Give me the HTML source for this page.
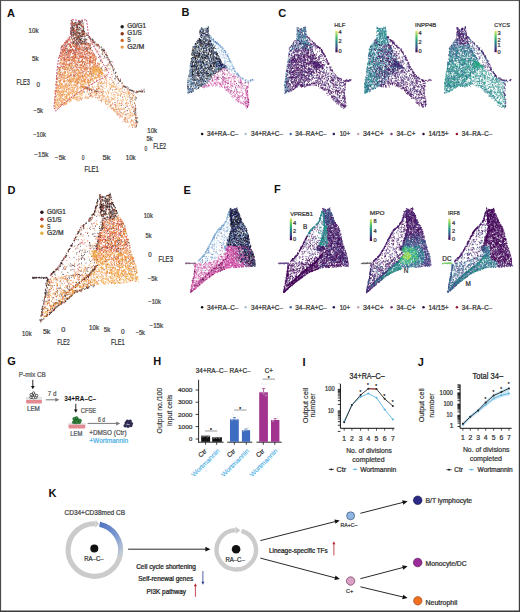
<!DOCTYPE html>
<html><head><meta charset="utf-8"><style>
html,body{margin:0;padding:0;background:#fff;width:520px;height:612px;overflow:hidden}
svg{display:block;font-family:"Liberation Sans", sans-serif}
</style></head><body>
<svg width="520" height="612" viewBox="0 0 520 612">
<rect x="0" y="0" width="520" height="612" fill="#fff"/>
<g fill="none" stroke-width="8" transform="scale(.1)"><path stroke="#3a2626" d="M708 204h8m-7 3h8m102 1h8m-107 4h8m-7 7h8m56-5h8m-6 1h8m-5 4h8m0-8h8m-1 4h8m-7-1h8m5-3h8m-5-1h8m-112 13h8m-4 3h8m15 2h8m-1-5h8m-6 0h8m4 1h8m6-4h8m0 6h8m-7 0h8m5-1h8m-3 0h8m-110 13h8m-5-2h8m10 0h8m-7-2h8m0 5h8m-5-5h8m-3-1h8m-2 0h8m23 3h8m4 0h8m3 2h8m-8 0h8m15-6h8m-114 11h8m0 6h8m6 0h8m0-1h8m0-6h8m-5 7h8m-8-9h8m1 6h8m-6-3h8m2 3h8m-6 1h8m-5-7h8m-5 6h8m-7 1h8m9-6h8m10 0h8m-120 18h8m3-6h8m-1 3h8m3-1h8m0-4h8m2 5h8m-2-2h8m-7 3h8m23 0h8m0-6h8m-4 5h8m-104 11h8m-2-3h8m-3-2h8m7-1h8m13 1h8m0 7h8m-4-6h8m32 2h8m-7 3h8m-3 0h8m1 0h8m-6-6h8m-135 14h8m2 0h8m-4 0h8m-8-4h8m-1 7h8m-5-3h8m21-5h8m-2 7h8m-7-6h8m-6-1h8m-1 3h8m-7 0h8m8 3h8m-6-1h8m-7-1h8m31-1h8m-138 9h8m16 4h8m-8-6h8m-5 4h8m5-2h8m20-3h8m-8 6h8m7 0h8m9-3h8m24 2h8m-7 3h8m-133 4h8m-4-2h8m-6 7h8m-6-7h8m-1 1h8m-6 6h8m-3 1h8m-5 0h8m18-2h8m-5 1h8m-4-4h8m-1 5h8m-5-6h8m-7 3h8m2 0h8m16-5h8m11 6h8m-138 4h8m2 8h8m-3-1h8m-4-5h8m-4 6h8m-5-7h8m11 1h8m4 4h8m10 0h8m0 1h8m4-7h8m2 4h8m-3 4h8m4-4h8m-6-1h8m-7 2h8m-8-1h8m1 4h8m-140 7h8m21 3h8m-7 1h8m2-8h8m-6 0h8m2 6h8m7 1h8m39-3h8m-2-1h8m-8-3h8m-6 5h8m-3-3h8m-4 4h8m-5-2h8m-7 3h8m-146 10h8m-4-7h8m-3 2h8m-6-3h8m3 3h8m-1 4h8m-6-6h8m-5 5h8m3 1h8m5-6h8m-8 3h8m-6 2h8m1-4h8m-2 0h8m-1 5h8m-6 2h8m2 0h8m9-8h8m-4 7h8m1-8h8m6 6h8m-146 7h8m1 1h8m-6 3h8m5-7h8m3 7h8m1-2h8m-7 2h8m0 2h8m-4-8h8m-7 8h8m6-6h8m2 0h8m-8-3h8m-7 6h8m-4-1h8m-8 2h8m-5-6h8m2 1h8m-5 2h8m9-4h8m-3 3h8m-4-3h8m-3 5h8m0 4h8m5-8h8m-3 8h8m-159 2h8m-3 3h8m4 4h8m-6 0h8m-2-8h8m2 7h8m-8-3h8m-2-4h8m5 6h8m15-6h8m1 3h8m9 5h8m-5-4h8m-4-2h8m-6 1h8m0 2h8m-7-4h8m-5 3h8m-4 5h8m-6-7h8m30-2h8m-176 12h8m-7-1h8m-5 7h8m-2-7h8m3 0h8m-5 1h8m9 3h8m5-3h8m3 7h8m-6-1h8m2-3h8m-5-5h8m2 5h8m11-2h8m22 6h8m6-6h8m-4-3h8m-6 4h8m-150 12h8m26-6h8m0 8h8m-1-6h8m-4 0h8m-4 6h8m4-6h8m-6-1h8m-7 4h8m-3-1h8m-2 1h8m-7-2h8m-4-3h8m-2 7h8m-4-3h8m6-3h8m-3 4h8m36 0h8m-3-1h8m-213 12h8m16-6h8m-7 8h8m25 1h8m-7-3h8m1-2h8m-6 1h8m-7 2h8m-2-3h8m0 2h8m-2-1h8m0-2h8m-7-1h8m-3 5h8m-1-5h8m71 3h8m3-4h8m-184 15h8m7 0h8m-4-5h8m1 7h8m-8-2h8m14 1h8m-5 2h8m-5-7h8m1-1h8m-2 0h8m-7 5h8m-1 3h8m4 0h8m-1-6h8m-1-2h8m16 0h8m-2 8h8m37-9h8m0 3h8m8 4h8m-205 7h8m31 1h8m-4 1h8m-7-4h8m-3 7h8m6-8h8m-4 8h8m-7 0h8m-4-4h8m0 1h8m-8-2h8m-5 5h8m-8-7h8m19 0h8m-1 6h8m-4 0h8m5 0h8m-8-8h8m-5 5h8m-1-1h8m28-3h8m-5 1h8m-5 1h8m4 3h8m-269 11h8m75 1h8m1-4h8m24 4h8m5-1h8m-7-3h8m-5-4h8m-3 4h8m-6 0h8m-7-3h8m38 4h8m43-4h8m10 4h8m-6-4h8m-7 3h8m-3-4h8m-215 10h8m3 6h8m15 0h8m-2-2h8m7 0h8m1 2h8m21 2h8m-3-4h8m-7-1h8m-2 1h8m4 1h8m-6-3h8m-4-1h8m72 3h8m12 4h8m-300 6h8m9 2h8m29-1h8m10-5h8m-8 6h8m-3-5h8m-7 8h8m-2-2h8m-1-5h8m6 5h8m-2-1h8m-4-4h8m0 6h8m7-5h8m-7 6h8m-5-7h8m1-2h8m-8 3h8m-6 3h8m6 3h8m8-8h8m13 7h8m-4-7h8m56-1h8m-6 4h8m-4 1h8m0-3h8m-5 0h8m-295 17h8m61-3h8m-4 0h8m-2 1h8m7-2h8m11-1h8m5 2h8m11 2h8m0-5h8m-5 4h8m-8-3h8m-1-3h8m4 8h8m-7-9h8m0 1h8m-3 0h8m-6 6h8m-5 1h8m-5-8h8m19 5h8m11 3h8m38-5h8m-277 10h8m12 1h8m-5 0h8m47 4h8m-2-8h8m-5 1h8m-7-1h8m-3 7h8m2-4h8m10 3h8m40-5h8m4 5h8m16-5h8m6 6h8m54-1h8m-2-4h8m-7 2h8m8 1h8m-366 12h8m9-1h8m56 1h8m66 1h8m7 0h8m96-2h8m60-5h8m-1 0h8m-8 2h8m-7-2h8m-4 7h8m-330 5h8m-4-2h8m-3-1h8m30 0h8m21 6h8m6-2h8m8-4h8m-5 6h8m20 3h8m56-3h8m75-6h8m21 1h8m15 3h8m11 5h8m-404 7h8m89-3h8m76 6h8m37-8h8m14 5h8m17-5h8m13 3h8m79 3h8m6-1h8m-365 11h8m9-4h8m80 3h8m65-4h8m14 3h8m0-2h8m5 6h8m-5-3h8m16 1h8m-7-5h8m-6 1h8m-266 9h8m16 7h8m45-6h8m18-1h8m-2-2h8m5 0h8m22 6h8m35-2h8m3 2h8m9 1h8m2-3h8m131-2h8m-7 0h8m-2 4h8m-7 2h8m2-8h8m-5 6h8m-424 7h8m28 4h8m12-2h8m-6 4h8m13-4h8m-2 2h8m50-2h8m9-5h8m25 2h8m10-1h8m28 3h8m43 5h8m84-8h8m1 1h8m4 4h8m-3-1h8m-6 0h8m-7 3h8m-374 7h8m50-3h8m287 2h8m0-4h8m-386 19h8m-3-5h8m67 4h8m140-3h8m-1-2h8m121 6h8m13-1h8m8 1h8m-390 8h8m43-2h8m14-3h8m20 7h8m13-3h8m85 2h8m3-4h8m106 4h8m-378 2h8m12 3h8m73 0h8m-4 4h8m264-2h8m19-1h8m-2 5h8m-3-2h8m-375 11h8m96-6h8m189 0h8m60 7h8m-5-6h8m-6 6h8m-330 8h8m-4-6h8m247 4h8m26 4h8m-4-7h8m-424 15h8m35-3h8m86 5h8m39-3h8m33-4h8m7 4h8m108-2h8m68 2h8m5-1h8m-5-3h8m-355 10h8m310-1h8m-333 17h8m55-7h8m284 8h8m-5-9h8m4 9h8m-461 3h8m90 3h8m41 0h8m209 3h8m-176 8h8m50-5h8m103 0h8m81 8h8m-7-8h8m-5 3h8m3 0h8m-322 8h8m23 7h8m82-9h8m173 4h8m-262 14h8m103-4h8m134-2h8m2 0h8m-420 8h8m139 6h8m143 3h8m78-6h8m21 4h8m-4-3h8m-426 13h8m368 0h8m32-2h8m-483 8h8m188 0h8m115 1h8m159-3h8m-5 0h8m-422 12h8m14-2h8m277 8h8m104-5h8m-545 12h8m24-5h8m70 5h8m142 0h8m48-1h8m85-1h8m6 0h8m42-1h8m51-2h8m-538 14h8m389 1h8m53-3h8m71 4h8m-2 1h8m-1-8h8m-453 12h8m36 2h8m273-3h8m99 4h8m-256 12h8m13 1h8m221-8h8m-535 18h8m407 1h8m124-6h8m-1 1h8m-592 14h8m348-8h8m210 8h8m-6-7h8m-570 10h8m136 7h8m169-8h8m-3 8h8m61-7h8m-372 9h8m79 2h8m23 6h8m78-4h8m96 4h8m217 0h8m-409 5h8m285-3h8m102 8h8m8-4h8m-7 2h8m-15 10h8m-26 8h8m17-2h8m-605 12h8m566-3h8m24 8h8m-7-2h8m12 2h8m-396 1h8m79 2h8m278 1h8m1 4h8m-1-5h8m-522 10h8m498 5h8m-3-2h8m-2-3h8m-648 12h8m201 2h8m101-2h8m236-2h8m84 7h8m-47 2h8m-595 18h8m90 4h8m108 8h8m14 4h8m3-1h8m129-4h8m22 0h8m219 2h8m-7 6h8m-8-8h8m0 2h8m-7 6h8m3 0h8m7 1h8m-451 6h8m-7-1h8m-7 1h8m10-4h8m4 7h8m-6-7h8m8 4h8m4 3h8m324 1h8m19-7h8m-5 2h8m4-2h8m-417 9h8m-4 0h8m-4 1h8m0 1h8m-8-3h8m-8 4h8m-5 1h8m15 2h8m78-5h8m112 7h8m50 0h8m115-9h8m-420 18h8m13-1h8m-1-2h8m2-2h8m44 5h8m305-8h8m8 9h8m140-7h8m-553 16h8m10 0h8m-4-6h8m29 4h8m161-6h8m166 0h8m-6 1h8m-5 0h8m-3 0h8m-1 6h8m-7 0h8m-7-6h8m1 4h8m81-5h8m7 8h8m-493 5h8m-2 2h8m-5 3h8m-1-5h8m-1-1h8m-5 3h8m1-1h8m336-3h8m4 3h8m-3-3h8m21 6h8m2 2h8m-7-3h8m2-5h8m-8 0h8m0 3h8m-4 1h8m-5-3h8m-3 5h8m-4 2h8m0-2h8m-6-2h8m12-2h8m-610 8h8m92-1h8m17 0h8m39 3h8m312 6h8m9-3h8m5-5h8m-3 1h8m0-2h8m35 0h8m13 0h8m-546 15h8m53-2h8m51-3h8m-145 11h8m311 18h8m81 0h8m32-1h8m-41 20h8m11-2h8m28-5h8m-3 6h8m-52 12h8m26 0h8m3-7h8m-62 13h8m41 6h8m-276 11h8m211 5h8m-167 8h8m188 6h8m-6 6h8m-246 22h8m98-7h8m130 6h8m-94 2h8m57 7h8m-88 8h8m91 11h8m-6 2h8m-197 9h8m175-3h8m4-4h8m-96 16h8m-8 1h8m69 1h8m-4-6h8m-8 3h8m-26 11h8m15 2h8m-156 6h8m138 4h8m-17 4h8m-7 0h8m-105 12h8m89 3h8m1-2h8m-6 8h8m-8 20h8m-8 0h8m-110 13h8m93-6h8m-5 8h8m2-7h8m-22 25h8m1-2h8m-12 15h8m-6-4h8m0-1h8m-10 13h8m1-5h8m-21 8h8m-9 24h8m-12 15h8m-6-6h8m-21 9h8"/><path stroke="#cc4a36" d="M712 207h8m-13 21h8m5 1h8m-7-1h8m76-6h8m-7 4h8m11 1h8m-116 9h8m10-3h8m-2-3h8m-6 8h8m15-1h8m5-6h8m-6 0h8m4 8h8m-92 10h8m28-4h8m10 4h8m-4-6h8m-4 0h8m-5-3h8m23 6h8m-89 12h8m3-2h8m20-4h8m37 0h8m-30 16h8m26-1h8m-7-3h8m-89 7h8m7 1h8m-3 5h8m64-6h8m-78 18h8m31-2h8m12-6h8m-54 15h8m-68 5h8m3 8h8m-4-2h8m-1-1h8m-5-5h8m-7 1h8m2 5h8m73 1h8m-114 4h8m11 7h8m-5-9h8m-3 9h8m61-9h8m-67 10h8m18 2h8m17 3h8m-7 0h8m-120 11h8m-4 0h8m-8-4h8m39 1h8m75-2h8m0 2h8m-148 13h8m11-4h8m0 4h8m30-6h8m-6 1h8m28 7h8m19-1h8m30-1h8m-150 12h8m8-8h8m-4 1h8m61 5h8m-124 12h8m7-8h8m36 1h8m12 6h8m-1-2h8m17-4h8m7 0h8m6 4h8m-124 6h8m6 7h8m12-3h8m-80 14h8m-6-1h8m72-2h8m2-6h8m107 3h8m-6-2h8m-229 10h8m8 7h8m-4-5h8m29 2h8m1 1h8m-4 2h8m108 1h8m-206 1h8m-4 5h8m5 3h8m-4-1h8m25-7h8m10 2h8m-2 2h8m11 1h8m11-1h8m0 0h8m15-3h8m5 8h8m85-3h8m0 0h8m-278 7h8m7 1h8m-8 3h8m-4-5h8m19 0h8m23 2h8m1 1h8m51-2h8m5-3h8m30 0h8m-221 17h8m-1-3h8m-6-4h8m3 2h8m31 4h8m9-3h8m36 0h8m-3 5h8m7-8h8m137 4h8m3 0h8m-299 12h8m-6-4h8m24 6h8m-2 0h8m0-3h8m14-4h8m-7 5h8m-3 2h8m27 1h8m15-7h8m18 4h8m14-4h8m-7 5h8m34-7h8m-7 6h8m-1-3h8m3 1h8m22-3h8m-298 11h8m29-2h8m10 4h8m0 3h8m3-2h8m32-1h8m-2-2h8m16-1h8m2 4h8m18 1h8m-6-1h8m-3 0h8m1-2h8m10-1h8m-3 4h8m-6 1h8m2-6h8m-3-1h8m-5 8h8m-6 1h8m5 0h8m48-9h8m16 3h8m-7 6h8m-7-6h8m-346 14h8m0-6h8m-2 2h8m10 3h8m4-4h8m17 7h8m-7-1h8m-8-4h8m24 0h8m13 5h8m-6-3h8m5-2h8m-7 2h8m-7-2h8m110 0h8m4-2h8m-5 7h8m-8 0h8m41-8h8m15 5h8m-4-5h8m-2 7h8m-4-4h8m-382 13h8m-6-5h8m-7 1h8m-7 1h8m-6 5h8m-6-3h8m36-3h8m18-1h8m6 6h8m-6 0h8m-7-2h8m9-6h8m12 9h8m6-2h8m-8-1h8m-5-4h8m-5-2h8m7 2h8m17 0h8m1 7h8m2-1h8m12-6h8m39 1h8m90 4h8m-391 11h8m31-4h8m3 5h8m-7-8h8m35 2h8m-7-1h8m-2 2h8m-6 0h8m-5 2h8m23-5h8m3 4h8m-3 0h8m-6 4h8m-3-4h8m-2-5h8m36 7h8m13-2h8m-6 2h8m22-6h8m-7 4h8m2 0h8m-1 0h8m-287 13h8m15 1h8m6-9h8m-4 0h8m4 9h8m-7-4h8m19 4h8m72 0h8m-6-6h8m5 4h8m-7-1h8m-3-2h8m-6-4h8m-2 1h8m-7-1h8m-4 9h8m38-9h8m-2 4h8m-3 4h8m24-3h8m89-1h8m-388 9h8m-1 4h8m2-6h8m0 2h8m-5-2h8m10 3h8m8-3h8m2 8h8m6-2h8m4-2h8m-5 1h8m5-5h8m-7 4h8m-7 0h8m-2 0h8m25-5h8m5 1h8m1 4h8m-2-5h8m14 6h8m5-2h8m62-3h8m-3 6h8m-303 4h8m8 6h8m-2 2h8m1-7h8m-6 2h8m-5-4h8m-7 2h8m-5 1h8m37 0h8m-4 4h8m5-4h8m2-3h8m-1 1h8m-6 7h8m-6-3h8m8-3h8m-8 7h8m-7 0h8m-4-1h8m-3-6h8m-6 0h8m19-1h8m-3 0h8m23 1h8m-4 4h8m-5-1h8m2 0h8m16-2h8m-4 5h8m-7-7h8m-8 7h8m16-7h8m19 4h8m-300 9h8m-1-1h8m-6 4h8m-8-1h8m8-5h8m-6 8h8m13-6h8m3 4h8m-5-4h8m-6 1h8m-6-3h8m0 3h8m5-2h8m-7-1h8m-7 2h8m15 6h8m-7-3h8m2 2h8m3-1h8m10-4h8m-6 6h8m2-4h8m41-4h8m6 2h8m-4 6h8m0-4h8m0-4h8m141-1h8m16 9h8m-448 3h8m7 0h8m2-2h8m-3 0h8m7 9h8m16-6h8m-5 6h8m-5-5h8m-4-2h8m5 4h8m-5-3h8m-1 0h8m-2-3h8m14 9h8m-3-2h8m6-1h8m1 1h8m-6-7h8m17 3h8m-1-1h8m-4 0h8m0 1h8m-2 3h8m-5-4h8m9 7h8m-4-7h8m27-1h8m-4 1h8m26 5h8m5 2h8m106-4h8m-449 5h8m-6 1h8m-6 1h8m6 4h8m-5-5h8m15 2h8m-7 1h8m6 5h8m22-4h8m8-4h8m12 4h8m-5-3h8m17 0h8m23 2h8m2-3h8m-3 7h8m16 1h8m12-7h8m9 2h8m-2 1h8m-2-3h8m14-2h8m-7 0h8m5 3h8m-4-1h8m13-1h8m-4 7h8m-331 10h8m5-3h8m-3 2h8m8 0h8m6-4h8m11-3h8m0 2h8m7 6h8m16-8h8m5 2h8m-6 5h8m-5-4h8m-5 1h8m19 3h8m33 1h8m-2-7h8m7 8h8m-2-4h8m-1-4h8m-3 4h8m5-2h8m-7-2h8m45 8h8m-5-9h8m-6 9h8m5-4h8m111-4h8m-468 16h8m15 1h8m4-3h8m0 3h8m15-2h8m-6 1h8m10-5h8m-6-2h8m41 5h8m9-1h8m-7 4h8m18-6h8m5 1h8m13 6h8m5-7h8m14-2h8m13 9h8m5-5h8m-3 3h8m25-4h8m1-1h8m3-2h8m-6 1h8m110 0h8m3 5h8m-482 10h8m-4-4h8m-3-1h8m3 1h8m15 7h8m1-9h8m17 9h8m1-2h8m-4-5h8m28 2h8m-4 3h8m-6-6h8m16 0h8m-2 2h8m6 4h8m7-3h8m-4 1h8m-5 4h8m0-1h8m-5 1h8m-5-1h8m-3-1h8m-2-4h8m-5-3h8m-2 5h8m-8 2h8m-6-6h8m-6 4h8m-1 4h8m1-3h8m1 2h8m34-1h8m-5-3h8m2 5h8m27-7h8m-365 13h8m-5-5h8m26 6h8m-5 3h8m2 0h8m-6-1h8m14-3h8m-6-3h8m-2-2h8m-1 5h8m3-5h8m-2 4h8m-7 5h8m10-4h8m-3-2h8m2 6h8m-8-7h8m5 7h8m1-4h8m-7 2h8m15 2h8m12-6h8m-6 4h8m3-5h8m5 4h8m3 3h8m-6-1h8m8-4h8m31-4h8m-3 6h8m-3-2h8m-7-1h8m-8 4h8m-7-7h8m3 2h8m6 5h8m1-7h8m-6 2h8m13-2h8m-364 15h8m0 4h8m1-1h8m5-4h8m0 0h8m9 4h8m-7 1h8m18-2h8m24-5h8m9 4h8m-2-6h8m-3 0h8m4 2h8m14 6h8m-6-2h8m1-3h8m28 1h8m7-1h8m-3 4h8m3-3h8m-4-3h8m2 2h8m3-1h8m-6 3h8m-5-2h8m2 4h8m-6 0h8m8 2h8m-4-8h8m22 2h8m0 4h8m62-3h8m41 2h8m-453 12h8m0-3h8m-5 1h8m-6-5h8m-5 4h8m-3-2h8m11-1h8m-6 3h8m5 4h8m-7-8h8m-5 2h8m24-1h8m5 5h8m-4-5h8m72 3h8m-7-2h8m41-2h8m24-1h8m-8 9h8m17-3h8m-1-5h8m10 6h8m-1-7h8m109 3h8m-475 9h8m-5 1h8m21-2h8m19 1h8m7 3h8m-4 0h8m-3 3h8m-4-7h8m39 3h8m60 4h8m-5 0h8m-3 1h8m43-4h8m-8 2h8m-4-1h8m5-5h8m-7 1h8m5 2h8m15 2h8m-2-2h8m11 4h8m-7-1h8m125-7h8m-434 12h8m41 2h8m11-3h8m-3 4h8m39-5h8m-6 1h8m19 3h8m-6 1h8m3 2h8m-1 2h8m-8-5h8m-1 2h8m26-1h8m13-1h8m-2-2h8m-7 3h8m-7-2h8m-8 3h8m-6 1h8m-4 1h8m6-1h8m-6-6h8m-8 8h8m11 0h8m-319 8h8m26-5h8m20 6h8m23-3h8m18-3h8m10-2h8m-1 2h8m13-2h8m-7 4h8m-3 1h8m-7-5h8m18 9h8m11-8h8m-4 8h8m-3-8h8m26 8h8m-6-7h8m-2-1h8m-1 3h8m5 5h8m2-6h8m-6 2h8m18-1h8m15 4h8m119-2h8m10-6h8m-527 11h8m8 8h8m-2-4h8m-7 3h8m3-3h8m-6 3h8m53-7h8m-2 3h8m-5-3h8m-5 5h8m-6-2h8m15 2h8m5 3h8m-4-8h8m14 1h8m36 5h8m34 0h8m-3 2h8m-4-7h8m9 6h8m-2 0h8m-7 0h8m22-5h8m-6-3h8m42 8h8m-6-1h8m101-6h8m-504 9h8m7 9h8m5-9h8m9 2h8m-8-2h8m-7 1h8m1 5h8m3 0h8m-6-3h8m6 0h8m-4 6h8m-6-2h8m-3-5h8m69-2h8m-3 6h8m-8-2h8m-3 5h8m17 0h8m4-6h8m0 3h8m21-6h8m0 9h8m43-2h8m18-2h8m1-3h8m0 6h8m1-8h8m-357 17h8m37-1h8m30-3h8m-4-3h8m12 1h8m1 0h8m22 6h8m-7 2h8m6-6h8m-3 0h8m19-1h8m0 3h8m-4 1h8m28-4h8m42 1h8m31 6h8m3 0h8m12-5h8m-1 2h8m73 0h8m46 2h8m-508 7h8m0-1h8m6 3h8m-5-7h8m1 6h8m46-2h8m37 5h8m8-2h8m27 2h8m3-9h8m9 3h8m0 0h8m-5 1h8m31-4h8m13 0h8m20 9h8m-7-3h8m-1 3h8m24-6h8m4 0h8m4 5h8m27-3h8m94-1h8m-548 10h8m-3-1h8m-1 3h8m1 1h8m10-7h8m10 2h8m13 4h8m31-5h8m4 7h8m9-1h8m27 1h8m-7-5h8m10 0h8m3 6h8m17-2h8m9-7h8m0 9h8m1-9h8m-6 3h8m1 2h8m-3 4h8m33-8h8m14 6h8m13-2h8m16 2h8m-1 2h8m-412 9h8m10-7h8m16 3h8m7 5h8m32-7h8m-5 0h8m36 3h8m44-4h8m46 7h8m-3-5h8m28 3h8m-6 1h8m9 0h8m1-5h8m-4 5h8m19-2h8m0-5h8m0 2h8m-8 7h8m17-5h8m101 5h8m-509 2h8m10 8h8m40-3h8m1-4h8m-6-1h8m-6 4h8m74-4h8m26 2h8m31 4h8m20 2h8m5-1h8m7-7h8m44 2h8m11 0h8m-3-3h8m-4 7h8m3 0h8m-7 1h8m9-2h8m22-4h8m80-2h8m-510 17h8m2-5h8m56-2h8m20 7h8m17-7h8m-3 5h8m27 0h8m13-1h8m21 3h8m7 0h8m24-6h8m-1-1h8m28 4h8m36 3h8m54-4h8m50 5h8m-489 6h8m1-1h8m39 5h8m-1-5h8m-6 3h8m20 1h8m52-6h8m-1 7h8m6-8h8m52 9h8m6-7h8m6 3h8m18 1h8m34 3h8m7-7h8m25-2h8m6 2h8m64-2h8m-402 16h8m63-5h8m2 8h8m3-5h8m1-1h8m28-3h8m-8 8h8m9-1h8m0 2h8m-1-8h8m2-1h8m23 1h8m137 6h8m-6-1h8m-3 2h8m-423 2h8m16 2h8m126-1h8m-6 5h8m13-2h8m15-4h8m16 4h8m56-1h8m-4 3h8m-5-5h8m0 1h8m22 5h8m53-3h8m5-4h8m10 4h8m97-4h8m-553 13h8m5 0h8m-8 3h8m3 1h8m-2 1h8m78 1h8m-7-7h8m27 7h8m3-5h8m12-2h8m83-2h8m36 5h8m97 1h8m93-2h8m-530 11h8m78 2h8m3-1h8m-1 3h8m-2-3h8m7 2h8m13-1h8m-3 0h8m-6-2h8m119-5h8m0 8h8m85-2h8m16 0h8m-406 10h8m11 2h8m46-5h8m107 0h8m10 0h8m2-1h8m3 2h8m-8 3h8m8-5h8m66 2h8m54-1h8m183-2h8m-611 11h8m-4 3h8m10-5h8m18 1h8m-5 2h8m-4 6h8m51-7h8m1-2h8m-1 9h8m95-5h8m148 1h8m94 3h8m32-3h8m-4 2h8m57-6h8m-606 11h8m58-2h8m4 3h8m130 2h8m236-1h8m146 0h8m11 5h8m-603 2h8m3 1h8m50 3h8m7 3h8m30-3h8m29-4h8m13 7h8m2-5h8m29-1h8m10 1h8m16 3h8m296-4h8m-591 13h8m-1-1h8m28-1h8m-1 5h8m22-1h8m16 2h8m61-9h8m53 6h8m2-4h8m38 0h8m68 7h8m-2-5h8m143-1h8m-493 13h8m75-2h8m-5 2h8m4-6h8m42 5h8m20-4h8m3 5h8m15 0h8m189 2h8m-458 10h8m191-5h8m77 4h8m6-2h8m-236 14h8m356-2h8m135 2h8m37-1h8m0-7h8m-617 11h8m-4 5h8m144 2h8m-1-8h8m202-1h8m-428 19h8m237-9h8m411 5h8m-423 11h8m195 0h8m132 3h8m85-6h8m-484 10h8m43-1h8m-5 5h8m-5-7h8m-7 9h8m10-5h8m-6 3h8m-5 1h8m13 2h8m3 7h8m-7-1h8m98 1h8m264 2h8m-607 7h8m205-1h8m3 3h8m-6-2h8m20-3h8m5-2h8m300 7h8m-359 5h8m27 6h8m10-7h8m475 2h8m-845 12h8m236 2h8m32-7h8m91 2h8m13 5h8m1 0h8m214-4h8m93 0h8m-6-3h8m27 0h8m50 2h8m-448 13h8m258-2h8m101 0h8m11-4h8m-93 13h8m16 2h8m42-5h8m-347 18h8m-133 11h8m-6-4h8m2 4h8m-319 2h8m284 3h8m142-3h8m-337 10h8m232 2h8m8 2h8m245 2h8m-7-7h8m-108 18h8m-4-3h8m-499 11h8m1-1h8m25 1h8m72-2h8m41-1h8m237-2h8m5 10h8m-60 16h8m32 1h8m113-8h8m36 8h8m-638 10h8m497-7h8m-47 16h8m63-1h8m170-5h8m-705 14h8m-1 2h8m454-3h8m59 4h8m2-4h8m60-3h8m92 5h8m24 5h8m-90 15h8m46 10h8m15-3h8m-1 4h8m-249 10h8m-1-3h8m157 4h8m58-3h8m-227 5h8m38 8h8m26-6h8m-53 24h8m168 1h8m-202 3h8m21 14h8m173-2h8m-106 14h8m-92 8h8m13 0h8m113-1h8m0 5h8m20-1h8m-164 12h8m10-3h8m71 7h8m68 2h8m-16 10h8m-114 7h8m89-2h8m-91 19h8m35-5h8m-79 9h8m3 6h8m85 5h8m0 7h8m4 10h8m-18 11h8m-44 23h8"/><path stroke="#e8783a" d="M718 233h8m12-1h8m-12 13h8m85 4h8m-17 5h8m2-2h8m-120 36h8m44-1h8m-33 4h8m-4 1h8m28 2h8m-45 7h8m-33 11h8m79 3h8m11 9h8m5 4h8m-84 4h8m8-1h8m14 7h8m-96 4h8m51 3h8m58-1h8m-3 5h8m-100 15h8m5 5h8m24-6h8m-114 8h8m-6 4h8m89-5h8m-123 13h8m-2 12h8m19 2h8m74 7h8m-139 13h8m31-7h8m-59 16h8m-3-4h8m5 1h8m182 2h8m-191 11h8m57 3h8m74-8h8m-180 12h8m41 2h8m-8-4h8m17 2h8m-6 4h8m6-6h8m-7 4h8m71-3h8m18 5h8m25-4h8m-1 5h8m-268 11h8m0-3h8m102-3h8m63 4h8m4-7h8m27 6h8m14-5h8m-7 8h8m-190 5h8m2 2h8m-3-4h8m53 3h8m39-3h8m-207 17h8m47-8h8m65 4h8m24 2h8m29-1h8m52 3h8m15-1h8m-259 4h8m62 4h8m27-6h8m13 8h8m-2-7h8m3 8h8m3-7h8m7 1h8m9 0h8m-199 14h8m38-4h8m-3-3h8m28 9h8m29-1h8m-8-6h8m13 1h8m4-1h8m48 7h8m2-8h8m-260 13h8m4-2h8m50-2h8m17 6h8m86-5h8m94-1h8m39 2h8m7 6h8m-375 9h8m24-2h8m5 2h8m-7-7h8m-6 0h8m135 0h8m30 7h8m1 2h8m15-4h8m11 0h8m7-4h8m78 8h8m-370 9h8m-5-4h8m-5 0h8m51-1h8m-5 4h8m37 1h8m25-2h8m47-4h8m8 7h8m1-9h8m14 8h8m40-7h8m35 0h8m-358 15h8m-5 3h8m13-3h8m28 0h8m19-2h8m16 4h8m36-7h8m20 8h8m8-5h8m-6 1h8m-7-2h8m62 4h8m-5-7h8m-5 2h8m-289 8h8m53 8h8m7-2h8m5-5h8m39 7h8m2-4h8m2 1h8m-4-2h8m-1 2h8m20-1h8m83 3h8m-2-6h8m-3 0h8m17 1h8m-319 10h8m9 4h8m1-5h8m10 4h8m5 4h8m54-5h8m1 1h8m2-3h8m34 3h8m45 3h8m46-1h8m9-7h8m-4 5h8m3-1h8m-352 12h8m7-2h8m-7 3h8m-6-7h8m-8 6h8m35 3h8m69-3h8m61-3h8m4 0h8m3 0h8m24-3h8m22 7h8m10-1h8m7-3h8m6 1h8m-8-4h8m6 9h8m-364 2h8m17 2h8m4 0h8m13 5h8m43 1h8m1-9h8m-8 0h8m-7 0h8m16 7h8m-3-4h8m5 5h8m106-3h8m33-2h8m13 3h8m8-4h8m-346 14h8m71-2h8m36 1h8m4 3h8m20 0h8m-7-8h8m14 5h8m19-3h8m32 7h8m10-3h8m16 2h8m18-8h8m-5 5h8m-334 12h8m-5 1h8m44-2h8m1-1h8m9 2h8m-8-6h8m9 2h8m-2 5h8m-7-3h8m-6-2h8m6 5h8m3-6h8m40 5h8m21-1h8m2 3h8m15-7h8m3 2h8m-4 1h8m31-5h8m32 3h8m-6 4h8m0-1h8m-7-2h8m-364 9h8m-1-1h8m-4-2h8m-1 4h8m4 4h8m15-2h8m16 3h8m-7-5h8m-4 2h8m25-1h8m-6-1h8m-8 1h8m-5 2h8m-6-4h8m-5 5h8m-5-6h8m11 6h8m2 0h8m0-1h8m87-3h8m26-3h8m2 0h8m-4 8h8m1-3h8m11-2h8m-1-2h8m0 4h8m-323 4h8m2 4h8m0 2h8m3 3h8m-7-8h8m4 1h8m54 4h8m-4-4h8m3-2h8m17 3h8m15 1h8m5-4h8m-7 7h8m-5-4h8m21-1h8m73 6h8m19-4h8m52 4h8m-422 7h8m-3-3h8m21 0h8m-4 1h8m-6-2h8m14 8h8m72-4h8m3 3h8m12-6h8m1 5h8m-8 0h8m34-1h8m18-4h8m12 6h8m20 1h8m33-3h8m-356 7h8m12-2h8m5 6h8m16-7h8m4 6h8m38 0h8m5-2h8m93-2h8m41 6h8m1-8h8m3 9h8m7-8h8m37 3h8m23 5h8m0 0h8m-1-6h8m-380 12h8m16-2h8m9 1h8m2 3h8m10-3h8m-8 1h8m2 4h8m39-2h8m-1-3h8m33 3h8m2-1h8m26-3h8m95 6h8m-6-6h8m24 1h8m91-1h8m-432 12h8m27-3h8m19-2h8m-3 7h8m9 0h8m67-2h8m-5-4h8m10 7h8m-5-4h8m19 0h8m54 5h8m6 0h8m18-3h8m114-4h8m-465 12h8m4 5h8m-7-1h8m14-6h8m7 7h8m24-6h8m35 6h8m167-7h8m10 2h8m113 0h8m-471 7h8m36 3h8m5-3h8m-8 8h8m-2-7h8m35 4h8m49-3h8m18 6h8m-2-4h8m-5 1h8m-5-1h8m-7 3h8m46-7h8m-5 8h8m14-3h8m-8-6h8m30 1h8m6 6h8m-2-6h8m7 1h8m10 4h8m-342 7h8m-6-1h8m15 7h8m10 0h8m12-6h8m-4 6h8m38-8h8m40 8h8m23-4h8m13-2h8m3 2h8m-6 1h8m1-6h8m27 1h8m8 8h8m29-9h8m2 8h8m-358 2h8m2 9h8m1-5h8m-4 0h8m11 1h8m8 4h8m17-3h8m7-3h8m35 1h8m3 1h8m15-3h8m-6 0h8m28 7h8m-5-4h8m-6 2h8m4 1h8m39-7h8m-6 5h8m-5-5h8m14 1h8m18 3h8m1 4h8m14-4h8m0 4h8m-6 0h8m-267 10h8m9-6h8m0 3h8m6 0h8m-6-3h8m9 1h8m92 5h8m-1-9h8m11 4h8m-5-1h8m-5-1h8m5 1h8m-5 4h8m4-3h8m21 5h8m-4-4h8m0 1h8m-2-4h8m26-2h8m-449 18h8m109-6h8m1-2h8m53 2h8m110 0h8m9 3h8m8 3h8m-7-6h8m21-1h8m8 8h8m4-2h8m2-4h8m-8 6h8m7-1h8m-447 5h8m28 2h8m14 3h8m-2-1h8m59 0h8m63-6h8m0 3h8m2 4h8m11-4h8m90-4h8m19 1h8m-3 1h8m21 4h8m4-1h8m-6-4h8m3 3h8m-1-2h8m-442 9h8m4 2h8m28 5h8m4-5h8m-5-2h8m-2 8h8m-2-8h8m25 3h8m8-3h8m67 7h8m10-6h8m9-2h8m30 3h8m-8 5h8m-6-4h8m6-3h8m18 4h8m-6 1h8m0-4h8m16-1h8m-5 3h8m-3-3h8m50 0h8m-7 6h8m0-2h8m19 4h8m-464 4h8m107-2h8m15-1h8m-1 7h8m33-4h8m38 4h8m16-3h8m57 2h8m18-6h8m4 3h8m27 5h8m-5-6h8m12 4h8m-388 12h8m12-5h8m-6 4h8m1-7h8m-8 1h8m90 5h8m-8 3h8m19-1h8m-1-2h8m-7-2h8m-4-3h8m-1 6h8m-2-6h8m17 5h8m22-5h8m-7 7h8m-7-8h8m-3 5h8m17-5h8m44 6h8m-7-6h8m50 5h8m-1-2h8m40 1h8m-409 6h8m31 5h8m3 2h8m18 0h8m7 0h8m1-6h8m-7 1h8m40 2h8m-5 2h8m0 3h8m2 0h8m3-3h8m1 3h8m-3-6h8m-1-2h8m-2 8h8m32-6h8m10 0h8m17 4h8m43-7h8m13 6h8m3-4h8m48-1h8m42 7h8m-516 2h8m11 1h8m6 5h8m7 1h8m-4 0h8m-2 0h8m-7-2h8m-6 1h8m63-1h8m14 4h8m4-7h8m-1 4h8m-4 1h8m27-4h8m-6 2h8m20-1h8m1 1h8m73-1h8m0-4h8m5 9h8m-4-7h8m10 2h8m-4-2h8m-430 10h8m5 1h8m5 1h8m-6 1h8m-7-4h8m46 3h8m49 5h8m7-5h8m2-3h8m21 8h8m-2-6h8m21-3h8m2 8h8m5-4h8m21 0h8m7-3h8m-7 8h8m14-8h8m13 7h8m-5-8h8m3 5h8m11-2h8m15-3h8m24 3h8m21 6h8m79 0h8m-558 7h8m3-5h8m58 1h8m42 7h8m1 0h8m8-9h8m12 2h8m-7-2h8m11 9h8m1 0h8m0-3h8m1-2h8m2-1h8m45-1h8m-4 5h8m21-4h8m15 3h8m-5 0h8m-1-1h8m2 0h8m126-2h8m32 4h8m-510 12h8m87-8h8m-1-1h8m3 9h8m4-4h8m10-2h8m11 1h8m2 0h8m51 5h8m9-5h8m-8 3h8m1-6h8m15 8h8m0 0h8m-7-7h8m-7-1h8m-4 7h8m7-8h8m13 0h8m-3 9h8m66-8h8m54 3h8m123 4h8m-610 10h8m3-4h8m19-3h8m2 7h8m-5-2h8m-6-3h8m1 4h8m17-5h8m11 1h8m-4-3h8m-7 4h8m5 1h8m26 0h8m-8-2h8m3 0h8m-8 0h8m40-1h8m10 3h8m1 0h8m-2-4h8m-7 4h8m23 0h8m66 3h8m58-3h8m114 0h8m-550 6h8m88 3h8m12-2h8m20 1h8m-3 5h8m1-6h8m4 4h8m9 0h8m20-6h8m37 9h8m-7-6h8m40 1h8m68 1h8m24-1h8m44 4h8m57-4h8m-536 12h8m-1-3h8m43 4h8m29-7h8m62 1h8m-4 2h8m-6 2h8m22-1h8m69 4h8m38-2h8m71-4h8m-6-2h8m47 7h8m18-6h8m42 2h8m-591 9h8m-3 0h8m1 0h8m-2 7h8m29-6h8m22-1h8m6 1h8m-1-3h8m31 3h8m33 0h8m7 1h8m39-3h8m8 5h8m-3-2h8m3 4h8m15-1h8m17-4h8m32 0h8m39 5h8m114-4h8m-528 14h8m-2-3h8m-5 2h8m27-6h8m28 5h8m-6 0h8m4 2h8m-6-6h8m6 7h8m0-2h8m14-6h8m9 0h8m-1 7h8m10-1h8m118-1h8m0-5h8m110 7h8m120 0h8m-567 9h8m45-6h8m2 0h8m4 5h8m10 2h8m91-5h8m24 6h8m-4-8h8m6-1h8m13 1h8m8 4h8m62 2h8m54-2h8m139 4h8m76-3h8m-651 11h8m-2-5h8m-4-1h8m10-1h8m28 9h8m1-8h8m9 2h8m44 5h8m-5 1h8m-4-6h8m13 3h8m-2-5h8m58-1h8m98 4h8m57 5h8m34-3h8m187-6h8m-667 19h8m20-4h8m-7 3h8m2-6h8m-8-2h8m21 8h8m2 1h8m34-2h8m-5-6h8m39 0h8m25 3h8m29 3h8m24-5h8m-6 0h8m-7 0h8m58 4h8m51-1h8m8-3h8m-6-1h8m28-1h8m72 2h8m101 4h8m-574 6h8m12 4h8m10-6h8m-5 0h8m-3 2h8m7-1h8m29 8h8m18-7h8m158 2h8m31 0h8m-1 1h8m37 3h8m114-2h8m-3-2h8m-3-3h8m4 0h8m103 3h8m-738 14h8m14-2h8m1-3h8m-4 4h8m-6-4h8m71 0h8m43 4h8m5-1h8m-2-2h8m24 1h8m28 2h8m199-6h8m260 2h8m-743 16h8m4-8h8m-5 8h8m-4-8h8m-6 1h8m4 0h8m14-2h8m2 4h8m4-3h8m-1 8h8m-5-2h8m-5 0h8m7-6h8m42 6h8m19 0h8m-2 0h8m27-1h8m49-4h8m125 1h8m10-2h8m37 2h8m0 6h8m-3-3h8m-7-5h8m35-1h8m-8 4h8m199 3h8m-719 3h8m-4 5h8m-4 2h8m7-3h8m-1 5h8m17-9h8m28 1h8m28 8h8m8-9h8m13 1h8m-5-1h8m25 1h8m12 0h8m2 7h8m52-8h8m43 9h8m-5-9h8m-6 5h8m13 4h8m110-1h8m19 1h8m35-3h8m15-4h8m73 5h8m-2-3h8m37-1h8m4 1h8m-4 5h8m-753 1h8m40 4h8m23 5h8m34-9h8m18 2h8m13 5h8m-4 0h8m22 1h8m0-7h8m48 0h8m134 0h8m26 1h8m159-2h8m150 9h8m-756 5h8m-2-1h8m10 6h8m3-3h8m1-1h8m0-2h8m-1-2h8m3 2h8m-5 6h8m33-2h8m-8-6h8m-8 4h8m49-3h8m-5 3h8m20 1h8m120-4h8m6 7h8m29-8h8m6 2h8m87-2h8m67 5h8m39 3h8m14-5h8m2-4h8m16 6h8m75 1h8m-773 8h8m26-3h8m14 2h8m-4-4h8m-2 8h8m-8-8h8m34 2h8m-5 2h8m46-1h8m-2-1h8m10-1h8m155 3h8m20-2h8m10 4h8m-2-6h8m14 8h8m13-6h8m4 2h8m147-3h8m150 3h8m-3 5h8m-786 9h8m-2-6h8m33 6h8m9-3h8m32 2h8m-5-3h8m67 3h8m28 2h8m5-3h8m55 2h8m37-5h8m20 4h8m64-3h8m31 0h8m-495 6h8m45 6h8m-4 3h8m-3-5h8m33-1h8m4 3h8m23 0h8m41-1h8m7 1h8m2 2h8m31-2h8m36 2h8m21 0h8m102 1h8m-3-3h8m16 0h8m51-4h8m62 3h8m134 2h8m10-3h8m-722 15h8m22-3h8m2 2h8m50 1h8m79 0h8m5-9h8m6 8h8m0 0h8m1-8h8m16 3h8m24-1h8m92-2h8m185 6h8m146-3h8m-783 14h8m10 1h8m-4-4h8m18 1h8m13 3h8m48-7h8m23 1h8m98 6h8m198-5h8m2-1h8m46 6h8m-2-3h8m244-2h8m-796 7h8m18 7h8m5-7h8m-5 0h8m15 4h8m10 4h8m-5-6h8m62 5h8m50-4h8m16 5h8m200-4h8m2-3h8m-8 6h8m-4-6h8m45 2h8m34 0h8m55 5h8m85 0h8m28-8h8m21 5h8m-789 13h8m-3-7h8m11 0h8m34 4h8m-6-4h8m77 0h8m592 6h8m-738 11h8m38-2h8m3-1h8m-6 3h8m2-1h8m11 2h8m21-9h8m-87 17h8m3-4h8m29 0h8m-8 5h8m510-7h8m11 4h8m-2 0h8m5-1h8m33-2h8m1 1h8m13 2h8m52-3h8m-770 9h8m8 4h8m26-3h8m7-1h8m3 1h8m451 5h8m3-4h8m116-3h8m-690 11h8m-7 2h8m-2 4h8m11 0h8m6-5h8m16 0h8m464-2h8m-8 1h8m36 7h8m-1-5h8m-8 2h8m132-2h8m-761 12h8m32 1h8m-7 2h8m12-5h8m488-1h8m50 4h8m147 2h8m-767 5h8m-4 6h8m9-1h8m549 1h8m11-5h8m-8 4h8m161-4h8m-4 0h8m-212 8h8m56 0h8m96 2h8m40 0h8m-211 13h8m2 0h8m22-4h8m38 0h8m0 1h8m-104 13h8m5-6h8m144 0h8m28 1h8m-145 14h8m-8 3h8m44-8h8m-6 7h8m40 0h8m-128 2h8m115 7h8m-3-3h8m-126 12h8m30 3h8m-8-1h8m37-2h8m2-2h8m36 1h8m-165 6h8m-5 0h8m-1 3h8m10 0h8m-4 13h8m7 2h8m35-7h8m22 3h8m-102 23h8m43-7h8m-4 0h8m1 3h8m-29 24h8m-1-3h8m23-5h8m-43 10h8m6 2h8m49 3h8m-93 10h8m64 2h8m9 0h8m-6 1h8m-60 5h8m5 1h8m48-3h8m7 12h8m-42 13h8m6 2h8m-7-8h8m1 6h8m-53 13h8m15-5h8m-6 5h8m16-1h8m-64 11h8"/><path stroke="#f4ab58" d="M853 346h8m17 53h8m19 19h8m-1 11h8m-6 17h8m36-2h8m13 36h8m31 27h8m-241 16h8m91 15h8m133-5h8m-7 18h8m-291 10h8m9 17h8m49-4h8m119 0h8m-187 12h8m3-1h8m112 3h8m86-6h8m-326 12h8m26 4h8m30-3h8m92-4h8m42 6h8m-291 6h8m2 3h8m92 1h8m24-7h8m94 8h8m39-4h8m-307 12h8m220 1h8m87 1h8m-348 10h8m190-1h8m13-1h8m27-4h8m10 6h8m25-5h8m23 4h8m21 0h8m-347 3h8m-1 6h8m-6-6h8m-3 2h8m34 6h8m185-3h8m66 0h8m42 4h8m17-8h8m-415 10h8m41 0h8m53 8h8m24-8h8m69 8h8m151-4h8m-3 0h8m-333 10h8m9-4h8m-6 3h8m13-2h8m10 5h8m-3 0h8m53-4h8m63 5h8m81-4h8m23 0h8m-382 9h8m75 5h8m6-4h8m5 5h8m13-5h8m4 0h8m-6-3h8m20 6h8m12 1h8m13-7h8m20 1h8m40 1h8m24 6h8m-4 0h8m1-3h8m5-3h8m-5-2h8m32 8h8m-373 8h8m13 2h8m0-9h8m11 6h8m139 0h8m-1-3h8m52 0h8m6-3h8m2 8h8m-4-6h8m11-2h8m-7 6h8m-4 2h8m-1-5h8m-1 1h8m0 1h8m-3-3h8m7 4h8m-6 0h8m6 3h8m-422 6h8m2 2h8m5-3h8m11-2h8m45 0h8m-6-2h8m11 4h8m91 2h8m4-3h8m7 2h8m-8-2h8m17 3h8m76 1h8m-7 1h8m-7-8h8m-7 7h8m-8-2h8m-5-1h8m-5 4h8m-2-5h8m-1 3h8m7-1h8m-8 1h8m-1 2h8m-1 0h8m5-7h8m-7 7h8m62-2h8m19-6h8m19 7h8m-548 3h8m1 7h8m-4 0h8m29-4h8m-5-3h8m17 7h8m-6-5h8m5 1h8m-1 5h8m-8 0h8m40-6h8m7 5h8m-4-3h8m0 2h8m-4 0h8m42-6h8m68 9h8m-3 0h8m19-3h8m-5-3h8m-8 2h8m-7-3h8m0-1h8m0 4h8m4-1h8m2-4h8m-2 9h8m6-5h8m48-2h8m11 4h8m-394 11h8m76-3h8m1-1h8m14 6h8m16-4h8m28 4h8m0-6h8m-1-3h8m-7 1h8m45 2h8m-1 6h8m12-6h8m-7 1h8m-5 1h8m-6 3h8m0-8h8m-3 6h8m-7-1h8m-7 0h8m-6-4h8m-5 1h8m-7 7h8m-1-8h8m6 5h8m-3-5h8m1 3h8m-8 5h8m32-1h8m-476 6h8m1 0h8m17-2h8m-3 6h8m17-3h8m2 2h8m24 1h8m40 1h8m-4-5h8m8 1h8m16-2h8m11 2h8m90-1h8m16 4h8m1 1h8m11 0h8m-5-6h8m20 3h8m-6-2h8m-4 1h8m-6-2h8m-7 4h8m16-3h8m93 1h8m-534 9h8m3 4h8m32-3h8m26-1h8m-6-1h8m-7-1h8m4 3h8m2-4h8m-1 7h8m-2-4h8m5 3h8m40-2h8m6-2h8m-6 6h8m-4 0h8m12-1h8m38 0h8m29-6h8m-6 4h8m-7-3h8m27 1h8m2-4h8m10 2h8m-1-1h8m16 2h8m-5-3h8m-1 5h8m14 1h8m-454 5h8m-2 3h8m0 1h8m50 1h8m11-3h8m5 3h8m12-1h8m22-2h8m4 5h8m44 0h8m64-1h8m17 1h8m8-1h8m12-6h8m5 2h8m-5-2h8m-2 4h8m4 1h8m-5 1h8m14 0h8m-1-6h8m14 8h8m-8-1h8m-8-4h8m-5 0h8m-453 13h8m13 2h8m-7-4h8m24 4h8m32-2h8m-6 1h8m6-6h8m50 2h8m9-2h8m9 4h8m-3 0h8m16-1h8m37 0h8m-1-1h8m0 3h8m5-2h8m-6 3h8m10-6h8m13-2h8m20 6h8m11-6h8m48 3h8m21 2h8m-3 4h8m55-3h8m-550 12h8m17-3h8m-1 0h8m8-4h8m11 0h8m2 5h8m2-2h8m3-4h8m12 3h8m66 5h8m5-6h8m0 4h8m3-6h8m2 2h8m-4 3h8m2-3h8m3 0h8m0 0h8m-2 0h8m22-2h8m-3 0h8m-7 7h8m1-5h8m9 5h8m4-2h8m23 0h8m19-4h8m5 6h8m17-3h8m4-2h8m1 4h8m-461 6h8m-7 6h8m47 0h8m-8-6h8m-2 0h8m-7-2h8m18 2h8m-1 6h8m9-5h8m41 0h8m32-1h8m43 0h8m-8 5h8m8-6h8m2 3h8m1-1h8m3-1h8m7 6h8m7-7h8m-8 3h8m5 0h8m39 1h8m1-2h8m-7 0h8m33 0h8m20 0h8m-495 15h8m38-2h8m-1 1h8m7-5h8m17 6h8m39-1h8m-1-1h8m11-4h8m22-1h8m7 7h8m-1-8h8m32 7h8m-3 1h8m31-7h8m30 5h8m29 0h8m-4-4h8m-3 0h8m1 3h8m2-3h8m3 1h8m1-3h8m161 3h8m-608 15h8m31 1h8m-7-5h8m25-2h8m18 4h8m23-5h8m12 5h8m3 2h8m-4-1h8m3 2h8m-3-3h8m7 3h8m-7-7h8m-4 2h8m-4 4h8m-4-2h8m-4-5h8m15 3h8m-7-3h8m-6 1h8m12-1h8m0 8h8m61-7h8m-2-1h8m12 0h8m-2 7h8m5-1h8m-6-4h8m0 3h8m-5 1h8m35 0h8m-1-6h8m40 5h8m-5-6h8m-5 2h8m-498 8h8m34 9h8m0-2h8m3-1h8m59-6h8m-8 3h8m2-1h8m3 7h8m1-4h8m-4 1h8m-1-5h8m6-1h8m-4 9h8m13-5h8m8-3h8m-6 6h8m27-5h8m1 2h8m0 0h8m-2 3h8m75-5h8m15-2h8m19 7h8m56-7h8m-481 13h8m-4 6h8m24-2h8m11-2h8m-5-5h8m-5 8h8m15 0h8m-7 0h8m-2-8h8m-8 6h8m-3-2h8m-5-3h8m19-1h8m-5 5h8m0-5h8m7 1h8m-6 3h8m26 5h8m-1-6h8m-7 6h8m5-3h8m-3-5h8m6-1h8m-2 8h8m3 1h8m-7-5h8m-7-1h8m18 4h8m12 2h8m-3 0h8m25-6h8m12-1h8m27-2h8m74 0h8m102 3h8m-586 10h8m-7 0h8m94 0h8m-6-3h8m11 6h8m-5 2h8m-6-2h8m-1 3h8m-5-2h8m19-1h8m-2-2h8m1 1h8m-6 1h8m5-5h8m-7 7h8m23-1h8m-7-6h8m-4 5h8m-7-3h8m5 4h8m-4 2h8m-7-5h8m0-4h8m9 2h8m-6 7h8m12-9h8m-4 9h8m-1-2h8m-5-5h8m-1-1h8m1 6h8m11-6h8m-3 4h8m52 4h8m73-7h8m-518 14h8m-5 2h8m1-8h8m12 4h8m0-2h8m-1 7h8m19-6h8m-7-1h8m29 7h8m-6-1h8m20-4h8m-6 1h8m-6 3h8m-4-1h8m31-6h8m-4 3h8m-6-3h8m12 2h8m7 0h8m9 6h8m26-1h8m-5-1h8m-4-1h8m-4 3h8m4-4h8m9 3h8m7-1h8m-8-6h8m-3 2h8m63 6h8m12-7h8m-4 4h8m1 1h8m3-3h8m26 1h8m28-5h8m-527 10h8m19 3h8m2 5h8m6-3h8m53 4h8m13-2h8m50-3h8m-4 4h8m8-5h8m7-3h8m-7 1h8m-1 4h8m11-5h8m2 5h8m8 0h8m14-5h8m11 8h8m90-1h8m6-1h8m-4 0h8m-7 0h8m16-2h8m-2 1h8m-6-3h8m1 0h8m57 6h8m13-1h8m-1-1h8m73 3h8m-675 5h8m-3 5h8m12 0h8m21 0h8m1-7h8m-3 6h8m53-5h8m3-2h8m-7 7h8m10-1h8m7-1h8m3 2h8m4-2h8m-2 1h8m39-7h8m-1 1h8m12 6h8m-5 0h8m-6-6h8m5 5h8m24-4h8m-3 0h8m6 0h8m68-2h8m34 0h8m39 1h8m30 0h8m32 4h8m-584 9h8m3 4h8m16-3h8m13 1h8m-5 2h8m-4-2h8m5 2h8m-4-3h8m9 0h8m-1-1h8m-5-3h8m-1 2h8m24 4h8m-4 0h8m18-5h8m0 2h8m3-2h8m8-1h8m30 4h8m-5 3h8m-8-5h8m88 6h8m58 0h8m49-5h8m15-3h8m30 0h8m0-1h8m-3 5h8m7-2h8m23 0h8m21 3h8m-606 4h8m-4 7h8m-6-5h8m-6-2h8m-5 5h8m-7 1h8m4 3h8m-5-9h8m-7 6h8m12 3h8m30 0h8m23-1h8m-4 1h8m35-9h8m-2 6h8m-2-3h8m-7-2h8m29 7h8m-5 0h8m18-1h8m-6-4h8m-6 5h8m-3-5h8m18 1h8m64-1h8m21 3h8m-1-1h8m35 1h8m33-3h8m-6 6h8m-3-2h8m17 1h8m11 0h8m2-2h8m-6-6h8m-5 1h8m7 5h8m17 0h8m-609 13h8m8-2h8m26-3h8m-8-1h8m-4 1h8m1 2h8m-7-3h8m-2 6h8m6 0h8m0-9h8m-2 7h8m1-6h8m-8-1h8m11 2h8m10 3h8m8-3h8m-5 0h8m7 1h8m33-3h8m1 5h8m0 2h8m-3-3h8m4 0h8m-2-3h8m0 6h8m0-7h8m11 7h8m-5-5h8m23-2h8m34 5h8m13-5h8m25 4h8m109-2h8m0-1h8m6-1h8m8 0h8m2 4h8m17 1h8m-623 8h8m1 0h8m0 3h8m28-3h8m-6 0h8m25-2h8m5 2h8m1 5h8m10-4h8m-4 3h8m25 1h8m2-2h8m-6-2h8m16 0h8m10 3h8m1-7h8m5 0h8m-3 5h8m28 2h8m-8-4h8m3-3h8m5 7h8m24-2h8m2 2h8m44 0h8m3 2h8m45 0h8m10-5h8m53-4h8m68 8h8m9-5h8m-3 4h8m-651 11h8m7 0h8m0-5h8m27 5h8m-6 1h8m60 0h8m20-6h8m-7 5h8m1-4h8m-8 5h8m35-8h8m4 6h8m22 2h8m26-7h8m3 2h8m3 5h8m26-6h8m91 0h8m-3 1h8m73 2h8m23 1h8m30 0h8m16-3h8m3 4h8m17-2h8m-676 6h8m4 7h8m7 0h8m-5-9h8m28 0h8m7 6h8m-6 2h8m7-5h8m29 3h8m14-5h8m-7 2h8m1 3h8m6-1h8m34-1h8m20 1h8m2-1h8m12 5h8m62-2h8m45 0h8m19-5h8m106 6h8m82 1h8m24-6h8m-671 7h8m-7 7h8m7-3h8m-7-3h8m28 2h8m-2 4h8m-5 0h8m5-2h8m10-2h8m-6 3h8m-5-3h8m-3 0h8m-5 5h8m-4-4h8m-8 4h8m16-4h8m32 4h8m-5-4h8m-5 4h8m9-5h8m-3 1h8m1-4h8m-1 8h8m11 1h8m6-4h8m19-1h8m-5 0h8m-6-3h8m105 7h8m24-4h8m23 4h8m20 1h8m92-4h8m45-5h8m-5 4h8m-2-2h8m54 2h8m1 4h8m-696 5h8m-7-1h8m-4 4h8m3-4h8m-4 4h8m-5 3h8m0-4h8m2-2h8m-3 6h8m8-1h8m21 0h8m-1 1h8m-7-9h8m-4 6h8m5 1h8m-2-4h8m-6 5h8m-3 0h8m17 0h8m-3-2h8m6-6h8m-4 9h8m-6-3h8m-1-1h8m-5-4h8m7 4h8m22-1h8m5-1h8m93 3h8m1-6h8m-5 7h8m-5-3h8m57 0h8m31-4h8m26 3h8m12 6h8m43-5h8m41 2h8m63 2h8m7-4h8m97-4h8m-863 13h8m1-2h8m2 2h8m15 4h8m0 0h8m26-1h8m38 3h8m1-5h8m-3-2h8m3 4h8m20-5h8m26 3h8m-7 3h8m9-7h8m7 7h8m7-1h8m-7-3h8m-1 1h8m-3-3h8m48 0h8m6 7h8m-5-6h8m5-2h8m81 6h8m19-6h8m2 6h8m44 2h8m-6-8h8m20 5h8m53-5h8m32 5h8m28-4h8m3 4h8m11 0h8m-5 4h8m-716 3h8m17 3h8m-7-3h8m14 5h8m11 2h8m6-4h8m0 4h8m-3-6h8m9 0h8m-2 4h8m-6-6h8m12 4h8m20 1h8m-6 2h8m-1-2h8m-7-1h8m8-5h8m10 7h8m7-2h8m1-3h8m42 2h8m55-4h8m16 3h8m12-1h8m-1 0h8m37 2h8m113 5h8m0-4h8m20-5h8m21 0h8m52 2h8m5 2h8m-6 1h8m-5-5h8m6 5h8m-7 2h8m36 2h8m-791 10h8m-7 0h8m0-9h8m4 8h8m-4-8h8m0 0h8m-5 7h8m-2 1h8m11-5h8m6 0h8m23-2h8m-6-1h8m12 7h8m2 1h8m39-1h8m1 0h8m30-6h8m5 7h8m1 1h8m-2-9h8m-3 0h8m114 2h8m38 2h8m19-3h8m0 7h8m-5-3h8m32 4h8m32-9h8m8 1h8m15 7h8m18-6h8m-5 5h8m8-5h8m1 6h8m52 1h8m-715 10h8m-5 0h8m13-5h8m-1 4h8m50-1h8m-4-3h8m-7 1h8m-2-3h8m-6 0h8m0 5h8m0-5h8m10-1h8m8 7h8m28 0h8m12 0h8m7-1h8m59-7h8m10 8h8m43 1h8m10-1h8m48-6h8m20 5h8m7-1h8m9 3h8m13-7h8m2 3h8m45-2h8m6 6h8m81-8h8m-3 3h8m-8-2h8m25-1h8m-1 3h8m31-4h8m23 5h8m-771 8h8m7-1h8m0-1h8m41 7h8m0-4h8m16 2h8m-4 0h8m-5-1h8m14 4h8m0 0h8m-8-8h8m16 4h8m-3 3h8m10-8h8m17 3h8m12 2h8m42-4h8m7 7h8m27-6h8m28 4h8m66 1h8m19 2h8m-3-3h8m5-5h8m12 8h8m4-1h8m-6-4h8m52 1h8m76 3h8m7-6h8m37 5h8m3-4h8m12 5h8m-811 2h8m-7 2h8m20 6h8m-7-8h8m4 2h8m9 5h8m-2-2h8m2 3h8m19-8h8m-7 0h8m1 7h8m-4-7h8m-1 7h8m-5 0h8m-5-6h8m2 5h8m9 2h8m-2 0h8m16-6h8m-8 2h8m-6 2h8m-1 0h8m-5 0h8m15 0h8m-7 2h8m31 1h8m50-9h8m-2 1h8m-3 5h8m97 1h8m25 0h8m25 2h8m27-4h8m28 4h8m1-3h8m12 1h8m101 0h8m65-5h8m-791 13h8m-6 1h8m9-6h8m1 8h8m-6-7h8m-2 4h8m2-4h8m25 1h8m31 0h8m22 3h8m0-3h8m-5-1h8m38 4h8m8 0h8m0-3h8m14 0h8m226 6h8m76 1h8m1-5h8m5 1h8m4 4h8m28 0h8m17-2h8m12 2h8m-5-6h8m17-2h8m6 7h8m-5-3h8m-726 6h8m-2 4h8m2-1h8m-7 0h8m2-4h8m10 0h8m0 3h8m-6 0h8m29 0h8m-5-3h8m-4 5h8m8 1h8m-3 0h8m3-3h8m6 2h8m1-1h8m68-4h8m187 2h8m71 4h8m81-6h8m43 8h8m4-1h8m12-5h8m81-2h8m-6 2h8m-774 16h8m-4-7h8m36 4h8m-8 1h8m9-3h8m24 6h8m8-8h8m-4 6h8m-6-1h8m11-2h8m-4 0h8m65 3h8m259-7h8m3 0h8m4 5h8m-3 1h8m0 2h8m6-5h8m9 6h8m115-8h8m57 1h8m-755 12h8m-8 5h8m2-2h8m-5-1h8m-8-1h8m-7-5h8m13 7h8m-6-4h8m23-2h8m-4 0h8m-7 0h8m0 0h8m14 5h8m0 1h8m-5-2h8m385-4h8m-8 2h8m25 0h8m8 6h8m-4-8h8m8 6h8m61-3h8m16 1h8m47 1h8m-6 2h8m44-3h8m12 1h8m-804 5h8m-6 2h8m4 5h8m-2-7h8m6 4h8m8 4h8m11-9h8m-6 6h8m18 2h8m-6 0h8m10 0h8m-3-3h8m400-3h8m2 1h8m69-3h8m89 1h8m-3-1h8m70 1h8m-803 15h8m4-6h8m-8 5h8m-8-5h8m3 4h8m-2-1h8m17 4h8m12-5h8m18 1h8m-5 3h8m402 3h8m-6-6h8m33 5h8m64 1h8m1-8h8m76 7h8m29 1h8m7-6h8m-777 16h8m-7-4h8m23-4h8m11 7h8m27-6h8m462 6h8m59 1h8m10-2h8m-5 2h8m-3-3h8m24-1h8m29-5h8m32 7h8m-770 7h8m-6-2h8m4-1h8m12 0h8m-1 2h8m488 3h8m-2-5h8m69 5h8m79-4h8m-706 12h8m1 4h8m7-7h8m0 1h8m-6-1h8m474 6h8m18-5h8m-1 5h8m96 1h8m-671 7h8m1 0h8m561-5h8m-6 4h8m27-2h8m13-2h8m3 4h8m0 3h8m19-7h8m-4 3h8m-7 5h8m0 0h8m-6 1h8m70-3h8m-185 11h8m-7-5h8m-7 5h8m5-6h8m21 5h8m-4 1h8m-4 1h8m108-3h8m-190 9h8m-4-2h8m10 6h8m29-1h8m2-7h8m66 1h8m14 3h8m43-4h8m-211 14h8m91 3h8m-84 10h8m36 2h8m14-6h8m5 6h8m48-7h8m-147 8h8m-4 8h8m37-1h8m16-1h8m26 2h8m11 1h8m12-7h8m6 0h8m-127 8h8m92 6h8m-7 2h8m20 0h8m-2-2h8m-120 5h8m61 5h8m-3-3h8m8-3h8m21 0h8m2 6h8m-93 12h8m21-4h8m8 2h8m25-5h8m-138 14h8m53 3h8m6 1h8m-61 7h8m-1-3h8m25 1h8m-49 7h8m-4 8h8m60-6h8m23 1h8m8-2h8m-97 17h8m41-9h8m-2 5h8m-2 4h8m-71 9h8m1 1h8m24-6h8m-17 16h8m-3 7h8m52-1h8m-54 13h8m30-4h8m-17 12h8m-33 10h8m23 7h8"/><path stroke="#f0c040" d="M935 689h8m-6-6h8m-5 4h8m6-7h8m5 9h8m-4-2h8m-2-5h8m20 6h8m-18 2h8m-72 11h8m-3 1h8m27 6h8m21-8h8m-7 1h8m5 3h8m-94 13h8m19-4h8m23 0h8m-8-3h8m-66 19h8m38-8h8m35 6h8m-73 3h8m39 9h8m5-7h8m-4 3h8m-3-1h8m-80 8h8m-7 1h8m-4 3h8m31 3h8"/></g>
<g fill="none" stroke-width="8" transform="scale(.1)"><path stroke="#111111" d="M2011 277h8m63-3h8m-78 15h8m1-6h8m15 4h8m-1 2h8m-1-6h8m0 1h8m-7 0h8m-3 2h8m-5 2h8m-8-6h8m-7 6h8m-3 1h8m-81 2h8m-3 1h8m-6 4h8m0 0h8m-1 0h8m17-4h8m1 5h8m5-4h8m-1 0h8m-97 13h8m19 3h8m-7-6h8m-6 4h8m0-3h8m4 1h8m16-3h8m0 2h8m-5 0h8m-92 7h8m-6 8h8m-5 0h8m-6-4h8m7 4h8m5-2h8m22-5h8m-1 5h8m-1 2h8m-1-2h8m-97 11h8m13-8h8m-5 7h8m1-6h8m12 7h8m1-5h8m2 3h8m-1 0h8m-6-4h8m-80 15h8m12-5h8m-7 1h8m-4-2h8m-5 5h8m0-3h8m-1 2h8m24 3h8m-4-1h8m-94 3h8m10 8h8m14-4h8m6 0h8m-8-3h8m-6 4h8m4 0h8m-6-2h8m-8 6h8m-1-6h8m-71 7h8m-6 5h8m-6-4h8m-7 1h8m-7 6h8m-8-3h8m0 3h8m5 0h8m8-1h8m15-2h8m7-2h8m-99 10h8m-4-3h8m28 9h8m2-4h8m10-1h8m-8 1h8m7-5h8m-2 6h8m-93 5h8m-1 4h8m-7 1h8m-6 1h8m22 1h8m-8-6h8m-2 3h8m10-3h8m7-2h8m-3 0h8m-3 5h8m-111 12h8m-7 1h8m-8-1h8m29-3h8m-4-2h8m7 5h8m-1-4h8m-2-3h8m22 4h8m2 3h8m-123 3h8m-2 7h8m-4 1h8m-6 1h8m-8 0h8m-7-4h8m-4 2h8m-7 2h8m7-5h8m8 2h8m-4-5h8m0 2h8m-3 2h8m-3 3h8m5-1h8m-4 2h8m-108 9h8m-1-2h8m0 1h8m-7-2h8m1-2h8m-4 6h8m-3-6h8m0 1h8m0 5h8m-5-5h8m19 1h8m-7 3h8m-6-7h8m-5 6h8m-7-5h8m-8 6h8m4-8h8m-1 4h8m0-4h8m-1 2h8m-5 7h8m0-4h8m-143 12h8m6 2h8m-5-3h8m-5 0h8m-5 3h8m-3-2h8m-2-4h8m-2 2h8m5-5h8m-8 2h8m-1-1h8m-4 6h8m-5 1h8m1-4h8m-8 2h8m15-3h8m8 6h8m-8-8h8m-4 0h8m3-1h8m-7 5h8m-6 2h8m-4-1h8m-149 5h8m-2 8h8m-1-3h8m-1 0h8m-6-5h8m0 2h8m-3 0h8m-5 2h8m0-3h8m-4-2h8m-3 0h8m-6 6h8m-7 3h8m-5-5h8m-1-2h8m-2 2h8m0 4h8m16-1h8m3-6h8m-6 8h8m-6-9h8m2 7h8m-155 9h8m-7 0h8m-6 1h8m-4 0h8m5-7h8m-4 3h8m4-2h8m2 7h8m-8-6h8m2 7h8m-4 0h8m-4-6h8m-7 6h8m-5-1h8m19-3h8m-4-4h8m-4 6h8m0-1h8m-6 3h8m1 0h8m4-7h8m-8 3h8m1 2h8m3 2h8m0-5h8m-7 4h8m-174 6h8m-3 0h8m-3-4h8m-8 7h8m23 0h8m8-3h8m6-1h8m3-2h8m-8 7h8m-6-6h8m5-1h8m4 8h8m-6-7h8m0 5h8m-3-6h8m-4 3h8m-3 0h8m-6-2h8m0 6h8m-2-3h8m-7-3h8m1 1h8m-3 4h8m8 0h8m-6-4h8m-180 10h8m-4 6h8m6-6h8m13 6h8m-1 0h8m7-6h8m4 1h8m7-4h8m-2 3h8m-5 5h8m2-2h8m-4 0h8m10-2h8m-7 1h8m5 2h8m-3-7h8m-8 6h8m-5 1h8m5-3h8m-8 5h8m-3-8h8m-200 18h8m-5-1h8m0-1h8m-5-7h8m-2 7h8m-7-4h8m-1-3h8m-8 8h8m-8-1h8m7 0h8m-3-1h8m-5 0h8m-6 0h8m9-4h8m-2 0h8m-8-2h8m-3 0h8m0 5h8m-2 1h8m9-3h8m-4 4h8m4-7h8m15 6h8m-7-1h8m-4-5h8m-7 4h8m-8 5h8m-5-6h8m20 4h8m11 0h8m-221 3h8m10 8h8m2-1h8m-7 2h8m2-3h8m-7-5h8m3 6h8m-8 2h8m-2-3h8m19-3h8m5 1h8m6 3h8m-7 1h8m10-1h8m-6 0h8m-1-5h8m-7 3h8m1-4h8m13 5h8m2-3h8m-8 2h8m-4 2h8m-5-6h8m7 4h8m-6 1h8m2-3h8m-6 6h8m-229 9h8m8-1h8m3-1h8m22 3h8m-1-6h8m6 6h8m1-7h8m-3 4h8m3-6h8m-2 8h8m-6-1h8m-8 0h8m-4-4h8m-7 3h8m4 1h8m-1-4h8m-4-3h8m-5 2h8m15 5h8m-4 2h8m-7-2h8m9 2h8m-4-9h8m2 3h8m-6 2h8m-2-2h8m-3 3h8m6-1h8m-228 7h8m7 7h8m-7-9h8m3 1h8m2 3h8m8-2h8m-6-1h8m-4 8h8m9-5h8m-3 5h8m-6-6h8m11 4h8m21 0h8m-5-1h8m7-3h8m0 2h8m-6-3h8m5-2h8m10 8h8m-211 11h8m-4-8h8m-5 1h8m-3 5h8m-6-6h8m-4 8h8m1-2h8m-2-6h8m-8 4h8m1-3h8m10 6h8m5 1h8m-5-4h8m33 3h8m-3 0h8m5-2h8m3-2h8m-5 3h8m14-2h8m-4-3h8m-6 2h8m11-1h8m-8 4h8m-5-1h8m-7-2h8m-4-2h8m-7 2h8m-3 3h8m-6 1h8m-7 1h8m-6-8h8m-216 9h8m1 8h8m15 0h8m-4-8h8m-1 6h8m-5 0h8m19-2h8m-4-2h8m15-1h8m-7 5h8m3-5h8m10 8h8m0-9h8m18 0h8m-5 1h8m-6 4h8m-5 4h8m-7-7h8m0 1h8m-1-1h8m-8 1h8m-8 0h8m3 1h8m10 5h8m10-1h8m-250 7h8m-1-3h8m4 4h8m-2 0h8m-1-5h8m-3 0h8m6-1h8m1 2h8m-7 7h8m8-2h8m9-5h8m8 6h8m-6-6h8m-6 4h8m-7 3h8m1-2h8m-5-5h8m2-1h8m-2 4h8m9 3h8m25-2h8m0-5h8m-2 6h8m-4-6h8m0 5h8m-5-4h8m-8 1h8m-7 2h8m4-5h8m-5 9h8m0-4h8m-259 13h8m0-7h8m-6 3h8m1-1h8m-2 0h8m-8-1h8m-7 5h8m-8-4h8m1 2h8m-5-4h8m-1-1h8m2 5h8m-5-5h8m8 0h8m-5 6h8m-4-2h8m-8-1h8m5 5h8m-2-1h8m6-6h8m11-1h8m10 2h8m8 4h8m-6 3h8m-3-8h8m17 0h8m-6 3h8m3 2h8m0-1h8m-2-2h8m11 5h8m-6-4h8m1 5h8m-5-5h8m-263 10h8m-6-3h8m1 5h8m-3-3h8m-1 2h8m-7-1h8m9 5h8m0-5h8m5-2h8m-5 0h8m-1 5h8m-5-5h8m-8 0h8m-6-2h8m-4 8h8m0-8h8m8 8h8m5-4h8m-4 2h8m-8-3h8m-6 6h8m14-9h8m1 3h8m-2 2h8m-8-5h8m-3 0h8m-6 8h8m5-1h8m6 1h8m-5-3h8m-8 1h8m5-4h8m-5 3h8m-2-5h8m11 6h8m-2-6h8m-8 3h8m0-3h8m-6 1h8m-266 9h8m-1 5h8m-1 2h8m7 2h8m-5-8h8m-7 8h8m3-4h8m-2 0h8m-6 2h8m2-2h8m-4 0h8m-1 2h8m-8 1h8m-6-2h8m11-2h8m4-4h8m-7 1h8m-6 3h8m-7 1h8m-5-2h8m0-3h8m3 1h8m-7 5h8m-5 2h8m-7-7h8m-3-1h8m-4 8h8m-3-3h8m-6-1h8m-2 4h8m-6 1h8m17-8h8m-5-1h8m-8 2h8m13 5h8m-4-3h8m-6 3h8m-4 2h8m21-1h8m-4-8h8m1 5h8m-252 6h8m7 6h8m-4-7h8m-4 0h8m2 5h8m-4-4h8m1 5h8m-7-6h8m-4 7h8m3 0h8m7-4h8m-6 4h8m-7-1h8m3 0h8m-4-4h8m-1 0h8m-3 7h8m14-6h8m-6-3h8m-7 6h8m-5 0h8m-8-1h8m1-2h8m13-1h8m-1 3h8m7-2h8m5 3h8m1 1h8m-8 1h8m10 0h8m-1-7h8m0-1h8m-3 5h8m2 2h8m-276 8h8m-2 2h8m-2-3h8m3 3h8m-8-6h8m-7 5h8m-1 0h8m-5-5h8m2 1h8m6-1h8m-3 3h8m-5 3h8m-5-3h8m-1 3h8m-1 0h8m-3 1h8m-8-8h8m5 4h8m-2 5h8m-1-3h8m1-1h8m-8-2h8m-4 5h8m-7 0h8m-8 0h8m-6 1h8m-8-2h8m13-5h8m-1 6h8m-5-6h8m16 2h8m-7 3h8m15-2h8m-4-2h8m0-2h8m-6-1h8m-3 4h8m-4 4h8m1-2h8m8 1h8m-277 6h8m-6 6h8m-7-4h8m7 2h8m-7-7h8m-6 2h8m8 7h8m-4-6h8m-6-2h8m-6 6h8m-3-1h8m3-6h8m-4 2h8m22 4h8m-4-3h8m7 3h8m-8-4h8m-6-1h8m-2-1h8m-3 6h8m4-1h8m9 4h8m-7-7h8m-4 0h8m1 3h8m-8 1h8m0 1h8m-7-5h8m-7 7h8m6-9h8m0 7h8m-5-2h8m0-3h8m-4 1h8m-1 2h8m-1-3h8m-2 4h8m4-2h8m-6 2h8m-4-3h8m-8 1h8m-8-2h8m4 0h8m-2 5h8m-8 0h8m-279 12h8m2-3h8m-1-6h8m13 8h8m-8-6h8m-6-2h8m11 7h8m-6 0h8m10-1h8m2 1h8m-6 2h8m-5-5h8m-6-1h8m7-1h8m2 1h8m-3 6h8m-7-9h8m-2 1h8m7 0h8m23 6h8m-7-1h8m11 3h8m-6 0h8m6-9h8m-1 5h8m-3 4h8m-1-5h8m-3-3h8m5 3h8m-3 0h8m-3-3h8m-1 7h8m0 1h8m-1-9h8m-5 4h8m-293 11h8m4 2h8m12-7h8m1 2h8m-1 5h8m16-3h8m2 4h8m1-4h8m-7 0h8m4 0h8m6 3h8m-1-6h8m27 0h8m8 4h8m-7 1h8m12-6h8m12 3h8m-3-1h8m-7-2h8m40 3h8m-5-1h8m1-1h8m-3-1h8m-7 7h8m-4 2h8m-311 10h8m1-3h8m11-3h8m-5 2h8m14-3h8m1 6h8m-4-1h8m4-3h8m8 4h8m-8 0h8m-4-2h8m1-2h8m2 2h8m-2 3h8m2-6h8m8-1h8m4 5h8m1-1h8m10 2h8m3-4h8m-5 2h8m-6 2h8m-1-5h8m-4 5h8m15-4h8m-3 4h8m-2-8h8m-2 9h8m-1-5h8m-5 4h8m-3-6h8m-6 0h8m-6 4h8m-3-1h8m0 1h8m-3 2h8m-7-4h8m3 0h8m-295 15h8m-5-3h8m-4-2h8m-7 3h8m3 2h8m-2-8h8m-7 8h8m-7-8h8m-7 3h8m-2 2h8m-4-3h8m-7 3h8m8-6h8m-6 4h8m-7-2h8m-3 5h8m4-6h8m-4 4h8m-5-3h8m-6 7h8m-6-3h8m-6 3h8m-1-8h8m-1 7h8m-7-6h8m-5-2h8m-5 3h8m-7 3h8m-8 2h8m-6 0h8m8-3h8m13-2h8m9 4h8m0-1h8m25-3h8m-8 1h8m-6 1h8m-3 3h8m2-3h8m-5 2h8m-5-1h8m6-1h8m14-2h8m-6 0h8m-8-1h8m-6-2h8m-3 6h8m-4 2h8m7 0h8m-320 8h8m-5 3h8m-1-7h8m2-1h8m14 0h8m-8 1h8m10 0h8m-6 0h8m-6 4h8m3-1h8m14-1h8m-8 4h8m-1-2h8m-5 3h8m4-6h8m2 5h8m-4-3h8m-8 3h8m-1-3h8m8-4h8m4 6h8m10 0h8m-8-7h8m3 9h8m7-7h8m-6 4h8m-2-2h8m3 2h8m-2 2h8m-4-2h8m-5-6h8m-4 0h8m-1 0h8m0 3h8m-8 0h8m-3 0h8m-7 4h8m-3-1h8m1 0h8m-7-3h8m-4-2h8m-5 0h8m-4 2h8m-4 0h8m-6 6h8m-5-4h8m-5 3h8m-4-8h8m-6 9h8m-7 0h8m-307 4h8m-8 5h8m-3 1h8m15-3h8m-7-5h8m-6 7h8m-5 1h8m0-1h8m-4 1h8m-3-6h8m3-2h8m0 2h8m5 0h8m-4 6h8m-4-4h8m-7 1h8m-7 3h8m14-3h8m4-1h8m-3 0h8m4-3h8m-6 6h8m-8-3h8m-3-3h8m2 2h8m17-4h8m-6 5h8m12 4h8m-3-1h8m1-5h8m-5 6h8m7-2h8m0-4h8m4 0h8m-8-2h8m11 4h8m6 2h8m-7-2h8m-8-5h8m-5 5h8m-6 2h8m-3-1h8m-2 2h8m-5-6h8m3 0h8m-348 15h8m0-1h8m6-2h8m0 0h8m0 2h8m-6 1h8m-6 1h8m-6-4h8m2 1h8m-4 1h8m6-2h8m-6 4h8m-5-2h8m3-3h8m1 1h8m-3 2h8m-1-6h8m-3 1h8m7-1h8m-4 7h8m-7 0h8m-1-1h8m0-2h8m-7 5h8m12-8h8m6 6h8m4 2h8m-2-1h8m-4 1h8m-8-4h8m-6-3h8m-8-2h8m-7 3h8m-5 0h8m12-3h8m-8 7h8m13-2h8m-3-5h8m-8 0h8m-5 3h8m-7-1h8m-6-1h8m-4 6h8m-6 1h8m-2-5h8m-3 2h8m-7-5h8m4 6h8m2-2h8m-4 3h8m-7-6h8m-4 5h8m-6 2h8m-6-7h8m-6 5h8m-7-2h8m-330 13h8m1-6h8m-3 4h8m-6 2h8m-4-1h8m-7-1h8m-2 3h8m-7-8h8m-2 2h8m-5-2h8m-7 8h8m-8-5h8m1 3h8m-6-2h8m4 2h8m-3-1h8m-4 2h8m-2-3h8m15-4h8m2 8h8m4 0h8m-7-7h8m14 8h8m27-1h8m10 1h8m-3-9h8m-4 1h8m-7 6h8m-8 0h8m-5-3h8m-7 4h8m-1-1h8m8-7h8m-6 8h8m-6-4h8m-6 1h8m-3-2h8m10-3h8m-3 5h8m-5-4h8m-7 1h8m-6 2h8m5-3h8m-4 2h8m-1-1h8m-4 3h8m-7 0h8m-8 3h8m0 1h8m-4-3h8m-5-5h8m-7 0h8m-5 2h8m-5 2h8m-5-3h8m11-2h8m1 3h8m-353 8h8m-4 5h8m23 0h8m2-5h8m-4 4h8m-6 1h8m13 0h8m1-6h8m8 0h8m-3 4h8m-7-4h8m-8 8h8m-6-7h8m19 0h8m4 2h8m-6-1h8m-8 6h8m4-7h8m-1 3h8m-7 2h8m-8 2h8m-5-1h8m8-5h8m-7 4h8m-6 1h8m17-3h8m18 4h8m-7 0h8m-4-8h8m16 3h8m-4-1h8m-7 7h8m0-9h8m-4 0h8m-7 6h8m-5 3h8m-6-7h8m-3 5h8m-3 0h8m0-1h8m-7 1h8m-2-3h8m-4 3h8m-6-1h8m2-6h8m-6 0h8m16 7h8m-351 7h8m16 1h8m-2-2h8m-6 4h8m-4-6h8m-6 4h8m5-5h8m0 8h8m11-4h8m5-2h8m7 3h8m2 1h8m-7 0h8m0 2h8m-3-6h8m-2-2h8m-6 5h8m9 1h8m-4-3h8m-5 3h8m0 3h8m5-9h8m-7 8h8m5 0h8m-6-1h8m4-5h8m24 2h8m2 4h8m-4-5h8m-1-3h8m-2 9h8m-2-5h8m-8 0h8m-6 2h8m-4-6h8m2 4h8m-320 8h8m-5-2h8m-5 3h8m4-2h8m2 2h8m-3-2h8m-1 4h8m-5-4h8m-6 3h8m5 1h8m-7-4h8m-3-1h8m-6 1h8m3 0h8m-3 4h8m-1 3h8m-7-2h8m-7-2h8m-8-4h8m14 1h8m2 6h8m-4-2h8m0-3h8m-2 5h8m3-6h8m11 2h8m2 5h8m1-4h8m-4-1h8m-1-3h8m-5 1h8m-5-1h8m22 9h8m-5-3h8m1-6h8m0 3h8m5 2h8m-5 4h8m-1-3h8m-4-5h8m-4 8h8m-4-2h8m-5-3h8m-6 4h8m1-8h8m-8 7h8m-4-4h8m-331 16h8m8-7h8m7 4h8m-7-3h8m2 5h8m-6 1h8m-2-5h8m-5-3h8m-5 8h8m2-7h8m18 1h8m-7 4h8m-5-2h8m-6-1h8m12 4h8m4-2h8m1 2h8m0-3h8m-4 0h8m19 2h8m-8 0h8m14-5h8m5 1h8m2 5h8m39 1h8m13-7h8m5 0h8m-308 8h8m6 5h8m5 0h8m-5 3h8m-7-3h8m-8 4h8m-4-2h8m-7-3h8m7 4h8m-5 1h8m14-3h8m-5-3h8m-8 6h8m-1-5h8m-5-1h8m0 0h8m0 1h8m5-3h8m6 8h8m-6-1h8m-4-4h8m7-4h8m0 0h8m-5 9h8m-4-3h8m-7-1h8m9 4h8m1 0h8m1-8h8m11 4h8m-8 3h8m5-8h8m-7 8h8m-2-5h8m0 1h8m-5-2h8m6-1h8m11 3h8m-1-4h8m-303 18h8m-1 1h8m-8-6h8m2 1h8m-2 2h8m-4 0h8m11 1h8m0 1h8m-8-7h8m-7 6h8m-7-5h8m-3 4h8m9-2h8m-1-1h8m7 6h8m-5-3h8m-4-4h8m-5 1h8m-4 6h8m-4-3h8m4-1h8m-5 3h8m-1-8h8m-5 7h8m9-3h8m0-3h8m-1 7h8m21 0h8m-4-2h8m16-1h8m-5-1h8m11 0h8m7 1h8m-2-4h8m-287 17h8m6-7h8m8 3h8m-4 4h8m-7-8h8m7 2h8m-1 5h8m5 0h8m-1-2h8m-6 1h8m-1-2h8m-8-1h8m-7-2h8m-4 7h8m-4-7h8m-2 6h8m7-5h8m-4 0h8m-5 2h8m10 3h8m2-7h8m7 5h8m-7-1h8m-8-2h8m4 6h8m-4-8h8m-5 6h8m-3-1h8m-7 2h8m-7-1h8m7-2h8m-4 4h8m-7 0h8m5-8h8m0 2h8m-2 2h8m-7-4h8m0 9h8m-4-3h8m-6-1h8m-2-2h8m-271 16h8m10-8h8m-5 1h8m2-1h8m-4 8h8m-8-7h8m-7 2h8m-6 3h8m-4-1h8m-4 0h8m26 3h8m-2-8h8m-2 8h8m-2 0h8m10-6h8m6 0h8m-5-1h8m1 3h8m-2-2h8m14 4h8m-3-2h8m2-5h8m9 9h8m2-8h8m-6 0h8m2-1h8m-7 9h8m-7-1h8m2-4h8m-251 15h8m7-8h8m3 7h8m-7-7h8m0 4h8m-3 3h8m-2 0h8m2-8h8m11 2h8m0 4h8m0-6h8m5 5h8m-2 3h8m-4-4h8m-7 2h8m14-1h8m-3-3h8m5 4h8m9-5h8m-2 6h8m5-5h8m-8 7h8m-3-3h8m-8-6h8m2 2h8m-7 5h8m-8 2h8m-6-9h8m-7 9h8m0-1h8m-7 0h8m-5-8h8m13 0h8m-2 2h8m-247 12h8m-2-4h8m-2 6h8m1-2h8m-2 0h8m-6-2h8m-2 2h8m-7 0h8m7-4h8m2 8h8m15-8h8m0 5h8m29-5h8m5 5h8m-7 0h8m-2-4h8m9-1h8m-2 2h8m1 0h8m-4 4h8m-4 0h8m3 3h8m-4-6h8m7 0h8m-233 9h8m25 3h8m-6 3h8m-3 1h8m5-7h8m-7-1h8m0 8h8m5 0h8m18-8h8m3 3h8m-6 0h8m0-4h8m-8 6h8m-6-2h8m14 1h8m17 4h8m14 0h8m23-1h8m-221 10h8m29-7h8m12 7h8m31-7h8m-1 3h8m0 0h8m2 4h8m2-3h8m8-4h8m-3 1h8m3 1h8m-2 2h8m-1-5h8m-8 9h8m7-6h8m-218 7h8m16 8h8m0-8h8m1 7h8m3-6h8m-6 6h8m-4-5h8m-2 6h8m-4-5h8m3 2h8m-2-3h8m0-2h8m-6 2h8m-7 2h8m4-1h8m7 5h8m-3 1h8m-7-3h8m-8-3h8m-5-1h8m-3 7h8m-4-2h8m-6-4h8m-7-1h8m-8 3h8m13 1h8m13-1h8m25-1h8m-6-4h8m-232 13h8m0 3h8m1 3h8m25-9h8m3 7h8m-7-3h8m0-2h8m-1 3h8m-5-4h8m2 7h8m6-6h8m-2 3h8m-7 4h8m1-3h8m6-6h8m4 7h8m-5-7h8m1 8h8m-8 1h8m2-1h8m20 1h8m-1-8h8m-184 11h8m-2 3h8m-3-3h8m41 1h8m1 0h8m2 2h8m15 2h8m-4 1h8m-4 0h8m7-5h8m-5 6h8m-5-4h8m12 1h8m-7-5h8m-7 4h8m-7 0h8m14 0h8m-211 9h8m-6-2h8m-1 4h8m15-2h8m-8-4h8m-7 8h8m-6-6h8m-2 0h8m9 4h8m-2 0h8m-8-4h8m17 7h8m-8-2h8m-6-1h8m16-5h8m-6 7h8m33-7h8m19 8h8m0-7h8m-176 10h8m8 4h8m-5-4h8m-7 1h8m0-2h8m-7 6h8m-1 1h8m-6 0h8m1 1h8m0-1h8m-2-2h8m-3 3h8m-4-1h8m-2-4h8m-4-1h8m-6-2h8m-6 4h8m9-2h8m4 0h8m-3 6h8m-2-2h8m8 1h8m-5-4h8m-6 3h8m-179 10h8m14-3h8m6-3h8m-7 0h8m-8 5h8m-5-1h8m34 1h8m-8-4h8m22-2h8m0 5h8m-3 2h8m-7 2h8m-2-2h8m2 2h8m-6-6h8m-3 5h8m-3-1h8m-4-7h8m-163 11h8m12 6h8m-1-7h8m5 0h8m9 0h8m4 9h8m-1-7h8m-6 3h8m3-2h8m-1 3h8m-4-6h8m-6 4h8m-7 0h8m7 2h8m-7-2h8m-6 0h8m3-1h8m-3 4h8m13-7h8m-169 13h8m-8 1h8m-1 4h8m13-6h8m0 4h8m-7 0h8m11 0h8m29 2h8m23-4h8m3-2h8m-2 0h8m-146 10h8m-7 0h8m17-2h8m44 8h8m21-3h8m-8-3h8m-5 0h8m-121 13h8m11-1h8m3 0h8m11-1h8m7-3h8m1 6h8m-8 0h8m19 0h8m0-2h8m-107 8h8m-6-2h8m14 7h8m4-6h8m0 0h8m-7 0h8m24 4h8m-88 8h8m-1-3h8m-7 5h8m-7-2h8m10 5h8m7-5h8m-6 2h8m-4-1h8m-5 2h8m-8-3h8m-35 12h8m2 4h8m-4-3h8m8-3h8m-67 15h8m-7-4h8m3-3h8m-3 1h8m-7 0h8m9-1h8m-4-1h8m-37 11h8"/><path stroke="#1e1e60" d="M2079 266h8m-78 19h8m3 4h8m44-5h8m-12 14h8m-75 3h8m-6-1h8m45 5h8m2 3h8m-78 8h8m9-3h8m7-3h8m31 4h8m6 5h8m-94 5h8m8 3h8m30-7h8m12 0h8m-68 12h8m17 1h8m-5 4h8m2-1h8m-50 9h8m2-3h8m37 3h8m-62 14h8m15 0h8m21-4h8m1 3h8m0-3h8m-7-4h8m-5 0h8m5 0h8m-6 3h8m-101 6h8m15 2h8m9 7h8m-2-4h8m-41 12h8m7-3h8m-1 0h8m-2 3h8m29 1h8m-83 21h8m20-5h8m18-1h8m-6 6h8m-1-2h8m-4 1h8m0 0h8m4-8h8m-124 11h8m-1 5h8m7-5h8m-2-1h8m54 9h8m31-2h8m-149 10h8m10 1h8m24 1h8m34-8h8m26 4h8m-119 6h8m53 4h8m-95 9h8m44 1h8m10 3h8m8-3h8m-7-4h8m-6 4h8m43 4h8m0-4h8m-153 5h8m27 8h8m51-1h8m14-2h8m-5 0h8m-5-3h8m31 2h8m-137 11h8m3-4h8m51 7h8m-1-1h8m-4-6h8m18-1h8m3 0h8m-64 12h8m-7 6h8m39 0h8m-181 2h8m13 5h8m36 4h8m30 0h8m78 0h8m-112 6h8m86-5h8m11 7h8m-145 6h8m72-1h8m-105 10h8m55 5h8m6 0h8m6-5h8m24 5h8m7-7h8m-153 16h8m107-4h8m-55 14h8m41-1h8m17-2h8m9-2h8m23 4h8m-196 10h8m-1 0h8m-5 4h8m0-5h8m15-1h8m24-3h8m72 1h8m6 0h8m5-1h8m-4 4h8m-159 14h8m-6 1h8m96 0h8m40-7h8m10 1h8m-234 9h8m42-1h8m61 5h8m110-2h8m-136 10h8m0 5h8m12-8h8m-163 13h8m61-3h8m16 8h8m30-7h8m1 6h8m49-6h8m22 5h8m-6 9h8m1 1h8m-1-4h8m16 3h8m-251 6h8m10 7h8m108-2h8m27 2h8m44-8h8m13 7h8m-5-7h8m-285 17h8m177-1h8m40 1h8m19-1h8m-270 10h8m1-7h8m22 6h8m-4 2h8m14-4h8m1 0h8m22-1h8m34 5h8m19-6h8m21 0h8m1 0h8m9-2h8m16 6h8m-3-4h8m17-1h8m-5 8h8m0-2h8m-304 7h8m63 1h8m8-3h8m-8 3h8m57-4h8m51 5h8m-6-1h8m29 4h8m12-2h8m-7-6h8m-5 0h8m-274 10h8m78-1h8m-7 1h8m23 7h8m107-5h8m14 1h8m13-3h8m-7 1h8m0 0h8m-8 6h8m-7 0h8m-5-2h8m-2 0h8m-303 13h8m11-2h8m81-5h8m11-2h8m75 1h8m34 7h8m-8 1h8m-4-6h8m-6 6h8m-8-9h8m-7 8h8m10 1h8m-7-7h8m-8-1h8m2 4h8m-8-5h8m-2 2h8m-7 0h8m-8 3h8m-7-1h8m-6 1h8m-7 0h8m6 0h8m-330 7h8m131 6h8m8-6h8m31 7h8m34-5h8m16-3h8m-2 2h8m-8-2h8m3 6h8m-2-4h8m3 1h8m-7-3h8m-5 0h8m1-1h8m-7 6h8m-3-4h8m-8 5h8m-8-6h8m1 4h8m-8 4h8m3-3h8m-7 0h8m-3 0h8m-6 2h8m-7 1h8m-311 2h8m-1 0h8m35 7h8m1-4h8m6 3h8m53-7h8m-7 5h8m9-5h8m52 7h8m-8-3h8m0 1h8m-3 2h8m5-4h8m2 4h8m-8 1h8m-4-1h8m-3 1h8m-8-6h8m-7 4h8m-7 3h8m-8-8h8m-1 3h8m-2-1h8m-3-1h8m3 5h8m-7 1h8m-2-2h8m-3 2h8m-5-1h8m1-4h8m-350 14h8m7 0h8m9-3h8m-1 0h8m35 3h8m4 0h8m134-5h8m18 0h8m-6 0h8m-6 4h8m-7-5h8m-2 0h8m-2 4h8m-3-5h8m8 0h8m-5 3h8m-3 1h8m3-3h8m9 4h8m-7-3h8m-6 1h8m-284 10h8m-1 5h8m-2-5h8m-7 4h8m51 2h8m21-5h8m72 1h8m34-1h8m20-4h8m5 3h8m-2 0h8m-179 12h8m10 1h8m-189 6h8m-5 0h8m29 4h8m-6-3h8m-4-1h8m17 0h8m14 6h8m6-7h8m0 8h8m54-4h8m9 4h8m-4-4h8m10 3h8m2-4h8m-120 12h8m111-6h8m22 2h8m-235 13h8m9 3h8m38-2h8m-18 6h8m21-1h8m-4 0h8m2 0h8m-4-1h8m1 0h8m1 6h8m61-4h8m-206 17h8m29-7h8m-6-2h8m32 1h8m-5 1h8m-120 12h8m26 2h8m15 1h8m2 1h8m23-1h8m5-3h8m45 1h8m-71 10h8m82 1h8m-71 4h8m53 0h8m-170 13h8m101-2h8m47-1h8m-198 12h8m-3 2h8m64 4h8m17-7h8m-2-1h8m-4 7h8m54 1h8m-176 2h8"/><path stroke="#9cc4e4" d="M2072 270h8m-76 19h8m-7-9h8m13 4h8m0 1h8m5-1h8m5 0h8m13 4h8m-93 9h8m13-7h8m21 1h8m-7 7h8m27-1h8m-79 6h8m1 2h8m-18 6h8m-5 1h8m24 2h8m23-4h8m-17 20h8m2 0h8m-88 15h8m-1-4h8m9 7h8m12 0h8m2-8h8m30 1h8m-69 16h8m4-5h8m42-2h8m-4 7h8m-1-1h8m-112 11h8m47 2h8m13-5h8m19-1h8m-4-1h8m-81 14h8m2-6h8m-1 8h8m46-4h8m-6-2h8m0 6h8m-51 11h8m10-8h8m17 4h8m-7 3h8m9-1h8m-123 3h8m-3 1h8m-3 6h8m21 1h8m20-7h8m22 2h8m5 4h8m-8 0h8m-8-1h8m-6 1h8m-5-7h8m-103 15h8m21-5h8m2 0h8m-5 2h8m49-1h8m-7 5h8m-166 11h8m1 1h8m26-5h8m-7 4h8m38 0h8m-4-4h8m31 6h8m-6-8h8m-6 5h8m4-4h8m-7-2h8m3 1h8m-5 1h8m6 6h8m-180 10h8m28-1h8m74-1h8m-8 1h8m29-2h8m13 0h8m-4 4h8m-134 3h8m60-2h8m6 2h8m-4 5h8m1-5h8m23-1h8m9 6h8m-243 7h8m95-1h8m8 5h8m26 1h8m18-6h8m25 1h8m-1-4h8m1 4h8m3 3h8m-7 1h8m1 1h8m-260 1h8m6 7h8m-7-3h8m21 2h8m150-2h8m37-4h8m-3 3h8m-5 3h8m-5-4h8m-219 11h8m-5 1h8m90-2h8m32 0h8m-1 5h8m33-7h8m6 0h8m-3 6h8m-7-4h8m-7 7h8m-5 0h8m-246 10h8m23-3h8m9-5h8m10 5h8m24 2h8m30-5h8m96-2h8m-1 1h8m-6 5h8m-5-4h8m-244 15h8m15-3h8m4-5h8m65 0h8m42 0h8m13 8h8m3-3h8m38 2h8m-3-2h8m-7 0h8m-6-5h8m-6 4h8m-8 4h8m-7-1h8m-4 0h8m-4 1h8m-285 6h8m3 0h8m-3 4h8m-4-7h8m-1 3h8m61 1h8m98-2h8m57-1h8m-285 17h8m-7-4h8m70-3h8m10 7h8m18-3h8m25-1h8m10-5h8m-3 4h8m33-3h8m14 6h8m0-6h8m35 4h8m-7 3h8m-290 2h8m-6 2h8m41 0h8m135-2h8m17 7h8m29 0h8m14 1h8m-2 0h8m1-5h8m-4 6h8m-332 9h8m25 0h8m44-1h8m92-5h8m11 0h8m46 4h8m-7-3h8m10-1h8m35-1h8m-6 3h8m-7 1h8m-345 10h8m14-1h8m87 4h8m21-5h8m103 0h8m66-2h8m-8 2h8m13 6h8m-277 1h8m-5 0h8m134 0h8m43 0h8m-5 9h8m4-9h8m59 0h8m-370 10h8m93 5h8m83-3h8m10 7h8m6-9h8m82 4h8m0 5h8m14-8h8m-3 7h8m-7-3h8m-8 4h8m-5 0h8m-348 4h8m114-3h8m81 0h8m15 2h8m0 5h8m48-5h8m23 7h8m3-8h8m-290 12h8m3-3h8m54 8h8m38 0h8m29-2h8m55-6h8m3 9h8m7-4h8m35 2h8m-3 0h8m-369 12h8m10-3h8m61 2h8m15-7h8m103 0h8m89 0h8m12 4h8m14-2h8m-2 0h8m1 4h8m-398 12h8m64-7h8m10 0h8m27 6h8m16-4h8m22-3h8m-2-1h8m4 0h8m28 1h8m120 2h8m7-3h8m0 7h8m-8-5h8m-6-1h8m-386 11h8m52 1h8m-1-2h8m6 8h8m2-6h8m71 0h8m8 5h8m55-1h8m9 1h8m56-3h8m-7-2h8m44 4h8m-182 6h8m3 2h8m98-1h8m17-2h8m-5 4h8m20-2h8m0 5h8m-7-6h8m-371 14h8m47 0h8m60 2h8m16-6h8m20-3h8m44 4h8m3 1h8m70-3h8m30 3h8m-1 0h8m-8-5h8m-7 8h8m3-5h8m-414 16h8m28-4h8m47 4h8m-3-1h8m3-5h8m17-3h8m-5 1h8m34 0h8m73 8h8m1-2h8m27-4h8m28-1h8m3 6h8m44-8h8m-4 0h8m-414 19h8m57-9h8m19 0h8m22 6h8m72 0h8m65 0h8m1-6h8m69 9h8m12-9h8m21 8h8m-7-5h8m-430 11h8m43-3h8m7 3h8m15 4h8m34-5h8m4 6h8m5 0h8m-3-7h8m-1 3h8m82-1h8m8-3h8m-6 8h8m52-8h8m-7 7h8m2-8h8m29 3h8m16-1h8m0 7h8m-5-5h8m-423 12h8m143-6h8m16 6h8m93 3h8m18-5h8m9-3h8m-5 4h8m21 1h8m3 0h8m-6-1h8m12 4h8m28-9h8m-7 9h8m-6-9h8m-8 0h8m-4 5h8m-5 3h8m-438 4h8m-5 3h8m-8 2h8m42-2h8m37-4h8m53 3h8m-5-1h8m59 2h8m17-1h8m19-4h8m0 6h8m-6-5h8m3 6h8m4-1h8m35 0h8m-372 8h8m46 0h8m118 2h8m49-3h8m14 4h8m7-5h8m-7 7h8m27-7h8m82 3h8m-5-3h8m14 2h8m3-4h8m-445 16h8m90-2h8m-6-4h8m41 1h8m3 5h8m40-6h8m46 2h8m95-1h8m0 2h8m7-3h8m-6 1h8m9 1h8m3 6h8m-2-2h8m4-5h8m-1 7h8m-435 2h8m15 9h8m6-8h8m11 3h8m7 4h8m3 1h8m98-2h8m49-5h8m7-1h8m13 0h8m94 8h8m38-8h8m-457 9h8m92 7h8m12 1h8m3-5h8m-4 4h8m5-6h8m49 1h8m41 7h8m194-5h8m-3 2h8m-464 9h8m-7 4h8m-5-1h8m2-4h8m16 3h8m0 1h8m1-3h8m-5-4h8m124 7h8m10-2h8m12-1h8m225-2h8m6 2h8m-484 11h8m41-5h8m50 5h8m20-3h8m65-2h8m213 0h8m4 5h8m1 1h8m-4-6h8m2 2h8m6 4h8m-6 0h8m-7-2h8m-477 12h8m92-1h8m109-1h8m-1 3h8m227-8h8m-5 9h8m-7-1h8m-8-1h8m-5-7h8m-7 2h8m-492 9h8m2 8h8m3-2h8m110-3h8m20-3h8m5 5h8m16 3h8m270-2h8m1 2h8m-4-5h8m-8 5h8m-485 9h8m-7-1h8m2-2h8m-1-4h8m94 0h8m57 6h8m287-7h8m-2 7h8m-8-6h8m6 6h8m-509 3h8m46 7h8m34-6h8m15 7h8m14-5h8m-8 5h8m-5-4h8m4-1h8m10-3h8m0 7h8m291-4h8m4 0h8m-527 8h8m7 7h8m4-8h8m35 7h8m80-1h8m366 1h8m-3-3h8m-3-2h8m-4-2h8m-503 10h8m28 1h8m14 1h8m14 1h8m62 5h8m319-6h8m13 0h8m19 4h8m46 3h8m9 0h8m2-1h8m-666 3h8m-7 2h8m12 4h8m-8 1h8m5-7h8m2-1h8m41 3h8m46-3h8m12 4h8m25-2h8m352-1h8m2 2h8m28 6h8m11-5h8m-7-4h8m16 6h8m-651 9h8m-4 2h8m3-4h8m-2-2h8m-4 7h8m-6-7h8m-8 4h8m44 1h8m16 2h8m67-5h8m2 0h8m373 3h8m35-6h8m-619 16h8m5 2h8m-3 0h8m-7-4h8m-1-4h8m32 9h8m28-5h8m43 0h8m418-2h8m-3-2h8m1 3h8m-3-3h8m5 0h8m-632 16h8m15 0h8m12-4h8m8-2h8m9 6h8m7-2h8m8-1h8m10 1h8m20 2h8m-2-3h8m0-2h8m-155 12h8m6 2h8m4 1h8m33 2h8m17-8h8m6 8h8m34 0h8m-6-2h8m-151 10h8m-4-2h8m23-3h8m16 4h8m-2 3h8m23-2h8m23-3h8m3-3h8m-137 17h8m10-3h8m15 5h8m17-4h8m-8-2h8m-50 15h8m9 1h8m1-2h8m-36 4h8m14 0h8m0 5h8m-81 8h8m13 5h8m-8-7h8m1 5h8m34-5h8m-88 15h8m-2 1h8m-1-1h8m13 2h8m1-1h8m-3-2h8m-6 1h8m-52 6h8m-22 12h8m-3 1h8m-12 6h8"/><path stroke="#3d6cb0" d="M2108 372h8m-4 19h8m4 2h8m1 1h8m-9 6h8m-10 11h8m7 8h8m-4-2h8m-5 0h8m-7 4h8m-5 6h8m4-5h8m-18 10h8m-2 2h8m-1-2h8m-2 3h8m-6 12h8m-79 9h8m5 3h8m24-1h8m33-3h8m-265 14h8m101-9h8m-98 11h8m24 3h8m45-4h8m157 1h8m4 0h8m-181 11h8m29 6h8m94-7h8m-64 13h8m81-2h8m-166 9h8m144 7h8m20-3h8m3 3h8m-317 7h8m211 2h8m59-6h8m-303 14h8m36 4h8m156-5h8m82 2h8m11-2h8m-231 21h8m1-5h8m88 1h8m87 4h8m19 1h8m-307 8h8m110 0h8m190-4h8m-7 7h8m-258 10h8m25-4h8m47 6h8m157-5h8m-1 5h8m-208 3h8m5 2h8m3-1h8m77 1h8m-70 14h8m110-8h8m-336 15h8m-1-4h8m146 7h8m198-7h8m-354 11h8m33 3h8m30 2h8m18-3h8m102 2h8m133 3h8m-5 0h8m-29 6h8m7-4h8m-319 10h8m24 5h8m80-3h8m54-3h8m76 2h8m-338 16h8m136-1h8m37-4h8m52-1h8m-274 16h8m-2-2h8m48-5h8m124-1h8m52 4h8m-4-4h8m-267 19h8m82-6h8m52 2h8m239 12h8m-398 9h8m28-2h8m72 3h8m-22 10h8m7-2h8m131-3h8m155 7h8m-2-8h8m2 2h8m-445 16h8m165-7h8m70 5h8m41-2h8m62-4h8m11 1h8m-395 11h8m38 1h8m137 4h8m208 1h8m-423 2h8m2 8h8m-3-2h8m146-2h8m92-2h8m169-3h8m-6 1h8m-356 17h8m57-2h8m38 2h8m15-2h8m0 10h8m219-1h8m-467 9h8m153 3h8m287-3h8m7 3h8m-458 9h8m7-4h8m427-2h8m-1 9h8m-514 2h8m11 3h8m2-1h8m-3 0h8m40 6h8m42-6h8m-14 16h8m5-8h8m376 5h8m-508 13h8m24-1h8m122-2h8m350-4h8m-521 8h8m9 3h8m148-1h8m334-1h8m24 8h8m53-4h8m-6 2h8m-574 8h8m14 0h8m-5 3h8m22 0h8m25 1h8m-8 0h8m9-6h8m382 2h8m40-5h8m12 6h8m-648 8h8m8-3h8m9 6h8m11 0h8m56-2h8m29-1h8m-2-1h8m432-2h8m16-1h8m-634 15h8m39 0h8m12-2h8m31-2h8m30 6h8m-91 3h8m24 5h8m3 2h8m31-6h8m23 3h8m-176 7h8m11 1h8m13 1h8m-1-3h8m110 6h8m-5-3h8m-122 15h8m54 1h8m6-7h8m-143 10h8m-1 4h8m20 3h8m-4-9h8m32 6h8m-4-5h8m-93 15h8m67 1h8m0-5h8m-1-2h8m-81 18h8m-1-1h8m1-4h8m66 0h8m-114 15h8m4-7h8m7 6h8m3-2h8m-5 1h8m-5 7h8m-8-3h8m-45 17h8m15-5h8m4 5h8m-49 5h8m13 2h8m3-4h8"/><path stroke="#c83c9c" d="M2235 689h8m-29 8h8m1 2h8m6-8h8m-1-1h8m-47 13h8m46-3h8m-5 6h8m-7-4h8m-69 16h8m6-8h8m-44 12h8m40 0h8m-2 6h8m-17 6h8m3 1h8m43-2h8m-126 8h8m-6 7h8m63-4h8m-3-2h8m51-1h8m21 0h8m-203 12h8m-2 3h8m61-6h8m20 0h8m44 5h8m10-5h8m9 9h8m-194 6h8m69 3h8m90-2h8m13-6h8m-1 6h8m-2-2h8m-244 11h8m12 0h8m0-4h8m6 2h8m10 2h8m14-1h8m23-4h8m47 3h8m-5 4h8m-7-2h8m6 3h8m25-1h8m5 1h8m12-3h8m1-5h8m-220 17h8m0-3h8m48 3h8m7-7h8m5 1h8m0 5h8m11 3h8m-8-8h8m22 1h8m6 7h8m4-1h8m-228 6h8m14-3h8m-4 7h8m1-3h8m-6-5h8m-1 9h8m48-8h8m-5 4h8m-5 2h8m1-6h8m-6 0h8m155 4h8m-7-4h8m-323 16h8m26-4h8m-8 1h8m37 4h8m43-7h8m21-1h8m4 3h8m5 1h8m1-3h8m22-1h8m59 2h8m13-1h8m-2 4h8m-325 13h8m-1 1h8m20-7h8m4-2h8m16 7h8m52 0h8m-8-1h8m8 1h8m-1 0h8m0-2h8m47 0h8m-7-1h8m24-2h8m-2 0h8m-7 6h8m-7 1h8m-3-4h8m39 4h8m-2-1h8m0-7h8m-319 17h8m37-2h8m19 1h8m2-4h8m26 5h8m34-3h8m-1 3h8m4-3h8m16 4h8m-4-8h8m80 0h8m-1 1h8m-2 5h8m-4-4h8m28 1h8m-342 15h8m18-4h8m-7-4h8m2 7h8m-5-4h8m14 5h8m8-4h8m-1-5h8m-7 8h8m-5 1h8m14 0h8m-5-9h8m14 4h8m18 1h8m-6-5h8m36 8h8m67-6h8m10-1h8m-4 6h8m-6 0h8m19-6h8m29 2h8m-442 16h8m-2 0h8m19-3h8m26-5h8m9 5h8m14 0h8m1-3h8m23 0h8m-4 6h8m-8-7h8m-7-2h8m1 8h8m34-3h8m10-5h8m26 6h8m28-6h8m-4 4h8m63 0h8m-370 15h8m-4-3h8m-4 3h8m-7-1h8m9 0h8m-7-1h8m-3-6h8m-2 5h8m21 2h8m-1 0h8m31-3h8m39-4h8m-6 5h8m16-4h8m64 2h8m6 5h8m27-3h8m15-2h8m-5 5h8m30 0h8m18-3h8m26-4h8m-465 15h8m2-5h8m0 6h8m30-7h8m64 0h8m35 8h8m5-4h8m22 2h8m-3-2h8m14 0h8m5 1h8m16-6h8m-6 0h8m107 6h8m31-2h8m-2 5h8m-5-4h8m-4 2h8m-6-6h8m-459 13h8m3 0h8m-3-2h8m18-1h8m148 1h8m11 0h8m-7 4h8m-1-2h8m5 2h8m24 0h8m51 0h8m7-6h8m9 8h8m1-8h8m-6 0h8m4 9h8m52-4h8m2 0h8m-239 8h8m18 1h8m-2 5h8m23-8h8m31 0h8m58 1h8m36 2h8m1-1h8m-2-3h8m-230 18h8m2 0h8m4-2h8m-6 2h8m-5 0h8m-5-2h8m1 0h8m43 3h8m111-9h8m-209 14h8m10 1h8m19 3h8m-3-4h8m-7 2h8m93-4h8m28 4h8m7-3h8m2 3h8m-206 4h8m1 0h8m25 0h8m14 1h8m-8 6h8m-3-5h8m19 4h8m72-3h8m8 1h8m-189 7h8m36 4h8m-6-3h8m23 7h8m17-8h8m-7 8h8m9-5h8m9-1h8m25 5h8m0-6h8m-7 6h8m-5-8h8m-2 3h8m-187 9h8m0 6h8m13-5h8m6 6h8m14-7h8m54 7h8m0-1h8m24-3h8m-161 9h8m35 1h8m13-2h8m67-1h8m2 6h8m4-2h8m-6-5h8m-5 6h8m-156 8h8m9-4h8m26 6h8m1 2h8m15-1h8m0-1h8m-6-5h8m-6-2h8m33 2h8m-5 0h8m-8 0h8m1 6h8m-168 7h8m1-2h8m8 2h8m-7-5h8m3 4h8m16-3h8m2 6h8m-1-5h8m-1-1h8m-1 7h8m17-1h8m30-5h8m-151 14h8m27 2h8m8-4h8m-4 3h8m-7-3h8m0 3h8m20-3h8m17 3h8m-5-2h8m-5 4h8m-5-2h8m-7-3h8m5 2h8m-6-4h8m-3 0h8m-8 4h8m-63 12h8m26-5h8m13 0h8m-4-3h8m-132 19h8m-4-1h8m-3-1h8m11-2h8m0-5h8m46 9h8m-8-8h8m4 8h8m6-9h8m1 8h8m-7-4h8m-5 5h8m-119 1h8m0 1h8m93-1h8m-119 10h8m3 5h8m-2 3h8m11 1h8m17-3h8m0 3h8m5-8h8m-5 5h8m-2 1h8m1 0h8m-3-4h8m-8 0h8m-5 4h8m-7 0h8m-1-5h8m-112 10h8m14 0h8m33 3h8m-5 2h8m-2-2h8m7 2h8m2-4h8m-7-1h8m-2 6h8m-94 2h8m0 6h8m4-3h8m-4-2h8m0 8h8m7-4h8m1 2h8m10-4h8m-52 10h8m-5-2h8m4 7h8m21 0h8m-2-1h8m-6-3h8m-39 7h8m1 3h8m-4 2h8m-6-3h8m0 3h8m-8 1h8m3-5h8m-41 11h8m5 4h8m-3 1h8m-7-2h8m-7-2h8m-7 5h8m-21 13h8"/><path stroke="#e8a6c8" d="M2266 696h8m-5 12h8m-101 20h8m52-6h8m-3 5h8m39-3h8m-45 13h8m15-4h8m-80 13h8m55-3h8m22 2h8m-168 7h8m40 4h8m2 2h8m138 0h8m-189 10h8m11-3h8m45 3h8m-8 1h8m90 0h8m0-8h8m21 5h8m-208 13h8m23-5h8m48-3h8m7-1h8m68 4h8m15 14h8m16-1h8m8 2h8m-238 6h8m-1-1h8m31 2h8m169 0h8m-315 12h8m144-2h8m84-2h8m-7 0h8m65 5h8m-262 7h8m73 1h8m19-6h8m5 2h8m1 6h8m-166 5h8m19-1h8m-1 4h8m20-4h8m33 3h8m8 1h8m80-2h8m56 1h8m46-6h8m-7 5h8m-362 8h8m-7 5h8m-6-3h8m61-2h8m24 5h8m100-2h8m9 2h8m21-2h8m-4-3h8m52 5h8m7-4h8m-401 14h8m31-8h8m3 8h8m29-3h8m74 2h8m67-4h8m17-2h8m-7 1h8m-294 17h8m75-5h8m36 2h8m148 0h8m34-5h8m5-1h8m-351 16h8m35 2h8m0-3h8m-7 2h8m5-5h8m28-1h8m58 5h8m-7-4h8m40 2h8m22-4h8m56 3h8m71-2h8m25 2h8m-232 10h8m22 4h8m8-3h8m27 1h8m19 3h8m97-2h8m-167 6h8m118 7h8m15-9h8m39 5h8m-445 7h8m238-2h8m78 6h8m-91 7h8m114 5h8m-107 11h8m16 0h8m20-8h8m3 4h8m-7-1h8m4 5h8m63-1h8m-184 2h8m13 1h8m6 1h8m43-1h8m0 7h8m4-6h8m11 0h8m-53 12h8m26-2h8m-88 15h8m33 2h8m-13 10h8m106-2h8m-123 4h8m-8 6h8m0-7h8m11 2h8m2 2h8m-50 7h8m27 7h8m11-7h8m58 2h8m-1 0h8m-109 10h8m-4 1h8m1 15h8m3 3h8m-4 2h8m-33 9h8m21 0h8m-4 9h8m-3 4h8m47 2h8m7-5h8m-52 12h8m12 0h8m2 1h8m-38 11h8m25-7h8m-6 4h8m-25 9h8m-7 25h8"/><path stroke="#5a1050" d="M2240 703h8m22 4h8m-58 10h8m56 4h8m-145 15h8m69 5h8m37 8h8m50 17h8m-167 6h8m-5 6h8m1-6h8m34-2h8m1 1h8m1 6h8m-126 12h8m44 0h8m30-5h8m35 3h8m-78 5h8m-78 17h8m106-5h8m15 16h8m123 0h8m9 9h8m42-2h8m-387 6h8m199 1h8m75 2h8m108-6h8m-258 11h8m144 18h8m19-8h8m21 2h8m-405 9h8m273-1h8m-58 10h8m73 0h8m77 17h8m14-8h8m-102 11h8m81 7h8m-102 2h8m104 8h8m-179 2h8m60 8h8m-71 2h8m155 1h8m-104 58h8m98 13h8m-7 3h8m-21 14h8m6 14h8m-5 6h8m-33 7h8m8 30h8m-8 9h8"/></g>
<g fill="none" stroke-width="8" transform="scale(.1)"><path stroke="#3b528b" d="M2966 278h8m58 1h8m-63 9h8m67-7h8m-63 15h8m-1 1h8m26-6h8m6 5h8m-89 8h8m28-4h8m-1 4h8m-2-4h8m0 1h8m4-1h8m5 0h8m-79 12h8m33-1h8m-6 0h8m3 5h8m0-6h8m-3 7h8m0-1h8m-78 5h8m-2-1h8m5 2h8m27 2h8m-5-4h8m-58 14h8m41 3h8m-8-6h8m2 6h8m-98 6h8m-4 4h8m11 2h8m-8-7h8m-8 1h8m-4 5h8m-1-1h8m14-5h8m18 0h8m7 2h8m-85 9h8m48-3h8m-77 17h8m3-7h8m-5 8h8m41-5h8m9-2h8m-1 3h8m-94 7h8m7 8h8m-4-6h8m-1 4h8m11-1h8m2-2h8m11 5h8m-93 7h8m14-3h8m59 0h8m-86 14h8m-3-5h8m-5-1h8m-2-1h8m-22 15h8m-8-4h8m1 7h8m-1-2h8m13-2h8m18-1h8m16 3h8m9 2h8m-8 0h8m-151 10h8m72-8h8m-1 7h8m7-6h8m-8 5h8m11-5h8m-111 10h8m27 8h8m-1-3h8m41 3h8m-4-8h8m11 8h8m-1-9h8m3 5h8m2 2h8m-135 12h8m14-3h8m33 3h8m-3-8h8m1 5h8m5-2h8m13 1h8m-4 4h8m12-6h8m30 4h8m-134 8h8m7 2h8m18-7h8m-7 2h8m4 1h8m-6 0h8m-2 3h8m16-5h8m13 3h8m-177 15h8m-7 0h8m100-6h8m17-2h8m4 2h8m-159 13h8m76 1h8m-6-5h8m-6 4h8m-61 10h8m51 0h8m25 1h8m76-6h8m-238 14h8m37 3h8m32 0h8m47 1h8m-154 6h8m5-3h8m18-2h8m59 4h8m-136 11h8m-6 4h8m49-9h8m-65 16h8m46 3h8m-76 4h8m144-1h8m-162 12h8m110 4h8m5 1h8m43-8h8m-1 1h8m-189 10h8m84-1h8m-22 17h8m122-7h8m117 0h8m-301 15h8m7 3h8m134-6h8m29 3h8m-22 11h8m-2-5h8m-8 10h8m80 3h8m-336 14h8m30-5h8m31 4h8m147-5h8m-241 10h8m6-2h8m13 5h8m27-3h8m84 4h8m74-5h8m106 4h8m-283 7h8m282 3h8m-387 11h8m-3-5h8m10 5h8m-8-6h8m8 17h8m31 6h8m-87 9h8m135 0h8m4 3h8m9-1h8m13 3h8m79-3h8m48 1h8m29 2h8m-387 11h8m-3-7h8m30 3h8m320-4h8m-283 10h8m32 1h8m142-2h8m24 5h8m76-2h8m-371 10h8m-26 7h8m81 0h8m34 5h8m66 2h8m145 1h8m23-6h8m-371 9h8m54 3h8m251 5h8m-339 10h8m16-3h8m279-1h8m8 4h8m-326 9h8m125-7h8m-110 17h8m315-6h8m45-1h8m-404 17h8m176-6h8m-5-2h8m149 1h8m-277 11h8m15 5h8m19 1h8m20-6h8m39 4h8m176 3h8m-455 7h8m-8 0h8m23 2h8m216-5h8m12 4h8m86-3h8m43-3h8m-421 14h8m91 3h8m7-4h8m143 0h8m-281 13h8m69-5h8m139 4h8m81-5h8m3 4h8m159 1h8m-417 12h8m137-1h8m10-2h8m-226 11h8m214-5h8m88 6h8m63-4h8m17 0h8m74 1h8m16-2h8m-565 8h8m-7 4h8m-6 2h8m-4 2h8m-5 0h8m74-7h8m60 7h8m25-4h8m29-2h8m211 3h8m51 2h8m117-6h8m-642 16h8m1-7h8m57 8h8m19 1h8m29-4h8m-2 0h8m168 0h8m65 2h8m58-4h8m-446 13h8m106 0h8m179-4h8m24 0h8m50 1h8m11 3h8m109-1h8m-508 10h8m73-5h8m38 7h8m2-5h8m-3 3h8m182 3h8m120-7h8m-6 3h8m74-2h8m-602 14h8m1-6h8m0 7h8m-5 2h8m3-2h8m-3-4h8m174-1h8m216 6h8m11-5h8m53 4h8m18 1h8m0-8h8m-525 14h8m30 5h8m118-4h8m208-4h8m27 5h8m105-4h8m-572 13h8m1-4h8m481 4h8m25 2h8m-103 15h8m48 3h8m-483 14h8m407 0h8m-424 10h8m10-4h8m-3-1h8m3-1h8m382-2h8m19 18h8m-13 1h8m36 9h8m73-9h8m-65 20h8m10 6h8m-5 1h8m-64 25h8m-7 2h8m-1-4h8m6 0h8m0 6h8m59-4h8m-74 18h8m54 8h8m-9 27h8m-24 16h8"/><path stroke="#2c728e" d="M3046 267h8m-85 12h8m-2-2h8m48 2h8m1-3h8m1 1h8m-62 10h8m10-3h8m-7 3h8m-8 1h8m5 1h8m2-8h8m-3 6h8m-6 1h8m-7 0h8m-81 5h8m14 6h8m-5-4h8m4-2h8m16 4h8m-2 2h8m-1-4h8m-7 2h8m-76 8h8m0 4h8m-6 0h8m12-5h8m-7 5h8m-6-1h8m2 0h8m0 0h8m-4-2h8m3-4h8m3 1h8m-98 7h8m-7 2h8m0 5h8m-6-7h8m1 9h8m-1-9h8m27 3h8m-5-3h8m-70 15h8m-2 0h8m10 4h8m-4-3h8m3-5h8m-7 3h8m3-3h8m28-1h8m-97 15h8m3-2h8m14 0h8m-5 4h8m0-7h8m24 4h8m-4 5h8m-2-4h8m-93 8h8m-3-3h8m-3 8h8m-1-5h8m-2 5h8m5-2h8m4 1h8m-6-7h8m-5 1h8m-5 8h8m-7-6h8m4 5h8m17-3h8m-94 13h8m1-1h8m4-7h8m4 5h8m-7 2h8m3-3h8m-1 0h8m1 3h8m-6 1h8m-84 4h8m3 0h8m-3 6h8m-2-3h8m-6 0h8m4-2h8m-5 5h8m-7-8h8m14 6h8m-7-3h8m-4 0h8m-3 1h8m-2 5h8m-5-7h8m-8 2h8m-4-1h8m2 2h8m-83 6h8m-2 1h8m-7 1h8m-5-3h8m2 6h8m-6-6h8m7 4h8m-8 3h8m-3-3h8m-5 4h8m-7-8h8m0 0h8m-1 5h8m-4-4h8m-1 5h8m3 3h8m-113 7h8m-1-4h8m7 2h8m-3-2h8m-1 2h8m11 4h8m11-2h8m-4 2h8m3-8h8m-5 1h8m-95 11h8m5 6h8m7 1h8m-7-7h8m0-2h8m-3 9h8m-6-2h8m11-6h8m-5 5h8m9-3h8m3 6h8m4-5h8m-6 0h8m-106 14h8m6-4h8m0 2h8m8-5h8m-6 1h8m-4 7h8m18-3h8m4 3h8m0-3h8m-3-1h8m-6 1h8m-116 5h8m15 0h8m2 5h8m-7-2h8m5 5h8m2-9h8m-6 9h8m-8-8h8m6 4h8m-5 0h8m12 1h8m-138 11h8m20 1h8m6-7h8m19 5h8m-6 0h8m1 2h8m5 0h8m3-1h8m1 2h8m-7-1h8m1 0h8m-7-3h8m5-5h8m-4 7h8m-144 8h8m34 2h8m6-1h8m1 3h8m-4-1h8m-5-7h8m-5 3h8m-6-3h8m-4 8h8m-1-4h8m0-3h8m-8 2h8m-4 0h8m1 1h8m-1 2h8m-6-7h8m0 1h8m-143 9h8m57 9h8m-6-6h8m1 1h8m-7-3h8m17 2h8m-5-1h8m-6-1h8m0 5h8m-5-1h8m-1-4h8m-6 4h8m-2 2h8m-6-2h8m-2-1h8m-4-4h8m-7 6h8m-8-2h8m-3-4h8m-4 1h8m0 0h8m4 6h8m-180 10h8m-7 1h8m8-8h8m-8 8h8m-6-5h8m-3 4h8m-8 2h8m-8-5h8m-2-2h8m15-1h8m-6 5h8m-1 3h8m11-3h8m18 1h8m-5-3h8m-4 2h8m2-2h8m-3-4h8m1 8h8m11-3h8m-5-4h8m-5-1h8m-6 5h8m5 3h8m-206 7h8m4 2h8m-4 1h8m-3-8h8m-7 4h8m22-3h8m3 8h8m43 0h8m-3-6h8m4 5h8m-5-6h8m7 0h8m2 5h8m-4 2h8m31-1h8m-223 6h8m-6-1h8m31 1h8m14-3h8m7 1h8m4 0h8m17 3h8m1 3h8m1-6h8m-6 6h8m-4 1h8m-5-9h8m-2 5h8m20 4h8m15-1h8m4-8h8m-1 1h8m-205 13h8m-4 2h8m0-3h8m23-2h8m-6 5h8m49-3h8m-3 3h8m17-5h8m-6 2h8m-8 0h8m-1-3h8m-6 1h8m-7 6h8m9 0h8m1-1h8m-1-2h8m-211 9h8m9 4h8m-5 1h8m-3-2h8m-3-5h8m10 0h8m11 3h8m-8 0h8m4 5h8m10-6h8m-4 0h8m-6 5h8m44-4h8m10 4h8m-7-2h8m-5-4h8m9 3h8m6-4h8m11 3h8m-223 13h8m22 0h8m93-7h8m73 20h8m-6 3h8m3 6h8m-226 6h8m112 0h8m-153 12h8m18 3h8m74 9h8m9-2h8m-10 11h8m-114 9h8m-4 0h8m60 1h8m145-8h8m-255 12h8m43 3h8m-41 11h8m45-3h8m-76 11h8m15-4h8m162 1h8m-209 15h8m-1-4h8m-8 5h8m1-1h8m-1 2h8m11-1h8m85 0h8m115 0h8m-228 10h8m49-4h8m15-2h8m-87 17h8m139-7h8m-168 17h8m1-1h8m121-3h8m-156 6h8m-7 2h8m-3 7h8m-4-7h8m-30 8h8m-19 28h8m15-7h8m-27 9h8m0 15h8m102 3h8m-140 9h8m4-7h8m-7 6h8m15 0h8m7-5h8m117 8h8m89-6h8m-262 8h8m7 8h8m57-4h8m75-2h8m21 0h8m26 6h8m-254 8h8m-7-5h8m-5 7h8m3-9h8m14 8h8m-6-4h8m131-4h8m-188 18h8m5 0h8m123-4h8m-148 8h8m-15 17h8m-3-3h8m-3-2h8m1 15h8m0-4h8m1 4h8m7-9h8m-56 15h8m27 0h8m80-1h8m-134 7h8m-5 3h8m-5-1h8m-3 5h8m5-7h8m2 8h8m-43 3h8m11 0h8m30 4h8m-4-3h8m100 0h8m-179 12h8m7 0h8m-8-1h8m-2-2h8m1 3h8m-40 10h8m2 3h8m5-4h8m0 0h8m66-1h8m81 3h8m-192 4h8m-7 3h8m0 6h8m11-3h8m-7-6h8m2 8h8m116-6h8m-184 13h8m5 0h8m-7 0h8m26 4h8m116-5h8m-181 10h8m-7-4h8m-2 6h8m-14 6h8m25 7h8m82-8h8m-125 14h8m-6 1h8m-1-3h8m-8 5h8m1-8h8m-2 1h8m13 8h8m-57 2h8m-6 2h8m18 1h8m-34 15h8m1-4h8m2 2h8m-5-7h8m6 5h8m2 1h8m-57 8h8m-6-3h8m9 4h8m0-2h8m-7 2h8m5 1h8m17-2h8m-63 7h8m0 5h8m-1-5h8m-2 7h8m-3-2h8m-43 10h8m5 2h8m-23 9h8m-7-6h8m1-1h8"/><path stroke="#440154" d="M2981 279h8m47-3h8m9-2h8m-95 17h8m27-1h8m-3 9h8m-37 4h8m-7 5h8m-6-1h8m14 11h8m38-4h8m-49 9h8m5 7h8m-30 16h8m17 3h8m17-1h8m-5 1h8m-49 14h8m53 3h8m-7-4h8m-74 12h8m50-4h8m5 5h8m-8 4h8m3-1h8m-81 3h8m62 2h8m-7 2h8m0 8h8m-160 15h8m3-3h8m3-1h8m9 1h8m24-5h8m42 7h8m23-7h8m-6 0h8m-114 15h8m14 0h8m77-4h8m11 2h8m-5-1h8m-6 4h8m-196 13h8m20-2h8m33-3h8m70-2h8m39 7h8m-1-4h8m-210 6h8m22 6h8m5-7h8m8 5h8m4 0h8m14-1h8m-2 5h8m65 0h8m18-3h8m8-2h8m-7 4h8m-231 4h8m-1 2h8m65-4h8m38 0h8m5 9h8m35-6h8m-5-2h8m-8 8h8m-2-3h8m-8-3h8m22 1h8m-7 5h8m-4-2h8m-247 8h8m-8-1h8m24 5h8m-1-8h8m14-1h8m-6 8h8m57 0h8m3 0h8m14-8h8m52 6h8m16-1h8m-4 1h8m-2 0h8m-266 6h8m82-1h8m14 8h8m33-1h8m-1-5h8m-7 2h8m-5-5h8m47 2h8m13 6h8m8 0h8m-4-6h8m-4 6h8m-278 5h8m8 2h8m22-4h8m26-1h8m63 3h8m33-3h8m-3 6h8m-7-1h8m-4-3h8m59-2h8m-5 1h8m-6 0h8m-7 7h8m-8-8h8m-8 2h8m-3 0h8m-8 1h8m0 2h8m-8 3h8m4 1h8m-321 1h8m48 9h8m6-2h8m-5-2h8m-3-3h8m9 2h8m6-2h8m-2 1h8m14 4h8m10-4h8m-4 3h8m-4-2h8m-2-1h8m33-1h8m49-2h8m2 7h8m17-5h8m-7 2h8m-7 4h8m0-5h8m-321 7h8m49 7h8m29-4h8m-7 4h8m52-4h8m-3 2h8m-6 3h8m24-1h8m14-7h8m2 6h8m-3-6h8m25 9h8m46-8h8m-5 5h8m-7-1h8m-6 4h8m-320 6h8m41-4h8m-3 7h8m-8-4h8m-1 5h8m6 0h8m-1-4h8m4 4h8m2-8h8m-3 6h8m8-5h8m-6 5h8m10-1h8m-1-2h8m-7 5h8m2 0h8m1-8h8m0 3h8m-8 1h8m-5 3h8m-3-7h8m5 1h8m-5-1h8m2 1h8m0 6h8m66-6h8m11 5h8m-8-3h8m-8-4h8m-332 13h8m30 6h8m13-2h8m6-4h8m-2 2h8m-7 2h8m24-7h8m3 7h8m-8-4h8m17-2h8m-3 4h8m30-5h8m14 9h8m1-4h8m5-2h8m37 6h8m10-3h8m16-2h8m-5-3h8m-6 1h8m-6-1h8m-301 13h8m-3-1h8m2 1h8m10-2h8m2-2h8m-2 7h8m24 2h8m1-5h8m2-2h8m20-1h8m-5 2h8m8-2h8m-3 8h8m-6-9h8m-6 5h8m-7-2h8m13 3h8m17 3h8m80-4h8m-5-1h8m-8 0h8m-7-2h8m-7-1h8m-7 6h8m-5 1h8m-320 11h8m5-5h8m62 2h8m5-5h8m1-1h8m12 9h8m9-8h8m-2 1h8m-7 4h8m0 0h8m-5 2h8m-1-4h8m7 0h8m25 2h8m88-6h8m-6 6h8m-7-1h8m-8 2h8m1 1h8m-356 4h8m-7-2h8m-6 0h8m39 7h8m-2-3h8m-4 5h8m1-1h8m-2-7h8m0 7h8m-7-5h8m-7-1h8m23 5h8m3-7h8m-1 6h8m-6 2h8m-7-3h8m4 3h8m4-4h8m14-4h8m-5 9h8m20-5h8m-3 0h8m2-2h8m8 6h8m-8 0h8m0-3h8m-7 2h8m6-5h8m34 4h8m4-1h8m13 0h8m-4 3h8m-7-1h8m-360 4h8m15 6h8m-3-4h8m-8 4h8m16-6h8m-7 7h8m-6-1h8m13-3h8m6 5h8m-5-1h8m-7-5h8m-6 3h8m-7-4h8m-8 3h8m-4-2h8m-7 4h8m7 0h8m-1-2h8m21-2h8m-4-1h8m0-1h8m1 0h8m-7-1h8m-4 2h8m-4 3h8m1 3h8m-7-8h8m19 6h8m-7-5h8m3 3h8m-8 2h8m-6 1h8m-4-3h8m-2-2h8m-3 4h8m-2-5h8m8 4h8m74-4h8m-360 16h8m42-5h8m-7 3h8m-8 1h8m15-6h8m11 4h8m17 0h8m-1 3h8m3 1h8m-1-8h8m-8 3h8m-1-2h8m-6 2h8m-3 1h8m5 4h8m2-4h8m-3-2h8m-3 2h8m-3 2h8m-1-6h8m0 6h8m-5-2h8m-8-3h8m-7 7h8m7-1h8m-6-4h8m8 0h8m3-3h8m29 6h8m3-5h8m1 4h8m4-3h8m1-1h8m12 1h8m-7-1h8m-6 2h8m-7 0h8m-6-2h8m-7-1h8m-351 19h8m5-5h8m-7 2h8m2-4h8m3 0h8m-7 3h8m24 3h8m-6-7h8m-7 8h8m-6-2h8m-2-1h8m-6-6h8m-3 9h8m-5-9h8m22 1h8m-4-1h8m-5 1h8m-6 4h8m-7 1h8m-6 2h8m-8 1h8m-3-8h8m11 2h8m-2 5h8m-5 1h8m4-8h8m-7 0h8m-6 8h8m-1-9h8m-3 0h8m15 7h8m1-7h8m9 9h8m6-2h8m-6 2h8m7-5h8m-1 0h8m-3 0h8m-302 15h8m2-3h8m14-2h8m-8 2h8m2 1h8m-6-5h8m-5 0h8m-5 0h8m10 7h8m-3-5h8m8-4h8m-6 3h8m0 2h8m-2-4h8m-5 1h8m-6 5h8m23-6h8m-4 0h8m38 4h8m1-3h8m-4-2h8m-6 6h8m2-3h8m6 5h8m-8-2h8m-7-5h8m-3-1h8m-4 4h8m-6 2h8m4 2h8m-6 1h8m-8-9h8m-4 5h8m-6-2h8m17 5h8m2-4h8m31 5h8m19-1h8m-7 0h8m-374 5h8m15 2h8m-7-4h8m-6-1h8m-8 8h8m0-2h8m-5 3h8m-7-4h8m10-1h8m8 5h8m4-8h8m0 7h8m-4-2h8m-1-6h8m-6 7h8m-7-5h8m11 1h8m13-2h8m-4 2h8m-8 5h8m0-2h8m-6-5h8m-4 7h8m5-2h8m-7-5h8m-6 1h8m15-1h8m-3 1h8m-2 6h8m-3-5h8m1 2h8m-7-4h8m12 2h8m30-1h8m67 0h8m-3 6h8m-368 8h8m4-1h8m-6 4h8m-7-8h8m-8 5h8m0-6h8m-6 3h8m-5 1h8m-4-1h8m-3-3h8m-6 5h8m-2 0h8m0-4h8m-5-1h8m-7 6h8m-7 1h8m8 1h8m-5 0h8m-8 1h8m15-5h8m-1-3h8m4 8h8m-4-3h8m-6-4h8m1 1h8m4 6h8m-7-6h8m-2 1h8m7-4h8m-4 5h8m1-2h8m11 0h8m8-1h8m3-2h8m-1 7h8m12-1h8m18-3h8m52 1h8m11-1h8m-1-1h8m-4 5h8m-388 11h8m-5-8h8m-5 9h8m8-2h8m8 1h8m3-6h8m-7 1h8m-5 2h8m-3 4h8m4-5h8m-8 0h8m11 3h8m-6-3h8m-7 5h8m0-1h8m5-6h8m-1-2h8m-2 1h8m6-1h8m-7 9h8m11-3h8m29 0h8m-8 0h8m2-6h8m-5 8h8m-5 1h8m-6-9h8m-7 3h8m-7-1h8m-5 4h8m-6 3h8m-7-9h8m3 3h8m6 2h8m8 1h8m-8 0h8m2-5h8m-2 3h8m-6-3h8m22 5h8m55 0h8m-3-5h8m-395 13h8m-2 0h8m11 3h8m-2-1h8m-4-1h8m-4 4h8m-1-1h8m-7 0h8m3-8h8m-2 5h8m-5-1h8m2-4h8m-2 0h8m-5 7h8m18-4h8m-7 4h8m-7-2h8m9-4h8m12 6h8m-7-5h8m-5-1h8m-5 4h8m-8 4h8m3-6h8m-8 3h8m6 3h8m-7-1h8m8 1h8m-3-6h8m-2 2h8m-5 2h8m-6 0h8m6-7h8m-6 9h8m-5-9h8m-2 1h8m2 1h8m-4 1h8m-8-3h8m-7 3h8m-4 5h8m-8 1h8m-6 0h8m-6 0h8m-5-7h8m1 6h8m-6-2h8m-5-2h8m-2 2h8m-2-6h8m-6 6h8m-6 1h8m-7 0h8m1-7h8m-6 8h8m-6-2h8m1-6h8m-5 1h8m-7-1h8m14 6h8m19 3h8m0-6h8m5 2h8m-403 13h8m22-1h8m29-5h8m5 0h8m-7 1h8m6 2h8m24 3h8m-4-5h8m-5-2h8m4 1h8m12 7h8m4-6h8m-5 3h8m-3-5h8m-1 0h8m-7 1h8m-4 4h8m-3 1h8m-4-4h8m0 2h8m-7 3h8m5-3h8m4-3h8m-5-1h8m-5 3h8m-6-3h8m-8 6h8m-7-7h8m-6 6h8m-2-6h8m-7 6h8m-8-2h8m-2 0h8m-4-1h8m-8 6h8m-4-8h8m-1 1h8m-2 5h8m-1 2h8m-3-1h8m-7-4h8m-7-4h8m12 1h8m-2 3h8m56-3h8m-7 1h8m-2 7h8m-6-6h8m-5 4h8m-5 2h8m-414 5h8m-3 3h8m3-5h8m-1-2h8m4 8h8m-6-8h8m-6 6h8m15 1h8m12-1h8m-5-3h8m-6 5h8m-7-4h8m-7 3h8m-1-6h8m-8 5h8m0-2h8m4-1h8m22 6h8m-6-6h8m-2 3h8m13 2h8m-6 0h8m-8-6h8m-7 0h8m2 1h8m1 1h8m-3 5h8m-2-1h8m-3-2h8m4 2h8m-4-6h8m5-1h8m-6 2h8m-2-2h8m-5 8h8m-4-9h8m-3 4h8m0 5h8m0-5h8m-8-4h8m-1 4h8m-7-2h8m-5 3h8m-7 4h8m1-1h8m-4 0h8m-7-3h8m-7 2h8m-8-4h8m-6 5h8m-6-2h8m-3 3h8m11 0h8m-6-2h8m-6-1h8m-5 0h8m1-1h8m-3 4h8m33-5h8m-4-2h8m-408 15h8m0-5h8m-2 2h8m16 4h8m5-6h8m-4 0h8m5-2h8m-8 4h8m35 0h8m-5 5h8m3-9h8m-5 3h8m-5 3h8m-2-1h8m7 4h8m5-6h8m24 5h8m22-3h8m12-4h8m5 4h8m0-5h8m-4 5h8m-5 3h8m-7-6h8m-8 6h8m-5 0h8m3-4h8m-6-1h8m-5 1h8m-1 5h8m-7-5h8m-5 1h8m-5-3h8m-1 0h8m8 7h8m-7 0h8m-2 0h8m0-8h8m0 7h8m-375 8h8m7-3h8m14 0h8m15 3h8m-1-1h8m5-4h8m2 8h8m-6-9h8m16 4h8m17 4h8m0-5h8m-7 2h8m5-5h8m-2 9h8m-4-5h8m-7-1h8m-2 5h8m-1 1h8m-1-3h8m-6 0h8m33 1h8m-6-7h8m-6 1h8m14 4h8m-8-3h8m-7-1h8m9 6h8m-6-5h8m-3 4h8m-5-6h8m-6 4h8m-2 4h8m-2-7h8m5 3h8m0 2h8m-5 2h8m-6 1h8m-7-3h8m-8 1h8m-7-7h8m-3 9h8m0-9h8m0 3h8m64 4h8m-425 9h8m-4-1h8m13-3h8m-7 2h8m-5 5h8m6-8h8m-5 6h8m14-2h8m1-2h8m3 2h8m-2 0h8m-1-2h8m-7 3h8m13-4h8m2 3h8m2 1h8m11-5h8m-5 6h8m-8 1h8m-1-1h8m24-5h8m-4 6h8m22-5h8m3 0h8m-1-1h8m-2 6h8m-5-6h8m-5 7h8m-4-6h8m0 4h8m-7 1h8m-7 0h8m-3-8h8m-5 9h8m3-4h8m-8 4h8m1-2h8m-8-6h8m-5 1h8m-5-2h8m-7 9h8m4-8h8m8 4h8m-7 2h8m-8-5h8m28 7h8m6-2h8m14-3h8m-7 2h8m0-6h8m-436 13h8m18-2h8m2 4h8m-3 0h8m-6-5h8m-7 5h8m4 1h8m14 2h8m-7-5h8m-4 1h8m-2 5h8m-3-1h8m-6-8h8m-5 7h8m-6-7h8m1 4h8m-2 4h8m-5-5h8m-5 6h8m16-2h8m-7-5h8m1 7h8m11-3h8m-6 1h8m-2 0h8m7-1h8m0 2h8m-5-3h8m-5 1h8m1 2h8m37-5h8m11-3h8m-6 4h8m-6-3h8m17-1h8m18 4h8m-7-1h8m-8 1h8m5-3h8m56 7h8m-408 11h8m4-7h8m-2-1h8m18 3h8m1 5h8m3-3h8m18-4h8m1 5h8m4-6h8m-3 7h8m5-7h8m9 5h8m17-1h8m3 3h8m-2-2h8m-2-5h8m9 3h8m-7-4h8m-3 4h8m0 4h8m7-7h8m1 5h8m5 1h8m1-2h8m-1-3h8m-8 2h8m-2 3h8m3 1h8m9 1h8m3-8h8m75 0h8m-4 6h8m8 2h8m-464 7h8m-7 3h8m-7 0h8m-4-3h8m24 2h8m19-2h8m0 0h8m-3-1h8m3 4h8m-6-3h8m-6-4h8m0 1h8m-4-1h8m-1 2h8m-5-1h8m-5-3h8m-6 4h8m5-3h8m0 2h8m-6 3h8m-4 0h8m0 0h8m-8-1h8m15 1h8m2-2h8m9 3h8m11-7h8m2 3h8m20 4h8m24-5h8m-5 0h8m18 4h8m-6 3h8m-4-2h8m95-2h8m-4-5h8m4 7h8m-8-6h8m-5 1h8m-8 6h8m-7-4h8m-462 10h8m-2 5h8m11-4h8m-2-1h8m-8-4h8m3 1h8m9 2h8m-4 2h8m-5 2h8m5-4h8m-5 3h8m1-5h8m30 8h8m5-8h8m-1 7h8m4-1h8m-2-5h8m-2-1h8m-1 5h8m0-3h8m4 5h8m11-4h8m-5-3h8m-8 3h8m-3 2h8m-2-5h8m-2 4h8m-6-5h8m-2 9h8m-4-6h8m0 2h8m0-4h8m16 1h8m-2-2h8m-5 1h8m33 4h8m25-4h8m76 6h8m-452 10h8m3-1h8m-2-1h8m-3 4h8m-2-4h8m-1 0h8m-1-5h8m-5 6h8m-8-1h8m-3 2h8m-4 0h8m7-6h8m-2 2h8m-1 4h8m-4 0h8m1-6h8m-1-1h8m-3 6h8m10 2h8m-8-6h8m-5 7h8m-6-8h8m-8 2h8m5-3h8m-4 8h8m17-3h8m-3-4h8m-6 8h8m-2-8h8m-8 6h8m-7-5h8m-1 7h8m-7-5h8m2-1h8m-5-1h8m17 5h8m-7 0h8m-5-2h8m-4-3h8m3-1h8m-5 6h8m-5-5h8m-6 5h8m-5-2h8m13-2h8m-1-3h8m6 4h8m-1 2h8m-7 1h8m2-5h8m-7-2h8m13 3h8m5 5h8m-6-7h8m17-1h8m-5 0h8m24 1h8m-417 17h8m25 1h8m6-9h8m-6 3h8m-6-1h8m-2 6h8m-7-2h8m29 3h8m-4-7h8m-3 2h8m6-2h8m8-1h8m10 7h8m24-6h8m-2 1h8m-5 6h8m1-9h8m10 5h8m23-1h8m11 0h8m28-2h8m31-2h8m-3 2h8m-2-2h8m0 1h8m19 1h8m-2 1h8m18 2h8m19 0h8m-478 9h8m-2 5h8m25-9h8m-8 5h8m7-4h8m2 5h8m-7 2h8m9-5h8m0 1h8m-6-3h8m7 8h8m9-4h8m8 4h8m-8-7h8m-4 4h8m2-3h8m2 2h8m-6 1h8m-4-1h8m29 4h8m-7-1h8m14-2h8m3-6h8m1 4h8m3-4h8m36 6h8m-4-4h8m12-1h8m-4-1h8m16 5h8m43-2h8m23-1h8m-5 0h8m31 2h8m-495 13h8m43 2h8m11-7h8m-4 7h8m-5-3h8m-5-3h8m18 6h8m8-6h8m-7 6h8m2-4h8m10-1h8m1 4h8m-3-1h8m-2 2h8m-4-5h8m-5 0h8m-7 1h8m-6 4h8m10-6h8m-6 2h8m6 2h8m8-6h8m10-1h8m20 6h8m12-2h8m7-1h8m-5 4h8m30-5h8m25 3h8m-5-3h8m-1 1h8m59-2h8m17-1h8m-440 19h8m-3 0h8m-2-6h8m15 4h8m6-5h8m-3-2h8m-3 9h8m2 0h8m3-8h8m4 8h8m-5-2h8m25 2h8m-5-7h8m-4 4h8m-7-4h8m2 6h8m26-3h8m61-4h8m20 8h8m-8-5h8m13 0h8m2-3h8m-5 6h8m-1-7h8m7 8h8m16 0h8m-6 0h8m-2-2h8m4-5h8m0 4h8m30 2h8m6 0h8m-481 5h8m-1 7h8m-5-4h8m3-3h8m-7-1h8m-4 8h8m-6-4h8m-5-3h8m-8-1h8m-2 5h8m-5-4h8m-7 1h8m-5 3h8m-5 2h8m-7-2h8m-7-6h8m0 4h8m-8 2h8m-1-3h8m3 3h8m-7 3h8m-6-8h8m-8 0h8m-6 7h8m-7 1h8m14-2h8m13-3h8m-2 1h8m21 3h8m2-7h8m7 6h8m8-7h8m-4 0h8m30 1h8m-4 6h8m-3-4h8m26 0h8m11-2h8m-5 7h8m-7-5h8m18 2h8m-4 2h8m31-3h8m45 2h8m-3 2h8m5-8h8m8 7h8m13 2h8m-4-4h8m-8 4h8m-7-6h8m-4 6h8m-516 5h8m2-2h8m20 1h8m0-3h8m-8 8h8m-6 0h8m-4-5h8m19-3h8m-1 2h8m30 1h8m8 1h8m-3 4h8m-5-4h8m26 4h8m-7 0h8m5-7h8m7-1h8m-3 8h8m2 0h8m12-6h8m3 7h8m8-4h8m14-3h8m-4-1h8m8-1h8m4 5h8m4 1h8m12 1h8m9-5h8m-7 5h8m30 0h8m10-6h8m1 8h8m10-9h8m44 3h8m-8-1h8m-1 1h8m-7-2h8m-1 8h8m-4-4h8m1-2h8m-8 4h8m-501 5h8m2 3h8m13 4h8m-7-5h8m7 2h8m1-6h8m4 8h8m4-7h8m-2 5h8m-3-6h8m0 2h8m3 1h8m5-1h8m-1 0h8m5-2h8m-1 6h8m-7-6h8m18 6h8m8 1h8m7-5h8m49 3h8m8-2h8m0 4h8m26-6h8m34 4h8m-6-5h8m22 9h8m3-4h8m-2-3h8m2-1h8m9 0h8m8 8h8m-1-9h8m4 6h8m11 1h8m-4 1h8m39 1h8m24-2h8m1 0h8m1 2h8m-647 1h8m2 4h8m11-1h8m37-1h8m-5 1h8m0 3h8m-4-1h8m-6 3h8m16-1h8m3-6h8m-6 7h8m-1-4h8m16-4h8m-7 2h8m9 3h8m-2 2h8m1-2h8m5-4h8m-7 0h8m5-1h8m0 1h8m46 6h8m12-7h8m-4 6h8m32-2h8m36 4h8m7-3h8m30-1h8m2 0h8m-7 1h8m-7 3h8m-5-2h8m-5-5h8m-1 3h8m30 0h8m-3 0h8m8 4h8m30 0h8m10-2h8m-3-2h8m1-3h8m-7 1h8m4 2h8m-6 2h8m8-4h8m-642 16h8m-4 1h8m2-1h8m-6-3h8m17-3h8m2 1h8m-5 3h8m-7 0h8m4 2h8m-4-3h8m0 3h8m-1 0h8m7 1h8m6-4h8m-1 4h8m6-5h8m23-4h8m6 8h8m-2-6h8m14 4h8m3 2h8m0-4h8m68 2h8m10-3h8m0 1h8m17-4h8m-5 6h8m-5 1h8m16-2h8m14-3h8m20 0h8m-7 5h8m25-4h8m15 5h8m21-4h8m46-2h8m-4 1h8m-2 0h8m-5 1h8m-3-2h8m2 2h8m3-2h8m-4 1h8m0-3h8m-632 16h8m2-5h8m29 4h8m-8 2h8m-3-2h8m-1-2h8m-4 6h8m10-4h8m-5-1h8m15 0h8m9-2h8m-5 6h8m2-6h8m-3 0h8m-5 0h8m6 2h8m-7-4h8m7 1h8m33 4h8m35 2h8m6 1h8m6-8h8m3 5h8m8 0h8m11 3h8m15-2h8m25 0h8m54 2h8m22 1h8m34-9h8m4 5h8m9-1h8m5 0h8m-8-1h8m-577 13h8m-3 2h8m-6 1h8m3-1h8m4-2h8m18 0h8m0-1h8m16 2h8m-3-5h8m-1 6h8m6 0h8m-6-8h8m-7 4h8m-3-2h8m3 2h8m17-1h8m11 0h8m26 1h8m29 0h8m-4 2h8m-8-4h8m4 7h8m-6-4h8m0-4h8m-8 2h8m-1 3h8m-7 0h8m-2-6h8m21 3h8m7 0h8m-6 2h8m10 1h8m17-5h8m26-1h8m-2 6h8m29 2h8m-2-6h8m-3 1h8m-4 4h8m7 2h8m4-9h8m46 2h8m27 4h8m-7-3h8m-4-2h8m-583 13h8m12 4h8m-2-8h8m-8 9h8m25-2h8m11 2h8m9-7h8m-7-2h8m-3 1h8m6 4h8m3 2h8m-4 1h8m-4-2h8m-5 1h8m21 2h8m-7-3h8m7-6h8m-2 4h8m-5 3h8m-7-1h8m-6-2h8m-2 5h8m3-9h8m-6 6h8m-7-5h8m0 7h8m-3-4h8m16-4h8m3 0h8m14 0h8m14 5h8m-5-2h8m30 6h8m6-8h8m1 8h8m1-5h8m15 2h8m-6-2h8m44 1h8m46-1h8m46 1h8m-6 2h8m0-1h8m-570 11h8m4-6h8m21 8h8m-7 0h8m-4-9h8m5 4h8m-3 0h8m-5 2h8m-5-4h8m-6 2h8m5-1h8m0-3h8m12 7h8m-4-7h8m-4 1h8m-7 0h8m3 5h8m-7-2h8m-6 0h8m6 0h8m14 3h8m5 0h8m-2-6h8m-2 5h8m3-2h8m11-3h8m13 4h8m7-5h8m-2 4h8m-7 0h8m15-1h8m22 3h8m18-6h8m4 5h8m-6-1h8m26-2h8m34-2h8m-6 8h8m4-3h8m3-4h8m-4 1h8m1 1h8m-6 0h8m-4 0h8m19 5h8m-8-4h8m11 2h8m6-4h8m12-1h8m-581 17h8m-4-3h8m9 2h8m21 0h8m8 2h8m-8-9h8m-1 4h8m5 0h8m-8 2h8m0-5h8m16 1h8m-2-1h8m2-1h8m-5 2h8m-7 0h8m-7-2h8m-4 6h8m-8-5h8m-4 4h8m-8-4h8m-7 0h8m12 6h8m-7-7h8m125 6h8m11-4h8m77 0h8m2 7h8m24-2h8m13-1h8m67-2h8m-578 13h8m19 1h8m18-5h8m9 5h8m-7-8h8m16 5h8m-6-5h8m-4 7h8m-5-6h8m2 1h8m36 1h8m25 0h8m161 0h8m-6 5h8m-3-4h8m-8 5h8m-1-7h8m14-1h8m15 1h8m9 6h8m-5 0h8m32-5h8m-5-1h8m10 5h8m-3 2h8m-5-4h8m78 1h8m-5-6h8m-594 19h8m45-1h8m-8-8h8m25 0h8m254 4h8m0 3h8m-6-6h8m3 0h8m7 5h8m-2 3h8m53-4h8m56-2h8m42 2h8m-534 14h8m-7-7h8m12 1h8m-4 3h8m-6-1h8m-5-5h8m-1 1h8m276-1h8m3 8h8m1-3h8m9 2h8m-1-7h8m-5 4h8m-4-3h8m4 8h8m-6 0h8m27-6h8m27 0h8m22-3h8m9 0h8m26 8h8m0-3h8m-579 9h8m8 3h8m2-7h8m4 8h8m318-7h8m3-1h8m0 1h8m14 2h8m0-2h8m4 4h8m41-1h8m2 5h8m-7-3h8m-8-4h8m6 2h8m-7 4h8m-5-2h8m7-1h8m19-3h8m0 1h8m-584 7h8m-6 5h8m14-5h8m392 6h8m-3 1h8m-5-6h8m-8-1h8m9 3h8m-3 0h8m1 5h8m-7-2h8m2-6h8m-6 9h8m14-9h8m-7 9h8m-6-3h8m3-6h8m0 5h8m-4-3h8m-3 2h8m-5-2h8m18 4h8m-5-6h8m2 8h8m-7 0h8m-547 2h8m387 3h8m10 3h8m2 3h8m-6-2h8m11-1h8m11-2h8m12-1h8m-7-3h8m12 7h8m-3 2h8m-6-4h8m6-1h8m14 2h8m-6-1h8m-5 2h8m-184 6h8m4 3h8m8-2h8m20 4h8m29-2h8m9-2h8m13 1h8m6-3h8m23 0h8m-6 1h8m-151 8h8m-7-1h8m62 5h8m-3 1h8m29-5h8m-142 14h8m28 4h8m8 0h8m40-9h8m5 8h8m28 0h8m3 0h8m-5-8h8m-135 18h8m-4-5h8m-6-2h8m-5 8h8m-2 0h8m6-4h8m-7-2h8m-4 3h8m-6 3h8m35-7h8m-8 5h8m0-7h8m30 1h8m-7 2h8m-5-2h8m-135 13h8m0 2h8m-3-6h8m-8 1h8m20 4h8m22-1h8m0-3h8m20 7h8m-4 0h8m-7-7h8m-5 7h8m5-3h8m0-4h8m-142 9h8m13 2h8m43-1h8m49 1h8m-128 12h8m8-4h8m10 3h8m1 3h8m42-6h8m15 8h8m-4-3h8m-7-3h8m-118 17h8m25-4h8m-6-4h8m-6 7h8m-5-7h8m-3 8h8m2 0h8m10-3h8m30-4h8m-96 16h8m-1-8h8m3 8h8m-7-5h8m2 0h8m-7 4h8m32-5h8m9 6h8m-5-1h8m-104 4h8m11 0h8m4 6h8m-6 1h8m-6-2h8m5-4h8m10 7h8m14-9h8m3 4h8m-98 14h8m3-6h8m17-1h8m6 5h8m-4-1h8m32-5h8m-86 11h8m-3-1h8m12 4h8m1 3h8m-2 2h8m-3-2h8m17 0h8m-43 10h8m-5-7h8m1 5h8m-6 4h8m-7-8h8m-4 5h8m-1-6h8m-5 2h8m-7 7h8m-2 0h8m-49 9h8m18-2h8m-4 2h8m-8-3h8m-5 0h8m-2 4h8m-1-9h8m-36 11h8m3 7h8m-4-8h8m1 0h8m-25 17h8"/><path stroke="#472d7b" d="M3062 360h8m4 13h8m4 12h8m-4 6h8m11 11h8m-153 15h8m-26 3h8m172 7h8m4 0h8m-190 15h8m12 4h8m3-2h8m58 4h8m73-4h8m-220 15h8m149-6h8m2 4h8m3 1h8m33-4h8m7 0h8m-121 6h8m4 6h8m57-1h8m20-4h8m20 7h8m-261 5h8m12 0h8m57-3h8m1 9h8m11-4h8m21-1h8m22-4h8m19 6h8m55-6h8m-254 13h8m82-3h8m-6 7h8m75-5h8m24-2h8m-129 16h8m-7-6h8m-8 1h8m41 5h8m31-5h8m-219 15h8m2-4h8m22 0h8m19 4h8m0-3h8m0 4h8m-1-2h8m12 4h8m10-3h8m27-1h8m-7 3h8m23 0h8m17-6h8m-221 9h8m-7 0h8m25-1h8m22 1h8m-7 4h8m1-3h8m39 0h8m1 3h8m26 0h8m38 0h8m89 3h8m-6-7h8m-8 2h8m-299 7h8m-5 4h8m2 5h8m27-7h8m38 6h8m10-6h8m24 4h8m-4-1h8m126 0h8m3 1h8m-303 4h8m67 8h8m100-6h8m11-1h8m91 4h8m-346 10h8m-3 1h8m4 3h8m41-7h8m4 6h8m30 1h8m31-6h8m3-3h8m10 1h8m82-1h8m-287 16h8m20-3h8m28 5h8m26 0h8m1-6h8m12-2h8m10 5h8m-3 0h8m4 4h8m88-3h8m43 3h8m-6-3h8m14-3h8m-340 15h8m20-8h8m0 3h8m48 3h8m-7 1h8m15 2h8m40-1h8m38 0h8m47-3h8m94 4h8m-350 10h8m163-5h8m5 0h8m-7-1h8m7 5h8m10-5h8m0 1h8m92 3h8m-302 12h8m1-4h8m48-2h8m-2-1h8m-5 1h8m-1 6h8m6-1h8m4 0h8m76-1h8m1-3h8m66-2h8m-331 16h8m30-8h8m14 5h8m5-3h8m-7 6h8m-3-4h8m-7 1h8m30 4h8m-8-9h8m13 4h8m129 1h8m13-4h8m-7 8h8m56-5h8m-315 7h8m38 7h8m66-7h8m85 5h8m53-1h8m1 1h8m-335 10h8m0 0h8m-2 3h8m-4 0h8m1-1h8m5 1h8m-3-7h8m45 0h8m25 0h8m31 3h8m23-4h8m-7 6h8m2-3h8m-1 2h8m12-1h8m-1 2h8m114-1h8m-374 11h8m16 1h8m6-2h8m27-2h8m12-4h8m4 2h8m14 1h8m-2-2h8m67-1h8m16 4h8m-6-1h8m3-3h8m2 6h8m4-1h8m-283 14h8m104-6h8m11 2h8m44 2h8m1 0h8m3-2h8m-7 0h8m-8-2h8m11 0h8m4 2h8m4-5h8m-7 4h8m-6-4h8m20 2h8m-5-2h8m-4 1h8m-7 4h8m10-4h8m65 8h8m-414 7h8m61 3h8m5-9h8m86 0h8m27 4h8m58 4h8m11 1h8m-2-9h8m-6 0h8m-1 1h8m-8 3h8m-4-2h8m-2 7h8m47-4h8m23 0h8m-8 1h8m-374 10h8m21 2h8m-7 1h8m13-7h8m-4 4h8m7 0h8m11-2h8m11-3h8m6 8h8m5-7h8m30 2h8m33 0h8m7 2h8m2 0h8m-7-5h8m-7 1h8m-6-2h8m4 2h8m12 1h8m-3 1h8m-5 1h8m0 0h8m-7 2h8m-6 1h8m-5-2h8m-327 13h8m-8-3h8m14-1h8m21-4h8m28 6h8m23-7h8m3 9h8m10-4h8m77-5h8m12 6h8m-6-6h8m-4 6h8m0 3h8m8-2h8m-1-2h8m3 3h8m5-1h8m6-7h8m-323 13h8m21 6h8m7 0h8m59-6h8m35 6h8m26-2h8m32-1h8m12 3h8m-8-6h8m2 3h8m24-6h8m8 6h8m2-5h8m37 1h8m37 2h8m-425 12h8m28 0h8m9-3h8m22 5h8m3-6h8m49 3h8m35 2h8m-3 0h8m-4-1h8m5 2h8m3 0h8m15-7h8m20 0h8m5 3h8m37-4h8m-7 4h8m-374 12h8m38-4h8m123 5h8m35 1h8m16-7h8m-5 1h8m22-2h8m6 9h8m-6-9h8m63 2h8m7 4h8m53-3h8m-6-1h8m-417 8h8m8 0h8m50 5h8m97-4h8m8 1h8m32-2h8m28 9h8m89-4h8m-363 6h8m12 1h8m-5 5h8m-4 0h8m23 1h8m28-6h8m12-2h8m-1 2h8m17 4h8m-6-1h8m20 1h8m-4 3h8m-2 0h8m15-1h8m10-7h8m20 8h8m151-6h8m-439 7h8m82 3h8m-6 5h8m3-5h8m40-1h8m7-2h8m0 9h8m37-9h8m4 4h8m6-4h8m36 5h8m35-3h8m105 0h8m-445 15h8m-5 2h8m55-8h8m2 7h8m-5-7h8m29 1h8m-3 2h8m63-1h8m-7 6h8m2-5h8m1 5h8m-243 9h8m25-2h8m2 0h8m6 2h8m12-1h8m1-1h8m3 1h8m5-2h8m11-1h8m1 4h8m-5-2h8m-5 1h8m80-2h8m-6-3h8m134 4h8m18 0h8m-409 11h8m18-3h8m70 4h8m-7-7h8m53 1h8m32 7h8m-2-6h8m-7 3h8m-6 2h8m14-5h8m4 1h8m27-3h8m24 3h8m127 2h8m-4-4h8m8 3h8m3 2h8m-503 7h8m30 1h8m-1 3h8m33-8h8m7 3h8m-6 3h8m-4-5h8m18 3h8m-4-3h8m48 6h8m14 2h8m2-3h8m128-4h8m84 5h8m41 0h8m-458 11h8m-5 0h8m43-4h8m36 5h8m-4-1h8m-4-8h8m-6 4h8m-7-4h8m-7 6h8m-4-3h8m7 5h8m-1-8h8m60 9h8m22-5h8m105 5h8m40-4h8m19 3h8m-4-5h8m-8-1h8m-2 7h8m-491 5h8m30-3h8m2 6h8m25-7h8m-3 6h8m41 1h8m61 0h8m-3-1h8m4-1h8m54-1h8m33 1h8m8-3h8m1 7h8m47-9h8m3 9h8m36-6h8m50-1h8m8 7h8m-520 6h8m2-3h8m82 7h8m33-9h8m37 4h8m-3 5h8m118-6h8m48 3h8m50 2h8m7-4h8m33 5h8m29 0h8m-553 4h8m62-1h8m54 4h8m22-6h8m10 8h8m61 1h8m43-4h8m95 1h8m30-1h8m97-1h8m19 0h8m14-2h8m5 3h8m11-5h8m-5 1h8m-6 8h8m-2-2h8m-649 7h8m46-2h8m3 7h8m33-1h8m10 1h8m142-3h8m20-5h8m3 2h8m23 1h8m106-3h8m137 7h8m-1-7h8m-505 15h8m12-6h8m35 0h8m256 6h8m4-1h8m52-5h8m-8 8h8m21-6h8m3 0h8m-2 1h8m0 6h8m-497 10h8m77-2h8m-4-3h8m79 2h8m28-1h8m67-3h8m29-1h8m53 6h8m63-7h8m32 2h8m-517 13h8m13 1h8m7-6h8m-7 8h8m24 0h8m7-3h8m80 1h8m-8-3h8m79-3h8m20 5h8m16-1h8m3 5h8m92-4h8m10-3h8m19-2h8m-534 17h8m61 2h8m39-8h8m41 7h8m34-7h8m15 3h8m59 3h8m32-1h8m24 1h8m1-4h8m182 1h8m-2-3h8m-598 14h8m-1 1h8m29 3h8m7-5h8m35 2h8m7-1h8m45-2h8m34-3h8m374 3h8m-580 13h8m86-5h8m230 4h8m40 4h8m36-8h8m55 0h8m20 3h8m-1-4h8m1 9h8m-523 6h8m0 4h8m5-1h8m22-1h8m-3-2h8m245-3h8m38 5h8m123-2h8m22 2h8m23 0h8m-567 12h8m14-7h8m11 0h8m1 7h8m298 0h8m87-8h8m67-1h8m16 7h8m13-7h8m-8 7h8m-548 11h8m-7 1h8m326-7h8m39 0h8m97 2h8m39 3h8m-6 2h8m-595 7h8m-2-6h8m477 4h8m72 3h8m-582 7h8m418-3h8m96 3h8m-20 15h8m-7-7h8m-88 10h8m0 5h8m136-3h8m-116 7h8m87 2h8m6 5h8m-126 5h8m34-2h8m-8 16h8m52 1h8m-101 7h8m16-2h8m30 3h8m12-5h8m9 5h8m-8-2h8m0 2h8m0 3h8m-126 2h8m14 7h8m14 0h8m-50 3h8m6 6h8m11-2h8m29 0h8m1 4h8m18-7h8m-97 13h8m-1-2h8m-4-2h8m-6 6h8m60-3h8m7 3h8m-69 10h8m51 5h8m-26 14h8m-35 6h8m-8-1h8m22 0h8m11 4h8m8 1h8m-68 5h8m18 1h8m5 4h8m-7-6h8m-37 16h8"/></g>
<g fill="none" stroke-width="8" transform="scale(.1)"><path stroke="#21918c" d="M3765 270h8m-2 7h8m48 2h8m-2-6h8m-2 1h8m3 0h8m-6 3h8m-95 9h8m-4-2h8m7-2h8m-6 4h8m-7 3h8m-5-2h8m7-3h8m1-1h8m-1 6h8m5-5h8m10-2h8m-72 11h8m-6-3h8m-7 9h8m-8-9h8m0 2h8m-6 5h8m-8-6h8m12 1h8m-6 7h8m-7-3h8m-5 3h8m-67 9h8m-8-7h8m1 7h8m-7-8h8m-7 2h8m-5 5h8m7-3h8m-3 4h8m5-8h8m-5 4h8m-3 0h8m16 1h8m-2 1h8m-7-6h8m-90 11h8m-7 1h8m-4 2h8m-5 0h8m-6-3h8m-6 5h8m1 2h8m3-2h8m2 0h8m-3 2h8m-1-8h8m-7 0h8m-5 4h8m0 0h8m-5-4h8m3 6h8m-7 3h8m-4-2h8m-6-1h8m-76 11h8m10-7h8m4 7h8m-1-6h8m-3 6h8m-1 1h8m-6-3h8m-5 2h8m5 2h8m-83 5h8m5-3h8m-6 8h8m-3-5h8m-4 4h8m-7-6h8m-7 0h8m-5 1h8m-1 0h8m-7 5h8m-3-3h8m2 3h8m-2-4h8m-6 3h8m-6-5h8m-1 6h8m-5-4h8m-68 12h8m-4 2h8m1-3h8m-7 4h8m2-6h8m-5 3h8m-7-3h8m-5-2h8m13 7h8m-8-5h8m-3 5h8m-6 1h8m-97 5h8m-5 3h8m-3-3h8m-1 4h8m4 1h8m-4-6h8m-3 5h8m-5-1h8m-6-7h8m3 5h8m-1 3h8m-3 0h8m1-2h8m-2-1h8m0 3h8m-5-6h8m-72 11h8m3 5h8m7-6h8m6 7h8m-1-5h8m-7 3h8m2 1h8m2-4h8m-7-2h8m-5 5h8m-108 4h8m14 3h8m-5-4h8m-3 7h8m23-6h8m-1 8h8m0-3h8m0-3h8m0 4h8m-5 2h8m-6-6h8m-6 4h8m-5-3h8m-113 14h8m-2-4h8m15 5h8m-8-4h8m4-3h8m-3 6h8m-7-1h8m8-3h8m-8-2h8m2 4h8m3-4h8m-4 1h8m-5 4h8m-5-1h8m1 3h8m-111 3h8m-6-1h8m18 0h8m10 4h8m-2-4h8m-3 7h8m7-1h8m16-2h8m-5-4h8m1 7h8m-7-4h8m-133 9h8m11 2h8m-4 3h8m-1-6h8m-1-2h8m6 3h8m-6 0h8m31 1h8m-5 3h8m-8 0h8m-7-4h8m0 3h8m-1-1h8m1-4h8m4 6h8m-148 6h8m3 4h8m3-4h8m-1 4h8m-4-2h8m1 0h8m-5 1h8m-3-1h8m-6-4h8m-6 2h8m-7-3h8m15 3h8m-7 6h8m-3-5h8m-5-3h8m-7 3h8m2-3h8m-8 6h8m-5-3h8m11 3h8m-127 8h8m-1 1h8m36-6h8m-4 6h8m9-3h8m-7-1h8m4-1h8m-2 2h8m-8-2h8m11 1h8m-7 3h8m-5-1h8m4 3h8m5-1h8m-8-6h8m-150 13h8m-6 6h8m-6-6h8m-6 2h8m9 2h8m11-6h8m15-1h8m5 8h8m0-6h8m-3 0h8m-8 6h8m20-5h8m15-2h8m-5 7h8m-5 1h8m-173 6h8m25-4h8m-2 5h8m-3-1h8m3 3h8m-7-5h8m-6-3h8m-1 2h8m-7 4h8m-5 3h8m-5-2h8m-7-6h8m2 0h8m12 2h8m-3 1h8m21 0h8m17-4h8m-183 18h8m-2 1h8m1-7h8m21-1h8m-4 4h8m0 0h8m-4 0h8m-2-3h8m-5 1h8m26-3h8m-5 1h8m6 8h8m-131 9h8m-5 0h8m-3-5h8m10-3h8m11 8h8m-4-6h8m-4 4h8m115-1h8m-179 11h8m-7-2h8m12 4h8m6-4h8m3-4h8m1 9h8m-4-4h8m1-1h8m0 5h8m10-4h8m25-5h8m24 6h8m-184 13h8m-3-6h8m9 4h8m11-7h8m-2 6h8m2 3h8m7-6h8m19-1h8m86 5h8m12-1h8m-222 11h8m1-4h8m-3 1h8m21 4h8m3-8h8m19 3h8m-6 0h8m5 0h8m-3 6h8m-4 0h8m16-6h8m-3 5h8m-8-2h8m10-4h8m-3 3h8m-164 5h8m17 5h8m-5-4h8m-1 0h8m-6 4h8m15 3h8m14-6h8m-1-2h8m1 5h8m-3 0h8m-1 4h8m7-6h8m6 6h8m34-8h8m-179 9h8m-4 9h8m-5-7h8m-6 1h8m-6 2h8m58-2h8m9 4h8m22-1h8m29-1h8m48-2h8m0 6h8m-241 10h8m-7-7h8m-7 5h8m-4-6h8m-8 1h8m5 5h8m5 2h8m-2-6h8m26 4h8m-6-6h8m2 4h8m33-2h8m0 4h8m29-3h8m13 0h8m-203 11h8m-6 4h8m6-8h8m-4 2h8m-1 6h8m54-1h8m21-2h8m11-6h8m9 6h8m52-2h8m-7 4h8m-2-1h8m-223 5h8m-5 3h8m-6 3h8m-4-4h8m11-1h8m-4-3h8m4 9h8m-5 0h8m-1-2h8m18-2h8m13-3h8m-117 14h8m-6-4h8m3 0h8m-1 1h8m-4 2h8m-2-2h8m5-3h8m45 5h8m45-1h8m-160 6h8m-4 6h8m16-1h8m7 1h8m25-1h8m21 3h8m26-8h8m53 3h8m0 0h8m49 4h8m-211 5h8m35 1h8m-3-2h8m9 5h8m20 3h8m112-7h8m-286 12h8m12 2h8m-8-1h8m3 4h8m-2-2h8m-2 1h8m3-1h8m16-4h8m-6 4h8m0 2h8m6-4h8m31 4h8m130-5h8m-278 6h8m-5 0h8m0 2h8m17-2h8m-3 2h8m-2 2h8m-4 4h8m-3-1h8m1-2h8m9-3h8m47 0h8m17 0h8m108-2h8m-289 12h8m16 0h8m-7 5h8m1-5h8m-3-1h8m27 3h8m-2-4h8m5 3h8m-6 0h8m11 1h8m9 3h8m-6-3h8m-7-1h8m-7-2h8m-4 3h8m19-2h8m-180 16h8m-4-3h8m0 3h8m13-6h8m-7 1h8m-2 2h8m-7-2h8m-7 2h8m23-5h8m25 0h8m10 0h8m-3 3h8m154 4h8m-298 7h8m9-2h8m10-2h8m-5 6h8m-5-1h8m19-4h8m-6 2h8m1 1h8m2-1h8m15 2h8m50-2h8m-1 4h8m-3 1h8m45-8h8m6 8h8m33-4h8m-306 14h8m-7-7h8m3 7h8m-5-2h8m-7-1h8m-7-3h8m0-2h8m0 5h8m12 3h8m-5-5h8m-1 6h8m-6-2h8m17 1h8m-2 1h8m3-6h8m4 3h8m18 2h8m65-2h8m42-1h8m22-2h8m-308 16h8m-7-8h8m-5 0h8m-8 3h8m7 2h8m-5 2h8m5-3h8m2-3h8m-4 5h8m-2-2h8m6 2h8m-7 1h8m4 1h8m6-3h8m-4-6h8m-5 3h8m3 1h8m-8 1h8m2 0h8m-6 2h8m18-7h8m2 5h8m18 4h8m-183 2h8m-2 0h8m-5 2h8m-3-2h8m44 0h8m32 5h8m16 1h8m-4-3h8m36 3h8m109-4h8m-316 15h8m-5-2h8m43-1h8m-5-4h8m-8-1h8m-7 1h8m11 5h8m-4-3h8m-7-3h8m-6 6h8m10-6h8m2 7h8m5-2h8m2-2h8m30 3h8m-6-5h8m52 3h8m16-1h8m7 3h8m4-1h8m-294 9h8m18-4h8m-1 2h8m-5 6h8m-3-6h8m-7 0h8m-7 2h8m-1 2h8m56 0h8m-7-6h8m15 3h8m24 2h8m11-2h8m44-1h8m45 3h8m5-2h8m-319 7h8m-7 4h8m-7 1h8m2 0h8m15-4h8m4 0h8m15 3h8m18 1h8m14 2h8m3-2h8m7-1h8m0 3h8m166-1h8m-298 7h8m-7-3h8m1 9h8m21-5h8m2 2h8m-3-2h8m-5 4h8m2-4h8m-4 0h8m32 2h8m-1 0h8m12 0h8m5-6h8m70 1h8m-274 16h8m-7-6h8m0 0h8m-1 4h8m-7 3h8m-5-4h8m-1 1h8m1-5h8m28 6h8m22 0h8m31-1h8m1-2h8m43-1h8m16 1h8m71-2h8m-317 14h8m-1 3h8m-5 0h8m20-7h8m18 1h8m-2 7h8m11-8h8m-4 7h8m-6 1h8m-4-4h8m23 4h8m-7-7h8m-3 2h8m22 4h8m-2-7h8m0 1h8m-162 8h8m-4 6h8m26 0h8m8-1h8m0-2h8m-1 0h8m-3 4h8m14-3h8m1-2h8m-7 0h8m15-1h8m8 5h8m35 2h8m-214 3h8m11 8h8m-6-5h8m-7 5h8m-3-1h8m-7-8h8m-5 0h8m-4 5h8m-1-5h8m6 8h8m-1-7h8m13 3h8m3 3h8m6 0h8m6-7h8m9 0h8m0 5h8m30 0h8m3 3h8m35-1h8m-251 3h8m7 9h8m-4-5h8m3-1h8m-1 2h8m6 3h8m4-7h8m1 1h8m43 0h8m2 1h8m1 1h8m36-1h8m-191 12h8m1 1h8m10-3h8m0 5h8m-1-4h8m-7-4h8m8 5h8m7 3h8m1-7h8m15 6h8m-5-3h8m-6 3h8m29-6h8m-5 5h8m1 3h8m0-9h8m19 0h8m1 5h8m-216 7h8m9 1h8m-4 0h8m-7 0h8m4 0h8m4 6h8m5-4h8m-4 4h8m5-3h8m4 1h8m-3-5h8m6 2h8m49 4h8m-153 10h8m-4-7h8m-5-1h8m1 8h8m-4-3h8m-1 2h8m-3-3h8m23 3h8m-5-5h8m-7-1h8m-3 1h8m-5 5h8m-5-5h8m8-1h8m-1 2h8m-1 4h8m-140 12h8m-7-1h8m-3-8h8m1 8h8m0-8h8m-4 1h8m15 7h8m-6-7h8m15 8h8m20-2h8m-2 0h8m2-3h8m-5-2h8m1 1h8m-3-2h8m-156 17h8m-7-1h8m-4 1h8m-5 0h8m1-6h8m-7 1h8m-7 0h8m9 6h8m-7-7h8m-7 2h8m-8 1h8m-8 0h8m-3 1h8m-6-5h8m1 3h8m-1 2h8m14 0h8m26-2h8m-6 3h8m-7-3h8m-6-2h8m-125 17h8m0-1h8m-4-4h8m-7 3h8m6-2h8m19 3h8m-4-2h8m2 1h8m1-2h8m18-3h8m-7 7h8m-4-3h8m-4 0h8m39-1h8m-162 7h8m-7 1h8m23 6h8m-3-2h8m-7 2h8m-7-8h8m-7 0h8m3 7h8m-5-5h8m-7 3h8m6 2h8m7-8h8m7 1h8m-4 2h8m0-3h8m-1 5h8m-6 2h8m-6-3h8m12 5h8m-164 8h8m32-5h8m26 1h8m-3 2h8m0 4h8m-2-7h8m12 6h8m7-8h8m-2 4h8m-5 1h8m19 4h8m-158 3h8m-6 7h8m-7-6h8m5 4h8m-1-7h8m8 3h8m0-3h8m1 0h8m28 7h8m-114 4h8m-7 3h8m-8 4h8m-4-3h8m-2 3h8m-8 0h8m-4-7h8m4 1h8m-6 3h8m15 1h8m-7-1h8m-5-1h8m11 4h8m6-2h8m-4 0h8m2-4h8m5 0h8m-7 6h8m1-1h8m-5-4h8m-8 6h8m-4-9h8m2 1h8m7 5h8m7-4h8m-175 14h8m-1-5h8m0 4h8m-6 4h8m-4-2h8m-4 0h8m-8-1h8m5 3h8m-2-5h8m-3 5h8m-8-8h8m-4 5h8m-5-5h8m31 8h8m7 0h8m0-4h8m19-4h8m-8 3h8m-160 11h8m7 2h8m-7-5h8m-3-2h8m4 0h8m-2 7h8m9-4h8m-7-2h8m1-1h8m54 1h8m6 1h8m-149 12h8m-7 1h8m-1 2h8m-8-2h8m2-5h8m-2 3h8m3 0h8m24 1h8m2 5h8m2-9h8m-95 11h8m8 0h8m-3 3h8m-1 0h8m-6-3h8m0 3h8m16-4h8m7 3h8m-1-2h8m-6 3h8m-4 0h8m7-1h8m-7 2h8m-109 8h8m-6 5h8m-7-8h8m-1 2h8m-5 5h8m2 1h8m-7 0h8m-6-6h8m-2 1h8m-6 1h8m37-2h8m-90 15h8m4-3h8m-4-4h8m-7 8h8m9-7h8m-5 2h8m5-1h8m-1 0h8m-67 15h8m5 2h8m-8-7h8m-8-2h8m-7 0h8m-4 7h8m-7-6h8m-5 0h8m-7 4h8m-3 2h8m-2-4h8m4 5h8m-2-6h8m-56 12h8m0 5h8m-8-2h8m-6-2h8m3-5h8m-6 1h8m-33 15h8"/><path stroke="#2c728e" d="M3769 278h8m-5 0h8m68-7h8m-87 14h8m-8-1h8m0 1h8m4 3h8m10-2h8m4-1h8m8-1h8m-1 3h8m1-1h8m-36 10h8m5 1h8m12 2h8m-59 7h8m2-1h8m-58 11h8m23-4h8m4 2h8m22-1h8m0 5h8m-92 10h8m22-2h8m-1-3h8m10 0h8m0 4h8m-42 9h8m0 0h8m-6-1h8m-4 3h8m-36 4h8m-4 1h8m0-2h8m-5 0h8m38 8h8m-3-2h8m-3 1h8m5-2h8m-105 6h8m19 1h8m24 1h8m-31 7h8m-8 6h8m-7 1h8m-2 0h8m1-8h8m17 8h8m12 0h8m-99 8h8m-7-2h8m17-2h8m-4-1h8m14 1h8m33 1h8m-100 15h8m14-4h8m4-3h8m-5-1h8m11 0h8m1 6h8m-1-4h8m4 5h8m-2-7h8m-1 0h8m-5 8h8m-132 11h8m-1-1h8m1 0h8m0-8h8m-1 4h8m4 0h8m35 3h8m7-1h8m-7-3h8m-86 11h8m42 5h8m43-7h8m-8 0h8m-5 0h8m-111 12h8m-2 0h8m-6 4h8m15-5h8m3 2h8m16-3h8m0 2h8m16 1h8m-85 14h8m-6 0h8m5-3h8m-2 1h8m8-6h8m1 2h8m-7 5h8m24-3h8m-7-5h8m-3 9h8m-161 4h8m8 4h8m-6-4h8m1 1h8m0-2h8m2 5h8m0-5h8m26 4h8m5 1h8m6-1h8m-5 3h8m-5-1h8m9 0h8m-138 6h8m1 0h8m-1 0h8m27 2h8m0-3h8m-2 4h8m15-2h8m7 1h8m5 0h8m-4-5h8m-1 7h8m18-1h8m-1 2h8m-187 9h8m-4 1h8m12-3h8m24-4h8m-5 7h8m13 0h8m0-2h8m-2-2h8m-1-4h8m33 1h8m37 5h8m-210 10h8m0-6h8m2 4h8m-3-4h8m-6 6h8m4-3h8m8-4h8m-2 2h8m9 2h8m-6-2h8m25 1h8m8 5h8m19-7h8m1 0h8m6 2h8m-170 7h8m-1 1h8m35-1h8m-6 2h8m17 3h8m0-4h8m88 8h8m2-7h8m-193 13h8m26 2h8m-5-3h8m20 3h8m17-2h8m2-5h8m4 1h8m9 2h8m-8-2h8m7 6h8m21 2h8m-6-5h8m-3 0h8m-2 0h8m-3-1h8m-229 11h8m-3 4h8m9-8h8m-3 0h8m-1 1h8m10-1h8m9 4h8m-4-4h8m7 8h8m14-3h8m22-1h8m-1-1h8m5 1h8m2 0h8m13-1h8m-3-3h8m18 2h8m-208 9h8m-5 2h8m64-2h8m3 5h8m-6-2h8m-1-3h8m-7 0h8m0-1h8m1 4h8m-5 1h8m34-5h8m-2 5h8m-5 3h8m3 0h8m5-8h8m-3 6h8m-222 5h8m27 3h8m27-1h8m12 0h8m15 0h8m4 0h8m12 5h8m14-8h8m6 8h8m-1 0h8m1-5h8m14 1h8m-6 0h8m-5 0h8m-7-3h8m0 0h8m-250 18h8m38-3h8m-3-4h8m-1 2h8m19 4h8m-1 0h8m15 1h8m17-9h8m9 6h8m3 1h8m1 2h8m-6-2h8m24 1h8m-6-2h8m-210 5h8m20 4h8m0 0h8m-4 0h8m-6 1h8m2-4h8m24-1h8m12 6h8m-3 1h8m-2-5h8m-7 4h8m21-7h8m48 0h8m-2 5h8m-6-4h8m-4 5h8m-3 1h8m-6 1h8m13 1h8m-255 7h8m-6-2h8m-1-4h8m34 7h8m-3 1h8m24-1h8m53-2h8m2 3h8m47-2h8m-1 2h8m-8 0h8m-4-4h8m16 5h8m-264 7h8m7 3h8m11-5h8m2-4h8m9 1h8m-4-1h8m2 0h8m-2 8h8m7-1h8m7-2h8m14-5h8m11 3h8m17-1h8m41-2h8m-7 3h8m-5 5h8m18 1h8m-252 6h8m-2-4h8m-2 4h8m16 0h8m-4 3h8m40-4h8m12-4h8m-5 4h8m4 0h8m-8 0h8m-6 5h8m-5-9h8m-2 6h8m-3-5h8m36 8h8m-5-8h8m4 2h8m-4 1h8m-2 5h8m0-2h8m16-1h8m7-1h8m-240 10h8m-7 2h8m-2-3h8m0 4h8m22-5h8m-6 6h8m0 0h8m15-4h8m1 0h8m3 1h8m11-6h8m-8 6h8m-4 3h8m-3-2h8m28-3h8m19 2h8m-223 9h8m29-4h8m16-1h8m25 7h8m-5-5h8m-1 2h8m-6 2h8m17-3h8m3 1h8m19 0h8m7 1h8m-5-3h8m4 2h8m0 0h8m4 5h8m0-2h8m12-2h8m15 4h8m-267 5h8m-6-3h8m16-1h8m13 2h8m-5 0h8m15 1h8m10 1h8m65 1h8m4-3h8m-6 6h8m-3-5h8m-7-1h8m5 2h8m-6 4h8m-225 2h8m-1 1h8m22 2h8m55 2h8m3 4h8m4-1h8m-1 0h8m0-6h8m5-1h8m18 1h8m0-2h8m-4 0h8m29 5h8m10-3h8m-7 7h8m-5-6h8m11 5h8m-3-2h8m-3 1h8m-273 4h8m5 4h8m15-2h8m-7 0h8m-5-3h8m5 3h8m71-2h8m-3 4h8m-5 1h8m3-2h8m9-2h8m-1 3h8m-3-1h8m12-1h8m31 4h8m25-7h8m-4 7h8m-292 6h8m-7 0h8m-2 6h8m-8-8h8m52 8h8m1-2h8m-7-2h8m5 2h8m-3-6h8m5 6h8m3-7h8m9 0h8m10 3h8m3 3h8m36-2h8m4 4h8m0 1h8m0-6h8m1 6h8m3 0h8m-4-3h8m4-5h8m-3-1h8m3 1h8m-307 18h8m0-1h8m18-7h8m-7 1h8m65-2h8m-8 1h8m-6 1h8m20-1h8m3 1h8m38 7h8m0 0h8m22-5h8m37-3h8m-5 3h8m-7 0h8m-263 10h8m25 2h8m-7-2h8m10 1h8m5 3h8m3-5h8m26-1h8m25 3h8m-7-1h8m-5-3h8m3-1h8m-3 8h8m10-2h8m-3-4h8m4 7h8m9-3h8m-7-1h8m-7 1h8m13 0h8m9 2h8m-3 1h8m5-4h8m-255 11h8m0-4h8m4 7h8m-5-5h8m6 3h8m-8-1h8m-5 1h8m-4 1h8m-4 0h8m13 0h8m3-5h8m-4 4h8m9-2h8m9-2h8m49 2h8m14-1h8m29 5h8m-5-4h8m9 1h8m-8 1h8m-321 8h8m51 2h8m12-1h8m152-5h8m-4 0h8m7 8h8m-2-3h8m-6-3h8m-1-1h8m-8 2h8m-3 0h8m6 1h8m22-1h8m-332 11h8m5 4h8m7-7h8m4 6h8m29-3h8m14-1h8m11-1h8m20 3h8m56-2h8m-7-1h8m13 4h8m-5-3h8m-6-3h8m-1-1h8m6 3h8m-6-2h8m-4 3h8m4-3h8m-1 1h8m40-1h8m-4-1h8m-327 13h8m-8 6h8m-7-3h8m-8 1h8m-5-1h8m5 1h8m-7-7h8m23 8h8m-4 1h8m-6-1h8m18-7h8m12 3h8m22-4h8m27 6h8m6 2h8m18-1h8m23 0h8m-1-6h8m4 6h8m2-2h8m11 4h8m-4-5h8m-6-4h8m-7 5h8m12 0h8m-342 6h8m-6 7h8m39-2h8m24 2h8m40-2h8m3 1h8m-7 0h8m1-5h8m34 6h8m-4-3h8m-5-4h8m43 3h8m30 1h8m13-1h8m-6-2h8m-313 14h8m17-4h8m19 1h8m18-2h8m4 3h8m12 4h8m-2-7h8m-8 8h8m0-1h8m25-2h8m44 0h8m-2-2h8m-6 0h8m-3-4h8m-7 7h8m20-2h8m6 0h8m7 3h8m0-2h8m-304 13h8m4-8h8m6 1h8m3 4h8m16-6h8m85 4h8m18 2h8m4-2h8m-6 1h8m-4 3h8m-2-7h8m31 5h8m-3-6h8m-7 9h8m-8-9h8m3 3h8m-5-3h8m2 5h8m-259 7h8m-4 3h8m-3 1h8m5-5h8m11 5h8m1 1h8m73-7h8m-5 9h8m-3-5h8m7-4h8m-7 6h8m7-4h8m-6-1h8m1 0h8m13 8h8m26-2h8m-5-2h8m-272 5h8m24 5h8m0 2h8m-8-5h8m3 7h8m20 0h8m-8-5h8m0-1h8m-7-3h8m11 1h8m69 5h8m4 0h8m0 2h8m-2-5h8m-201 8h8m25 0h8m26 5h8m-6-1h8m19 0h8m96 0h8m7 4h8m-223 6h8m20 0h8m-3 3h8m6-6h8m-6 1h8m-4-1h8m-2 5h8m-4-4h8m6 0h8m-4 6h8m0-8h8m46-1h8m15 3h8m11 4h8m-1 0h8m-225 11h8m20-4h8m10 0h8m-2-4h8m-7 4h8m11 2h8m11 2h8m-7-5h8m2 6h8m-1-9h8m-3 4h8m16-3h8m-3 7h8m-2-8h8m36 4h8m-7 3h8m15 0h8m-3-5h8m-6 1h8m-8 0h8m-223 10h8m-6 5h8m5 1h8m40 0h8m10-8h8m-3-1h8m15 8h8m15-1h8m8-7h8m26 8h8m-6-3h8m0-5h8m2 2h8m11 0h8m-8-2h8m-229 14h8m46 0h8m9 1h8m-6 4h8m45-3h8m20 0h8m4-5h8m-1 2h8m1 3h8m1-2h8m-177 6h8m3 5h8m11 2h8m5-2h8m-6-5h8m13 8h8m-6-2h8m58-2h8m-2-2h8m11 4h8m-4-6h8m3 8h8m-2-6h8m-173 12h8m-5 1h8m4-4h8m4 7h8m22 0h8m53 1h8m-7-5h8m29 2h8m-208 8h8m11 4h8m26-1h8m-6 0h8m3-6h8m-7-1h8m-5 9h8m24-3h8m-6-4h8m24 5h8m15-1h8m-6-4h8m-2 5h8m13 0h8m-198 10h8m-4 0h8m11-2h8m6-1h8m45-1h8m-8 1h8m34-4h8m-1 3h8m25 2h8m8-4h8m-204 15h8m-7 0h8m-1-3h8m19 1h8m35-4h8m-7 9h8m42-2h8m4-1h8m23 0h8m-172 11h8m28-5h8m-7 0h8m13 4h8m-7-2h8m28 3h8m7-5h8m11-2h8m8 5h8m-158 10h8m2-2h8m-3 3h8m12-2h8m-7 0h8m-7-2h8m12 4h8m5-6h8m14 3h8m-6 0h8m-2 1h8m5 2h8m9 2h8m-133 9h8m0-3h8m-2-1h8m-7 6h8m-2 0h8m-4-8h8m-8 0h8m1 0h8m4 7h8m40-4h8m13 1h8m-126 7h8m2 3h8m-7-1h8m4-3h8m-7 8h8m57-9h8m0 8h8m12-5h8m-93 14h8m-3-6h8m50-1h8m0 4h8m-7-3h8m-111 9h8m-2 0h8m7 2h8m10-1h8m-5 7h8m25-3h8m-89 7h8m13 2h8m-26 12h8m-6 1h8m8-7h8m-7 5h8m18 2h8m-55 7h8m12 0h8m-25 7h8"/><path stroke="#3b528b" d="M3871 368h8m-122 25h8m-5 17h8m-20 12h8m12 0h8m-7-1h8m-6 7h8m-38 7h8m-4-4h8m120 17h8m-145 4h8m43 5h8m3-3h8m1-3h8m20 5h8m-2 1h8m29 0h8m4 1h8m4 1h8m-5-3h8m-70 13h8m11 1h8m14 1h8m14 0h8m-7 2h8m51 1h8m-227 14h8m53 1h8m-2-3h8m12 0h8m17-5h8m-5 2h8m16 1h8m18 3h8m-8-6h8m18 5h8m-217 7h8m34 6h8m67-5h8m-4 0h8m33 0h8m-2 4h8m9-8h8m-3 3h8m-218 11h8m27-2h8m-2 1h8m49 1h8m19 5h8m34-4h8m1-3h8m-29 16h8m20 0h8m-1-2h8m49-2h8m-257 7h8m61 0h8m1 2h8m11-2h8m18 7h8m18-2h8m39-2h8m6-4h8m35 6h8m-228 12h8m14-8h8m1 4h8m-3-3h8m21 8h8m-3-3h8m11 2h8m15-5h8m11 2h8m-7 4h8m4-2h8m18-2h8m2-5h8m-245 16h8m88-3h8m-7-1h8m-7 4h8m85-5h8m1 3h8m-3 0h8m-214 9h8m19 4h8m107-6h8m-7 5h8m28 3h8m2-4h8m7-1h8m-8 4h8m32-2h8m3-4h8m-266 16h8m10-2h8m84 1h8m10 0h8m-5 2h8m-3-4h8m-6-1h8m11 5h8m-4-6h8m26 4h8m1-6h8m15 7h8m0-6h8m10 6h8m-225 2h8m9 7h8m-5 1h8m4-4h8m6 3h8m-6-2h8m21-2h8m7 5h8m84-3h8m-7 2h8m7-7h8m0 2h8m86-1h8m-347 12h8m3 2h8m77 0h8m36-3h8m3 6h8m35-7h8m23 1h8m4 2h8m9-2h8m7 1h8m68 0h8m-192 16h8m88-2h8m-7 0h8m97-6h8m1 2h8m-177 15h8m22-6h8m0 5h8m-164 5h8m51 6h8m35-1h8m-7-6h8m6 8h8m49-8h8m-5 4h8m0 1h8m3-1h8m62 1h8m-4-3h8m-333 8h8m2 4h8m53-4h8m5 4h8m1 3h8m47-3h8m17 0h8m3-4h8m22 3h8m23 0h8m0-3h8m-7 1h8m-2 6h8m4 1h8m15-1h8m-6-5h8m-238 13h8m19-1h8m-1 0h8m20-4h8m82 0h8m5 0h8m-3 0h8m13 3h8m-5 2h8m-8-3h8m-4 6h8m-4 0h8m-4-3h8m-8 0h8m17 3h8m-1-8h8m45 8h8m-3-8h8m-321 18h8m-3-1h8m10-7h8m103 8h8m14-8h8m1 1h8m9-1h8m7 1h8m0 7h8m-5-4h8m-2 0h8m-8 2h8m-3-2h8m-3 1h8m-7-5h8m-136 11h8m38 7h8m18-6h8m-1 4h8m-5 2h8m-6-1h8m-7-3h8m-4-5h8m-6 6h8m4-3h8m10-2h8m-8 7h8m-4-3h8m-3 0h8m8 0h8m-1 0h8m-276 8h8m78-3h8m11 5h8m-3 4h8m13-3h8m-6 3h8m12-5h8m2-1h8m11 6h8m1 0h8m-4 0h8m8-4h8m-6-4h8m-7 1h8m7-2h8m-5 1h8m-7 4h8m-6 0h8m-2 3h8m-8-7h8m3 4h8m-6-3h8m1 4h8m-7-5h8m-2 4h8m-2-2h8m-4-1h8m-326 16h8m48 0h8m13-6h8m-4 1h8m2-2h8m55 6h8m54 2h8m25-7h8m5 2h8m-1 5h8m-8-9h8m-7 7h8m18-3h8m-3-3h8m-3 7h8m-1-7h8m1 6h8m-6 0h8m26-7h8m13 4h8m-404 11h8m68-3h8m12 2h8m10 4h8m-1-2h8m24-3h8m8 0h8m3 5h8m-1-2h8m1-3h8m-1-2h8m11 0h8m9 4h8m9 3h8m80-1h8m-362 4h8m45 4h8m4-1h8m19-3h8m-7 2h8m16-3h8m3 5h8m63-2h8m1 5h8m-1-5h8m34 0h8m-5 5h8m-6-1h8m16 1h8m111-8h8m-400 15h8m21 4h8m27-2h8m25-3h8m87-2h8m39 6h8m-2-5h8m71 3h8m29-6h8m26 6h8m-376 6h8m11 6h8m53-1h8m4-4h8m-3-2h8m16 7h8m13 0h8m46-2h8m11 0h8m9 0h8m57-6h8m-346 15h8m124-4h8m25 5h8m-6 3h8m-5-9h8m8 0h8m4 2h8m-7-2h8m7 9h8m5-6h8m23 1h8m3-4h8m62 9h8m-4-4h8m-320 14h8m-6-2h8m-7-2h8m70 3h8m4-3h8m17 1h8m33-5h8m-7-1h8m1 3h8m4 4h8m3-2h8m-6 2h8m13 1h8m-5-3h8m164 1h8m-317 6h8m-7 1h8m24 3h8m-7-4h8m-4 0h8m48 0h8m4 2h8m-8 2h8m3-3h8m-5-2h8m64 7h8m-324 2h8m45 8h8m60-6h8m14 5h8m-3 1h8m1-3h8m10-2h8m41-3h8m95 3h8m46 5h8m-347 11h8m69-4h8m-5 0h8m42-1h8m19 4h8m22-5h8m8-2h8m21 1h8m105-1h8m36 7h8m45-2h8m-502 12h8m11-1h8m67-5h8m20-1h8m8 6h8m44 0h8m0 0h8m22 1h8m116-6h8m-255 14h8m28-2h8m22 2h8m-1 0h8m2-1h8m25-5h8m36 6h8m54-4h8m51-1h8m-373 14h8m106-1h8m64 4h8m30-4h8m241-3h8m53 5h8m-540 10h8m148 3h8m2-8h8m175 2h8m-383 10h8m33 5h8m83-6h8m1 3h8m-5-4h8m16 4h8m122 2h8m283-5h8m-585 13h8m12-1h8m80-2h8m49 6h8m-3 1h8m33-9h8m135 3h8m50 0h8m52-1h8m58 3h8m-450 13h8m23-4h8m20-3h8m168 6h8m12-3h8m-264 9h8m200 1h8m157 5h8m12-2h8m-483 9h8m-6 1h8m0-5h8m77 7h8m2-7h8m9-2h8m192 7h8m27-5h8m-341 12h8m36 5h8m37-7h8m8 2h8m207 4h8m3 10h8m23-6h8m-397 17h8m34-5h8m5 1h8m390-2h8m7 6h8m-473 8h8m24-1h8m13-6h8m367 8h8m12 1h8m0-6h8m-468 13h8m487-4h8m-475 10h8m436 2h8m17 4h8m24 1h8m-122 5h8m111-4h8m-57 15h8m-64 7h8m104-1h8m3 2h8m-53 9h8m13 25h8m-53 4h8m51 1h8m-68 15h8m34 2h8m38 14h8"/><path stroke="#440154" d="M3876 366h8m-6-1h8m-13 8h8m-6 2h8m-4 0h8m-8 1h8m-3-4h8m-137 26h8m120-8h8m3 5h8m-7 1h8m0 2h8m-162 7h8m140 3h8m-6-8h8m-4 9h8m-6-5h8m-5 0h8m9 3h8m-190 4h8m154-1h8m-3 1h8m-6-1h8m-3 2h8m7 7h8m-191 3h8m2 1h8m-8 2h8m152-4h8m-7 2h8m-2 5h8m-7 1h8m-8-3h8m1-2h8m-182 13h8m150-2h8m5-5h8m-6 8h8m0 0h8m-167 7h8m18 4h8m56-7h8m1 5h8m-6 2h8m-7-1h8m24-1h8m16-2h8m-204 8h8m38-2h8m-6 5h8m42 3h8m-2-9h8m6 5h8m3-4h8m-3 4h8m3 4h8m-2-1h8m49-7h8m-4 2h8m-4 5h8m-3 1h8m-144 4h8m1 6h8m7-3h8m2-2h8m20 3h8m6-6h8m15 4h8m26-3h8m-6 5h8m0-6h8m-281 12h8m111-2h8m9 5h8m36 3h8m-3-1h8m1-4h8m-4-3h8m-7 3h8m26-1h8m29 3h8m-3 1h8m-6-2h8m-5 3h8m-143 2h8m40 4h8m48 2h8m29-3h8m-288 12h8m25-4h8m-4 5h8m32-2h8m0 4h8m-1-8h8m13 0h8m36 9h8m28-6h8m99-2h8m-265 11h8m57 4h8m14-1h8m1-4h8m-2 2h8m46 6h8m-5-3h8m5 1h8m-5-4h8m73 1h8m-7-1h8m-6-3h8m-3 8h8m-218 3h8m-1 3h8m-2 0h8m13 4h8m6-4h8m12 5h8m3-2h8m23-3h8m42 3h8m15-7h8m17 1h8m-7 3h8m3 4h8m-245 7h8m50-2h8m-4-3h8m20 6h8m-6-3h8m-2 0h8m28-2h8m88 4h8m-3-1h8m-5-3h8m-7 8h8m-8-8h8m-254 12h8m41-2h8m33 2h8m12-3h8m5 5h8m-6-4h8m20 0h8m-1 8h8m0-4h8m0 3h8m2 1h8m10-2h8m-7-2h8m34 2h8m-341 4h8m20 7h8m95-2h8m0-2h8m14-2h8m-6 6h8m0-4h8m-2 1h8m28-2h8m34 6h8m72-7h8m-332 16h8m80 0h8m10-8h8m41 0h8m39 0h8m17 8h8m4-7h8m-8-1h8m9 4h8m-7 0h8m76 3h8m-1 2h8m-288 5h8m0-1h8m-3 4h8m-1 1h8m-5-7h8m-7 5h8m16 2h8m18-6h8m110 2h8m69 1h8m-352 7h8m63 7h8m49-4h8m11-5h8m5 7h8m0-4h8m9 6h8m16-5h8m44 0h8m20-4h8m-2 2h8m17-1h8m25 3h8m-7 1h8m-5-3h8m-2 7h8m-294 6h8m19-3h8m15 6h8m10-3h8m3-1h8m2 2h8m-3-3h8m2 4h8m-7-1h8m31-2h8m-3 0h8m17 5h8m17 0h8m-2-7h8m6 2h8m52-3h8m-8 0h8m-332 12h8m17 2h8m57 1h8m-1 2h8m32-5h8m38-3h8m-2 0h8m3 8h8m1-6h8m1-1h8m-5 5h8m-8 0h8m4-2h8m87-1h8m1 5h8m-322 11h8m-3-1h8m34 0h8m-6-4h8m41-2h8m-5 3h8m3 3h8m-7 0h8m1-4h8m4 5h8m1 0h8m2-9h8m12 7h8m-2-7h8m3 5h8m-7 4h8m48-7h8m8 3h8m-1-2h8m31-1h8m-5 1h8m-3 0h8m-377 9h8m21-2h8m1 4h8m28 0h8m23-2h8m-7 3h8m8 3h8m-1-1h8m39-4h8m7 2h8m0 3h8m-6 1h8m14-4h8m12-2h8m-8 1h8m5-1h8m0 4h8m11-2h8m11 3h8m7-4h8m-291 11h8m65-4h8m71 5h8m-7-6h8m-6 3h8m-2-1h8m-7 0h8m52-2h8m18 5h8m-2-1h8m9-1h8m7-1h8m47 6h8m-6-6h8m-1 3h8m-401 8h8m41 2h8m5 1h8m68-3h8m2 1h8m33 5h8m23-2h8m-6 2h8m9-1h8m4-3h8m88-2h8m31 6h8m-7-3h8m-239 7h8m32-2h8m-4 6h8m-5-7h8m12 0h8m3 5h8m7 1h8m-2-5h8m4 0h8m-6 7h8m-3-3h8m92 4h8m8-9h8m-358 14h8m59 1h8m60 1h8m7-4h8m15 6h8m-2-3h8m1 4h8m20-9h8m-7 4h8m51-2h8m-2 1h8m-253 12h8m46 0h8m14-3h8m-1 6h8m-7 1h8m-7-7h8m-2 0h8m30-1h8m7-1h8m-3 0h8m23 5h8m12-3h8m-8 6h8m13-6h8m-6 1h8m-5 1h8m73 0h8m-8 5h8m4-2h8m-4 1h8m-8 1h8m0-3h8m-410 11h8m25-3h8m-1 2h8m49-5h8m-2 3h8m15 1h8m30-3h8m11 4h8m42 0h8m50 1h8m26-6h8m-282 18h8m13-3h8m16-6h8m-7 3h8m-6 5h8m9 1h8m54 0h8m-1-1h8m23-8h8m14 2h8m7 4h8m23 2h8m1-4h8m-2 2h8m12-1h8m40 3h8m16-5h8m-7-2h8m10 3h8m-399 9h8m64 5h8m48 0h8m14-4h8m-8-2h8m9-1h8m-4 7h8m-8-1h8m-5-6h8m2 7h8m-6 1h8m7-2h8m-5-1h8m-7 1h8m-5-1h8m-4 2h8m8-8h8m19 4h8m118-2h8m-4 6h8m-3-6h8m-4-2h8m0 9h8m-367 10h8m-6-4h8m37-4h8m3 5h8m10 2h8m1-6h8m-6 5h8m-5-1h8m8 2h8m-1-8h8m3 2h8m2-1h8m25 5h8m10-5h8m2 2h8m9 2h8m3-3h8m22 6h8m0 1h8m-3-5h8m-6 4h8m14-4h8m23 3h8m-7 2h8m34-9h8m-405 13h8m15 3h8m9 1h8m21-4h8m12 3h8m60-2h8m9 5h8m-8-4h8m6 1h8m7 1h8m-1-3h8m39 0h8m8-1h8m7-1h8m-6 6h8m40-6h8m14 0h8m-6-1h8m26 6h8m-6-2h8m-386 13h8m21-7h8m10 7h8m33-5h8m5 0h8m21 2h8m39 3h8m-1-3h8m24 3h8m-4-6h8m-8 6h8m9-7h8m46 1h8m-7 5h8m-5 1h8m-2-5h8m66-3h8m-3 2h8m-5 2h8m-7 5h8m-6-4h8m-2 3h8m-382 8h8m0 3h8m8-8h8m12 8h8m-5-8h8m0 1h8m11 5h8m4-6h8m20 8h8m-5-6h8m6-2h8m12 1h8m-3 0h8m7 6h8m6-2h8m40-4h8m49 6h8m55-6h8m5 2h8m-4 1h8m-380 9h8m-6-1h8m24-2h8m34 4h8m0-1h8m13-3h8m5 4h8m42 4h8m14-1h8m9 1h8m11-1h8m28-5h8m24 2h8m34 0h8m4-1h8m21 1h8m-1 1h8m-5 1h8m-462 5h8m76-1h8m2 8h8m25-6h8m9-1h8m10-2h8m0 0h8m46 0h8m12 3h8m-7-1h8m5-1h8m7-1h8m113 9h8m30-6h8m-2-3h8m-4 0h8m-3 3h8m9 6h8m-440 7h8m25-5h8m27 3h8m32 2h8m0 2h8m1-8h8m84 6h8m-4-5h8m-3 5h8m15 1h8m32-7h8m19 5h8m16 3h8m36-8h8m14 2h8m-8 1h8m3 6h8m-6-2h8m0-1h8m-4-6h8m-7 3h8m-401 10h8m31-1h8m-4-2h8m25 0h8m-5 1h8m27-1h8m-7 8h8m64-7h8m-3 8h8m14-5h8m16-2h8m44-1h8m-2 3h8m10 4h8m11 1h8m29-9h8m-1 9h8m14-6h8m-3 3h8m-2-4h8m-8 0h8m-444 9h8m55 0h8m14 7h8m52-1h8m21-7h8m22 5h8m83-4h8m30 1h8m41 3h8m11-1h8m6 4h8m-6-3h8m12-3h8m1-1h8m-6 3h8m-3 2h8m-464 5h8m22-1h8m39 0h8m30 8h8m15 1h8m-5-7h8m-7-2h8m17 0h8m67 7h8m16 2h8m2-3h8m2 3h8m15-4h8m29 2h8m-6-6h8m118 6h8m-2 0h8m68-3h8m-508 10h8m13 5h8m3-8h8m64 7h8m3-3h8m21 4h8m6-3h8m-5-2h8m1-1h8m2-3h8m5 6h8m14-1h8m7 4h8m-2-6h8m33-1h8m7-1h8m14 1h8m14-2h8m12 6h8m2 1h8m-5-6h8m5 4h8m32-1h8m-4 3h8m-5-6h8m-7 8h8m-8-2h8m-3 1h8m-8-1h8m-8-7h8m10 4h8m-5 0h8m2 2h8m12 2h8m-1-4h8m-7-4h8m9 6h8m-6-3h8m-580 8h8m-8 4h8m52-3h8m-4 2h8m-1 0h8m-2 4h8m21-3h8m10-2h8m3-3h8m2 5h8m20-2h8m-3-2h8m44 4h8m43-2h8m8 4h8m15 1h8m48-1h8m2 1h8m-4 0h8m29-3h8m-2-3h8m4 2h8m14 3h8m13 0h8m-6-7h8m-3 7h8m2-1h8m24-4h8m-512 14h8m-5-2h8m34 0h8m56-2h8m5 1h8m-4 0h8m20 6h8m7 0h8m27-5h8m-5 3h8m-1 2h8m6-3h8m-4-4h8m56 5h8m42-6h8m4 7h8m24-3h8m8-3h8m17 4h8m40-4h8m-519 16h8m24-2h8m65-5h8m-6-1h8m-1 2h8m16 7h8m-3-8h8m-1 6h8m-7 1h8m8-2h8m7 0h8m-7-3h8m-7 1h8m-7 2h8m4-5h8m2 0h8m3 1h8m-7 6h8m4-4h8m5 5h8m-3-6h8m27-1h8m61 4h8m44-2h8m7-3h8m-4-1h8m4 3h8m46 4h8m-1-2h8m-488 5h8m46 1h8m-3 2h8m-6 6h8m-2-2h8m-3-1h8m0-4h8m-6 4h8m37-6h8m11 2h8m-4 1h8m8 5h8m13 1h8m14 0h8m4-8h8m-7 4h8m11 4h8m32-3h8m-5-3h8m6-2h8m6 2h8m-4 0h8m-3-3h8m16 4h8m2-1h8m5-3h8m37 1h8m26 5h8m-423 13h8m15-5h8m-7 5h8m15 0h8m10-3h8m-4-4h8m-3 7h8m18-5h8m66-1h8m-7-1h8m0 7h8m-7-6h8m3-3h8m17 4h8m-2 1h8m-5 4h8m127-6h8m4 5h8m62-3h8m-3 4h8m-8-6h8m-1 4h8m-547 6h8m95-1h8m-7-2h8m-4 2h8m30-2h8m-5 2h8m26-2h8m72 1h8m8-1h8m-5 2h8m2 4h8m-1-2h8m43-4h8m-1 3h8m-1-1h8m-7 4h8m18-5h8m32 5h8m-7 1h8m1-5h8m18 4h8m2-2h8m3 5h8m9-8h8m0 2h8m-2 6h8m10-4h8m1-3h8m-577 16h8m144-8h8m9 1h8m3 0h8m20 0h8m88 0h8m31 3h8m-6 5h8m-3 0h8m-7-8h8m10 6h8m-5-2h8m72-4h8m-7 8h8m-2-5h8m25-4h8m3 3h8m26-1h8m4 7h8m6 0h8m-249 3h8m9 1h8m3-2h8m-3 2h8m-8 5h8m17-2h8m50-3h8m6 5h8m69-1h8m11-5h8m-7 3h8m-541 13h8m338 1h8m3-2h8m-1-3h8m73-4h8m1 6h8m18-4h8m17 2h8m21 3h8m-199 4h8m-6 1h8m-2 6h8m-7 1h8m-1-5h8m-8 4h8m-2-6h8m-6 2h8m-7 4h8m2-8h8m16 3h8m-4 0h8m15 4h8m22 0h8m-5-1h8m7 2h8m13-2h8m11-3h8m7 6h8m-2-9h8m3 0h8m-167 12h8m1 1h8m64-2h8m-6 8h8m47-1h8m9 1h8m-200 2h8m9 0h8m-6 7h8m-5-6h8m-6 2h8m-3 2h8m48-2h8m52 4h8m-3-8h8m-6 3h8m28 0h8m-185 13h8m3 2h8m1 0h8m-8-7h8m0 1h8m0-1h8m-1 5h8m-5 1h8m74 1h8m7-2h8m2-5h8m8 0h8m-7 3h8m0-2h8m-178 8h8m15 8h8m-1-6h8m-1 4h8m-3-5h8m-3 5h8m-6-1h8m8-5h8m22 8h8m-7 0h8m-7-7h8m8 0h8m-6 4h8m5 2h8m7-4h8m-7 0h8m18-1h8m-158 10h8m-7-1h8m1 2h8m4-3h8m11 7h8m-6-4h8m47-1h8m-1 0h8m17 7h8m1-5h8m-136 9h8m-2 0h8m-7 2h8m0 1h8m33-1h8m16 4h8m27-2h8m16 0h8m1-3h8m-130 7h8m0 6h8m7-1h8m-6-4h8m-4 0h8m22 1h8m-1 1h8m-2 1h8m8 0h8m-110 8h8m-6-2h8m12 2h8m0 4h8m9 2h8m5-5h8m17 4h8m10-2h8m3-4h8m3 2h8m-5-1h8m-2-1h8m-91 16h8m6-8h8m27 4h8m34-1h8m-98 15h8m2 0h8m71-2h8m-67 4h8m-6 7h8m26-5h8m-1 2h8m0 3h8m-5 0h8m-8-4h8m-102 8h8m3 0h8m-6 5h8m8-2h8m-6 1h8m22-5h8m9 7h8m6-2h8m-6 2h8m-7-7h8m-4 7h8m-98 6h8m1 1h8m-4-3h8m-7 5h8m15-6h8m0 9h8m-6-8h8m-7 4h8m17-2h8m11 6h8m-80 8h8m0 2h8m14-5h8m-1 1h8m-5 0h8m5 0h8m8-1h8m-7 2h8m-8-2h8m-5-1h8m-54 10h8m-6 6h8m0-5h8m19 3h8m-5-1h8m-70 4h8m28 5h8m-5 3h8m-6-2h8m16-1h8m-36 8h8"/><path stroke="#472d7b" d="M3875 377h8m-8-3h8m-7 10h8m16 16h8m-6 4h8m-6 0h8m-25 14h8m23-5h8m-8-2h8m-7 3h8m-29 9h8m16 0h8m6-2h8m-7 8h8m-14 7h8m0-1h8m-5 13h8m-36 9h8m29-3h8m3 0h8m-11 8h8m-8 6h8m19 8h8m-20 13h8m7-9h8m16 9h8m-22 1h8m-2 8h8m-1 8h8m-80 5h8m45 7h8m-43 3h8m18 27h8m37-8h8m-7 2h8m-69 12h8m59 3h8m-10 10h8m-3 1h8m2-7h8m0 17h8m-13 11h8m-32 10h8m18-7h8m-8 12h8m7 3h8m-125 6h8m-7 2h8m23-2h8m-51 16h8m-6 0h8m-3-9h8m-8 2h8m7 2h8m-8 4h8m57-6h8m45 5h8m-163 11h8m0-2h8m3 3h8m-7-3h8m-7-4h8m-5 1h8m14 1h8m-7 0h8m-3-1h8m-4 6h8m-4-4h8m-1 0h8m-73 9h8m-4 5h8m-1-5h8m0 1h8m-8-2h8m-7-1h8m-7 6h8m3 0h8m-6-5h8m-3 4h8m-3-7h8m-4 8h8m-7-4h8m-8-3h8m-8 5h8m-8-2h8m-4 2h8m-4 3h8m-5-1h8m-6-2h8m-4 2h8m-6-4h8m10 3h8m10-5h8m47 1h8m-161 9h8m10 5h8m16-5h8m-4 4h8m-6-3h8m3 4h8m-4 2h8m-7-2h8m5 2h8m65 0h8m-6-9h8m-7 0h8m-3 0h8m-164 19h8m10-9h8m12 9h8m-7-6h8m0-2h8m-5 7h8m-4-7h8m-7 4h8m-7-4h8m6 4h8m-3-2h8m-4 1h8m53 2h8m10 3h8m-145 1h8m9 8h8m-2-4h8m10 5h8m5-4h8m-8-4h8m-1 0h8m-3 1h8m-8 1h8m0 2h8m4 3h8m43-3h8m-2-2h8m-102 13h8m3 3h8m4-8h8m-3 0h8m-1 7h8m-60 5h8m29 0h8m15-1h8m48 6h8m0 1h8m-104 9h8m-58 2h8m41 1h8m13 4h8m20 0h8m-117 12h8m-2-2h8m-2-3h8m-3 7h8m4-2h8m7 1h8m5-1h8m7 0h8m36-5h8m45 0h8m0 0h8m-202 14h8m-2-5h8m-4 5h8m0-3h8m0 5h8m14-6h8m67 4h8m-155 10h8m30 3h8m32-3h8m144-1h8m-116 12h8m47-2h8m-8 0h8m9-3h8m1 1h8m-231 12h8m8-2h8m31-2h8m12 5h8m84-3h8m47-2h8m1 0h8m-1-1h8m17 7h8m-3-1h8m-204 4h8m8 2h8m10 0h8m9-2h8m-7 3h8m23 5h8m125-1h8m-267 8h8m-7-1h8m16 5h8m-3-6h8m1 2h8m30-5h8m3 5h8m11-4h8m21-1h8m15 2h8m7 0h8m17-1h8m25 1h8m10-1h8m-269 16h8m96-4h8m15-3h8m27 5h8m26-4h8m41 3h8m3-2h8m8 4h8m-4-6h8m81 9h8m17-3h8m-425 11h8m139-5h8m43 4h8m75 2h8m43-8h8m-2 7h8m-359 12h8m1-5h8m40 5h8m23-8h8m46 1h8m11 7h8m-7-8h8m53 6h8m12-3h8m32 3h8m30-1h8m-8-2h8m-355 8h8m0 0h8m18 3h8m19-5h8m-1 4h8m48 3h8m-4-2h8m27 4h8m10-1h8m19-8h8m-7 1h8m40 3h8m13 4h8m14-5h8m-288 11h8m29 0h8m-5 4h8m32-6h8m54 3h8m13-4h8m0-1h8m7 0h8m50 5h8m2 2h8m33-1h8m3 1h8m57-1h8m-2-1h8m-3 1h8m-427 8h8m0 1h8m-8 0h8m0-5h8m67 7h8m-6-4h8m72 1h8m20 2h8m152-1h8m14 2h8m-423 7h8m24 2h8m13 0h8m115 3h8m-5-8h8m-8 5h8m41-2h8m8-3h8m46 3h8m0 2h8m9-3h8m7 1h8m11 3h8m17-3h8m13-1h8m7-3h8m16 4h8m-2 5h8m-448 3h8m-1 6h8m-3 0h8m128-5h8m204 0h8m7 2h8m22 4h8m-5-4h8m-183 14h8m89-7h8m-7 3h8m3 0h8m50-4h8m-1-1h8m-209 17h8m-5-7h8m10 2h8m5 2h8m24-4h8m-4 0h8m12 2h8m-8 5h8m108-2h8m12-5h8m-230 13h8m72 2h8m0-5h8m-4 4h8m19-3h8m24 4h8m30 1h8m24 2h8m-171 6h8m40 4h8m14 0h8m90-8h8m-164 15h8m2 4h8m3-4h8m25 1h8m7-3h8m-7 4h8m-2-6h8m13 1h8m-2 5h8m1-7h8m-2 7h8m-127 4h8m20 5h8m-7-6h8m42 2h8m16-1h8m-1 0h8m-131 16h8m-2 0h8m53-3h8m91 1h8m-146 7h8m10 7h8m85-5h8m-119 6h8m0 4h8m124-1h8m-142 12h8m13 13h8m48 1h8m-7 0h8m21-4h8m2 2h8m-5-2h8m-1 4h8m-4-7h8m-119 12h8m24-2h8m7 0h8m51 4h8m8-4h8m-55 21h8m29 13h8m0 2h8m-2-7h8m-6 3h8m-5-2h8m-97 11h8m25 5h8m42-5h8m-68 13h8m16 9h8m-8-2h8m9 5h8m14-2h8m-7-5h8m-39 13h8m-6 16h8"/></g>
<g fill="none" stroke-width="8" transform="scale(.1)"><path stroke="#472d7b" d="M4567 277h8m-2-2h8m67-3h8m-80 13h8m26 0h8m-5-1h8m1-3h8m-57 17h8m-2-5h8m20 1h8m-3 5h8m15-1h8m-63 11h8m-4-7h8m-1 3h8m8-2h8m28-2h8m-81 11h8m34 1h8m3-2h8m-2 8h8m15-4h8m-92 9h8m-7 0h8m-5 5h8m11-5h8m61 3h8m-102 9h8m5 2h8m28 0h8m-4-6h8m3 4h8m21-4h8m-8 5h8m-83 3h8m-8 3h8m-7 3h8m7-2h8m-6 2h8m-6-2h8m-5-4h8m-4 0h8m14 0h8m-5 3h8m16 5h8m-97 2h8m5 5h8m10-2h8m16 5h8m-3-2h8m9 3h8m7-8h8m-83 13h8m10-4h8m-4 5h8m11-5h8m-48 18h8m0-6h8m21 4h8m-4 0h8m20 0h8m16 1h8m-7-4h8m-6 6h8m-133 1h8m22 2h8m36 3h8m0 4h8m-4-5h8m11-2h8m5-1h8m2 1h8m-130 12h8m-3 0h8m6 3h8m15-5h8m-7 1h8m28-2h8m18 8h8m-4-8h8m7 3h8m-2 0h8m-157 12h8m-1-6h8m-3 4h8m20-2h8m5 1h8m-6 1h8m15 1h8m10 2h8m-7-7h8m52 4h8m-128 7h8m31 8h8m4-4h8m16-3h8m-6 0h8m1 3h8m-2-3h8m36 3h8m-4 0h8m-184 11h8m2-2h8m8-1h8m64 0h8m17 3h8m0-6h8m32 5h8m0 4h8m-202 9h8m31-6h8m1 3h8m1-3h8m2 3h8m-5 0h8m-4 3h8m7-1h8m2-3h8m2-1h8m1 0h8m17-3h8m51 7h8m-6-6h8m-7 2h8m-176 13h8m-7-3h8m12-2h8m2 5h8m8-4h8m8 0h8m47 0h8m46-2h8m-6 1h8m-238 10h8m110 7h8m12-6h8m85-1h8m-236 17h8m16-2h8m65-5h8m42 3h8m20 3h8m-186 3h8m-7 6h8m-1-4h8m19 5h8m1-4h8m13 1h8m10 2h8m65-4h8m3 3h8m-1 2h8m72-7h8m-2 2h8m-3 3h8m-300 9h8m-5-3h8m-3 5h8m-5-4h8m8 1h8m8 5h8m87-4h8m3 5h8m-7-8h8m39 4h8m40-3h8m-2 2h8m40 0h8m-7 4h8m-5-4h8m-7-2h8m-290 10h8m-5 6h8m15-7h8m87 1h8m152 3h8m-270 6h8m71 5h8m30-4h8m41 1h8m-4-1h8m75 1h8m23 5h8m-3-7h8m-302 9h8m19 2h8m15 6h8m-8-8h8m18 7h8m41-2h8m-2-2h8m51 1h8m1 2h8m81 1h8m-7 0h8m-3-4h8m-330 12h8m53-1h8m71 0h8m40-3h8m6 8h8m7 0h8m21-5h8m69-4h8m-6 3h8m-6-1h8m-7-1h8m-336 12h8m29 6h8m5-1h8m-2 0h8m-5 0h8m29-8h8m38 2h8m17 5h8m86-2h8m12 4h8m5-7h8m34 3h8m-355 11h8m28 0h8m31-1h8m210-1h8m-286 13h8m50-7h8m55 7h8m112 2h8m98-1h8m-213 8h8m75-3h8m53 5h8m58-5h8m-146 15h8m40-3h8m23-4h8m-4 4h8m45-1h8m-299 9h8m11-1h8m95 5h8m13-2h8m83 3h8m50-5h8m0 4h8m-257 4h8m-2 6h8m243 2h8m-330 2h8m12 5h8m62 3h8m201-6h8m13 6h8m-376 6h8m90 3h8m276-4h8m-3-3h8m-57 11h8m33 5h8m-279 12h8m26-6h8m5 3h8m45-6h8m136 0h8m24 6h8m-6 1h8m-402 4h8m120 7h8m261-8h8m-78 11h8m64 1h8m5 0h8m-83 16h8m10-7h8m-7-1h8m20 8h8m-34 6h8m54 1h8m-17 7h8m-7 3h8m2 8h8m-17 8h8m22 26h8m-6-4h8m-33 11h8m21-2h8m-6 3h8m-7 2h8m-7 12h8m-3-2h8m-17 4h8m-2 7h8m-2 1h8m5 9h8m-8 6h8m10 6h8m-8 4h8m1 1h8m11 5h8m-8 7h8m85 2h8m-5-4h8m-8 2h8m-8-2h8m-97 10h8m-1-2h8m1 1h8m-4 1h8m-2 1h8m7 2h8m-2-4h8m22 0h8m1-2h8m-66 10h8m13-2h8m-28 29h8m-8 9h8m0 8h8m-22 23h8m-10 5h8m-11 42h8m2 22h8m-13 8h8m6 35h8m-4 5h8m-12 14h8m-3 19h8m-21 6h8m-3 0h8m-3 23h8m-9 4h8"/><path stroke="#440154" d="M4565 279h8m-6 0h8m70-7h8m-1-1h8m-91 16h8m0-6h8m35 8h8m-7-3h8m-6 2h8m-1-5h8m9-2h8m-4 3h8m-8-3h8m-94 11h8m-4 3h8m10 1h8m16-2h8m0-1h8m-6 4h8m-6-2h8m-8-2h8m11-1h8m-5 5h8m-63 3h8m9 2h8m-5 0h8m23 4h8m9 3h8m-93 2h8m-8 1h8m-5 3h8m-5 1h8m-3-5h8m1 4h8m-5 4h8m20-6h8m-5-1h8m14 6h8m-91 2h8m-4 3h8m4 0h8m3 2h8m10 0h8m30-3h8m-78 8h8m-1 7h8m-7-4h8m-3-3h8m-8 9h8m-5-1h8m-7-3h8m7 4h8m-4-9h8m-3 6h8m-3-2h8m6 0h8m8 5h8m-98 8h8m-5-5h8m-7 4h8m6 2h8m4-6h8m-5 1h8m-6 6h8m-2-6h8m-6-1h8m8 3h8m-6-3h8m-8 7h8m13-3h8m7-1h8m-107 11h8m13 0h8m-2 2h8m-7 0h8m24-7h8m1-1h8m13 8h8m-3-6h8m-6 1h8m-104 16h8m5-9h8m-4 0h8m-1 9h8m-8-1h8m-5-1h8m3-7h8m12 5h8m-1-3h8m-6 2h8m-6-3h8m21 0h8m-2 5h8m-7 1h8m-8 1h8m-3-2h8m-93 8h8m3 4h8m-1-6h8m2 7h8m8-2h8m-8-1h8m9 0h8m3 0h8m-2-2h8m1-1h8m-117 16h8m-7 0h8m-8 0h8m7-9h8m-6 4h8m-4 1h8m-4-3h8m8 4h8m-7-6h8m-5 4h8m-3 3h8m23-3h8m4 2h8m-6 0h8m-5-6h8m-8 4h8m-68 10h8m6 1h8m-7 1h8m18-3h8m6-2h8m-102 12h8m-7 6h8m-8-1h8m0-5h8m6-3h8m8 4h8m-8 3h8m12 0h8m-4 2h8m-8-5h8m-3-3h8m9-1h8m14 2h8m-90 9h8m-1 4h8m14-5h8m-8 1h8m0 0h8m10 6h8m8 1h8m7-5h8m-109 10h8m5 5h8m2-5h8m-7-1h8m1 4h8m-4-3h8m29 4h8m8-4h8m-6 2h8m30 1h8m21 2h8m-140 11h8m-2-6h8m-6 0h8m17-2h8m-5 4h8m5-5h8m-3 5h8m10-5h8m-5 5h8m-8 4h8m12-5h8m34 3h8m-128 4h8m1 0h8m-2 1h8m-5 6h8m21-8h8m87 17h8m-50 10h8m35-6h8m-15 23h8m13-3h8m4 6h8m-15 7h8m2 6h8m9 10h8m-2 0h8m6 16h8m-67 5h8m42 3h8m0 2h8m-8 2h8m-4-7h8m-8 15h8m-8-1h8m-7 1h8m-4 10h8m2-2h8m-16 10h8m1 3h8m-7 2h8m-11 6h8m-5 3h8m-63 9h8m68 26h8m-57 9h8m41 0h8m-48 22h8m30 4h8m7-8h8m-1 4h8m-83 15h8m33 0h8m19 4h8m-39 9h8m11 5h8m12-3h8m-2-4h8m-4 2h8m-4 17h8m-11 9h8m-4-3h8m-7 3h8m-40 3h8m6 0h8m5 0h8m0 11h8m6 9h8m-3 10h8m-6 1h8m10 14h8m-6 10h8m-7 1h8m-6 1h8m-5 1h8m-13 3h8m-6 0h8m-3 16h8m21-1h8m3 5h8m-12 13h8m-5-5h8m6 3h8m5 4h8m-30 3h8m11 5h8m4-4h8m0-1h8m5 0h8m-2 4h8m25-3h8m-3 7h8m-72 30h8m2 3h8m-4-1h8m-14 47h8m-5 19h8m-21 10h8m-7 15h8m-6 0h8m-3 5h8m-10 4h8m2 4h8m-20 6h8m-7 7h8m5-2h8m-20 25h8m-9 14h8m4 24h8m-11 35h8m-9 8h8m-3-1h8m-11 10h8"/><path stroke="#3b528b" d="M4652 265h8m-81 24h8m57-2h8m-4-4h8m-69 11h8m-8 10h8m14-2h8m28 1h8m-6 6h8m-54 6h8m-6-1h8m-7 0h8m3 15h8m-7-9h8m14 7h8m-83 3h8m-2 0h8m38 1h8m22 2h8m0 5h8m-8-1h8m-81 12h8m-4 0h8m-6-7h8m29 0h8m12 2h8m-80 15h8m67-8h8m-71 10h8m7 7h8m7-7h8m8 3h8m27 0h8m-71 8h8m24-2h8m36 6h8m-8-5h8m-93 18h8m19-6h8m19-1h8m37-2h8m-149 13h8m5 3h8m8-1h8m2 3h8m48 1h8m47-5h8m-146 13h8m-4 1h8m10-3h8m1 1h8m16-1h8m81 2h8m-176 9h8m7 3h8m-4-2h8m27 0h8m3 0h8m-3 1h8m21-5h8m15 2h8m4-2h8m13 4h8m-4-6h8m-175 14h8m3 2h8m-7-5h8m-2 6h8m3-6h8m-7-2h8m-5 9h8m-4-4h8m-6 4h8m-53 3h8m31 7h8m20-4h8m18 2h8m-1-6h8m2 0h8m25 1h8m64 0h8m-218 16h8m-7 0h8m-1 1h8m-2-9h8m1 9h8m-3-5h8m8 1h8m-4 2h8m25 1h8m7-1h8m-5 1h8m33-3h8m6 1h8m31-3h8m12-3h8m-239 18h8m-8-2h8m-3-3h8m-7 5h8m-6-7h8m6 1h8m0 0h8m-7 7h8m-8-5h8m-6 3h8m0-4h8m3-2h8m1-1h8m-2 8h8m0 0h8m-7 1h8m3-9h8m27 7h8m4-3h8m-2 2h8m11-6h8m-6 3h8m-3-3h8m1 0h8m1 4h8m33 5h8m29-3h8m-276 8h8m0-1h8m15 6h8m-4-6h8m7 2h8m23-3h8m7 3h8m-2 4h8m8-5h8m-8-1h8m20 4h8m25-3h8m5 2h8m8 0h8m45-6h8m-276 11h8m6 0h8m-4 6h8m3 1h8m9-2h8m6-2h8m8-4h8m16 0h8m14 6h8m3-6h8m-4 1h8m25-1h8m0 7h8m-3-2h8m-1-3h8m86 7h8m5-2h8m-276 12h8m-5-1h8m0-7h8m13 5h8m6 0h8m31 3h8m5-4h8m18-4h8m-1 6h8m-5-6h8m10-1h8m14 1h8m1 3h8m-6 4h8m-224 6h8m-1-2h8m-3 1h8m14 6h8m-5-9h8m-2 8h8m-3-3h8m-5-3h8m4 6h8m9-3h8m21-4h8m-6 5h8m76 3h8m-8-7h8m8 1h8m23 2h8m37-1h8m0 0h8m-264 6h8m20 7h8m-5 0h8m0 0h8m4-6h8m-7 1h8m12 7h8m-3-7h8m-7 1h8m25 6h8m1 0h8m-2-3h8m-1-3h8m31 3h8m-7 0h8m-8 2h8m-5-8h8m8 1h8m3 2h8m-1 1h8m-256 15h8m-3-1h8m-4 0h8m-1 0h8m-6-7h8m-2 8h8m9-8h8m8 8h8m11-1h8m36 1h8m1-7h8m3 2h8m27-3h8m17 2h8m-8 1h8m-4-3h8m-2 1h8m2 6h8m-3-3h8m78-5h8m-326 19h8m34-2h8m21-5h8m-8-1h8m-2 1h8m-3-1h8m-2 0h8m34-1h8m10 8h8m-4-5h8m-7 3h8m31 3h8m-5-9h8m-4 6h8m-1-4h8m2 1h8m4-3h8m0 7h8m83-6h8m7 8h8m-312 8h8m-3 0h8m24 1h8m-2-5h8m7 2h8m-5 0h8m26-3h8m11 3h8m12 3h8m18-3h8m30-5h8m32 4h8m12 4h8m31 1h8m-335 2h8m20 2h8m-5 2h8m5 3h8m9-1h8m47-7h8m22 2h8m9 2h8m-7 1h8m6-5h8m27 6h8m2-6h8m107 6h8m-362 9h8m9-4h8m4 0h8m0 0h8m24-1h8m-7 7h8m0-3h8m-1 4h8m18-4h8m8 3h8m14-3h8m18-1h8m41 6h8m-6-4h8m0 2h8m-2-4h8m-1-2h8m-5 8h8m-5-8h8m-3 8h8m2-3h8m-256 6h8m-4 4h8m7-5h8m16 2h8m5-2h8m7-1h8m-4 7h8m-4-3h8m41 2h8m40-4h8m9 2h8m43-3h8m-6-1h8m48 1h8m27 4h8m2 4h8m-344 4h8m37-1h8m-3-2h8m15 2h8m-8-2h8m-1 3h8m-2 0h8m99 1h8m37-2h8m-4-2h8m94 3h8m-351 16h8m30-9h8m-5 3h8m38-2h8m41 7h8m53-7h8m13 7h8m82-8h8m25 9h8m-7-8h8m-385 10h8m5 4h8m-3 1h8m9-4h8m95 6h8m-1-1h8m22 0h8m21 2h8m-3-9h8m31 0h8m-5 7h8m-219 10h8m-7-5h8m25 1h8m18-2h8m9 5h8m80-2h8m5 4h8m64-7h8m-3 3h8m42-1h8m35-3h8m-6 5h8m-6 4h8m-386 1h8m2 0h8m194 7h8m34 0h8m122-3h8m-411 6h8m-3 9h8m92-5h8m3 0h8m-6 2h8m171-4h8m82 3h8m-392 5h8m4 6h8m-3-6h8m24 5h8m2-5h8m98 2h8m-3 3h8m103 1h8m93-6h8m-385 10h8m37 4h8m83 4h8m53-5h8m49 5h8m125-8h8m12 0h8m-162 11h8m53 0h8m-4 4h8m10-1h8m26-3h8m18 6h8m-411 12h8m79 10h8m57-7h8m103-1h8m139 1h8m-419 17h8m52-8h8m122 6h8m234-1h8m-7-4h8m-224 9h8m8 5h8m-1-5h8m23 2h8m102 1h8m-381 13h8m66 1h8m316 1h8m-428 5h8m36-4h8m2 8h8m34 0h8m63-7h8m238-1h8m32 2h8m10 4h8m-461 10h8m17-3h8m412-2h8m-1-1h8m-383 13h8m381 8h8m-419 17h8m21-3h8m5-2h8m102-1h8m-216 14h8m109-3h8m-12 14h8m-6 0h8m56 1h8m-196 2h8m-8 1h8m53 7h8m75-2h8m23-1h8m-165 7h8m39 1h8m102 0h8m367 5h8m-543 11h8m-6-8h8m10 6h8m22-6h8m481 4h8m-6-2h8m17 3h8m-480 4h8m443 2h8m12-1h8m15 6h8m-601 15h8m129-1h8m-91 11h8m-78 16h8m99 10h8m-96 10h8m11-7h8m528 5h8m-3-4h8m-7-2h8m1 19h8m-568 26h8m540 19h8m-2 22h8m1 65h8"/><path stroke="#21918c" d="M4544 407h8m125 39h8m-8 3h8m-153 3h8m121 0h8m-133 10h8m58 5h8m-8-1h8m10 8h8m7 3h8m-5-1h8m25-4h8m-189 9h8m8 7h8m2-2h8m16 2h8m17-5h8m-3-3h8m7 3h8m78 5h8m9-7h8m9 4h8m3 4h8m-8-7h8m-226 8h8m12 4h8m26-2h8m10 4h8m16 3h8m3-4h8m-2-4h8m60 6h8m0-2h8m-159 5h8m-4 8h8m4 0h8m-8-3h8m6 2h8m8-7h8m-7 8h8m41-3h8m62 0h8m7-1h8m-233 13h8m5-6h8m47 3h8m-7 2h8m4-2h8m29 5h8m-5-9h8m12 2h8m0 0h8m-4 1h8m2 0h8m-3-1h8m7 1h8m8 6h8m3-6h8m-220 8h8m54 7h8m19-3h8m-5 2h8m33-7h8m13 7h8m-5-4h8m1-2h8m1 3h8m-1-4h8m36 6h8m13-2h8m-250 10h8m-2-3h8m1-1h8m67 7h8m3 0h8m16-7h8m-3 8h8m18-8h8m5 5h8m4-2h8m34 6h8m-240 9h8m-4 1h8m7-5h8m13 4h8m-6-7h8m1 3h8m10-3h8m-2 0h8m-4 1h8m4-1h8m5 1h8m15 1h8m51 6h8m0-6h8m-6-3h8m12 7h8m18-4h8m-211 16h8m20-2h8m-1-5h8m67 6h8m-6 1h8m6-7h8m2-2h8m-4 2h8m8 2h8m9 5h8m16-7h8m10 0h8m-7 5h8m-238 10h8m-8-7h8m24 6h8m12 2h8m-8-5h8m1 2h8m-2 2h8m24-3h8m3 3h8m16-3h8m-4 2h8m2-2h8m67 3h8m1-4h8m-8-2h8m3 1h8m-274 11h8m5 4h8m-1-6h8m3 7h8m-6-7h8m3-1h8m-4 2h8m22-2h8m6 8h8m4-8h8m4 1h8m1-1h8m81 4h8m-207 9h8m7 4h8m-1-4h8m-6-2h8m8 1h8m-6 1h8m-7 0h8m18 3h8m-7-6h8m16 6h8m12 3h8m17-5h8m-1-3h8m17-1h8m3 0h8m-6 4h8m-7 1h8m-4 2h8m13 2h8m11-4h8m1 2h8m0 2h8m5-5h8m-4 4h8m-289 9h8m-1 2h8m17-5h8m24 2h8m0-4h8m21 2h8m17 3h8m-4 0h8m-1-2h8m4 3h8m-6 1h8m5-9h8m23 1h8m5 4h8m27 3h8m3-5h8m2 2h8m-266 14h8m7-3h8m-4-6h8m-8 8h8m-6 1h8m5-7h8m2 6h8m10 0h8m18-5h8m-5 2h8m-6 1h8m6 0h8m5-6h8m10 5h8m-7-2h8m-3 0h8m-4-3h8m-8 7h8m3-4h8m5 2h8m7 2h8m0 0h8m-4-4h8m1 3h8m-1 0h8m-8-3h8m9 6h8m0-3h8m-3-1h8m10-1h8m-272 12h8m-8-2h8m17 0h8m19-3h8m5 1h8m30 4h8m12 2h8m-8-2h8m16-1h8m-4-4h8m-8 7h8m-3-1h8m-7 0h8m-1-1h8m-2-6h8m8 6h8m4-2h8m11-4h8m24 7h8m-7 2h8m-7-8h8m-7 2h8m-7-2h8m2-1h8m-8 4h8m4 5h8m-6-4h8m0-4h8m-306 13h8m-7 2h8m10-3h8m3-3h8m2 2h8m-7 1h8m-7-3h8m-7 8h8m-2 0h8m56-6h8m21-2h8m-4 3h8m-7 5h8m1-1h8m-4-6h8m11 8h8m12-2h8m13-4h8m26 6h8m-4-5h8m8 1h8m-8 0h8m-6 0h8m-5-1h8m-8 5h8m-5-2h8m-4-4h8m-3-3h8m4 6h8m-7 2h8m-8-1h8m-313 11h8m4-5h8m-6 5h8m-6-8h8m-5 9h8m5-9h8m2 5h8m-8-4h8m6 7h8m21-6h8m19 5h8m2-2h8m9 1h8m27-4h8m6 1h8m10 6h8m30-6h8m-8 3h8m0 0h8m-6-1h8m6-2h8m-2 2h8m2-3h8m-8 2h8m-5 2h8m-2 2h8m-4-8h8m-7 3h8m-6 6h8m-4-3h8m-6 3h8m-4-2h8m2 0h8m-332 11h8m2-5h8m-6 4h8m-6 0h8m-7-4h8m22-3h8m12 7h8m0 2h8m-2-7h8m30 4h8m0-3h8m4-1h8m-8 3h8m1 2h8m-7-1h8m4 1h8m-7-7h8m3 9h8m-3-3h8m-1-4h8m-1-2h8m12 0h8m8 1h8m-5 2h8m-6 5h8m7-3h8m-6-3h8m-6 3h8m-4 1h8m6 1h8m11-1h8m1-6h8m-7 2h8m-8 4h8m2 0h8m-3 1h8m-5-3h8m1 5h8m-332 7h8m-1 1h8m27-3h8m11 3h8m6-6h8m-4 6h8m15-7h8m22 0h8m-5 2h8m1 6h8m-8-5h8m-5 3h8m3-4h8m9 6h8m12-7h8m-8 0h8m3-1h8m2 2h8m-6 7h8m13-4h8m1-4h8m-6 0h8m1 2h8m-5 6h8m2-9h8m-7 8h8m5-8h8m-2 0h8m-6 6h8m-8-1h8m-6-5h8m-7 7h8m-3-2h8m-5-3h8m-7 5h8m-7-3h8m-7 3h8m-7-7h8m-5 8h8m-6-7h8m-5 8h8m1 0h8m-3-3h8m1 2h8m-342 4h8m29 6h8m-8-1h8m-7-6h8m6 8h8m-6-5h8m7 2h8m0 0h8m-2-2h8m1 1h8m12-4h8m-6-1h8m-2 6h8m32 0h8m9 0h8m-7 0h8m4 0h8m1-6h8m-4 8h8m-5 0h8m-4-2h8m32-3h8m-5 3h8m-7 3h8m-8-6h8m-4-3h8m-8 7h8m-6 0h8m-4-1h8m-6 0h8m-2 1h8m-5-5h8m-7 7h8m-6 0h8m-6-2h8m-5-3h8m-3 0h8m-7 3h8m2-7h8m-2 1h8m3 0h8m-4 5h8m-3-6h8m-8 1h8m5 0h8m-5 0h8m-3 7h8m-7-6h8m-7 2h8m-364 9h8m-4-2h8m18 6h8m-5-2h8m10-4h8m-6 0h8m-7 1h8m-1 3h8m0-2h8m-7 6h8m2-7h8m4-2h8m4 4h8m-8-2h8m2 2h8m-1-4h8m-7 4h8m29 3h8m-4-3h8m-4 2h8m22 3h8m-8-5h8m-1 3h8m-5-1h8m6 1h8m-5-5h8m-4-1h8m-2-1h8m20 6h8m-2 2h8m0-3h8m12-5h8m-8 2h8m-2-1h8m-1 6h8m-2-1h8m-7 3h8m-2-4h8m5-2h8m0 2h8m-3 1h8m10 0h8m-376 9h8m-7-4h8m-3 6h8m-2-2h8m-4 3h8m-6-1h8m-5-4h8m2-3h8m0 8h8m-3-3h8m41 4h8m-7 0h8m-3-6h8m13 4h8m-3-6h8m-4 8h8m-4 0h8m2-6h8m-1-3h8m19 6h8m25-4h8m9 7h8m2-4h8m5 4h8m-6-9h8m6 7h8m1-3h8m-5 5h8m-6 0h8m9-9h8m-4 1h8m-5 1h8m-7-2h8m1 2h8m21-2h8m4 8h8m-354 3h8m21 8h8m6-8h8m-7-1h8m-8 0h8m-7 5h8m0-2h8m-7-3h8m2 6h8m26-1h8m-7-3h8m11 3h8m24-2h8m4 3h8m1-3h8m1 6h8m-8-7h8m-4 4h8m-2-6h8m-7 8h8m18 1h8m-8-5h8m17 3h8m-1-2h8m2-5h8m19 5h8m-2 4h8m15 0h8m13-1h8m1-3h8m-358 14h8m0-8h8m3 7h8m28-2h8m8 0h8m-4 3h8m3-8h8m-5-1h8m9 6h8m16 3h8m-2-5h8m-2 3h8m-6-2h8m-5 1h8m4-6h8m-6 3h8m0 5h8m21-4h8m20-2h8m-5 3h8m34-3h8m-7-2h8m19 1h8m-6-1h8m44 3h8m-8 6h8m-2-1h8m1 0h8m-5-6h8m-391 13h8m-6 0h8m-3 3h8m1-5h8m-2 0h8m5 4h8m-4-3h8m-2 4h8m5-6h8m2 3h8m-7-4h8m-2 3h8m1-3h8m-4 8h8m-2-8h8m-1 5h8m7 0h8m24-5h8m-6 4h8m-3-4h8m-3 1h8m-2 7h8m-8 0h8m10 0h8m12-1h8m-4-8h8m0 5h8m28 2h8m5 2h8m-7-1h8m-8-6h8m8-2h8m-7 0h8m-7 1h8m42 5h8m6-6h8m0 7h8m12 0h8m5-5h8m-7 5h8m3-4h8m-389 8h8m13 0h8m14 0h8m11-1h8m-1 0h8m-8 6h8m0 2h8m-7-8h8m-7 2h8m4-2h8m19 6h8m-8 3h8m2 0h8m17-4h8m8 1h8m-4-4h8m-3 1h8m12 2h8m-4-4h8m5 1h8m-7 5h8m-1-4h8m-8 4h8m-6-5h8m1 0h8m3-2h8m20 6h8m-5 3h8m33 0h8m3-1h8m45-2h8m15 1h8m-433 11h8m11-8h8m10 6h8m-5 2h8m-2-4h8m20 5h8m2-4h8m8-4h8m8 4h8m-8 3h8m-4-1h8m-3-2h8m9 4h8m16-7h8m1 0h8m1 1h8m-5 1h8m12 4h8m19-5h8m-3-1h8m-8-2h8m-6 8h8m12-8h8m4 7h8m-1-7h8m18 3h8m0 3h8m13 0h8m46-5h8m-1 5h8m23-3h8m-441 10h8m21 0h8m24-3h8m12 0h8m2 8h8m3-5h8m8 3h8m-2-1h8m0-2h8m-4-2h8m-5 8h8m10-7h8m-3 6h8m-4-2h8m5 0h8m9 1h8m20-2h8m7 2h8m-4 2h8m50-1h8m9 1h8m30-6h8m-1 1h8m-5-2h8m33 3h8m13 2h8m-5-5h8m16 1h8m-453 14h8m-4 1h8m37-4h8m-4 5h8m5-7h8m15 2h8m-2 1h8m-4-1h8m15 5h8m2-3h8m-1 2h8m-2-2h8m-1 1h8m-5-7h8m-7 4h8m5 4h8m4 1h8m-3-6h8m2 1h8m-8 1h8m-6 3h8m1-6h8m14 1h8m0-2h8m-6-1h8m32 1h8m6 4h8m-8-4h8m-7-1h8m15 8h8m9-7h8m-4 5h8m-6 3h8m25-1h8m-1-5h8m-5 6h8m-6-8h8m-2 6h8m28-6h8m-433 10h8m11 4h8m17-5h8m21 2h8m-7 0h8m-1 5h8m-8-7h8m-8 0h8m37 0h8m-5 4h8m13-2h8m-4-1h8m3 7h8m6-4h8m-3-3h8m-5 1h8m-7 1h8m-4-2h8m-6 4h8m1-3h8m-1 2h8m2-4h8m-4 7h8m4-7h8m1 8h8m14-5h8m36 4h8m10-2h8m3 3h8m-7-2h8m4 3h8m0-1h8m21 1h8m78-5h8m-7 3h8m-3 2h8m-494 2h8m2 7h8m24-4h8m11 3h8m3-3h8m-4 0h8m3 4h8m-1 1h8m-5-7h8m0-1h8m-8 3h8m1 0h8m-3-1h8m-2-3h8m-8 2h8m-7-1h8m9-1h8m1 1h8m0 6h8m29-6h8m-1-1h8m-4 3h8m-3 0h8m-7-1h8m-3 0h8m-8-1h8m5 8h8m-1 0h8m-8-8h8m15-1h8m-7 2h8m1 2h8m-7-3h8m44 8h8m-6-7h8m30 7h8m5-6h8m-6 1h8m-6-1h8m20 1h8m6 1h8m38 2h8m-3-5h8m-492 13h8m-1-1h8m-8-2h8m0 0h8m-2 0h8m-1 5h8m-8 1h8m1-1h8m-6-6h8m-1 6h8m6-6h8m24 3h8m14 0h8m-7-1h8m36 5h8m17-8h8m-4 3h8m-7 0h8m9 0h8m-8-1h8m-4 7h8m-8-4h8m-2 3h8m-1-5h8m10 3h8m-2 0h8m-3-4h8m31-2h8m-4 7h8m7 2h8m-6-9h8m2 4h8m10 2h8m42 2h8m-4-5h8m16-3h8m15 0h8m-7 7h8m4-7h8m13 3h8m22 2h8m0-2h8m2 1h8m-534 13h8m-8 0h8m-7-4h8m7 2h8m6 2h8m0 0h8m5-7h8m-8 4h8m12-2h8m-5 2h8m-5-4h8m17 7h8m-2-4h8m-7 2h8m2-1h8m-5 1h8m-4 1h8m-8-6h8m-7 9h8m11-2h8m24-1h8m-7 1h8m2-5h8m10 3h8m-6 0h8m-4 1h8m-4-4h8m26-1h8m0-1h8m-4 3h8m18 5h8m2 1h8m32-5h8m-5-1h8m11-1h8m2 7h8m-5-4h8m13-3h8m15 2h8m3 4h8m1-7h8m14 6h8m-1 0h8m3-3h8m-2-1h8m10-3h8m-2 1h8m-6 0h8m-1 5h8m-1-3h8m-7 4h8m-524 10h8m3 2h8m10 0h8m16-9h8m27 5h8m7 4h8m1-5h8m-4-3h8m16 0h8m3 6h8m7-3h8m-6 1h8m-7-1h8m6-1h8m29 6h8m22-4h8m11-4h8m57 4h8m12-4h8m3 8h8m23-8h8m35 7h8m2-1h8m26 0h8m-1-5h8m20 4h8m6-2h8m-531 10h8m-1-2h8m0 5h8m-6 2h8m8-1h8m-4-7h8m-4 5h8m-3-1h8m1-4h8m-4 7h8m3-1h8m8 2h8m-7-8h8m1 7h8m5-2h8m1 0h8m-6 3h8m19 0h8m-3-8h8m-7 3h8m4 4h8m-2-1h8m-6 1h8m-3-4h8m0 0h8m0 5h8m35-7h8m-7 5h8m-7-6h8m22 1h8m-7 0h8m20-2h8m-3 9h8m-4-7h8m-3 6h8m-6 0h8m-2-3h8m-7 3h8m0-4h8m-7-2h8m68 0h8m-4 5h8m36-2h8m6-3h8m35 3h8m22-3h8m-574 11h8m-7 4h8m8-2h8m-6-2h8m-2 3h8m18-1h8m-8 2h8m0-5h8m-7 4h8m15-5h8m-2 7h8m5 1h8m1-2h8m-3-6h8m-8 4h8m-6-1h8m0 3h8m-7 1h8m-1 1h8m-5-8h8m-6 0h8m-5 3h8m15 2h8m12-4h8m2 2h8m32 4h8m-6-6h8m7 2h8m3 1h8m-7 3h8m-8-5h8m36-3h8m67 0h8m-2 6h8m-3-3h8m-7 1h8m-7 5h8m-6-4h8m-4 3h8m36-1h8m13-7h8m-2 7h8m-2 0h8m4-2h8m-5 4h8m-5 0h8m13-5h8m-1 0h8m8 3h8m17 0h8m7 1h8m-5-3h8m2 2h8m-599 9h8m-4 1h8m0 0h8m8 1h8m-5-6h8m-1-2h8m-7 8h8m-8-1h8m-3-1h8m0 0h8m1 2h8m-5-6h8m72 2h8m11-2h8m-8 6h8m4-8h8m-6 7h8m-6-1h8m-6-5h8m22 8h8m-1-2h8m5 2h8m11-2h8m-5-6h8m-3 6h8m-7-7h8m1 5h8m-2-3h8m15 0h8m24 5h8m8-2h8m-3 2h8m8-3h8m13 3h8m2 2h8m-1-4h8m125 4h8m11-8h8m8 8h8m16-9h8m-604 13h8m-6 0h8m-3 2h8m-3-5h8m1 4h8m-6 2h8m-6-5h8m-2 2h8m3 3h8m-8-1h8m-7 0h8m0-1h8m10 1h8m6-1h8m-5-3h8m0 8h8m-4-3h8m8-4h8m-4-1h8m-1 3h8m-4-3h8m-6 1h8m-4 5h8m-2 1h8m-1-3h8m18 4h8m13-9h8m-7 9h8m9-3h8m12-4h8m0 4h8m7-5h8m-7 0h8m3 2h8m46 5h8m63 0h8m-4-8h8m30 5h8m1-1h8m2-3h8m15 6h8m6 0h8m24 1h8m2-7h8m6 5h8m-553 11h8m-8-1h8m28-2h8m-2 0h8m-6 0h8m-3 0h8m-7 0h8m-5 1h8m-5 2h8m4-7h8m-6 4h8m5-2h8m-2-1h8m-2 0h8m-7 2h8m4 5h8m-2 1h8m13-5h8m2 1h8m-4 1h8m-7-1h8m4-1h8m1 4h8m5-8h8m-7 6h8m7 1h8m-8-7h8m-4 7h8m-4-6h8m-6 6h8m-7-2h8m-8-1h8m-3 5h8m2-4h8m94-4h8m-1 2h8m-7 6h8m-6-5h8m-5-2h8m10 7h8m-3-2h8m36 1h8m6-8h8m44 1h8m-4 4h8m62-5h8m19 3h8m-588 13h8m1-5h8m-3 3h8m-1-4h8m-3 0h8m-5 1h8m2 5h8m10 3h8m-7-1h8m-1-6h8m2 2h8m2 3h8m-3-5h8m-3 7h8m-6-5h8m0 1h8m-2-4h8m-3 4h8m-1-1h8m-5-2h8m24-2h8m-8 4h8m-7 0h8m13-4h8m-5 4h8m4 0h8m-7-2h8m20-2h8m-3 4h8m130-3h8m-2 6h8m0-4h8m-6-1h8m-4 4h8m55 0h8m62-4h8m-2 5h8m29 1h8m11-3h8m-7 4h8m-579 3h8m5 6h8m32-1h8m-5 1h8m18-1h8m-6 1h8m-4-5h8m-3 2h8m-2-4h8m-2 6h8m81-6h8m121 0h8m14 4h8m3-3h8m-6 5h8m18 0h8m-2-4h8m-4-3h8m-7 1h8m22 0h8m3 2h8m14-1h8m5 1h8m10-3h8m10 2h8m12 2h8m-1 3h8m-2-7h8m6 2h8m0 3h8m-579 10h8m18-2h8m18 5h8m11 0h8m20-8h8m-1 0h8m273 1h8m7-1h8m1 2h8m75 4h8m-6-5h8m25-1h8m-3 0h8m-6 4h8m35 4h8m-571 11h8m27-2h8m14-1h8m-1-3h8m291-3h8m10 1h8m-3 4h8m-6 1h8m-7 0h8m-5 2h8m-8-7h8m-4 6h8m-6-5h8m33 5h8m0-1h8m18-3h8m12 5h8m37-5h8m-3-1h8m10-1h8m-4 8h8m-562 6h8m-8-3h8m10 3h8m1-4h8m4 6h8m2-5h8m305 1h8m2-2h8m12 8h8m-8-1h8m29-1h8m0 2h8m-3 0h8m1-3h8m46 3h8m-1-7h8m7 3h8m16 3h8m-582 2h8m-1 1h8m14 3h8m-3-3h8m-8 8h8m-7-5h8m-5 1h8m-6 2h8m-7-1h8m-3-6h8m336 1h8m-3 8h8m49-3h8m-8-2h8m-8 4h8m8 0h8m8 1h8m6 0h8m14-5h8m19-1h8m30 3h8m-599 12h8m-5-5h8m7 4h8m-2-1h8m379-1h8m12-3h8m-6 0h8m-2-2h8m-7 1h8m-6 8h8m-3-8h8m-6 1h8m12 6h8m17 1h8m-5 0h8m5 0h8m-7-5h8m10 1h8m-1 4h8m5-3h8m-2-1h8m16-4h8m-584 9h8m420 1h8m12 1h8m0 7h8m-3-8h8m2 7h8m75-3h8m1 0h8m-130 13h8m10-8h8m-6 6h8m-6-3h8m32 1h8m6 1h8m-3-5h8m31 5h8m21-5h8m-149 19h8m12-2h8m0-5h8m-3 5h8m-4 0h8m-7 2h8m24-9h8m-7 7h8m22-6h8m-7 8h8m18-9h8m-147 11h8m4 4h8m11 0h8m-3-2h8m-7-3h8m6 2h8m1 3h8m69 4h8m-5-3h8m6 0h8m-4-6h8m-7 9h8m-81 3h8m-5 4h8m0-2h8m13-4h8m26 3h8m-6-1h8m-1 7h8m-140 3h8m-2 2h8m11 0h8m-7 5h8m16-9h8m-4 4h8m-3-2h8m21 3h8m-3-2h8m-61 12h8m32 1h8m38 0h8m-97 5h8m1 1h8m-6 7h8m25-9h8m-26 11h8m-7 6h8m8-2h8m10 4h8m2-9h8m4 6h8m3 1h8m-85 5h8m-3 0h8m-3 7h8m-8 0h8m-7-3h8m-6 0h8m-2-4h8m10 6h8m23-8h8m-7 1h8m6 3h8m-77 8h8m-1 1h8m-7-3h8m1 1h8m-6 8h8m-2-2h8m-5 1h8m-8-3h8m-15 10h8m-39 8h8m5-2h8m4 7h8m15-8h8m19 1h8m-3-1h8m-36 18h8m-6-7h8m-5 2h8m-3-1h8m-8 6h8m5 1h8m-8-9h8m-43 14h8m23 3h8"/><path stroke="#2c728e" d="M4680 379h8m16 35h8m-174 8h8m18 3h8m134-4h8m-146 10h8m-44 10h8m-5 7h8m134-2h8m-7 1h8m-165 7h8m18-4h8m20 8h8m11 0h8m-7-8h8m34 9h8m-6-1h8m17-3h8m19 1h8m-7-5h8m20 4h8m-229 13h8m59-8h8m40 4h8m16 1h8m-8-5h8m11 8h8m20-4h8m-4 1h8m71 3h8m-252 11h8m-3-7h8m-8 1h8m13 0h8m-2 4h8m-1-6h8m14 8h8m1-3h8m-8-2h8m-3 3h8m14-6h8m-5 1h8m44 7h8m3-5h8m33 2h8m-246 11h8m24 1h8m-6-3h8m1 3h8m9-3h8m0-2h8m54 6h8m-5-4h8m3 1h8m5-6h8m6 2h8m3 2h8m19 5h8m30-8h8m-250 14h8m42-3h8m14 2h8m29 0h8m11-3h8m12 0h8m21 8h8m88 0h8m-280 4h8m-6 1h8m3 4h8m-3-2h8m20 3h8m13-4h8m3 1h8m24-6h8m10 9h8m11 0h8m0-1h8m13-2h8m18 1h8m-8 1h8m1 1h8m9-1h8m66-3h8m-319 11h8m-3 3h8m19 0h8m71-9h8m35 0h8m-8 2h8m-7 7h8m-1-1h8m46-5h8m52-1h8m-274 12h8m24-1h8m-5-1h8m128-2h8m38 0h8m0 1h8m-4-1h8m-241 15h8m10 2h8m-2-4h8m15 1h8m10 1h8m2-3h8m64 7h8m27-7h8m16-1h8m11-1h8m-2 8h8m-4 1h8m64-8h8m-247 12h8m0-3h8m12 5h8m20-4h8m16 4h8m0 4h8m57-5h8m8-2h8m3 4h8m65-6h8m-332 17h8m-2-7h8m-8 9h8m-3 0h8m13-7h8m0 1h8m22 3h8m-7 1h8m-7-2h8m36-2h8m5 6h8m-6-4h8m29-4h8m21 0h8m35 2h8m75 2h8m-333 7h8m7 4h8m1 1h8m33 1h8m8-7h8m82-1h8m15 5h8m-3-1h8m30 3h8m10-2h8m-221 5h8m53 2h8m5 5h8m8 2h8m27-3h8m50-5h8m26 4h8m-8 2h8m93-3h8m-363 8h8m19 6h8m20 1h8m1-9h8m-5 4h8m2-2h8m45 4h8m1-4h8m21 1h8m3-2h8m-5 5h8m25-3h8m-4 2h8m-5 4h8m38-9h8m-7 4h8m0 2h8m70-6h8m-363 12h8m6 2h8m25 5h8m-4-8h8m26 1h8m0 1h8m7-2h8m2-1h8m-7 2h8m14 1h8m-6 1h8m-4 1h8m-6-2h8m1-1h8m-6-1h8m37 3h8m37 2h8m0 3h8m3-6h8m-6 6h8m11-7h8m64 3h8m-366 14h8m0-1h8m9-7h8m22 7h8m2-1h8m7-1h8m11-1h8m-2-5h8m1 0h8m0 5h8m-8-5h8m27 8h8m9-4h8m0-1h8m11-2h8m-6 2h8m-2-2h8m5 5h8m0-5h8m125 4h8m-371 6h8m-2 0h8m0 3h8m-6-3h8m5 1h8m-8 0h8m-3 1h8m15-2h8m36-1h8m61 4h8m6-2h8m-5 0h8m16-2h8m16 4h8m1 2h8m-2 2h8m6 1h8m-294 9h8m-5-4h8m-7-3h8m28 8h8m8-7h8m31 5h8m5-7h8m-1 5h8m1 2h8m-4-5h8m18 2h8m1 0h8m6-2h8m16-2h8m1 2h8m-7-2h8m9 7h8m-7 2h8m18-5h8m12-4h8m22 1h8m-318 17h8m61 1h8m2 0h8m61-7h8m-3 6h8m4-5h8m-2 4h8m26-7h8m17 8h8m18-4h8m-1 4h8m6-1h8m-281 5h8m-6-1h8m-5 4h8m9 3h8m-1-5h8m-2 4h8m34-3h8m35-3h8m2-1h8m3 7h8m-2-5h8m-1 4h8m-1-5h8m-4 0h8m16 7h8m-6-2h8m25-3h8m10 6h8m-7-2h8m-7-3h8m37 2h8m11 3h8m-318 3h8m23 7h8m0 0h8m34-3h8m59-2h8m2 4h8m21-8h8m94 8h8m-1 1h8m56-3h8m-370 4h8m23 4h8m3 0h8m23-2h8m10 3h8m-4-1h8m23 4h8m62-2h8m3 3h8m20-9h8m-3 9h8m0-5h8m23 0h8m-3 0h8m-266 12h8m13-5h8m3 3h8m2 4h8m45-6h8m21-1h8m-4 4h8m7 4h8m2-8h8m-6 3h8m22 2h8m33-1h8m-5 0h8m21-5h8m-291 16h8m-6-4h8m74 4h8m19-2h8m-4 5h8m5-4h8m5 1h8m5 1h8m18 2h8m13-7h8m5 7h8m7-8h8m35 6h8m-1-7h8m35 6h8m20 2h8m2 1h8m-3-7h8m-372 10h8m-5 6h8m7-7h8m-8 2h8m-5-1h8m-6 6h8m5 1h8m-6-4h8m-1-5h8m-7 9h8m35-1h8m6 1h8m22-9h8m12 3h8m-6 5h8m17 1h8m-6-1h8m-4-4h8m17 3h8m77-3h8m-2 3h8m0-3h8m-320 10h8m-5 5h8m28-3h8m2 1h8m11 1h8m30 1h8m0-2h8m-2-1h8m10 0h8m76 0h8m16-1h8m34 1h8m-285 6h8m-2-2h8m-2 4h8m-8 1h8m7-3h8m19-1h8m30 1h8m-5 1h8m21 3h8m-5 3h8m6-5h8m7-2h8m-3 7h8m57-3h8m-1 2h8m12 0h8m4-4h8m-7 2h8m-7-4h8m43 7h8m-349 8h8m25-6h8m25 0h8m13 7h8m4 1h8m5 0h8m-2 0h8m30-9h8m4 4h8m-5 5h8m2-3h8m-3-3h8m-5 5h8m9-4h8m31-2h8m10 5h8m0-4h8m9 0h8m66 6h8m-337 6h8m2-2h8m-6 5h8m36-5h8m10 4h8m-3 2h8m-1-9h8m36 6h8m-4 2h8m13-3h8m48 3h8m-6-8h8m13 9h8m-1-4h8m3-5h8m68 6h8m72-2h8m-449 9h8m1 6h8m12-4h8m78-5h8m-3 7h8m-3-1h8m3-2h8m7 4h8m-4-3h8m-7-3h8m-2 5h8m-6 2h8m1-1h8m-1-2h8m19-3h8m7 1h8m-227 14h8m29-8h8m55 4h8m-7-4h8m33 2h8m14 1h8m-6 6h8m15-4h8m3 3h8m13 0h8m-1-6h8m-7 3h8m-7 1h8m5-6h8m-7 4h8m56 5h8m10-4h8m19-5h8m5 5h8m59 4h8m-446 3h8m19 4h8m-5-5h8m1 0h8m5-1h8m-4 9h8m-5-2h8m-4 2h8m2-5h8m-1 1h8m3 4h8m17-6h8m-2-3h8m1 9h8m4-6h8m-7 5h8m8-1h8m19-7h8m9 9h8m-6-5h8m30 0h8m41 1h8m-7-2h8m4 3h8m32-3h8m30 1h8m24-2h8m-427 16h8m16-3h8m8 1h8m8-4h8m-7 1h8m19 3h8m-5 2h8m-8-2h8m-5 0h8m24 1h8m24-3h8m6-2h8m31 6h8m6-6h8m67 5h8m80 1h8m8-8h8m19 6h8m-404 8h8m-3-4h8m9 3h8m-3 4h8m-5 1h8m5 1h8m-8-1h8m-6-5h8m8 3h8m3 2h8m19 1h8m-6 0h8m76-8h8m103 5h8m133-5h8m-1 5h8m43-5h8m-523 16h8m0-5h8m-2 7h8m-8 0h8m-6 0h8m45-3h8m-6 1h8m-1-7h8m-7 9h8m-6-3h8m36 0h8m22-4h8m9 2h8m20-3h8m146 0h8m94 6h8m20-4h8m30-2h8m-544 14h8m13 2h8m2-2h8m7 3h8m4-4h8m26 0h8m83-4h8m1 1h8m-4 6h8m-5-4h8m66 6h8m75-5h8m83 0h8m12 0h8m38 3h8m-7-7h8m-516 15h8m-4-4h8m16 7h8m31-1h8m38-5h8m4 6h8m29-6h8m18 6h8m5-6h8m60 2h8m29 4h8m22 1h8m10-5h8m142-3h8m-4 0h8m13-1h8m2 1h8m72 1h8m-636 8h8m0 5h8m-3 0h8m5-2h8m22-3h8m0 4h8m-4-1h8m12-2h8m-7 4h8m-7-2h8m21 1h8m3-4h8m-5 6h8m-7 3h8m-5-6h8m-1 4h8m12 1h8m11-1h8m185-1h8m80-4h8m29 6h8m37-8h8m33 6h8m-599 8h8m1 3h8m63-3h8m-3 0h8m7 1h8m-7-2h8m11 4h8m59-7h8m13 9h8m-5-6h8m5 6h8m2-7h8m6 4h8m21-2h8m-7 0h8m65-3h8m12-1h8m130 5h8m71-4h8m-568 12h8m2 4h8m-8-6h8m0 1h8m47 5h8m8-2h8m19-1h8m8 3h8m-7-7h8m-7 3h8m3 2h8m0-1h8m32 4h8m-5-3h8m53-1h8m87 5h8m-2 0h8m68-9h8m7 5h8m78 2h8m-554 10h8m-7 0h8m5-1h8m-7-3h8m-7 4h8m10-7h8m34 6h8m-6-5h8m-3 5h8m-8-1h8m14-1h8m-1 3h8m26-5h8m6 1h8m63 2h8m-5-2h8m46 0h8m5 4h8m20 1h8m5-1h8m35-1h8m98 2h8m17-3h8m-538 8h8m19 2h8m8 0h8m-8-5h8m-7 6h8m-2 1h8m5 2h8m-8-8h8m1-1h8m-1 2h8m-1 4h8m24 1h8m44-1h8m17 2h8m50-1h8m50-7h8m38 4h8m6 1h8m70 1h8m15-4h8m5 7h8m11-8h8m18 7h8m2-2h8m-523 6h8m20 3h8m-2 0h8m392 3h8m-469 9h8m5 2h8m-4 0h8m27-6h8m-8 4h8m311 0h8m-2-2h8m51 0h8m-6-2h8m42-3h8m70 2h8m-575 12h8m6-2h8m43 3h8m321 1h8m12 2h8m4-6h8m98 2h8m-524 7h8m-5 3h8m-7-4h8m-3 7h8m20-1h8m2-5h8m471 2h8m-527 7h8m-5 6h8m10-5h8m352-1h8m-7 9h8m12-2h8m-5 1h8m0-6h8m1-2h8m16 1h8m20-1h8m-505 19h8m-7 0h8m411-9h8m28 2h8m2 1h8m26 6h8m30-8h8m14-1h8m-1 7h8m5 0h8m4-3h8m-175 8h8m19 2h8m-4 5h8m-15 19h8m4-3h8m19 1h8m43 1h8m27-6h8m-124 16h8m8-2h8m21 0h8m23-1h8m20 5h8m-81 10h8m2-4h8m68-5h8m-72 18h8m57-6h8m5 12h8m-97 13h8m4 0h8m31 22h8m15 8h8m0 18h8m-2 1h8m-44 9h8m19 1h8m12 12h8"/><path stroke="#28ae80" d="M4516 474h8m83-1h8m3 44h8m-65 9h8m-65 15h8m214 3h8m-134 10h8m52 12h8m51-2h8m-208 14h8m80-3h8m-126 11h8m210 1h8m-165 12h8m65-6h8m-1 4h8m-7-2h8m-79 13h8m131-8h8m17 6h8m-4 2h8m-177 11h8m19-7h8m-4 3h8m26-1h8m2-2h8m-7 7h8m83 0h8m-6-4h8m-103 8h8m43 3h8m52-4h8m2 5h8m-4-6h8m-4 3h8m3 4h8m-6-4h8m-149 15h8m25-8h8m71 5h8m-3-3h8m-5 3h8m11-4h8m-4-2h8m-5 5h8m-7-4h8m-5 5h8m-3 1h8m-5-6h8m-277 15h8m-6-4h8m170 1h8m29-3h8m-5 2h8m-7 7h8m-6-9h8m-1 3h8m5 1h8m-5-4h8m-5 6h8m2 2h8m-8-2h8m-8 3h8m-5-7h8m-4-1h8m-1 3h8m-334 14h8m25-8h8m28 0h8m11 3h8m1-2h8m-1 1h8m7 1h8m63 0h8m11 0h8m-4 3h8m40-4h8m-5 0h8m7-2h8m-8 0h8m-1 2h8m-4 3h8m-4-3h8m-2 4h8m-4-3h8m-6 4h8m-2-6h8m-2 7h8m-7-8h8m-4 9h8m0-3h8m2-6h8m-308 12h8m69 4h8m81 2h8m-7-1h8m6 2h8m30-2h8m8-4h8m4 3h8m-7-2h8m1-3h8m12 3h8m-5-3h8m6 0h8m-7 8h8m-6-8h8m-2 6h8m-4-5h8m0 3h8m0 0h8m-319 14h8m131-6h8m71-1h8m-7-2h8m2 0h8m7 7h8m51-3h8m-335 7h8m47 5h8m54 0h8m17 1h8m53 0h8m7-1h8m47-1h8m16 3h8m16-7h8m-363 13h8m30-1h8m126-2h8m8 0h8m67 3h8m34 1h8m23-2h8m-327 10h8m76 5h8m70-3h8m65 1h8m117 1h8m-345 7h8m55 4h8m80-6h8m104-1h8m40 5h8m-7-5h8m-363 11h8m109 1h8m85 4h8m37 2h8m51-7h8m75 7h8m-369 1h8m5 5h8m121 0h8m68 4h8m36-1h8m46-4h8m-241 12h8m-5 3h8m1-6h8m59-1h8m15-1h8m8 4h8m116 4h8m-2-7h8m0 4h8m61 1h8m-447 8h8m3 0h8m5 4h8m-7-4h8m72-2h8m14 1h8m5 1h8m-8-1h8m12-1h8m139 5h8m44-4h8m76 2h8m-464 9h8m5-2h8m155 4h8m48-3h8m152 3h8m68-2h8m-358 10h8m56-2h8m87-2h8m-229 17h8m8-4h8m13 0h8m68-4h8m220 4h8m7 0h8m-426 13h8m-3 1h8m3 1h8m57-9h8m114 8h8m-210 2h8m-5 7h8m179-3h8m0-3h8m172 5h8m83-5h8m-448 17h8m-6 0h8m3-2h8m15-5h8m82-1h8m124 2h8m30 5h8m73-2h8m90-3h8m8 6h8m-521 5h8m18 5h8m3-8h8m2 8h8m18-5h8m308-1h8m-5 3h8m92 0h8m14-4h8m-483 12h8m49-3h8m-7 8h8m10 1h8m115-8h8m65 8h8m-255 1h8m134 8h8m23-8h8m143 3h8m127 4h8m-432 9h8m217-1h8m-314 13h8m38 1h8m55-9h8m275 0h8m33 2h8m14 5h8m95-7h8m-595 17h8m-4-5h8m28 5h8m42 0h8m355-3h8m-438 15h8m56-2h8m326 2h8m115 5h8m-550 6h8m19 5h8m492 4h8m-500 2h8m500 4h8m-57 5h8m49 6h8m-46 5h8m28 6h8m1 8h8m2 2h8m-31 10h8m13-3h8m-92 21h8m7 2h8m82 5h8m-16 13h8m-45 6h8m50 4h8m-27 7h8m-48 13h8m43 34h8"/></g>
<g fill="none" stroke-width="8" transform="scale(.1)"><path stroke="#d8402a" d="M994 1945h8m88 1h8m-24 8h8m1 0h8m6 5h8m-3-5h8m-110 8h8m6 3h8m6 2h8m-36 20h8m8 0h8m-13 12h8m1-5h8m80-2h8m-142 15h8m23-5h8m12 7h8m-31 8h8m-7-5h8m81 1h8m10 6h8m-66 4h8m-7-2h8m8 1h8m38 6h8m-130 7h8m5-4h8m75 1h8m12 6h8m-98 8h8m56-5h8m25 0h8m-117 13h8m16 5h8m11-2h8m8-1h8m59 1h8m-183 3h8m-1 5h8m28-5h8m0 4h8m-2 3h8m8-1h8m-5 1h8m14 2h8m-117 10h8m32 0h8m6-9h8m-4 7h8m5 2h8m-5-5h8m-18 9h8m4 3h8m-3 2h8m28 0h8m17-2h8m22 1h8m-98 4h8m29 1h8m20-1h8m21 6h8m5-6h8m4 8h8m-210 9h8m24 0h8m22-1h8m3-3h8m6-1h8m20 5h8m21 0h8m25-7h8m13 8h8m-208 6h8m-5-5h8m51 0h8m-3 1h8m38 5h8m94 1h8m-7-2h8m-183 9h8m98 4h8m2-7h8m4 3h8m-194 13h8m64 1h8m26-2h8m-3 3h8m6-2h8m53 1h8m30-2h8m-5-6h8m-151 10h8m2 6h8m-6 1h8m38 1h8m-102 2h8m26 5h8m-5 2h8m8-6h8m99-1h8m-3 7h8m3 2h8m18-2h8m-92 7h8m10-4h8m24 8h8m-238 5h8m1-1h8m137-1h8m12 4h8m18 4h8m53-2h8m-156 11h8m6-1h8m-5-6h8m75 8h8m-4-2h8m-8-2h8m33-5h8m-3 3h8m19 6h8m-325 10h8m-8-8h8m0 7h8m143-8h8m9 7h8m10-5h8m1 4h8m19-1h8m-2 1h8m7 0h8m0-2h8m23-1h8m7 6h8m1 0h8m-2-4h8m-329 5h8m3 8h8m60 0h8m42-8h8m2 1h8m3 6h8m44-5h8m2 2h8m-4 4h8m49-1h8m15-7h8m-6 3h8m23-2h8m-201 10h8m15-1h8m2 5h8m30-5h8m-1 3h8m12 4h8m-6-4h8m44 4h8m-7 1h8m2-5h8m4 2h8m-5-5h8m-2 3h8m-4 1h8m-2 5h8m-191 10h8m0-8h8m16 0h8m0 0h8m-7 6h8m1 1h8m6-8h8m27 8h8m-5-6h8m-4 5h8m-1 2h8m18 0h8m29 0h8m16-1h8m-388 11h8m68-5h8m3-3h8m74 2h8m-7 5h8m-7-1h8m3-6h8m-3-1h8m-2 6h8m41-3h8m-7 4h8m3-1h8m5 1h8m1-3h8m9-3h8m19 7h8m-6-3h8m-4-2h8m0 1h8m6 4h8m11-6h8m3 2h8m-403 13h8m182-6h8m-5 2h8m-8 1h8m58-3h8m15 5h8m8-6h8m20 9h8m9-4h8m6-2h8m-6-2h8m-8 5h8m4-5h8m18 3h8m-415 12h8m3 2h8m186-6h8m-2-2h8m-2 1h8m5 8h8m5-1h8m-1-2h8m14-4h8m22 4h8m22 2h8m10-8h8m6 1h8m-1 4h8m13-2h8m-6 5h8m-419 2h8m133 2h8m63 1h8m16 1h8m6 1h8m28 1h8m1 3h8m-5-3h8m17 2h8m41-5h8m-6-1h8m12 0h8m-2 4h8m-3-1h8m-3-5h8m20 0h8m-450 15h8m3 4h8m7-7h8m65-1h8m120 0h8m0 2h8m8 2h8m11-1h8m41-3h8m2 6h8m19 1h8m8-8h8m20 5h8m19 4h8m-399 2h8m79 3h8m57-2h8m20 0h8m0 3h8m15-5h8m-4 3h8m-1 1h8m-8 0h8m9 5h8m4-8h8m-6 3h8m-3-1h8m2 2h8m10 1h8m0-1h8m-5 1h8m9 1h8m3 1h8m5-2h8m-4 1h8m52-1h8m-7-5h8m-4 0h8m-353 15h8m114 2h8m12-4h8m-8-4h8m13 1h8m-5 2h8m4 5h8m-3-6h8m50 6h8m12-6h8m7-1h8m2 6h8m10-4h8m19 2h8m3 1h8m-5-6h8m-441 13h8m173 3h8m5-1h8m-4 2h8m24-2h8m4 0h8m4-2h8m-5 0h8m-4-2h8m-5-1h8m46 6h8m1 1h8m4-5h8m20 4h8m34 3h8m18-6h8m-483 12h8m4-5h8m236 0h8m14 3h8m3-1h8m17 1h8m-7 0h8m0-1h8m9 1h8m13 1h8m21 5h8m29-1h8m6-6h8m8 3h8m-1-4h8m7 0h8m-407 13h8m13 1h8m119 3h8m-8-3h8m-2 4h8m22 0h8m18-4h8m16-3h8m19 3h8m-7-2h8m-5 3h8m0 0h8m4 0h8m-5 2h8m0 0h8m-1 1h8m32-3h8m0-2h8m21 1h8m-255 11h8m2 2h8m-5-1h8m5-7h8m30 3h8m1-3h8m3 5h8m20-2h8m-7 6h8m-8-7h8m3 6h8m-2 1h8m0-2h8m2-2h8m-6-5h8m2 0h8m-4 2h8m3-1h8m10 6h8m4-5h8m-5-2h8m0 9h8m-5-4h8m28 3h8m-495 11h8m10-9h8m47 9h8m149 0h8m-6 0h8m2 0h8m20-7h8m60-1h8m-5 8h8m37-7h8m-3 6h8m2-5h8m11 2h8m20 2h8m20-3h8m-1-4h8m-1 6h8m-247 12h8m-3-4h8m-1 4h8m4-1h8m6-5h8m-2 6h8m30 1h8m-1-8h8m-5 3h8m2 2h8m6-3h8m11 5h8m8 1h8m-6-2h8m11-2h8m7-1h8m11 1h8m1-1h8m41 3h8m-453 6h8m133-3h8m21 9h8m-2-2h8m30 2h8m-3-3h8m-3-1h8m33 1h8m-7 1h8m-2-2h8m25-3h8m8-1h8m22 8h8m-5-1h8m21-7h8m1 2h8m17 6h8m5-5h8m-4 2h8m-8 3h8m-517 7h8m216-4h8m-5-1h8m-2 8h8m-1-9h8m1 3h8m-6 3h8m6-1h8m2-3h8m3 3h8m29 3h8m-4-8h8m15 0h8m17 0h8m-8 7h8m-1-2h8m18 1h8m26 3h8m8-4h8m5-5h8m3 2h8m19 0h8m-525 17h8m-1-7h8m195 7h8m33-3h8m13 2h8m10-8h8m24 9h8m2-9h8m10 2h8m12 7h8m16-5h8m5 3h8m12 0h8m88-3h8m-529 14h8m-5-3h8m54 2h8m149-3h8m8 1h8m-4-5h8m-4 7h8m2 2h8m-7-6h8m-4 1h8m10 3h8m-1-5h8m-4 4h8m-6 0h8m-4-4h8m-5-1h8m1 6h8m-8 2h8m40-4h8m11-1h8m1-3h8m-4 2h8m57 4h8m-8 2h8m10-2h8m39-3h8m-7-3h8m-5 4h8m0 2h8m-6-3h8m-4 2h8m-464 13h8m162-7h8m-3 4h8m-4-2h8m1 5h8m0-4h8m-8-4h8m-7 6h8m20-5h8m0 5h8m-3 0h8m2-5h8m-4-2h8m0 2h8m2 0h8m8 7h8m11-5h8m-4-1h8m14-3h8m-6 9h8m-7-3h8m1 2h8m-1 0h8m19-7h8m0 0h8m-3-1h8m23 4h8m21-3h8m-407 9h8m86 8h8m-1-8h8m4 5h8m-7-2h8m5 4h8m42-7h8m-4 0h8m76 7h8m1 0h8m4 0h8m47-1h8m22 0h8m6 2h8m-2-8h8m-7 3h8m-533 7h8m47 9h8m4-2h8m6-4h8m15 2h8m124-5h8m-7 6h8m-6 1h8m-7-7h8m-1 1h8m35 4h8m3-5h8m-7 1h8m-6 3h8m56 2h8m-7-1h8m-2-2h8m15 6h8m-3-9h8m3 9h8m10-8h8m6 3h8m-6 0h8m6-3h8m4 5h8m22 2h8m-6-6h8m-6 4h8m-8-2h8m7 3h8m-460 3h8m134 6h8m26-3h8m2 4h8m1-5h8m-8-1h8m-8-1h8m59 4h8m-1 1h8m-1 2h8m9 2h8m-6-2h8m4-2h8m14 3h8m2 1h8m-7-6h8m24-2h8m11 2h8m31 6h8m2-2h8m12-3h8m7 4h8m-511 6h8m33-4h8m9 0h8m117 8h8m42 0h8m23 0h8m36-6h8m14 5h8m14-1h8m46 3h8m2-8h8m-8 4h8m5-4h8m37 4h8m-6-1h8m6 5h8m-575 1h8m199 7h8m41 0h8m-1-2h8m4-2h8m-2 3h8m39 2h8m-7 1h8m6-3h8m17-4h8m-7 5h8m-2-6h8m10 4h8m11 2h8m-2-2h8m0-2h8m7 1h8m-3 3h8m-3 0h8m9-4h8m-6 6h8m22-5h8m2 3h8m7-7h8m-6 0h8m-4 8h8m-3-6h8m4 2h8m3 5h8m-3-4h8m-572 6h8m145 1h8m79 5h8m21 1h8m6-4h8m-5 2h8m3-1h8m17-3h8m7 3h8m-2-1h8m-7 2h8m0-4h8m-6 6h8m-8 0h8m-3-3h8m-5-4h8m12 3h8m-7 5h8m9 0h8m-8-5h8m-4 2h8m12 3h8m13-1h8m-5 1h8m-5-6h8m6 0h8m14 0h8m1 1h8m55 2h8m-511 13h8m194 0h8m-3-4h8m50 0h8m-1-3h8m-5 7h8m-8-2h8m5-4h8m21 1h8m-1 2h8m1 3h8m12-8h8m-2-1h8m18 4h8m18-3h8m-6 5h8m-5 1h8m45-5h8m10 2h8m2 2h8m27 3h8m-6-6h8m-530 8h8m112-1h8m-6 6h8m-1 0h8m49 2h8m-7-6h8m-6-2h8m4 6h8m-1-6h8m-7 5h8m17 1h8m34 3h8m-1-7h8m-6 3h8m-5 3h8m13 0h8m18-2h8m-4-4h8m-1 2h8m10 3h8m-5-6h8m-1 2h8m-2 4h8m19 1h8m-7-8h8m5 2h8m17 4h8m-1 1h8m-5-4h8m8 0h8m17 2h8m11-3h8m-606 9h8m263 3h8m-2 0h8m-5 0h8m10-4h8m-4 5h8m6-2h8m7-1h8m3 6h8m-6 0h8m46-4h8m-5-1h8m-2 0h8m18 3h8m-3 1h8m-4 2h8m24-1h8m5-5h8m10 5h8m-1-7h8m17 0h8m8 0h8m10 8h8m-593 9h8m-6-7h8m255 2h8m0 0h8m2-2h8m6 1h8m8 5h8m6-5h8m-2 0h8m-4 3h8m23 0h8m-8-1h8m18 3h8m-5-4h8m13 2h8m2 0h8m26-1h8m-3-2h8m7 5h8m16-3h8m15-4h8m32 7h8m11-5h8m-387 8h8m105 2h8m6-2h8m6 3h8m6 1h8m7 5h8m-5-6h8m38-1h8m-2 1h8m9-2h8m-3 5h8m11-6h8m-7 2h8m4 4h8m-5-5h8m-4 1h8m-1 6h8m47-3h8m22-2h8m30 4h8m-634 4h8m100 0h8m179 1h8m46 5h8m-3-3h8m-8 0h8m16 1h8m33-2h8m12 4h8m-4 2h8m71-2h8m22 1h8m24-7h8m13 5h8m2 0h8m-492 11h8m72-6h8m71 0h8m5 3h8m5-3h8m12 8h8m36-6h8m132 1h8m3 3h8m9 1h8m-251 10h8m19-4h8m32 4h8m9 1h8m-1-7h8m17 5h8m75 1h8m17-4h8m-286 15h8m37-6h8m3 3h8m12-2h8m17 5h8m39-6h8m10 5h8m37-7h8m52 8h8m30 0h8m34-4h8m14-2h8m-668 10h8m-3 1h8m-5 5h8m126-6h8m165 4h8m12 1h8m4-6h8m7 6h8m15-4h8m-2 2h8m49-3h8m41-3h8m16 7h8m73 0h8m-562 9h8m120 0h8m125 0h8m0-5h8m38 5h8m48-3h8m41 4h8m15-7h8m8 0h8m9 5h8m-4 3h8m1-6h8m58-2h8m-4 5h8m22-5h8m21 6h8m-683 4h8m-3 5h8m182-2h8m94 5h8m0-6h8m172 1h8m21 5h8m-3-3h8m5-3h8m6-1h8m-8 4h8m-6 1h8m32-6h8m-8 2h8m46 0h8m-4 3h8m33-3h8m-4 1h8m0 3h8m-707 6h8m120 5h8m173 0h8m5-7h8m3 9h8m-6-5h8m-1 5h8m22-8h8m11 3h8m17 0h8m-8-1h8m15 4h8m1 0h8m24-7h8m-5 6h8m12-4h8m15-1h8m63 5h8m12-2h8m-6 2h8m29 0h8m11-4h8m-682 9h8m22 4h8m243 1h8m47-5h8m83 0h8m61 6h8m-3 2h8m44-2h8m90-3h8m6-4h8m-526 10h8m185 4h8m52 0h8m3-1h8m-2 3h8m53-6h8m57 7h8m-5-4h8m-229 14h8m54-4h8m108 2h8m30-4h8m1 0h8m-4-1h8m25 2h8m79 2h8m-695 13h8m380 0h8m87-6h8m47 4h8m56 1h8m28-2h8m47-1h8m18-1h8m-754 13h8m-3-1h8m132-2h8m34 1h8m267-1h8m44 3h8m20-1h8m-5-4h8m27 5h8m43 2h8m-304 8h8m20 0h8m-5 2h8m26-6h8m115 0h8m18 4h8m6 4h8m24-9h8m12 8h8m69-1h8m60 2h8m-656 6h8m28-1h8m38 4h8m141-2h8m6-5h8m294 1h8m73 7h8m-769 5h8m207 0h8m8 2h8m34 0h8m14 2h8m2-2h8m77-1h8m87 4h8m52-5h8m3-1h8m64 5h8m71-6h8m41 2h8m-768 7h8m-8 2h8m71 1h8m119 1h8m154-1h8m-7 0h8m-6 3h8m333-1h8m9-5h8m12 7h8m11 0h8m-790 6h8m6-3h8m62-1h8m96 2h8m88 0h8m91 4h8m-6 0h8m-7-3h8m65 1h8m11-4h8m61 7h8m-3-3h8m5-4h8m56 9h8m0-1h8m140 0h8m-801 4h8m27 3h8m199 2h8m123-6h8m315 1h8m-514 8h8m67 0h8m139 3h8m10 5h8m260 1h8m92 0h8m-810 3h8m201 7h8m4-9h8m131 8h8m159-8h8m11 8h8m1-6h8m54 6h8m-662 5h8m-5 5h8m383-6h8m1 0h8m146-1h8m3-1h8m63 6h8m18-1h8m81 2h8m20-2h8m-788 9h8m-5-4h8m231 1h8m9 3h8m2 1h8m27 2h8m46-6h8m11 3h8m-6 1h8m-6 3h8m11-8h8m59 4h8m73 1h8m185 4h8m36-8h8m-804 13h8m243 0h8m13 5h8m5-9h8m22 2h8m36-1h8m-7 4h8m5 1h8m0 0h8m0-3h8m3 0h8m26-2h8m78 1h8m115 5h8m86-6h8m-725 14h8m-7 2h8m110-2h8m4-1h8m81-4h8m4 1h8m119 2h8m-7 6h8m75 0h8m3-1h8m35-4h8m77 3h8m-323 8h8m31-5h8m29 2h8m2-2h8m-1 3h8m-6 3h8m49-2h8m-468 15h8m61-1h8m32-7h8m24 1h8m9 3h8m10-5h8m-4 3h8m74 2h8m91 4h8m-3 0h8m10-5h8m11-3h8m20 8h8m118-4h8m59-3h8m-640 8h8m12 8h8m65-7h8m-1 1h8m86 4h8m3-1h8m93-2h8m-2 6h8m1-5h8m31-2h8m-7 0h8m-6 2h8m-7-3h8m86 8h8m81-3h8m44-6h8m116 5h8m26-2h8m39-3h8m-799 15h8m84 2h8m22-4h8m209 2h8m-4-3h8m9-1h8m131 3h8m177 1h8m121-2h8m-2 2h8m15-1h8m-867 6h8m17 7h8m14-5h8m110-1h8m152 6h8m10-2h8m-4 3h8m39 1h8m14-8h8m9-1h8m-6 8h8m53-1h8m167-6h8m209 4h8m-863 8h8m2 5h8m11 0h8m188-2h8m58 3h8m-4-2h8m84-5h8m12 5h8m-8 1h8m52-8h8m56 9h8m74-3h8m61 0h8m-695 9h8m140-4h8m29 1h8m90 3h8m326-3h8m88-2h8m-508 15h8m44 1h8m-6 2h8m64 0h8m11 0h8m15-6h8m21 4h8m65-4h8m-525 11h8m-7 5h8m13-5h8m10-1h8m60 2h8m-2-1h8m85 1h8m-108 9h8m91-1h8m64 0h8m4 0h8m3-2h8m24 8h8m8-6h8m-292 10h8m162 2h8m23 0h8m1 1h8m5 3h8m-3-4h8m29-4h8m34 0h8m23 8h8m2-8h8m-8 4h8m-5 3h8m-1-7h8m-441 18h8m55-3h8m150-5h8m32 7h8m-2-5h8m-5 6h8m152-7h8m-388 12h8m23 5h8m26-1h8m44-3h8m72 2h8m17-1h8m64 3h8m5-3h8m-123 14h8m-7-6h8m27 5h8m0-3h8m13 4h8m3-7h8m10 7h8m9 0h8m0-3h8m-356 5h8m13 2h8m9 0h8m46 5h8m44 1h8m113-1h8m29 0h8m-100 7h8m-2-2h8m-5 0h8m62 2h8m-223 13h8m81-3h8m29-5h8m56 5h8m-125 7h8m1 4h8m36-2h8m15-4h8m-2 2h8m-1-2h8m2 1h8m-247 12h8m-32 13h8m4-6h8m18 8h8m-2 0h8m62-2h8m-2-6h8m22 3h8m46 1h8m41 4h8m-234 8h8m79-6h8m57 7h8m-190 5h8m168 5h8m41-5h8m-2 4h8m-244 9h8m-4-4h8m41 2h8m128 1h8m-42 13h8m53-5h8m-185 8h8m27 1h8m85 6h8m26 1h8m-162 10h8m55 0h8m35-8h8m18 5h8m-4 3h8m-6 1h8m6-6h8m-207 15h8m-8-6h8m25 3h8m12-3h8m49 2h8m39-2h8m-2 4h8m29-5h8m-91 17h8m21 1h8m4-3h8m-168 4h8m25 0h8m14 4h8m37 1h8m-7-1h8m-107 13h8m63 1h8m10-1h8m9 1h8m-130 3h8m10 7h8m-25 11h8m15-7h8m13 6h8m26-1h8m35-3h8m4-2h8m-35 12h8m2 4h8m-126 2h8m50 5h8m26 1h8m10-3h8m-8 2h8m-13 9h8m-122 8h8m1-2h8m48 9h8m21-9h8m-20 12h8m-89 14h8m-11 12h8m4-5h8m-1 6h8m27 7h8m-67 41h8m-5 2h8"/><path stroke="#2a1418" d="M1097 1932h8m-107 12h8m80 3h8m-5-3h8m1 2h8m-5-5h8m-117 14h8m-4-5h8m57 4h8m3 3h8m-3-3h8m-3 4h8m-2 1h8m-5-1h8m-107 11h8m-4-4h8m-5-1h8m-6-1h8m9 0h8m9 2h8m5 4h8m6-8h8m20-1h8m6 8h8m-7-7h8m-120 18h8m2-8h8m-6 5h8m-5-1h8m3-4h8m-4 2h8m-6 4h8m-6-2h8m10-2h8m38 3h8m-1 3h8m2-4h8m-129 7h8m1 3h8m39 1h8m0-5h8m-7 4h8m-8 1h8m-3-4h8m14 0h8m-1-1h8m10-1h8m-141 16h8m15-3h8m-8-1h8m12 3h8m-2 4h8m7-1h8m9-8h8m0 7h8m-6-4h8m0-2h8m-6 3h8m-1 4h8m1-4h8m-4-2h8m13 3h8m-149 6h8m23 4h8m10-3h8m4 7h8m4-5h8m1-1h8m-3 1h8m3-2h8m13 0h8m-3-1h8m-135 10h8m-7 5h8m-7-4h8m-1 0h8m14 7h8m-5 0h8m7-8h8m13-1h8m-1 0h8m-6 5h8m6 1h8m-6 1h8m-3-7h8m-2 5h8m-6-3h8m-7 0h8m-4-2h8m-128 17h8m2-6h8m25 1h8m-3-2h8m37 3h8m7 5h8m16 0h8m9 0h8m-2-1h8m-7 0h8m-8 2h8m1-4h8m-171 5h8m-4 3h8m26 1h8m17 3h8m-4-4h8m10 0h8m-4-2h8m6 0h8m-5 2h8m-6 2h8m-6-3h8m-4 1h8m9 0h8m-3 6h8m-6-2h8m12-1h8m-163 6h8m20 4h8m-3 2h8m-1-7h8m-4 1h8m-6 3h8m-8 1h8m-5-4h8m24 6h8m8-2h8m-4-2h8m9-3h8m-6 6h8m-3-7h8m4 8h8m0-6h8m-4-1h8m3 2h8m-6 0h8m-6 2h8m-7 1h8m-181 13h8m3-4h8m-5-4h8m12 8h8m14-6h8m-8 2h8m-8-5h8m2 5h8m-1-3h8m-8-1h8m3 3h8m-7 2h8m4-1h8m2 3h8m15-4h8m18-3h8m8 6h8m-2-3h8m-195 13h8m-2 2h8m-6-9h8m-6 9h8m34-2h8m-8-2h8m-3-4h8m-2-1h8m-7 7h8m1 1h8m-7-1h8m21-5h8m-4 4h8m-6 1h8m-1 1h8m-6-7h8m-7 7h8m-6-7h8m-7 5h8m-4 3h8m-3-7h8m-3 1h8m-5 3h8m-3 1h8m-7-5h8m-7-2h8m5 8h8m-6-5h8m15 0h8m0 1h8m-200 11h8m-5-3h8m-4 7h8m28 0h8m-6-3h8m-4-6h8m-8 1h8m-5 6h8m-6-6h8m1 2h8m-7 6h8m3-7h8m-4 6h8m8-2h8m-7 3h8m4-6h8m2 2h8m-3 4h8m6-6h8m-7 4h8m-2-2h8m7-1h8m3 5h8m16-2h8m-2 1h8m-6 1h8m-212 8h8m-5 2h8m45-8h8m-8-1h8m21 3h8m15 1h8m52 0h8m-6-4h8m-171 11h8m36 4h8m-5-3h8m-3 2h8m-7 4h8m-6-6h8m3 7h8m24-5h8m-6 5h8m-1-2h8m11 1h8m-4-6h8m-7 4h8m-5 1h8m-4-2h8m-3 2h8m19-2h8m3 4h8m-6 0h8m-5-3h8m-207 12h8m0-6h8m50-1h8m-7 4h8m-3-2h8m-8 4h8m-2-5h8m-1 4h8m8-1h8m57-1h8m7 1h8m-3-4h8m-5-1h8m8 5h8m2 4h8m-7-5h8m-8 3h8m-5-2h8m-7 1h8m-230 10h8m-6-4h8m5 5h8m39 0h8m-5-1h8m3 0h8m3-6h8m-2 4h8m-5 0h8m-1-3h8m3 3h8m31-1h8m-5-2h8m-2 8h8m-5-5h8m0-1h8m1 6h8m2 0h8m-4-8h8m-5 6h8m8 0h8m-222 8h8m-5-1h8m44 3h8m0-2h8m-4-5h8m14 0h8m1 0h8m5 2h8m-8 3h8m-6 4h8m22-3h8m1-3h8m3-1h8m-6 7h8m3-7h8m2 7h8m34-5h8m-244 10h8m-3 3h8m55-7h8m28 7h8m-8 2h8m2-4h8m1 3h8m-7-3h8m19 3h8m7-8h8m-3 4h8m-5-2h8m19 2h8m-2-1h8m-6 0h8m5 2h8m-3-4h8m-3 2h8m-6 1h8m-256 13h8m-4-2h8m0-1h8m-7-1h8m-8 2h8m-6-1h8m-5 4h8m52 1h8m8-5h8m-2 2h8m8-5h8m-5 6h8m7-2h8m3 0h8m11-5h8m2 2h8m-7 2h8m13 2h8m-6-4h8m-5 2h8m-6-4h8m2 1h8m-227 11h8m-2 2h8m17 0h8m58 1h8m5 3h8m-1-8h8m9 1h8m35 6h8m8-4h8m-3 5h8m2 1h8m19-8h8m-8 2h8m1-3h8m-201 14h8m37 4h8m4-4h8m-1 0h8m-3-3h8m32 8h8m19-2h8m-6-3h8m-3-2h8m-5 1h8m8 3h8m-6-5h8m-4 0h8m2-1h8m-4 9h8m-2-9h8m5 6h8m-269 10h8m5-3h8m104-3h8m10 9h8m5-7h8m3-1h8m-2 6h8m6 1h8m0-8h8m-8 5h8m-7 2h8m-3-1h8m17 2h8m2-2h8m15-6h8m-277 10h8m-6 7h8m-8-5h8m-4 6h8m9-1h8m98 1h8m-1 0h8m2-4h8m-3-1h8m1 4h8m32-1h8m-6 3h8m13 0h8m-8-7h8m0 1h8m12 3h8m-245 10h8m138-1h8m12-4h8m21-1h8m14 6h8m-248 5h8m11 2h8m107 1h8m1 3h8m27-5h8m-187 10h8m-4 2h8m215 5h8m100 0h8m-366 10h8m132-7h8m7 3h8m-3-1h8m23-4h8m-210 14h8m4-2h8m43 7h8m101 0h8m-8 0h8m133-3h8m42 1h8m3 0h8m-397 10h8m-7 0h8m162-3h8m1 5h8m-2-7h8m-7 6h8m-6-3h8m26-1h8m11 5h8m42-2h8m61 2h8m6-2h8m-391 11h8m-8 0h8m188-6h8m-3 5h8m118 2h8m-334 4h8m-4 0h8m110-3h8m33 7h8m17 1h8m-7-8h8m-6 4h8m-5 5h8m214-8h8m-453 16h8m23-7h8m173 8h8m-5-5h8m14 2h8m73 4h8m6-2h8m42-5h8m30 1h8m-395 14h8m52-4h8m38 6h8m44-3h8m7 0h8m1-3h8m-3-1h8m-3 2h8m4-4h8m63 9h8m-322 9h8m5-6h8m192 1h8m9 4h8m56-7h8m13 2h8m49 2h8m58 2h8m-450 5h8m201 3h8m3-2h8m181 7h8m-424 7h8m2 3h8m270-6h8m131 4h8m28-6h8m-475 15h8m-4-5h8m200 2h8m42 0h8m-279 16h8m-2-9h8m-7 7h8m-7-5h8m22 1h8m55 2h8m67-1h8m18-1h8m6 2h8m87 0h8m142 0h8m3 2h8m14 1h8m-471 4h8m-1 4h8m107-5h8m-2 0h8m62 8h8m114-8h8m64 1h8m-318 17h8m113-6h8m193 1h8m-456 14h8m173-5h8m3 0h8m24 4h8m-4-1h8m-8-3h8m-6-3h8m85 9h8m41-1h8m-386 8h8m-7 2h8m0-8h8m231 1h8m62 0h8m53 7h8m-399 9h8m339-1h8m8 2h8m82-1h8m-435 9h8m10 2h8m381 0h8m3 1h8m-454 9h8m-7-3h8m-4-1h8m226-4h8m-3 6h8m65-6h8m16 2h8m12-2h8m76 8h8m3-2h8m43-6h8m-279 16h8m-7-4h8m88 7h8m31-4h8m40-2h8m51 0h8m13 1h8m28 4h8m-390 8h8m85-1h8m80 4h8m93-6h8m103 2h8m-6-2h8m-571 11h8m67 4h8m89-8h8m65 8h8m3-1h8m92-2h8m95 0h8m-470 6h8m55 6h8m106-5h8m63 2h8m-8 4h8m-4 0h8m7-1h8m56-7h8m20 3h8m12 6h8m61-3h8m3-4h8m-1 0h8m56 2h8m2-4h8m-563 15h8m-6-1h8m-6 5h8m-4-8h8m-1 0h8m42 7h8m124 0h8m30-3h8m7 3h8m164-2h8m12 0h8m69-1h8m58 0h8m-590 6h8m-4-1h8m-3 0h8m19 3h8m49-1h8m86-2h8m54 7h8m-1-6h8m-7 1h8m2-1h8m143 4h8m13-5h8m-229 10h8m39 1h8m15 8h8m19-4h8m28 0h8m5 0h8m27-2h8m-416 10h8m239 0h8m9 1h8m-5 3h8m41-7h8m-4 7h8m45-1h8m31-6h8m55 6h8m1-1h8m11 3h8m-525 7h8m-1-2h8m-7-1h8m-8-2h8m54 0h8m168 0h8m57 6h8m105-1h8m44 3h8m-3-6h8m44-1h8m-548 15h8m112-4h8m12 1h8m134 5h8m-289 8h8m-7-5h8m104 5h8m47-6h8m17 7h8m66 0h8m207-2h8m16-3h8m-426 15h8m63 0h8m9-3h8m81-3h8m248-1h8m-545 14h8m264-1h8m247-3h8m-436 11h8m73 5h8m81-4h8m355 3h8m-649 8h8m-2 4h8m-7-5h8m-7 7h8m142-5h8m-3 4h8m6-1h8m76 7h8m258-3h8m-542 12h8m-5-2h8m1 0h8m71 3h8m73-3h8m312 3h8m-513 15h8m-7-7h8m165 0h8m27 6h8m-224 6h8m153 0h8m16-4h8m-7 3h8m22 6h8m245-7h8m119 2h8m22 3h8m-646 9h8m0 0h8m-6 0h8m258-6h8m40 0h8m13 1h8m251 7h8m33-7h8m-366 13h8m147 2h8m201 2h8m53-2h8m-4-5h8m-732 16h8m-8 0h8m0-6h8m320 7h8m-345 7h8m-6-5h8m-7 5h8m-5 0h8m-8-1h8m-4-3h8m80 7h8m82 1h8m10-8h8m37 0h8m150 7h8m168-3h8m97 4h8m-697 3h8m11 7h8m83 0h8m348-5h8m132-4h8m-634 16h8m7 2h8m87-1h8m15-3h8m5 1h8m29-2h8m191 1h8m-4-2h8m-5 3h8m-390 13h8m-7-7h8m-2 3h8m56 4h8m70-8h8m197 1h8m5 4h8m208 3h8m110-7h8m-725 9h8m47 8h8m246-3h8m14-3h8m28 1h8m-7-2h8m-7-1h8m-2 9h8m374-1h8m-780 11h8m15-8h8m264 8h8m60 0h8m15-4h8m-402 9h8m2 2h8m-3-1h8m0-4h8m41 1h8m14 4h8m50 2h8m11-4h8m46 5h8m81-8h8m48 4h8m-3-1h8m1 4h8m-8-1h8m-5-3h8m-5 3h8m-5-3h8m83 2h8m-488 5h8m299 3h8m44 2h8m-5 0h8m-4 2h8m-5-1h8m-5-1h8m-411 12h8m-2-4h8m-7-1h8m-8 3h8m4-1h8m247-3h8m59 4h8m29-4h8m3 7h8m-5-5h8m-1 3h8m352-5h8m14-1h8m30 3h8m-832 13h8m-4 0h8m-7 0h8m-6 0h8m-5-6h8m-8 0h8m1-1h8m65 0h8m53 4h8m146-4h8m66 8h8m-1-7h8m447 3h8m-859 13h8m-6 0h8m327-4h8m36-1h8m-8 6h8m-5 1h8m-4-3h8m-5 3h8m177-8h8m-594 18h8m7-9h8m17 0h8m-4 9h8m67-6h8m2 1h8m84 5h8m29-5h8m16 2h8m-7-1h8m87 3h8m2 0h8m-7-8h8m-393 12h8m197 2h8m5 2h8m-3 3h8m61-5h8m57 0h8m21 5h8m325-3h8m-548 4h8m94 0h8m-7 9h8m71-5h8m-5 1h8m1 4h8m-8-5h8m-6 4h8m-571 3h8m-2 4h8m-3 4h8m-5-1h8m-7 0h8m-4-6h8m-3 4h8m0 0h8m-5-2h8m0 2h8m-7-4h8m-7 5h8m3-2h8m-5 2h8m-3 1h8m-6 1h8m-2-2h8m-8-5h8m-7 4h8m1 1h8m2-7h8m2 6h8m-1 3h8m-1-1h8m-5-3h8m3-2h8m3-1h8m-5 3h8m-6 3h8m76-1h8m128-4h8m14 2h8m121 1h8m5-3h8m4 2h8m446-5h8m-1003 14h8m-4-4h8m0 2h8m-4 1h8m0-2h8m-6 0h8m7 0h8m36 2h8m-3-3h8m10 4h8m-6-4h8m-7 1h8m-1 0h8m3 1h8m4-2h8m-6 0h8m-1 5h8m194-1h8m11 3h8m141-3h8m-5-2h8m-5 6h8m498 0h8m-891 3h8m-4 5h8m0-2h8m12-3h8m47 8h8m256-1h8m8-3h8m-7-2h8m-3 2h8m-8-3h8m18 4h8m-414 11h8m-2-4h8m-5-1h8m192 5h8m-211 8h8m-3-4h8m-4 7h8m1 0h8m102-3h8m62 2h8m136-7h8m-59 16h8m16-1h8m0-1h8m-348 9h8m2-1h8m-2 0h8m-7-2h8m15 0h8m118 7h8m58 2h8m75-2h8m13 0h8m-7-5h8m47 5h8m29-1h8m-418 7h8m3 4h8m262 2h8m11-6h8m86 5h8m-5 1h8m58-1h8m-485 4h8m-6-2h8m-7 8h8m12-8h8m3 2h8m8 5h8m24-4h8m204 2h8m15-4h8m-5 1h8m47 2h8m69 3h8m23-1h8m-487 12h8m49-7h8m146 1h8m11 4h8m31-4h8m120 4h8m22 0h8m31-4h8m-2 7h8m-472 6h8m125 4h8m55-6h8m81 0h8m101-1h8m-8 5h8m-5 2h8m3-3h8m1-5h8m-427 16h8m100-5h8m3 2h8m-5-4h8m78 6h8m140-4h8m-2 4h8m13 1h8m13-3h8m-4-1h8m-432 14h8m27 0h8m-3 0h8m180 1h8m7-6h8m9 5h8m90 1h8m-3-5h8m18 1h8m-400 7h8m-2 1h8m2 7h8m100-3h8m57-2h8m0 5h8m40 0h8m-5-9h8m36 9h8m3-4h8m7 4h8m17-3h8m2-2h8m9-4h8m-373 10h8m99 9h8m79-4h8m88 4h8m3-8h8m5 8h8m-5 0h8m1-9h8m10 1h8m3 6h8m-372 11h8m2-3h8m-5-3h8m-8 7h8m3-5h8m8 0h8m80-3h8m78 6h8m-7-3h8m74 3h8m-4-2h8m12-4h8m-326 10h8m-8 7h8m-6-4h8m11 5h8m8 0h8m58 0h8m99-9h8m74 4h8m-296 9h8m-4-3h8m-7 7h8m84-7h8m41 3h8m41-2h8m20 4h8m44-4h8m-286 13h8m-2-4h8m17 3h8m87-1h8m30 6h8m21-6h8m-3 4h8m-2-2h8m6-1h8m34 3h8m-6-4h8m-3 4h8m-1-6h8m-278 15h8m177-1h8m5 4h8m32 1h8m-2 0h8m-6-4h8m7-1h8m-275 8h8m-7-1h8m-8 2h8m71 2h8m87-5h8m62 3h8m-259 15h8m86-8h8m114 5h8m4 2h8m-5-2h8m-5 4h8m-4-7h8m2 0h8m-4-2h8m-136 18h8m69-8h8m14 6h8m2-4h8m-6-1h8m-258 12h8m10 4h8m32-5h8m0 3h8m82 3h8m1-5h8m48 3h8m-220 8h8m4 0h8m5 0h8m121 1h8m10 0h8m-4 2h8m2-3h8m23 0h8m-7-4h8m-5 3h8m-228 10h8m111 3h8m-3 0h8m0 3h8m35-5h8m9-4h8m10 3h8m-223 10h8m37-1h8m54 0h8m20 4h8m0-6h8m-2 8h8m12 1h8m5-8h8m-6 5h8m-188 7h8m92 0h8m5-3h8m31 9h8m7-9h8m0 6h8m-85 7h8m40 4h8m-7-2h8m-1-4h8m-174 10h8m-6 8h8m72-8h8m-8 1h8m44 4h8m1-5h8m-1 0h8m-163 12h8m21-2h8m100 2h8m-3 0h8m7-3h8m-166 18h8m-3-7h8m-8 7h8m-6 0h8m-3-2h8m21-1h8m52-3h8m-4 4h8m9 3h8m-4-7h8m1 0h8m-150 13h8m7 4h8m69-6h8m33-2h8m-7 4h8m-132 12h8m43-7h8m-7 5h8m45-3h8m-2 1h8m0 3h8m-135 11h8m-4 1h8m93-4h8m-114 15h8m-3-1h8m-1 0h8m62-4h8m-5 4h8m-2-4h8m1 1h8m-5-3h8m-106 9h8m74 0h8m-4 5h8m-92 12h8m-8-2h8m-1-4h8m35 3h8m-4 1h8m-5 3h8m7-3h8m-7-1h8m-89 6h8m40 6h8m0-4h8m-4 6h8m-4-9h8m-77 11h8m-6-1h8m28 6h8m4 0h8m-3-3h8m-35 26h8m-4 0h8m-49 8h8m10-6h8m-6 8h8m-5-1h8m-30 5h8m-3-2h8m-3 10h8m-9 11h8"/><path stroke="#f08a22" d="M994 1957h8m5 2h8m59 10h8m-2 0h8m-23 19h8m44 20h8m-120 20h8m-2 1h8m53-6h8m-114 13h8m73 23h8m-90 26h8m175 15h8m-179 12h8m97 17h8m2-8h8m54 13h8m-216 10h8m142 5h8m-178 3h8m58 7h8m19 0h8m25-8h8m82-1h8m32 2h8m-82 8h8m59 8h8m3 8h8m3 1h8m-287 10h8m203 1h8m5-1h8m17-1h8m-6-1h8m0-1h8m-117 8h8m30 1h8m42-1h8m2 5h8m31 2h8m-127 5h8m19-4h8m10 5h8m-1 2h8m-5-1h8m27 3h8m-5-1h8m-282 11h8m100-3h8m24-4h8m17 6h8m-2-6h8m134 2h8m-200 8h8m53 5h8m113 1h8m-258 5h8m67-1h8m25 5h8m92-5h8m43-2h8m8 9h8m-321 10h8m32-7h8m4 4h8m43-1h8m84-5h8m17 6h8m67-3h8m1 4h8m-186 5h8m42 5h8m22-3h8m-1 3h8m14 2h8m-2-1h8m-7-4h8m6-1h8m-259 15h8m87 1h8m7-2h8m77 2h8m10-6h8m-3 0h8m57 4h8m7-2h8m-218 13h8m34 0h8m58-8h8m50 2h8m-5 3h8m-323 12h8m166 1h8m38-5h8m11-2h8m2 6h8m-4 1h8m15-4h8m1-3h8m68 6h8m-222 11h8m54-6h8m-7 3h8m9 2h8m96 0h8m-4 1h8m21-8h8m2 1h8m4 2h8m-315 14h8m83-1h8m123 2h8m7-1h8m43 0h8m6 1h8m-4 1h8m-462 1h8m290 5h8m8 4h8m5-2h8m1-4h8m23 1h8m-4 1h8m56 2h8m8-4h8m-238 11h8m-2-2h8m-8-1h8m11 1h8m38 0h8m3-2h8m9 5h8m-6 4h8m-4-5h8m1 4h8m3-8h8m6 1h8m-2 5h8m10 0h8m36 3h8m-4 0h8m17-7h8m-5 0h8m-278 16h8m17-3h8m179 3h8m25-3h8m-8 1h8m0 0h8m-2-3h8m-254 11h8m33 5h8m16-3h8m26 1h8m2-6h8m40 6h8m37-5h8m27-1h8m-252 13h8m22-3h8m40 2h8m62 5h8m61-5h8m-3 0h8m-2 5h8m10-1h8m-479 9h8m19-5h8m209 7h8m-6-1h8m-5-7h8m27 7h8m-7-4h8m51 5h8m13-4h8m-7 1h8m6 2h8m-5-1h8m51 2h8m31 0h8m-296 10h8m82-4h8m37-1h8m56 6h8m15-2h8m13-7h8m12 8h8m-156 4h8m59 5h8m15-7h8m-2 7h8m0-7h8m0 3h8m33 0h8m-400 14h8m123-7h8m18 8h8m-5 1h8m60-3h8m108-3h8m3 2h8m38 0h8m-1 3h8m26 1h8m-276 4h8m26 2h8m8 2h8m13-6h8m-6 0h8m-3 8h8m25-7h8m2 3h8m9-2h8m89-3h8m0 6h8m-391 4h8m143 7h8m-7-7h8m54 4h8m2 4h8m-7-1h8m36-3h8m13 1h8m19-3h8m4 1h8m-222 8h8m61 8h8m-7 0h8m17 0h8m4-2h8m46 1h8m-1-1h8m34-2h8m8-2h8m-3 1h8m19-3h8m-307 11h8m23 4h8m20 3h8m51-6h8m1-1h8m26 0h8m8 0h8m108-2h8m-5 3h8m36-2h8m-327 15h8m137-3h8m23-1h8m-5 7h8m-5 0h8m22-1h8m-2-6h8m41 4h8m-1 2h8m4-6h8m-377 12h8m30-3h8m6 8h8m30-9h8m6 6h8m56-4h8m42 0h8m6 5h8m33 1h8m12-5h8m33 2h8m68 2h8m-334 10h8m40-3h8m4-1h8m122-3h8m69 3h8m49 3h8m-573 5h8m176 8h8m59-4h8m63-3h8m23 4h8m1-4h8m20 0h8m106 5h8m-238 8h8m3-5h8m38 3h8m0 2h8m106-3h8m4 4h8m9-6h8m5 5h8m-3 4h8m6-5h8m10 5h8m-430 5h8m8 5h8m123-7h8m9 6h8m35-1h8m48-4h8m28 2h8m120 3h8m13-2h8m-348 12h8m-6-1h8m97 0h8m-2-1h8m38 2h8m91-7h8m30 3h8m10 5h8m0-8h8m2 5h8m11 2h8m-8-1h8m2 1h8m-586 9h8m80-3h8m89 1h8m-4-4h8m-1 1h8m-7 2h8m-5 1h8m-3 2h8m-2 1h8m-3 0h8m2-7h8m17 6h8m-1-5h8m-4 6h8m-8-4h8m28 1h8m-3 0h8m-1-5h8m29 8h8m-1-3h8m0 4h8m-7-8h8m6 7h8m51-1h8m42-3h8m31-2h8m-335 10h8m-7 7h8m2 0h8m3-4h8m1-3h8m-6-2h8m-7 5h8m-6-4h8m29 8h8m-6-2h8m-8-7h8m45 1h8m6 5h8m13-1h8m52-2h8m1-1h8m9-2h8m26 4h8m10-2h8m10 3h8m-5 2h8m10-6h8m18 4h8m-1-1h8m-2 4h8m-372 2h8m0 7h8m26-2h8m5-3h8m7 7h8m-2-8h8m24 1h8m28 3h8m20-4h8m-7 7h8m2-3h8m3-2h8m43 3h8m-8 0h8m4 3h8m2-8h8m-3 3h8m-8 1h8m30-5h8m-5 4h8m0 5h8m-5-5h8m0 0h8m2 3h8m-2-6h8m-367 10h8m7 4h8m-1 1h8m1 2h8m4-8h8m-2 3h8m23-3h8m9 7h8m0 1h8m25-4h8m0 0h8m1 3h8m-5-2h8m11 2h8m11 1h8m9-8h8m7 7h8m5 1h8m-7-3h8m-2-4h8m0 4h8m14 0h8m0-2h8m-6 4h8m-3 1h8m-5-2h8m36-3h8m36 4h8m-6-2h8m-648 12h8m237-3h8m-3 2h8m6 0h8m5-5h8m-3 3h8m-1 1h8m14 1h8m-2-6h8m0 6h8m10 0h8m-7 2h8m8-1h8m-8 0h8m14 1h8m11-3h8m24-4h8m13 7h8m-1-1h8m40-1h8m-7-2h8m-4 1h8m2-2h8m-5-3h8m-7 9h8m2 0h8m-6 0h8m3-9h8m78 4h8m-411 6h8m-4 6h8m2 3h8m-6-5h8m-2-2h8m1 1h8m-6-3h8m-7 1h8m-7 3h8m-6 4h8m-2-5h8m-3-2h8m-3 2h8m58 2h8m12 2h8m-5 0h8m-5-5h8m4 1h8m11-1h8m7-1h8m-5 3h8m50-2h8m-5 0h8m-4 0h8m-3 4h8m-2-4h8m5 0h8m22-2h8m14 2h8m5 7h8m5 0h8m-7-7h8m-4 5h8m9-5h8m-1 6h8m-1-3h8m-4 2h8m1 1h8m-444 2h8m55 2h8m6 7h8m-6-6h8m2-3h8m-5 7h8m36-4h8m-5-1h8m6 0h8m-4 4h8m1-4h8m14-2h8m1 7h8m5-1h8m27-6h8m11 6h8m53 1h8m25-4h8m-2-3h8m-7 5h8m0-5h8m-7 6h8m-7-3h8m30 4h8m-6-7h8m-1 8h8m10 1h8m-7-8h8m-5 4h8m-555 11h8m153-4h8m15 2h8m-7 5h8m13-9h8m-2 0h8m-5 1h8m-6 5h8m-6-3h8m-5 0h8m-1 6h8m-1 0h8m-7-8h8m14 0h8m2 8h8m33-8h8m25 7h8m-1 1h8m26-1h8m-6 0h8m2 0h8m14-3h8m11 1h8m24-2h8m4 1h8m28 4h8m-7-3h8m-4 1h8m3 0h8m-399 7h8m16 4h8m-6-1h8m2-7h8m-4 0h8m9 3h8m18 6h8m-4-2h8m0-7h8m-1 0h8m19 6h8m-7-5h8m-3 7h8m7-1h8m6-1h8m-2-5h8m8 0h8m10 7h8m-5-5h8m14 4h8m-7-4h8m-7 2h8m-1-2h8m-3 4h8m-1-7h8m-7 1h8m9 7h8m5-4h8m0 4h8m-7-1h8m0-2h8m-6 3h8m6 0h8m5-2h8m62 0h8m-6 1h8m-7 2h8m-6-7h8m-8 5h8m-362 10h8m-6-7h8m26 1h8m22 1h8m11-2h8m-6 5h8m17-2h8m74-2h8m-8 1h8m13 7h8m9-7h8m7 4h8m17-3h8m-8 6h8m46 0h8m-2-3h8m7 0h8m12 2h8m-407 5h8m11 0h8m1-2h8m11 7h8m-8-2h8m0-6h8m-4 2h8m-4-1h8m8 7h8m12-6h8m-4 6h8m11-5h8m3-1h8m25 7h8m25-4h8m9 2h8m-2 0h8m16-7h8m7 6h8m-1 3h8m4-7h8m7 6h8m4 1h8m28-2h8m-6 1h8m-6-7h8m-2 2h8m-7 1h8m40 5h8m-392 9h8m2-4h8m8 3h8m8-3h8m-5 5h8m16-9h8m30 2h8m24 1h8m81-2h8m-7 2h8m-7 0h8m2 5h8m40-2h8m12-1h8m-6-4h8m6 6h8m17-2h8m3 2h8m4-5h8m-595 17h8m-7-7h8m153 2h8m14-3h8m26 1h8m36-1h8m4 0h8m-1 7h8m-7-1h8m-4 0h8m2-5h8m3-1h8m20 7h8m28-3h8m77 3h8m9-1h8m-8-4h8m30 1h8m38 1h8m-1 0h8m-2-5h8m4 9h8m12-4h8m-674 7h8m129 7h8m71-1h8m74-8h8m-1 6h8m0 2h8m36-5h8m-8-1h8m15 5h8m-2 2h8m-1-8h8m0 3h8m6 3h8m61-5h8m1 3h8m3-4h8m62 6h8m6-7h8m26 4h8m10 1h8m2-4h8m-4 4h8m-4-2h8m4 1h8m-470 11h8m124-1h8m31-3h8m3 6h8m16 0h8m17-7h8m-3 1h8m14 0h8m16 6h8m13-4h8m2 1h8m26 2h8m2-1h8m0-1h8m13-4h8m0 4h8m-649 9h8m-7 3h8m189-6h8m77 8h8m29-3h8m43 4h8m34-5h8m-2 3h8m36-7h8m19 9h8m45-1h8m-2-4h8m-7-1h8m23 2h8m-7 2h8m-1-6h8m15 6h8m-6-5h8m12-2h8m-6 6h8m17 0h8m6-1h8m13 2h8m11-6h8m-711 10h8m-5 7h8m189-2h8m-5-6h8m59 0h8m71 7h8m5 1h8m-6 1h8m0-1h8m-3-1h8m26 2h8m-7 0h8m-7-6h8m0-3h8m3 2h8m-2-1h8m3 3h8m-1-2h8m3 2h8m4 4h8m0 1h8m7-2h8m29 0h8m-6 0h8m-1-4h8m1 0h8m-2-1h8m7 5h8m20-6h8m-5 2h8m57 3h8m23-3h8m-539 9h8m23 2h8m40 0h8m37-3h8m61 3h8m-6 1h8m96-3h8m5-2h8m6 8h8m-3 1h8m29-4h8m50-4h8m6 8h8m3-8h8m3 5h8m-2 0h8m11 1h8m8-2h8m-555 11h8m23-1h8m25 2h8m97-6h8m-7-1h8m19 3h8m58 6h8m15-1h8m11-7h8m3 2h8m2 6h8m35-2h8m-5-6h8m10 4h8m-7 2h8m1 1h8m44 1h8m3-4h8m18 3h8m6-6h8m13 4h8m17-5h8m13-1h8m-654 15h8m95 3h8m-6-3h8m14-4h8m-1 7h8m71 1h8m12-6h8m48 5h8m-6-8h8m28 1h8m57 5h8m-5-3h8m3 1h8m10 4h8m2-7h8m22 1h8m-4 0h8m10 0h8m15 3h8m-4-1h8m6 2h8m7-3h8m30 3h8m1-6h8m-3 3h8m4 4h8m19 1h8m15-6h8m-5 6h8m-596 8h8m64-5h8m-7 6h8m22-1h8m22-5h8m7 6h8m11 1h8m-5-7h8m18 6h8m9-1h8m13 3h8m42 0h8m-2-3h8m-5-2h8m-6-3h8m38 7h8m-8-7h8m10 6h8m17-6h8m7 8h8m-6-9h8m-2 5h8m20 4h8m0 0h8m-7-4h8m-1-4h8m-6 6h8m-2 0h8m3 1h8m-2-1h8m60 0h8m-4-3h8m-588 7h8m185 6h8m1-3h8m44-3h8m8 0h8m0 0h8m18-1h8m3 6h8m0 3h8m15-5h8m14-1h8m-4 6h8m47-3h8m12-4h8m8 7h8m1 0h8m23-2h8m-4 1h8m21 0h8m-4 0h8m12-1h8m49-7h8m-7 5h8m-626 13h8m21-1h8m5-7h8m143 4h8m12 5h8m38-4h8m25-5h8m-7 0h8m11 5h8m-2 3h8m23-4h8m7-4h8m-4 0h8m4 9h8m2 0h8m11-6h8m17-3h8m-3 9h8m15-1h8m-5-8h8m-1 5h8m-8 2h8m0-2h8m10-2h8m-1-2h8m18 3h8m0-2h8m2 3h8m11-2h8m35 2h8m0-3h8m-633 16h8m23 0h8m46-1h8m15-7h8m11 6h8m25-5h8m0 4h8m-4 2h8m94-1h8m90-5h8m-6-1h8m13 0h8m-2 7h8m0-6h8m22 4h8m-8-3h8m-4 4h8m-5 3h8m10-6h8m13 2h8m12 1h8m16-2h8m-7 4h8m16-4h8m-6 1h8m8-5h8m-4 1h8m-5 2h8m-7 1h8m1-3h8m-4 6h8m14-6h8m-8-1h8m-705 18h8m-3-1h8m32-5h8m37 2h8m68 0h8m-1 1h8m42 4h8m18-5h8m135-1h8m9 6h8m72-4h8m25-5h8m-4 8h8m14-3h8m16-4h8m31 8h8m31-2h8m2-7h8m-5 6h8m9-4h8m-766 14h8m27-4h8m95-1h8m66 5h8m-3 0h8m33-6h8m7 6h8m9-6h8m102 0h8m46 1h8m19 3h8m27 4h8m36-5h8m26-2h8m-7 1h8m-5 6h8m10-7h8m5 4h8m1 0h8m20 1h8m-5-4h8m-1 7h8m-1-5h8m-4 1h8m27-2h8m-7-3h8m43 8h8m4-1h8m-3 0h8m-821 9h8m40 1h8m14-2h8m21-1h8m66-1h8m5-1h8m21-1h8m63 5h8m2-3h8m46 2h8m94 1h8m89-2h8m11 5h8m16-6h8m18-3h8m3 1h8m-1 3h8m12 3h8m30-6h8m51 7h8m19-7h8m13 0h8m2 6h8m-2-5h8m-845 8h8m1 8h8m13 1h8m22-1h8m3-8h8m9 1h8m3 6h8m136-3h8m24-3h8m7 2h8m7 6h8m171-5h8m29 3h8m2-7h8m4 8h8m27-2h8m4-2h8m2-4h8m24 3h8m12 4h8m4-2h8m52-2h8m-8-1h8m19 2h8m23 4h8m-7-4h8m-7 1h8m26-1h8m0-2h8m0-2h8m-874 18h8m19-6h8m100-2h8m2 0h8m-7 6h8m108-6h8m37 6h8m35 0h8m22-6h8m50 8h8m110-6h8m13 2h8m66-2h8m-2 1h8m31-1h8m2 7h8m65-4h8m-3 0h8m25-3h8m31-2h8m-7 4h8m-886 14h8m17-2h8m18-4h8m59 4h8m56-1h8m12-2h8m5 5h8m-6-1h8m3-4h8m64 0h8m58 0h8m-2-2h8m-1 6h8m-2-7h8m4 9h8m-6-7h8m1 0h8m0-1h8m26 3h8m-3 0h8m2 0h8m-1-3h8m32 8h8m2-6h8m-4 4h8m65-2h8m30 0h8m13 3h8m43-3h8m46-1h8m33-1h8m16-1h8m2 3h8m28-1h8m-885 14h8m241-8h8m28 7h8m33-7h8m18 5h8m-1 1h8m77-5h8m5 4h8m88-5h8m48 1h8m-3 3h8m-3 5h8m11 0h8m7-8h8m23 7h8m1-3h8m54 0h8m140 3h8m-906 11h8m10-8h8m6 4h8m-2-4h8m25 4h8m105-4h8m11 5h8m34 2h8m11-4h8m-7-3h8m119 2h8m4 5h8m2-5h8m-6-1h8m-4-1h8m-4 2h8m3 3h8m20-2h8m14-1h8m47 5h8m16-2h8m8 1h8m20-4h8m13 1h8m-4 1h8m7-5h8m43 4h8m2 4h8m24-3h8m1 4h8m20-7h8m3 4h8m-723 6h8m4 4h8m18-5h8m99 6h8m82-6h8m-2 4h8m16-2h8m43-2h8m4 3h8m-1 5h8m36-2h8m-3-1h8m16-6h8m2 5h8m48-1h8m39 4h8m39-3h8m3-2h8m0 2h8m-1-2h8m30 0h8m-634 15h8m-4-5h8m119 1h8m54 0h8m6 2h8m-3-3h8m-3 5h8m36-4h8m-8-3h8m5 7h8m7-8h8m2 5h8m30 3h8m10 1h8m-2-6h8m2 6h8m18-8h8m69 2h8m2-2h8m-582 14h8m21-3h8m11 4h8m40-1h8m16-3h8m-3 7h8m78-8h8m29 5h8m-3 2h8m14 1h8m35 0h8m-4 0h8m30-1h8m30 1h8m-2-3h8m14-2h8m-258 6h8m6 5h8m16-3h8m57 0h8m-6-1h8m-4 3h8m3-1h8m20 6h8m-5-8h8m13 1h8m-3 0h8m10 4h8m16 1h8m-376 9h8m131-1h8m67-5h8m17 1h8m17 7h8m21-4h8m0 2h8m-5 0h8m9 2h8m35-6h8m-362 11h8m-8-2h8m38 6h8m-3-6h8m18 8h8m4-7h8m3 7h8m37-9h8m65 2h8m108 2h8m-363 8h8m17 6h8m183-7h8m46 8h8m20-2h8m13-7h8m-222 17h8m19-2h8m2-5h8m43 4h8m9-3h8m-7 4h8m-1-3h8m3 1h8m-3 1h8m-244 15h8m-5 0h8m60-3h8m6-3h8m48 1h8m6-4h8m17 4h8m46 4h8m-7-1h8m-6 0h8m3-1h8m-4 0h8m-208 10h8m67-3h8m-6 6h8m8-3h8m-5-1h8m-8 1h8m-1 3h8m4-5h8m4-4h8m21 5h8m15-2h8m1-1h8m-2 7h8m-7-9h8m-245 19h8m21-7h8m35 1h8m20 1h8m22-4h8m15 1h8m-8 8h8m0-8h8m53 7h8m-8 0h8m-247 2h8m0 7h8m27-7h8m5 0h8m65 0h8m37 1h8m18 1h8m34 2h8m-236 12h8m-7-2h8m41-2h8m67-1h8m71 4h8m1-3h8m-266 9h8m0 7h8m87-4h8m27-2h8m21 7h8m6-8h8m0 0h8m49 3h8m-227 6h8m-2 6h8m2 0h8m13-4h8m110 3h8m-7 4h8m18-5h8m5-1h8m2 2h8m1-5h8m-38 18h8m-4 0h8m-199 10h8m38-4h8m-6-4h8m15 8h8m52-6h8m1-2h8m-1 3h8m-6 0h8m-3-3h8m-55 17h8m6-4h8m-6 3h8m40-4h8m-185 17h8m125-3h8m-157 7h8m14-3h8m-2 9h8m36-5h8m-5 4h8m24 1h8m-7-6h8m6 3h8m15-2h8m-4-1h8m-61 12h8m1 2h8m6 2h8m13-8h8m-2 8h8m-7-3h8m-5-6h8m-162 11h8m11 2h8m15 6h8m42-8h8m-1 1h8m-6 2h8m24-1h8m-3 1h8m-8 1h8m-95 9h8m16 2h8m-78 7h8m37 2h8m-2 2h8m-6-6h8m4-1h8m10 0h8m-95 13h8m42 6h8m12-9h8m-1 1h8m-67 13h8m28-1h8m1 5h8m17-8h8m-117 15h8m5 4h8m30-1h8m15-2h8m-20 10h8m-71 11h8m15-2h8m4 4h8m-7-4h8m1-3h8m18 2h8m-94 9h8m5 4h8m1 0h8m6-4h8m13 1h8m9-3h8m-51 13h8m6 1h8m2-1h8m-31 22h8m9-6h8m-1 0h8m-7 2h8m-37 12h8m-6 0h8m-3-1h8m-22 16h8"/><path stroke="#f2b850" d="M1170 2177h8m-91 28h8m35 5h8m-63 22h8m14 7h8m-53 9h8m94 12h8m53 2h8m-181 37h8m207 35h8m-219 18h8m118 30h8m-5 10h8m87 21h8m-49 24h8m-228 3h8m199 13h8m-247 7h8m290 4h8m-288 12h8m107 22h8m20-7h8m-209 16h8m-5 0h8m274-3h8m-305 10h8m-5-2h8m-4 0h8m-7 1h8m-1 0h8m-1 1h8m-4 2h8m-4 3h8m253-9h8m39 3h8m11 2h8m-345 9h8m-7-1h8m8 3h8m16 2h8m58-6h8m67 4h8m19 2h8m16 0h8m22-6h8m-310 15h8m-4-6h8m7 2h8m13 3h8m27 2h8m-2 0h8m50 0h8m1 1h8m34-9h8m23 4h8m106 1h8m-345 9h8m16-2h8m0 4h8m3-2h8m14-2h8m26-2h8m45 9h8m46-6h8m70 3h8m38-3h8m-318 10h8m8 0h8m3 3h8m-8-3h8m35 1h8m188-2h8m14 2h8m43-4h8m-345 17h8m-2-4h8m29-2h8m120 7h8m63-1h8m70-7h8m-329 19h8m13-2h8m-4-5h8m-3 0h8m320 2h8m-359 6h8m77 7h8m-1-2h8m-7-2h8m174 6h8m18-8h8m2 2h8m17-1h8m32 0h8m-322 9h8m-4-1h8m3 3h8m76 0h8m129 2h8m5 4h8m71-5h8m-381 9h8m38 1h8m4-4h8m29 5h8m108 4h8m-187 10h8m4 0h8m-2-4h8m16-4h8m0 8h8m26-7h8m178-2h8m7 2h8m-293 15h8m129-4h8m32 0h8m133 3h8m-329 10h8m23-4h8m-1-2h8m42 4h8m6-1h8m22 6h8m15-4h8m44 0h8m79 0h8m41-3h8m-335 11h8m9-2h8m5 3h8m-7 4h8m51 1h8m113-2h8m-3-4h8m59 1h8m-303 13h8m65-2h8m51-4h8m33 6h8m9-4h8m5 3h8m77 2h8m11-4h8m-389 8h8m86-2h8m53 8h8m148-8h8m35 8h8m3 0h8m20-2h8m5-4h8m34 4h8m-393 7h8m9 4h8m1-3h8m6-4h8m-6 4h8m-6 1h8m-7 4h8m60-3h8m11-4h8m97 5h8m2-5h8m-4 1h8m-8 3h8m26 3h8m7-3h8m67 0h8m-368 9h8m16 3h8m32 0h8m40-8h8m36 8h8m61 1h8m71-9h8m35 6h8m11 0h8m2 2h8m-452 8h8m35 3h8m12-3h8m87 1h8m16-1h8m9 3h8m27-1h8m106-3h8m-1-1h8m0 5h8m5-1h8m-5-1h8m5 2h8m41-9h8m-388 13h8m-4 6h8m0-2h8m15 1h8m37-1h8m3-5h8m71 7h8m50-5h8m19 1h8m52 4h8m-197 7h8m1-3h8m44 3h8m34-6h8m9 5h8m25 4h8m90-4h8m2 2h8m-430 9h8m69 1h8m24 1h8m25-2h8m0 3h8m-2-2h8m12-7h8m10 1h8m0 5h8m0 0h8m16-3h8m64-3h8m-4 0h8m54 5h8m-506 14h8m80-6h8m3 2h8m11 1h8m-4-2h8m151 0h8m6 0h8m-7-1h8m45 0h8m-7 5h8m4-7h8m22 1h8m62-2h8m11 2h8m-3 4h8m-416 4h8m3 0h8m-7 3h8m5-1h8m-2 0h8m0 6h8m-1-3h8m7 1h8m45-2h8m97-1h8m-3 1h8m9-1h8m15 4h8m-7-6h8m18 3h8m13-2h8m-3 3h8m-4 4h8m10-5h8m-7-3h8m28 5h8m-7 3h8m5-3h8m9 0h8m33-3h8m-1 2h8m-691 9h8m5 3h8m44-6h8m206 0h8m32 0h8m166 8h8m19-2h8m-4 1h8m24-3h8m54-4h8m1 0h8m-1 7h8m20 0h8m10-6h8m-748 16h8m16 1h8m265-7h8m14 0h8m53 5h8m6-3h8m49 1h8m-4-4h8m13 8h8m6 0h8m-3-7h8m5-2h8m-7 1h8m-6 5h8m19-5h8m1 0h8m-2 3h8m17 2h8m58-4h8m12 4h8m3 0h8m29 2h8m23-8h8m-398 15h8m-3 2h8m-7 2h8m-4-7h8m15 2h8m24-2h8m18 0h8m48 5h8m65-1h8m19-5h8m18 1h8m7 6h8m0-1h8m25-1h8m3 0h8m17-1h8m-3 4h8m36-7h8m-876 13h8m421-3h8m7 0h8m9-1h8m4 3h8m13-4h8m19 0h8m2 9h8m1-6h8m55-3h8m45 6h8m97-1h8m6 3h8m21-2h8m12-2h8m2 2h8m6-6h8m6 4h8m-762 8h8m288 7h8m3-3h8m19 0h8m54 1h8m5-1h8m15-1h8m-4-2h8m58 5h8m4-3h8m1 3h8m4-1h8m69-2h8m2-4h8m1-1h8m-1 4h8m-4 4h8m15-1h8m15-7h8m11 2h8m3 2h8m21-2h8m-4 7h8m3-5h8m-712 9h8m203 2h8m40-1h8m75 2h8m1-5h8m41 3h8m23-1h8m-4 1h8m-3 5h8m-5-5h8m52-1h8m12-2h8m-5 7h8m25 0h8m1-3h8m15 4h8m71-7h8m-786 8h8m273 0h8m-8 6h8m8-5h8m54 6h8m11-7h8m4 9h8m4-3h8m40-1h8m-6-2h8m6 0h8m14 2h8m2-4h8m106 6h8m73-4h8m20 0h8m6 5h8m53-6h8m-759 15h8m192-5h8m15 1h8m98 4h8m65-3h8m6-2h8m5 0h8m28 0h8m42-1h8m7 4h8m6-2h8m28 3h8m50-3h8m-310 12h8m0-4h8m77 7h8m36-4h8m49 3h8m-1-7h8m-2 3h8m-7-3h8m9 4h8m23-3h8m-741 11h8m-5-2h8m148 9h8m135-8h8m72 4h8m6 3h8m45 0h8m48-6h8m5-1h8m-492 16h8m312 2h8m41-4h8m43-1h8m-168 12h8m18-5h8m3 4h8m36 0h8m-45 7h8m-4-2h8m-120 18h8m113 6h8m-353 11h8m248-2h8m4 4h8m13 1h8m30-6h8m-255 16h8m39 1h8m77-1h8m22 0h8m1-2h8m46-4h8m-307 13h8m203 0h8m1 1h8m6 0h8m26-2h8m-192 6h8m-97 19h8m185-8h8m18 0h8m-6 2h8m-7-2h8m-137 11h8m-7 7h8m14-3h8m-88 5h8m78 12h8m76 1h8m-110 9h8m-95 26h8m102-8h8m11 7h8m12-3h8m-141 6h8m99 4h8m-160 14h8m18-9h8m87 1h8m-79 26h8m17 0h8m-39 7h8m2 5h8m29-9h8m-17 26h8m-131 4h8m22 7h8m1 1h8m38-6h8m-34 11h8m9 12h8m-55 53h8m-52 3h8"/></g>
<g fill="none" stroke-width="8" transform="scale(.1)"><path stroke="#3d6cb0" d="M2367 2079h8m-76 3h8m-4 7h8m-7-1h8m-7 10h8m3-4h8m-2 3h8m-1-3h8m6-2h8m-6-2h8m-13 10h8m23 2h8m-94 15h8m14-6h8m-6 2h8m0-3h8m-4 5h8m-1-3h8m-5 2h8m-1 1h8m-5 0h8m-6 3h8m0-8h8m-2 6h8m0 1h8m-91 9h8m-5-1h8m18-3h8m-38 11h8m1 5h8m-7-7h8m-4 0h8m-6-1h8m4 2h8m1-2h8m4 9h8m10-4h8m9-1h8m-6 3h8m-2-7h8m-106 13h8m-5 5h8m-7-2h8m47-1h8m-8 3h8m23-4h8m-102 11h8m16-3h8m-4 5h8m8-4h8m-7 2h8m-3 1h8m1-2h8m-2 0h8m6 4h8m-8 0h8m15-1h8m1 0h8m-117 9h8m18 0h8m-8-3h8m-5 4h8m75-6h8m-117 14h8m24 1h8m-1 2h8m33-6h8m24-2h8m-3 18h8m-135 3h8m46-1h8m2 0h8m2 3h8m-6 4h8m5-5h8m9 0h8m-4 1h8m6-3h8m-3 5h8m-7 1h8m-96 8h8m36-2h8m38 0h8m4 0h8m-169 16h8m-5-1h8m-5-4h8m-8 5h8m70 0h8m-8-8h8m31 7h8m14-5h8m11 5h8m-176 10h8m61-4h8m-1-2h8m-4 4h8m-2 1h8m9-3h8m10 4h8m2 0h8m4 2h8m0-8h8m-2 1h8m-101 8h8m0 3h8m9-3h8m1 5h8m1 4h8m42-6h8m-3-3h8m-2 4h8m-194 13h8m-3 1h8m-3-8h8m73 3h8m6 0h8m54-3h8m6 5h8m-194 13h8m-6 1h8m-6-2h8m-7-3h8m1-3h8m135 5h8m5-3h8m-3 5h8m6-4h8m-206 6h8m-5 1h8m-7 1h8m-2-1h8m-6-1h8m119 5h8m10 4h8m4-1h8m41-3h8m3 4h8m-246 10h8m-7-4h8m-6 0h8m49 0h8m47 4h8m23-7h8m-1 3h8m-8 1h8m-3-5h8m22 4h8m2-2h8m27 1h8m3-3h8m-246 10h8m-5 6h8m14-1h8m163-5h8m7-1h8m29 3h8m-291 16h8m-6-3h8m1-3h8m-7-2h8m-8 3h8m-7-1h8m4 2h8m-4-5h8m131 1h8m66 3h8m1-2h8m12 5h8m-135 12h8m-6-3h8m2-1h8m-6-5h8m-5 2h8m5 6h8m72-1h8m22 1h8m-3-7h8m-304 14h8m17-5h8m66 0h8m18 8h8m23-7h8m-5 0h8m39 1h8m9 3h8m18-5h8m-3 1h8m28 4h8m-304 11h8m-4-3h8m35 6h8m152-5h8m1 4h8m17-3h8m25 3h8m18-6h8m-5 5h8m-326 7h8m-1 1h8m165-3h8m-7-1h8m-7 1h8m7 3h8m37-3h8m19 7h8m22 0h8m-306 8h8m-7-2h8m176-3h8m26 3h8m-7-4h8m72 0h8m3 1h8m8-2h8m-344 13h8m-5 3h8m-7 2h8m-6-5h8m-6 2h8m15 2h8m62-7h8m67 8h8m-7-3h8m-7 0h8m2 0h8m-4-2h8m-1 3h8m8-4h8m19 3h8m-7 4h8m28 0h8m29-6h8m-2 3h8m-1-2h8m-4-3h8m-347 17h8m-6-6h8m-2 6h8m104-5h8m32 6h8m-1-4h8m114 3h8m20-2h8m-6-4h8m4 7h8m-344 8h8m-5 2h8m-1-3h8m-7-4h8m90 2h8m12 5h8m33-3h8m8 0h8m57-4h8m19 5h8m40-3h8m-334 12h8m6 2h8m150-2h8m25-2h8m37 0h8m-7-3h8m3 8h8m14-1h8m18-7h8m31 7h8m-366 9h8m-3-7h8m-6 1h8m171 7h8m29-7h8m44-1h8m12 4h8m-306 10h8m114 2h8m27-6h8m5 4h8m19 5h8m24-8h8m29 1h8m96 5h8m-386 10h8m-5-2h8m161-2h8m35 3h8m-7-3h8m8 0h8m42 3h8m7 1h8m-7-2h8m-130 8h8m6 5h8m15-5h8m36 1h8m4 1h8m15 3h8m12-8h8m18 7h8m-1 2h8m4-3h8m10-3h8m1 4h8m-402 11h8m-5 1h8m-8-4h8m-6-3h8m123-1h8m59 2h8m7-3h8m57 9h8m-5-3h8m-292 6h8m15 0h8m7 2h8m151 1h8m26 4h8m20-5h8m4 2h8m0-4h8m19 3h8m12 0h8m-7 1h8m16-1h8m-373 7h8m119 5h8m57-1h8m0-1h8m4-5h8m49 5h8m32-1h8m14 4h8m2-3h8m16-1h8m-3 5h8m14-7h8m-408 17h8m32-9h8m11 1h8m96 3h8m-6 2h8m2-4h8m-8 0h8m8 0h8m-3 5h8m61-7h8m19 1h8m14 7h8m26 1h8m7-5h8m18-1h8m16 6h8m-4-6h8m-4 3h8m-429 12h8m-4 0h8m-8 1h8m27-2h8m115-3h8m-6-2h8m82 7h8m49-1h8m103-6h8m-431 9h8m-6 4h8m-6-3h8m225-1h8m60 2h8m58-3h8m-8 7h8m20-7h8m7 9h8m-435 5h8m-1 0h8m-8-4h8m-7 1h8m-6 2h8m55-3h8m102 9h8m5-1h8m64-3h8m114-1h8m2-1h8m-405 11h8m174-4h8m1 3h8m175 2h8m-6 1h8m10 1h8m7-4h8m-434 16h8m-3-2h8m1-7h8m345 4h8m27 4h8m-8-3h8m62 4h8m-481 7h8m20-4h8m-7 7h8m1-3h8m296-3h8m-336 7h8m97 7h8m198-7h8m7 2h8m13 6h8m4-8h8m6 1h8m16 8h8m2-9h8m2 9h8m5-7h8m-3 5h8m-1-5h8m-399 8h8m285 9h8m-3 0h8m3 0h8m11-8h8m21-1h8m28 2h8m9 2h8m-502 15h8m-7-4h8m-8 2h8m2-6h8m270 5h8m56 2h8m51-8h8m23 8h8m-459 4h8m-7 5h8m-8-2h8m-3-3h8m-7-1h8m-7 4h8m-1-2h8m63 6h8m364 0h8m-3-5h8m-477 13h8m-4-7h8m77 4h8m7-1h8m244 6h8m106-5h8m-6 1h8m-493 12h8m58-3h8m69 0h8m210 4h8m7-2h8m35-2h8m25-2h8m-468 11h8m-5 1h8m14 1h8m354-1h8m18 0h8m32 0h8m4 2h8m38 0h8m-6 0h8m-531 6h8m-6 1h8m76 3h8m332-3h8m106 3h8m-510 9h8m341-5h8m140 0h8m-2 2h8m9-1h8m-533 14h8m383-3h8m18 3h8m6 3h8m12-7h8m-2 13h8m-2 1h8m29-3h8m10 2h8m-28 10h8"/><path stroke="#111111" d="M2300 2087h8m-3 1h8m-19 6h8m4 4h8m16-4h8m7-3h8m12-1h8m-4 4h8m-81 15h8m1-8h8m-5 8h8m-6-5h8m-2 5h8m-2 0h8m4-6h8m15 0h8m-6 3h8m5-2h8m-85 7h8m2 5h8m1-6h8m-5 0h8m4 7h8m2-2h8m-2 2h8m-6-1h8m-5-6h8m-7 1h8m-1 7h8m-5-2h8m7 1h8m-89 7h8m2 4h8m-7-2h8m-8 3h8m0-3h8m-7-2h8m-3 0h8m6 4h8m-3-4h8m-3 3h8m-1 0h8m-8-6h8m-3 1h8m-2 6h8m-6-7h8m-7-1h8m-6 0h8m2 3h8m-7 5h8m-89 4h8m0 6h8m1-1h8m-8-4h8m2-3h8m-7 9h8m-3 0h8m-5-1h8m8-7h8m-3 7h8m-5 0h8m3-5h8m1 5h8m-96 10h8m-1-8h8m-6 9h8m-5-9h8m-7 8h8m-7-5h8m-3 6h8m-2-9h8m13 6h8m-6-3h8m-6 4h8m-7-7h8m-7 6h8m-6-2h8m-3-2h8m-8 3h8m-4-1h8m-2 1h8m16-3h8m-2 5h8m-8-5h8m-102 10h8m-6 4h8m-6 1h8m-6-6h8m-5-1h8m1 2h8m-2 4h8m44 3h8m-7-9h8m-6 3h8m-5 3h8m-6 0h8m1-6h8m-1 5h8m-108 6h8m-7 0h8m-5 1h8m-4 0h8m-2 2h8m-7-3h8m-7 6h8m24-2h8m-3-1h8m-1 4h8m-6-1h8m-6-4h8m-8 1h8m-4 1h8m-7-1h8m12 2h8m-1 1h8m-99 4h8m-7 1h8m-5-2h8m-8 3h8m-4 6h8m-7-1h8m-8-8h8m23 4h8m4 0h8m1-4h8m-4 8h8m-1-8h8m-1 5h8m-8-1h8m3-3h8m1 5h8m-101 11h8m-8 2h8m-5-9h8m-7 1h8m-7 8h8m-8 0h8m-7-3h8m-6 3h8m18 0h8m2-3h8m20-3h8m-5 2h8m-4-5h8m-4 5h8m1-4h8m-7 6h8m-6-1h8m-5-5h8m-7 5h8m-107 4h8m-7 0h8m-7 6h8m-8-1h8m-5 0h8m-4 1h8m-6-3h8m0 6h8m0 0h8m-2-7h8m0 4h8m-6 2h8m4 0h8m-6-4h8m2 0h8m-7 5h8m-3 0h8m-7 0h8m-3-5h8m6-3h8m-3 8h8m-7-3h8m-4-3h8m-119 10h8m2-2h8m-4 0h8m-6 6h8m-8-4h8m-8-2h8m-7 4h8m-7-3h8m12 0h8m5 7h8m-7-6h8m-5 3h8m2-6h8m5 6h8m2-3h8m2 5h8m-7 1h8m-3-9h8m-6 1h8m-105 13h8m0-2h8m-8 2h8m-3 3h8m-8-3h8m4 0h8m-5-3h8m9 5h8m-5 3h8m-6-6h8m-6 4h8m-8 0h8m-6-5h8m1 3h8m12-4h8m-4 7h8m-6-8h8m2 6h8m-106 6h8m-6 0h8m-6 6h8m-6-8h8m-1 4h8m-5 3h8m-4-2h8m-6 1h8m-6-5h8m22 0h8m-4 2h8m-7 2h8m-3 2h8m-4 2h8m-6-4h8m-8-4h8m-7 8h8m-4-1h8m-6-3h8m-2-1h8m-5-3h8m1 3h8m-2-4h8m-7 2h8m3 1h8m-128 13h8m-2-5h8m-4 0h8m-7 3h8m-7 4h8m-7-5h8m-6 3h8m-5-2h8m2-1h8m0 2h8m0 4h8m2-9h8m11 9h8m-2-4h8m-8 0h8m-4-2h8m-5 0h8m30 6h8m-7-8h8m-7 6h8m-6-3h8m-138 13h8m-3 1h8m-5-8h8m-5 6h8m-5-3h8m-6 3h8m-6-1h8m-4-4h8m-3-1h8m-8 9h8m0-2h8m1 0h8m1 1h8m-3-1h8m-8-5h8m-7 1h8m-7-3h8m-8 3h8m-3 1h8m-5 2h8m-5-4h8m3 7h8m-4-9h8m-6 2h8m-7 3h8m18-3h8m-4 5h8m-6-4h8m-129 14h8m4-7h8m6 4h8m-7 2h8m-8-6h8m-5 6h8m-4-4h8m-3 2h8m7 0h8m6 5h8m-5-2h8m39-3h8m4 2h8m-8-6h8m-3 1h8m-1 7h8m-141 3h8m-6 0h8m-6-1h8m-2 8h8m-3-5h8m-6 3h8m-6-2h8m-2 2h8m-2 0h8m-7 0h8m-4-1h8m-7 4h8m-4-6h8m-8 6h8m9-9h8m4 8h8m-6 0h8m-2-1h8m-6-3h8m21 5h8m-3-1h8m0-7h8m-1 4h8m1-2h8m-7 1h8m-140 9h8m-7-1h8m-4 4h8m-3-4h8m4 1h8m-8-1h8m13-2h8m-2 2h8m-1 3h8m-7-1h8m8 1h8m-2 3h8m-5-2h8m14-3h8m24-3h8m-148 11h8m-7 3h8m-4-2h8m-8 1h8m-8 3h8m-4-2h8m-7-1h8m-5 6h8m-5-6h8m0 3h8m-4 1h8m6-2h8m-6-4h8m18 2h8m2-3h8m-4 6h8m-1-3h8m-6 2h8m-8 4h8m-1-3h8m-6-6h8m10 3h8m-3 4h8m-3-2h8m13 0h8m-159 13h8m-4-5h8m-4 5h8m2 0h8m-8-4h8m-6 4h8m-4-5h8m-7-3h8m-1 6h8m-6-6h8m3 0h8m-5 4h8m-8-4h8m10 0h8m-4 1h8m35 1h8m11 4h8m13-4h8m-157 12h8m3 4h8m-8-1h8m-4-5h8m-5 0h8m-8 7h8m3-9h8m-4 8h8m-2-7h8m1 6h8m-8 2h8m5-5h8m12 4h8m40 0h8m-2-5h8m2 5h8m-165 6h8m-2-1h8m-8 1h8m-6 5h8m-6-7h8m-1 3h8m-3-1h8m0 3h8m-4-1h8m-4 1h8m-4-3h8m-1 3h8m-5-1h8m-6 3h8m-7-9h8m-4 1h8m-4 4h8m-7-4h8m7 0h8m-7 4h8m8-3h8m11 0h8m3 5h8m-1-1h8m18-6h8m-8 2h8m-5 5h8m-172 8h8m-4-3h8m-4 3h8m-6-4h8m-5 0h8m-2 1h8m-1 1h8m-5 2h8m9-2h8m0 0h8m-7 0h8m-3 2h8m-5-5h8m-7 3h8m-7-1h8m18 1h8m8 3h8m-7 3h8m-3-6h8m42 3h8m0 3h8m-190 7h8m4 1h8m-4-6h8m-4 2h8m29 3h8m14-4h8m-2 1h8m-1-3h8m21 7h8m11-6h8m-4 8h8m-4-4h8m-8-5h8m-2 3h8m23 5h8m-192 5h8m-6 5h8m-8-1h8m-8 2h8m-6-5h8m-2-3h8m-6 3h8m-7 2h8m-7-1h8m-7-5h8m8 0h8m10 4h8m7 1h8m-7 1h8m-5 1h8m-7-3h8m20-1h8m10-3h8m10 4h8m1-1h8m-8-3h8m-3 5h8m-7-4h8m-6 0h8m-3 8h8m1-8h8m-6 8h8m-173 7h8m4-6h8m-1 6h8m-7-3h8m-5 1h8m-5 2h8m-3 3h8m-8-5h8m-4 1h8m-6 4h8m-1-6h8m-6 2h8m0 0h8m-4 0h8m-1 2h8m-7-2h8m-6 0h8m-5 1h8m0 3h8m-2-3h8m2 0h8m-2-3h8m-6-1h8m-3 3h8m-4-2h8m3 0h8m10 0h8m16-3h8m8 4h8m-4 0h8m-5 0h8m-201 13h8m-6-2h8m-1 1h8m-7-1h8m-8-2h8m-7 1h8m8 4h8m-7 0h8m-2 0h8m-5-1h8m7-3h8m-1 3h8m-2 1h8m14-6h8m1 1h8m-4 4h8m0-1h8m-6 0h8m-8-6h8m-1 0h8m8 7h8m14 2h8m0-7h8m10 0h8m-7-1h8m2 7h8m-7-7h8m-8 4h8m-7-1h8m-8-2h8m-212 17h8m16-1h8m-1-2h8m-3-5h8m-6 0h8m8 5h8m-8-4h8m-3-2h8m-6 2h8m-6 7h8m19 0h8m3-6h8m8 3h8m-5 1h8m-4 2h8m-8-6h8m-8 3h8m-6-6h8m21 9h8m-5-5h8m0-4h8m-7 6h8m-6 1h8m-6-2h8m-3-1h8m0 0h8m-8 3h8m-6-4h8m-3-3h8m-4 6h8m-8-4h8m-1 1h8m-199 8h8m-8 5h8m-5 2h8m-8 0h8m-7-1h8m-6-3h8m-5 1h8m-5-5h8m-5 8h8m5 1h8m-6-1h8m-3-8h8m-4 0h8m-5 3h8m-7 6h8m-7-5h8m1 0h8m-8 0h8m-6 4h8m-6-6h8m1-1h8m6 8h8m4-4h8m-6-1h8m-6 0h8m-7 3h8m4 0h8m-7-6h8m-8 3h8m-1 2h8m-7 0h8m-5 3h8m1-2h8m2-7h8m1 3h8m7 6h8m0-7h8m-5 5h8m-5-3h8m-7-1h8m-5 3h8m-3 1h8m-2-3h8m-203 8h8m-4 7h8m-4-7h8m12 4h8m-7-2h8m0 5h8m7-8h8m-4 2h8m-8-3h8m-6 2h8m6 5h8m-5-3h8m-5-4h8m9 6h8m4 1h8m5-3h8m0 4h8m-6-5h8m7-2h8m-3-1h8m9 1h8m-5-1h8m9 0h8m-2 3h8m-6 1h8m-3-2h8m-221 12h8m-4-3h8m0 5h8m-6-5h8m-7 8h8m-6-7h8m-4-1h8m9-1h8m-6 9h8m-7-1h8m9-1h8m24-6h8m-1 5h8m-1 1h8m-8-1h8m-6-3h8m-5 3h8m-5-3h8m-4-2h8m-4 2h8m-3 4h8m-1 1h8m5-1h8m-6-1h8m-7-4h8m3 7h8m-3-5h8m-3-3h8m-4 1h8m-8 7h8m-6-2h8m-1-1h8m-2-4h8m1 0h8m-2-1h8m-3 1h8m-7-1h8m-209 17h8m-6 0h8m-8-8h8m-4 0h8m-7 0h8m-3 1h8m2 8h8m-7 0h8m23-1h8m-5-5h8m6 5h8m25 1h8m-6 0h8m0-9h8m-2 7h8m-7-3h8m-1 2h8m10-2h8m-5 3h8m0-4h8m-6 2h8m10-2h8m-5-3h8m-6 3h8m-3 4h8m-8 2h8m-5-6h8m-7 4h8m-6 1h8m9-4h8m-232 14h8m5-7h8m-7 2h8m-5-1h8m2-2h8m-8 0h8m-2 8h8m-4 0h8m12-8h8m-5 3h8m23 4h8m-6 0h8m-6 1h8m-2-6h8m9-2h8m26 4h8m0 0h8m17-3h8m-4-1h8m12 7h8m3-1h8m-7 3h8m-5-4h8m-232 6h8m-7 4h8m-5 4h8m-7-5h8m-3-4h8m-6 2h8m-8 6h8m-4-3h8m-8 4h8m-4-5h8m-8-2h8m37 6h8m26 0h8m5 0h8m-6-7h8m-4 5h8m-5-3h8m0 3h8m5-2h8m-1-1h8m-5 5h8m1-8h8m-8 8h8m7 1h8m25-6h8m-219 16h8m2-3h8m-4 2h8m-7-3h8m-7 1h8m-5 2h8m5-1h8m-7-2h8m-7 4h8m-5-9h8m-3 4h8m-8 5h8m-8-7h8m-7 3h8m-6-2h8m0 6h8m11-3h8m4-2h8m10-4h8m7 0h8m9 0h8m-6 4h8m-3 4h8m-2 0h8m-6 0h8m3-1h8m-4 0h8m15-5h8m-5 5h8m-4 0h8m-2-3h8m0 2h8m-3-2h8m13 4h8m-242 4h8m-5 4h8m-1-1h8m1 2h8m7-7h8m-6 2h8m-2-2h8m12 6h8m-6-6h8m-7 8h8m-5-8h8m-6 8h8m-1-1h8m-4 0h8m-7 1h8m-6-1h8m-5-7h8m-8 1h8m6 5h8m-7-5h8m1 7h8m-7-6h8m7 6h8m1-2h8m-1-5h8m-7 6h8m-7-2h8m-8 2h8m6-2h8m6-2h8m5 5h8m21-7h8m-7 1h8m12 7h8m-245 9h8m86-2h8m-3-6h8m3 2h8m24 6h8m-5-8h8m-7 2h8m-4-2h8m-2 4h8m6-2h8m5 0h8m-7 1h8m18 2h8m-8-2h8m-7 3h8m4 3h8m-5 0h8m3-7h8m-6 5h8m-4-4h8m-164 8h8m15 6h8m5-4h8m4 0h8m2 4h8m-6-4h8m11-3h8m7 0h8m-6 3h8m0-2h8m-6 8h8m-2-3h8m-6-6h8m-5 4h8m2-4h8m5 3h8m4 6h8m-167 10h8m-4-7h8m24-2h8m0 0h8m-7 2h8m18 1h8m-4-2h8m11 1h8m26-2h8m-5 3h8m-5-2h8m-131 18h8m0-8h8m9 0h8m31-1h8m8 6h8m-7-6h8m9 0h8m2 6h8m-6-2h8m9 2h8m4-1h8m-6-1h8m-2-2h8m-185 12h8m56-1h8m-7 5h8m11-6h8m13 7h8m3-5h8m63 5h8m-197 3h8m49 5h8m10 2h8m0-2h8m6 0h8m7 2h8m0-2h8m-6-5h8m3 5h8m29-4h8m-6-1h8m-6 5h8m11-6h8m-4 1h8m-90 14h8m1-5h8m-4 3h8m-5-4h8m1 0h8m4 4h8m9 0h8m-4 4h8m-1-1h8m16-5h8m-206 13h8m56 4h8m6-5h8m15 2h8m8 3h8m-5-6h8m-2 0h8m-7-1h8m-7-2h8m-8 1h8m20 7h8m-4 1h8m20-2h8m-8-5h8m-165 9h8m-4 7h8m30-8h8m-4 9h8m-4 0h8m23-1h8m7-1h8m-1-5h8m10 4h8m-3-5h8m2 1h8m0 0h8m-6 0h8m5-2h8m-4 6h8m-6 3h8m-7-9h8m-7 9h8m-5-7h8m-7 1h8m-210 11h8m50-1h8m-5 6h8m9-9h8m10 8h8m-6-8h8m7 6h8m3-1h8m-6-2h8m-6 6h8m-6-9h8m-8 4h8m-4 2h8m-2-5h8m-6 4h8m2-4h8m0 5h8m-7 2h8m-3-2h8m4-4h8m-5-1h8m-6 2h8m1 3h8m-3-2h8m-2-3h8m-217 12h8m24-3h8m-3 6h8m24 3h8m1-8h8m25-1h8m2 1h8m-4-1h8m-6 9h8m-4 0h8m16-8h8m-4 6h8m-6 2h8m-3-6h8m-5 1h8m-4 5h8m0 0h8m0-2h8m-7-1h8m7-4h8m-6 4h8m-204 10h8m34-1h8m41-5h8m15 4h8m0 4h8m9-3h8m-5-5h8m5 7h8m-6 0h8m14-5h8m6-2h8m-5 2h8m1 5h8m-190 10h8m12 0h8m-6-7h8m-1 2h8m-4 1h8m-5-1h8m34 1h8m1 0h8m4 5h8m-5-7h8m18 7h8m-4-8h8m-2 1h8m-7 1h8m-4 4h8m1 1h8m9-6h8m-1-1h8m-2 0h8m-193 10h8m26 0h8m2 2h8m0-2h8m3 3h8m48 1h8m12-3h8m17-1h8m-7 9h8m1-4h8m-4-1h8m2 1h8m-185 10h8m38-4h8m-4 4h8m-7 3h8m-1-6h8m28-2h8m16 3h8m-5 6h8m-7-4h8m-1-2h8m-4 5h8m3-3h8m-6-1h8m-5 3h8m-1 1h8m-6-6h8m3-2h8m0 5h8m-152 14h8m-5 0h8m-7 0h8m1-4h8m27-3h8m10 3h8m-4-2h8m1 0h8m-5 4h8m-4-5h8m2 5h8m2-7h8m-2 3h8m10 0h8m-115 9h8m-6-1h8m26 7h8m-2-1h8m-4-6h8m-7 1h8m-3 0h8m-5 5h8m18 2h8m-8-3h8m-1-5h8m-6 0h8m-2 7h8m-4-6h8m-8 6h8m9-2h8m-7-5h8m3 8h8m-108 5h8m17 0h8m1-1h8m5 3h8m-5-3h8m-4 1h8m-6-2h8m17-2h8m-7 9h8m10-1h8m-117 7h8m37-2h8m-6-3h8m-4 1h8m-3 7h8m-3-7h8m13 8h8m5-5h8m7 3h8m-77 9h8m4-1h8m7 3h8m-104 2h8m38 4h8m36-2h8m-2 1h8m-7 1h8m-2-4h8m-2 2h8m11-1h8"/><path stroke="#1e1e60" d="M2302 2086h8m47 0h8m-5 2h8m-5-7h8m-55 15h8m16-4h8m-2 0h8m-6 0h8m-8-2h8m8 6h8m-74 7h8m6 2h8m-3 2h8m-3-6h8m-1 8h8m11-9h8m-4 0h8m3 9h8m-6-1h8m-79 8h8m-4-1h8m9-5h8m22 7h8m2 2h8m-69 8h8m-4-2h8m-6-3h8m37 3h8m-6-2h8m-8 2h8m14 0h8m-5 2h8m-6 0h8m-75 6h8m-8 2h8m-4 4h8m-3-3h8m-6 0h8m31-3h8m-8 4h8m-4-1h8m13 3h8m-6-4h8m-7-2h8m-95 15h8m-1 0h8m0-4h8m4-4h8m6 1h8m-7 3h8m-4 0h8m-3 3h8m16 2h8m-5-8h8m-4 8h8m0-7h8m-95 12h8m-1-3h8m-4-1h8m3 7h8m-6 0h8m-1-3h8m-1-2h8m13 5h8m-5 1h8m-3-5h8m2 4h8m-83 7h8m4-2h8m-8 2h8m-7 5h8m-7-2h8m21-3h8m13-2h8m-5 4h8m16-5h8m-7 2h8m-130 12h8m27-4h8m-4 0h8m7 0h8m6-1h8m40 1h8m-89 13h8m-5 5h8m-7-7h8m6-1h8m12 5h8m-3-6h8m10 3h8m-3-2h8m6 3h8m9 2h8m-118 7h8m2 6h8m-6-7h8m11-1h8m-8 4h8m38 2h8m29-4h8m-113 15h8m-4-5h8m-6 5h8m-4-2h8m-4-5h8m9 7h8m18-4h8m4 1h8m13 3h8m3-4h8m-115 9h8m2 1h8m-8 0h8m15 5h8m29-5h8m-5 5h8m-7-1h8m18 1h8m3 0h8m-5-2h8m-107 5h8m16 0h8m-6 4h8m-7 1h8m31-3h8m7-1h8m-101 12h8m-4-1h8m3-2h8m17 4h8m15 1h8m-1-7h8m5 5h8m5-2h8m14 3h8m-106 13h8m-2-6h8m32 4h8m18-6h8m18 3h8m3-4h8m-5 8h8m-124 9h8m2-2h8m-4-4h8m-1 1h8m-7-2h8m-3 0h8m21 2h8m5 0h8m7-1h8m-2 8h8m28 0h8m-144 1h8m-7 3h8m-2 2h8m-5-1h8m-3 0h8m-8-4h8m10 5h8m19 2h8m-6 0h8m0 2h8m5-7h8m-4 5h8m-1-5h8m0 3h8m-6 1h8m1-4h8m-4 4h8m-83 9h8m4 0h8m-6 4h8m3-5h8m40 2h8m8 1h8m-241 12h8m103-5h8m-7 1h8m-7 2h8m-3-7h8m-1 6h8m-7-6h8m-6 5h8m-6-4h8m-4 8h8m2-9h8m-6 8h8m-7 1h8m5-8h8m-4 3h8m-7-2h8m8 4h8m-1 0h8m-4-4h8m45 3h8m-152 12h8m16 2h8m7-3h8m-7-4h8m-4 2h8m-6 0h8m38-1h8m-2-2h8m-6 1h8m0 5h8m1-5h8m-7 5h8m-5-7h8m1 0h8m15 2h8m-230 17h8m61-6h8m-3-1h8m1 5h8m-2-5h8m0-2h8m10 3h8m0-3h8m31 0h8m10 5h8m30-1h8m3 2h8m-209 5h8m38 3h8m-5-3h8m1 0h8m9 2h8m-5 0h8m6 3h8m6-4h8m4 3h8m2-5h8m26 5h8m-7-5h8m-5 1h8m11-1h8m-158 10h8m-2 9h8m-7-1h8m0 0h8m9-7h8m13 1h8m-8 1h8m-154 9h8m88 0h8m-5 0h8m-4 6h8m7-7h8m-3 8h8m31-5h8m26-4h8m45 5h8m-131 6h8m-5 6h8m-8-7h8m-6 2h8m-2 6h8m-4-2h8m2-4h8m-6 5h8m4-5h8m11 1h8m3 4h8m18-6h8m-4 5h8m4-3h8m5 5h8m6-7h8m-4 5h8m-180 6h8m-5 7h8m-6-4h8m-6-2h8m0 0h8m7 5h8m-2-1h8m4-2h8m-4-2h8m21 0h8m4 0h8m0 1h8m9 5h8m-7 0h8m0-9h8m-3 4h8m2 5h8m18-6h8m0 0h8m-271 10h8m64 2h8m-1 2h8m16-2h8m12-2h8m-8 0h8m-4 0h8m6 5h8m1-1h8m29 0h8m-7-5h8m-5 4h8m0-3h8m41-2h8m-180 15h8m33 3h8m3-6h8m-4 6h8m-7 0h8m11-2h8m5-3h8m11 0h8m-5-4h8m5 7h8m10 2h8m10-3h8m-7 3h8m7-5h8m-4-3h8m2 3h8m-330 6h8m121 7h8m5-3h8m-4-2h8m-4 3h8m5 0h8m16-2h8m3-3h8m-3 4h8m-5-1h8m-4 1h8m-2 5h8m-4 0h8m5-1h8m-1-7h8m-2 2h8m3 2h8m6-1h8m10 3h8m-2 1h8m-5-2h8m-195 8h8m3 1h8m18 0h8m3-3h8m5-1h8m0 2h8m3 5h8m-2-5h8m-4 5h8m26-7h8m27 6h8m-5-3h8m9-1h8m11-2h8m-6 2h8m-3 6h8m0-7h8m-5 4h8m-7-6h8m-227 17h8m0-3h8m-5 1h8m-3-3h8m1 7h8m-3-8h8m-2 1h8m4-2h8m4 3h8m-8-2h8m7 8h8m-5-2h8m-1-2h8m1 3h8m8 0h8m-8-3h8m33 1h8m9 1h8m2-2h8m3 3h8m18-7h8m-214 16h8m-7 2h8m-7-2h8m-6-5h8m-7 1h8m-7-1h8m-6 1h8m-6 5h8m11-8h8m32 6h8m10 2h8m22-5h8m4 5h8m-6 0h8m-7-8h8m-7 9h8m41-5h8m6 4h8m-7-2h8m-4 2h8m-290 8h8m74-3h8m27 6h8m-8-4h8m0 2h8m7-3h8m4-3h8m12 5h8m7-3h8m12 5h8m-3-3h8m3 4h8m1 0h8m19 0h8m14-7h8m6 1h8m-222 14h8m-2-4h8m31 1h8m1 2h8m0-2h8m13 1h8m5 0h8m-5-5h8m-5 0h8m37 0h8m11 7h8m-6 2h8m3-9h8m-3 9h8m3-7h8m0 6h8m-5-3h8m1-1h8m-274 14h8m36 1h8m4-3h8m16-1h8m19 1h8m-5-6h8m-3 2h8m-8 0h8m14 7h8m12-4h8m-1-4h8m0 7h8m2-4h8m6-2h8m0 5h8m8-4h8m6 3h8m-8-5h8m1 1h8m-3 3h8m-273 11h8m54-3h8m1-2h8m-1 1h8m-8 6h8m19-5h8m3 4h8m1 0h8m-1 0h8m-3-6h8m-5 6h8m-6-5h8m1 6h8m24-2h8m-8-5h8m-4 8h8m-5-9h8m4 2h8m18 4h8m17-4h8m6 0h8m-7 1h8m-3 6h8m13-2h8m-188 12h8m-1-9h8m24 2h8m-5-1h8m-8 0h8m7-1h8m3 9h8m8-2h8m-6 1h8m9-3h8m-1 4h8m-5-6h8m-7-3h8m1 3h8m-1 0h8m0 2h8m0-2h8m9 6h8m-7-6h8m-111 13h8m12-6h8m-3 2h8m-2 5h8m1 1h8m-8-4h8m5-3h8m-1 4h8m-3-1h8m-4-2h8m26-1h8m-6 5h8m4-1h8m-200 8h8m4 6h8m46-6h8m-6-3h8m-8 4h8m-7 1h8m8 1h8m4 3h8m-2-1h8m2-3h8m-7 1h8m-1-3h8m1-2h8m-3 8h8m-4-8h8m-7 7h8m-5-7h8m15 2h8m-3 3h8m-5-4h8m-5 2h8m-7 3h8m-6-2h8m-4-4h8m-128 12h8m-3 6h8m-4-4h8m27-3h8m-1-1h8m-4 1h8m5 7h8m-6-5h8m-5-1h8m4 5h8m5-1h8m-6-7h8m-2 0h8m5 9h8m-6-6h8m-5 2h8m3 0h8m-6 3h8m-437 11h8m247-6h8m38 5h8m-1-8h8m6 3h8m30 5h8m-5 1h8m3-9h8m-8 2h8m10 7h8m-4-3h8m-7-5h8m17 7h8m-376 4h8m188 2h8m7 2h8m10-3h8m-6 1h8m8 0h8m0 3h8m-5 2h8m24-4h8m6-1h8m0 3h8m12-2h8m-2-4h8m1 4h8m-5-2h8m10 2h8m1 3h8m-365 4h8m193 7h8m29-8h8m16 4h8m2 3h8m-1-8h8m29 7h8m-8-3h8m-6 1h8m0-4h8m-1-1h8m-3 9h8m0 0h8m-5-8h8m-6 0h8m-5 0h8m-177 17h8m13-3h8m-1 0h8m-5-2h8m-6-1h8m15 5h8m-2 2h8m-1-3h8m11-5h8m-6 8h8m17-3h8m2-3h8m6-3h8m-5 5h8m-6-4h8m7-1h8m0 4h8m-7-3h8m5 1h8m-4 1h8m-493 14h8m70-1h8m210 1h8m29-2h8m13 0h8m0 0h8m-1 1h8m-6 2h8m12-7h8m-2 1h8m2 6h8m-6-7h8m6 4h8m15-1h8m-8 0h8m15 0h8m-3-1h8m0 0h8m-170 7h8m13 6h8m11 3h8m-4 0h8m12-4h8m-4-5h8m4 4h8m0 4h8m0-6h8m-6 3h8m20 1h8m-5 2h8m8-2h8m6-5h8m-471 16h8m306-5h8m14 7h8m8-4h8m17 2h8m16-7h8m28 3h8m-7 3h8m-6-5h8m15 7h8m7-2h8m-6-2h8m-7 0h8m-219 6h8m26 7h8m16-4h8m5 1h8m-3-1h8m15 6h8m14-9h8m0 6h8m-3 3h8m14-5h8m-8 5h8m25-3h8m5 0h8m-127 8h8m-5 2h8m-7-2h8m1 4h8m1 1h8m-2-1h8m-5-6h8m1 1h8m19-2h8m2 6h8m24-2h8m-132 10h8m8-2h8m1 2h8m-2-3h8m-3 1h8m3-3h8m-4 1h8m-7 1h8m-7 6h8m-6-3h8m11-1h8m1 5h8m1-4h8m-6-5h8m-6 4h8m-6 4h8m17-1h8m-5 0h8m0-1h8m-6-4h8m-1 7h8m-529 8h8m332-6h8m11 7h8m-5-5h8m0 2h8m-3 4h8m30-2h8m-1-5h8m-6-1h8m-6 1h8m9 5h8m-4-5h8m0 2h8m33 2h8m-5 3h8m14-7h8m-4 2h8m-4-2h8m-7 7h8m-150 2h8m-7 5h8m-7-1h8m-1-5h8m15 3h8m13 2h8m10-5h8m2 2h8m9 3h8m-6-2h8m23-2h8m-1 3h8m-3-2h8m-136 9h8m6 4h8m3-4h8m-2 6h8m-5-6h8m-3 6h8m-7-4h8m44 4h8m8-6h8m1 1h8m-135 16h8m12 0h8m-6 1h8m20-8h8m2 3h8m10-3h8m14 1h8m7 5h8m-6-5h8m2 7h8m-8-2h8m-4-6h8m-6 2h8m-117 13h8m0-2h8m11 2h8m4-3h8m3-3h8m0 7h8m15 2h8m0-8h8m-7 0h8m10 3h8m-7 2h8m-132 13h8m35-6h8m2 1h8m3 5h8m-4-5h8m-7-3h8m-5 1h8m4 4h8m-8-6h8m-6 7h8m14-6h8m-5 6h8m-4-3h8m-7 3h8m1 2h8m-124 8h8m18-6h8m-1 7h8m8-6h8m12 3h8m11-2h8m-8 1h8m22-4h8m-1 0h8"/><path stroke="#9cc4e4" d="M2283 2111h8m-7 6h8m-7 1h8m-15 7h8m1 2h8m-16 9h8m-8-1h8m2 3h8m-20 11h8m-7-7h8m-8-2h8m-14 13h8m-6 1h8m-7-4h8m3 8h8m-7-3h8m-25 13h8m-7-7h8m-7 6h8m-18 7h8m-4-2h8m-5 4h8m20-5h8m-43 14h8m-5 3h8m-7 1h8m12-9h8m-34 13h8m-8 15h8m-7 1h8m-4-7h8m-17 13h8m-7-2h8m30 2h8m-56 10h8m-6-3h8m-7-2h8m-5 2h8m4 5h8m4-6h8m-45 16h8m-8 2h8m-7-5h8m0-3h8m19 1h8m-7 6h8m-5-7h8m-3 1h8m3 2h8m120 2h8m-200 7h8m-6 3h8m-6-1h8m-7-1h8m-8 4h8m20 0h8m2-4h8m130 0h8m-202 13h8m-3 1h8m-8-1h8m10-6h8m66 6h8m31 1h8m-8-5h8m36 1h8m6 2h8m-3 1h8m12-6h8m-235 16h8m-3-3h8m-8-3h8m-7 3h8m-8 0h8m5 4h8m32-1h8m4 2h8m15-2h8m39 1h8m34-3h8m-1 1h8m22 0h8m8 0h8m-257 12h8m-3-2h8m0-5h8m3 3h8m20-3h8m4 3h8m-5 3h8m3-7h8m43 3h8m29 2h8m-189 10h8m-5 3h8m-5-6h8m-6 5h8m-3-6h8m-7 3h8m-8 2h8m-5-6h8m-7 2h8m-7-1h8m-1 3h8m13 3h8m32-3h8m10 2h8m-2-2h8m13 5h8m13-1h8m0-6h8m73 0h8m-253 17h8m-8-3h8m-7 0h8m-7 2h8m-6-8h8m-8 4h8m-8-4h8m-5 0h8m48 0h8m24 7h8m-6-2h8m25-3h8m75-2h8m35 6h8m-273 10h8m-4-6h8m-7 8h8m31-4h8m3-2h8m0-1h8m32 0h8m-7 5h8m17-5h8m8 7h8m25-2h8m-197 7h8m-6 3h8m-8 2h8m-5 0h8m-6-3h8m10 4h8m57-6h8m5 1h8m-6-1h8m84 6h8m-189 9h8m2-6h8m10-2h8m28 9h8m7-7h8m52 3h8m37-1h8m2-4h8m-2 3h8m35 6h8m-272 2h8m-4 8h8m-6-9h8m19 0h8m73 6h8m61-4h8m99-2h8m-7 8h8m5-3h8m0-5h8m-330 19h8m-7-4h8m-5-4h8m-8 8h8m-8-8h8m-7 6h8m19-7h8m43 5h8m55 3h8m6 1h8m6-2h8m41 2h8m43-8h8m-3 4h8m7 0h8m24 4h8m-339 10h8m4-5h8m14-4h8m0 4h8m35-1h8m49-2h8m33 6h8m5-5h8m23-1h8m-7 7h8m36-4h8m-283 14h8m-6-6h8m-6 6h8m35-1h8m1-3h8m20-3h8m75 4h8m5 3h8m80-2h8m-2 3h8m6-2h8m-310 12h8m6-8h8m16 3h8m54-1h8m49-3h8m35 7h8m-6-5h8m-2 4h8m36 1h8m2-4h8m8 0h8m3 3h8m2-2h8m-4 4h8m25-6h8m-341 13h8m-2 0h8m28-5h8m63 8h8m16 0h8m-7-7h8m11 1h8m15 1h8m-5 5h8m-3-7h8m61 0h8m-4 1h8m-273 8h8m-2 3h8m70 3h8m-3-6h8m12 4h8m17 5h8m17-7h8m48 6h8m33-1h8m1-6h8m-280 18h8m-8-4h8m-7 0h8m20-2h8m16 3h8m3-1h8m97-3h8m39-1h8m5 1h8m-5 5h8m40 1h8m81-6h8m-384 16h8m-5-1h8m-4-6h8m-8-1h8m-7 2h8m3 1h8m51 3h8m216-3h8m1-3h8m3 6h8m-338 13h8m33-1h8m11-4h8m27 5h8m16-1h8m3-7h8m-6 6h8m25-7h8m2 0h8m-2 9h8m6-9h8m35 5h8m-246 6h8m-7 5h8m-5-6h8m-8 5h8m-5-4h8m41 8h8m46-4h8m-5-4h8m8 0h8m6 6h8m20-2h8m-1-2h8m22-3h8m62 5h8m33 1h8m27 3h8m-3-4h8m-373 9h8m-6 2h8m-7-1h8m-8-2h8m-7 0h8m1 3h8m14 0h8m10 0h8m10-3h8m47 5h8m87 0h8m39-5h8m-7 1h8m-284 15h8m-5-7h8m110 7h8m-8-5h8m29 4h8m5-2h8m-5 1h8m-6-1h8m-5-2h8m23 5h8m56-8h8m0 0h8m14 3h8m-313 15h8m-7-4h8m-5 1h8m-7 2h8m10 0h8m11-8h8m3 7h8m14-2h8m17-5h8m47 8h8m5-3h8m-7-3h8m-2 2h8m-6-1h8m-4-2h8m-5 4h8m-8-1h8m124-4h8m-331 17h8m-7 0h8m-4 0h8m-7 0h8m-8-2h8m-6-5h8m-8 9h8m11-6h8m9 3h8m29-2h8m44 5h8m21-3h8m-1-4h8m-6 6h8m-2-7h8m-6 7h8m-3 1h8m4 0h8m-3-2h8m-170 7h8m-4 0h8m84 5h8m-1-7h8m-3 3h8m2-3h8m-4 5h8m-4-7h8m-5 1h8m-6 5h8m-6-4h8m-7 2h8m-2 1h8m-7-1h8m-7 0h8m-1 3h8m-7 2h8m-5-9h8m-6 4h8m-8 4h8m-7-3h8m-216 9h8m-2 1h8m-7-5h8m-5 1h8m34-1h8m11 6h8m-6-1h8m-5-4h8m11 7h8m22 1h8m51-4h8m-8-1h8m-8 5h8m5-3h8m-5 1h8m-7-3h8m-8 5h8m-6-4h8m-7-4h8m-217 9h8m-3 5h8m10-4h8m-5 2h8m99 6h8m52-9h8m-5 5h8m7-4h8m-6 2h8m-221 13h8m-7-6h8m20 2h8m31 3h8m21 3h8m-5-2h8m27 0h8m-157 12h8m-6-3h8m0 0h8m-5-4h8m171 5h8m-196 11h8m-7-4h8m-7 2h8m8 1h8m19 0h8m-1-5h8m25 7h8m10-7h8m52 8h8m34-8h8m-233 17h8m-6-1h8m3-7h8m-7 2h8m79 6h8m68-8h8m37 7h8m-233 7h8m-3 1h8m-3 2h8m-7-1h8m-7-6h8m130 2h8m-177 16h8m7-3h8m-7 2h8m-6-6h8m18 4h8m20 1h8m59-4h8m12 0h8m19-1h8m10 5h8m-210 12h8m-7-7h8m121 2h8m-2 3h8m8-1h8m-171 14h8m-5-5h8m-6-4h8m-6 7h8m-5-6h8m-8 1h8m-5 2h8m30 2h8m-8 3h8m0-6h8m7 0h8m29 6h8m0-1h8m0-8h8m-1 1h8m70 7h8m-148 11h8m27-6h8m-6 1h8m-134 14h8m-4-7h8m-7 3h8m19 3h8m31-2h8m0 4h8m24-3h8m46 2h8m-181 5h8m5-3h8m2 6h8m-5 2h8m15-4h8m16 1h8m11 4h8m55-8h8m-5 7h8m45-3h8m-192 8h8m11-3h8m18 2h8m36 5h8m11-1h8m54-5h8m-166 17h8m47-8h8m72 9h8m-123 3h8m85 7h8m-92 16h8m90 2h8m-177 14h8m48 7h8m-69 5h8m98 4h8m35 2h8m-157 3h8m40 4h8m7-4h8m19 3h8m-54 17h8m26 7h8m-79 10h8m51-1h8m8 1h8m-118 6h8m79-1h8m5 2h8m-65 9h8m-42 22h8m61-2h8m-48 49h8m-46 18h8m-31 43h8"/><path stroke="#c83c9c" d="M2272 2458h8m-3 8h8m-6 1h8m-7-4h8m-3 2h8m-4 1h8m-8-5h8m-5 2h8m1-2h8m-5 0h8m-5 4h8m-7 3h8m0 0h8m-5-2h8m-4-4h8m8 3h8m-8 1h8m-1-2h8m-1 4h8m5 1h8m11-5h8m-1 1h8m-7 1h8m12 3h8m24 0h8m4 0h8m-255 7h8m2-3h8m47 3h8m-7 0h8m-6 1h8m-7 2h8m-6-5h8m-5 5h8m-4-5h8m-8 0h8m-1 2h8m-5-4h8m-5-2h8m-5 8h8m-6-1h8m1-2h8m-6-3h8m15 5h8m-4-6h8m-1 5h8m-8 0h8m-4-2h8m-3-2h8m9-1h8m3 1h8m7 5h8m3 0h8m4-6h8m14 5h8m-8-2h8m-209 9h8m-2-1h8m0-1h8m1 3h8m-1-4h8m12 9h8m0-3h8m-3-1h8m-7 4h8m-2-9h8m-3 9h8m1-7h8m-6 0h8m5 4h8m-6-3h8m-3 5h8m-5-6h8m-6 1h8m-5 6h8m-5 0h8m-6-5h8m-5-1h8m27 0h8m49 2h8m12 0h8m-229 13h8m-5-7h8m-8 8h8m-7-9h8m-5 7h8m-6 0h8m-4-4h8m-5 6h8m-8-1h8m-7 1h8m-7-2h8m-5 2h8m5-5h8m-3 3h8m-6 1h8m-5 1h8m-2-3h8m-8-5h8m-6-1h8m7 5h8m4-5h8m9 5h8m-3 2h8m-7-4h8m16-1h8m-3 6h8m2 1h8m2-6h8m-3 4h8m1-4h8m77 5h8m-315 7h8m46-5h8m1 0h8m-3 4h8m-2 3h8m-7-6h8m-7 1h8m-7 1h8m-3-1h8m6 2h8m-8-1h8m-5 2h8m-2 4h8m-7 0h8m-4-3h8m-7-3h8m-4-2h8m-8 0h8m-1 4h8m-7 3h8m-8-7h8m-6 2h8m-8 2h8m-4-4h8m-4 8h8m3 0h8m4-6h8m-7 6h8m0-1h8m-6-4h8m4 5h8m88-6h8m13-3h8m-288 10h8m42 4h8m-7 4h8m-5-4h8m-6-4h8m-7 0h8m-5 7h8m-7 1h8m-1-6h8m-8 5h8m-6-7h8m-7 4h8m1 5h8m-3-6h8m0 4h8m-4 1h8m-6-8h8m0 5h8m-5-5h8m14 5h8m-4-3h8m8 1h8m7 2h8m-3-1h8m24 1h8m71 2h8m-246 5h8m-4 4h8m0-3h8m5-1h8m-7 4h8m-3-4h8m1 6h8m-6-6h8m-4 5h8m-7-4h8m-6 5h8m-6-1h8m-8-6h8m-3 0h8m-3 6h8m-5-3h8m-2-1h8m-7 4h8m1 2h8m-6-6h8m-7 5h8m-6 1h8m-8-2h8m-6 1h8m-7-2h8m-3-4h8m0 0h8m4 2h8m111-4h8m-268 15h8m1 0h8m0-4h8m-4-1h8m-4 7h8m1 1h8m-5-2h8m-6 1h8m6-5h8m-3 7h8m-7-5h8m-5-2h8m16 5h8m-2-4h8m-6 6h8m-7 0h8m-8-3h8m-4-3h8m10 5h8m-8-5h8m-8-1h8m-5 0h8m-6 3h8m-4 3h8m28 0h8m3-4h8m-7 4h8m10-2h8m11 1h8m37-5h8m26 1h8m-337 13h8m-6-1h8m30 0h8m2-2h8m-7 0h8m-7 0h8m8 0h8m-7-3h8m5 3h8m-2 2h8m-7-1h8m-6-1h8m1-1h8m-2 3h8m-6 4h8m-6-5h8m-5-1h8m-7 0h8m-7-2h8m-7 1h8m-7 5h8m1-1h8m9 1h8m-6-7h8m-1 2h8m-6 2h8m-6-3h8m2 0h8m0 3h8m-7 4h8m-8-1h8m-2-6h8m-5 5h8m-2 0h8m27 3h8m-2-4h8m-5-2h8m51-2h8m-250 11h8m-6 3h8m12 0h8m-6 1h8m-6 3h8m-2-9h8m0 7h8m2 1h8m-4-3h8m-2-1h8m-5 5h8m-4-2h8m-7-7h8m0 6h8m-2-5h8m-7 6h8m-6-7h8m10 0h8m-6 7h8m-6-1h8m-6-5h8m4 5h8m8-4h8m-6 1h8m-1 6h8m19-4h8m-8-3h8m57 4h8m-291 10h8m-5 2h8m-4-7h8m-8 6h8m5 2h8m-5-1h8m19 0h8m3-7h8m-5 0h8m-5 3h8m-7-2h8m-4 3h8m2-4h8m-1 6h8m-6 0h8m0-4h8m-6 1h8m2 0h8m4 5h8m4-2h8m-7 2h8m10-1h8m2-4h8m3 5h8m27-3h8m4 3h8m15-4h8m-8-3h8m2 2h8m-4-3h8m15 8h8m-310 3h8m22-1h8m-6 1h8m20-2h8m-2 1h8m-1 3h8m-4-2h8m-8-1h8m-4 3h8m-7-1h8m-5 1h8m-8 5h8m-6-6h8m-4 2h8m-8 3h8m-4-7h8m-4 7h8m1-5h8m9 1h8m-7 5h8m-6-6h8m9 0h8m-5 2h8m-6-5h8m-4 7h8m-7 2h8m2-4h8m-4 0h8m-5 2h8m7-6h8m-2 6h8m-7 0h8m22 1h8m-2-4h8m-4-3h8m-7 0h8m-2 6h8m-2-6h8m29 4h8m55 3h8m-3-8h8m-363 12h8m-1 7h8m30 0h8m17-4h8m-4-1h8m-8 2h8m-5-6h8m-5 5h8m-8-2h8m-8-1h8m0 5h8m-7 2h8m-2-7h8m-4 5h8m-6-6h8m-2 5h8m3-4h8m-6-1h8m2 4h8m-8 4h8m0-3h8m-8-1h8m0 2h8m-2-2h8m-1-3h8m-4 0h8m-2 1h8m-5-3h8m-3 9h8m9-4h8m-3 2h8m0-6h8m2 7h8m58-5h8m-278 7h8m-3 6h8m10-5h8m-7 6h8m4-2h8m-6 0h8m-5 4h8m-7-5h8m-4-1h8m-5 6h8m-6-1h8m-7 1h8m-7-3h8m-5-2h8m-7 0h8m0-3h8m-8 6h8m-4-5h8m13-2h8m1 7h8m-8-5h8m-5 2h8m-6 4h8m-4-3h8m-1 0h8m-4-3h8m0-1h8m-6 3h8m-7-1h8m-5 3h8m-7-6h8m2 7h8m7-7h8m-1 1h8m-2 2h8m5 1h8m-2-1h8m6-3h8m-4 9h8m-8-4h8m25-3h8m-2-1h8m19 0h8m-4 3h8m-6 2h8m35-2h8m-380 11h8m13 0h8m0-2h8m1-3h8m12 0h8m9 3h8m1 5h8m-6-1h8m-8 1h8m-7-2h8m-6-4h8m-5 6h8m-8-8h8m-6 6h8m9 3h8m-3-4h8m7 0h8m-7 4h8m-3-5h8m3-3h8m-2 6h8m-1-2h8m4-3h8m-6 0h8m-1 5h8m-8-4h8m-5 4h8m-7-7h8m3 3h8m-8 4h8m-7-4h8m7 6h8m-3-4h8m-8 0h8m24 2h8m19-2h8m9 3h8m39-4h8m9 5h8m29-7h8m-412 14h8m-7-6h8m15 3h8m3 3h8m-6-4h8m-4 4h8m-6-5h8m28 5h8m3-6h8m2 8h8m-7-4h8m-5 3h8m-5-6h8m-7 4h8m-7-5h8m8 8h8m-5-4h8m-3 0h8m-4-1h8m-7-2h8m-6 5h8m-7-2h8m-7 5h8m-5-2h8m-3 2h8m-8-3h8m6-6h8m-2 6h8m-4 0h8m-5-6h8m5 8h8m-8 1h8m-5-8h8m-4 2h8m-5 3h8m-7 1h8m12 0h8m-3-2h8m-3 1h8m69 1h8m-402 8h8m-6 4h8m-8-1h8m24-1h8m1-1h8m-5 2h8m-7-7h8m-1 6h8m23 1h8m-6-6h8m11 7h8m-4-1h8m-3 0h8m-2-3h8m15-4h8m4 7h8m-7-2h8m-2 0h8m-6-2h8m-8 3h8m-8 0h8m-5-2h8m-8-1h8m-7 1h8m-8 3h8m-8-5h8m-5 4h8m-7-6h8m-7 0h8m-7 1h8m3 7h8m-3-6h8m-3 1h8m-1 5h8m-4-8h8m-5 7h8m-3 1h8m4-5h8m-5 1h8m-6-4h8m1 8h8m-3-5h8m-6 2h8m-6-3h8m-4-2h8m-1 5h8m-7-5h8m-6 4h8m-5-1h8m-3 0h8m-8 3h8m-5-6h8m-2 3h8m-2 4h8m-4-5h8m-3-3h8m3 9h8m-4-3h8m3 0h8m1-3h8m-6-1h8m-7 7h8m15-7h8m0 0h8m2 5h8m41-5h8m5 5h8m1-4h8m-555 13h8m24-2h8m54 2h8m10 2h8m10-2h8m10-1h8m0-4h8m14-1h8m14 4h8m10 5h8m1 0h8m10-1h8m0 1h8m-7 0h8m-8-7h8m-6 7h8m-7-2h8m-8-4h8m-7-3h8m-7 9h8m-4-8h8m0 5h8m17-4h8m-5 3h8m12-2h8m-1 3h8m-3 0h8m4 0h8m-6-4h8m1 2h8m-1 5h8m-8-8h8m0 1h8m-5-2h8m-1 5h8m-1 4h8m1-9h8m-8 0h8m-6 7h8m-2-1h8m-7 1h8m-6 0h8m-6 1h8m7 0h8m30 1h8m4-7h8m-6 3h8m-8 0h8m-6 2h8m-5-5h8m13 7h8m1-6h8m-2 1h8m-7 0h8m34 3h8m-3-2h8m-572 12h8m-8-2h8m-5-1h8m2 2h8m-5-6h8m-4 5h8m12-1h8m-5-4h8m-3 8h8m-3-7h8m-2 3h8m18 5h8m-7-3h8m15 2h8m8 1h8m14-3h8m5 1h8m-6 1h8m-1-2h8m-4-3h8m28 6h8m-2-2h8m-7-3h8m4 2h8m4 2h8m9-4h8m-5 5h8m-6-1h8m-8 0h8m-3-3h8m-7 2h8m-2 1h8m-7 1h8m4 0h8m-8-1h8m4 0h8m-8 0h8m-7-5h8m-3 0h8m-6-2h8m-7 5h8m-8 1h8m-4-6h8m1 2h8m-5-2h8m-1 5h8m-7 1h8m-7-4h8m-4 5h8m-6 0h8m-4-8h8m14 0h8m-4 8h8m-8 0h8m-5-8h8m-1 1h8m-6 6h8m-6-6h8m4 1h8m-4 5h8m6-4h8m-2 1h8m-3-2h8m-5-1h8m-4-1h8m-6 2h8m1 4h8m-8-4h8m-6 7h8m-7 0h8m-1-6h8m6 1h8m2-1h8m-7-3h8m46 9h8m-541 4h8m-6 4h8m-7 0h8m-4-3h8m5-1h8m0 6h8m19-2h8m5-4h8m26-1h8m26-2h8m16 5h8m22-5h8m-2 1h8m-2 5h8m-2 3h8m3-2h8m0-3h8m-2-1h8m-8 1h8m-6 4h8m-6-6h8m-7 1h8m-7-1h8m-8 3h8m-4 0h8m-8-4h8m-6 0h8m-5 7h8m-7-8h8m-7 4h8m-2-4h8m0 3h8m-6-3h8m-2 7h8m-8-2h8m22 1h8m-7-3h8m-1 2h8m-6-4h8m-7 4h8m-7-4h8m-6 0h8m-7 4h8m-3-1h8m-3 3h8m-6 1h8m0-5h8m-8 1h8m-2 5h8m-7-9h8m0 9h8m-2-4h8m-4 4h8m-2-6h8m-5-2h8m-7 4h8m-5 2h8m-5-7h8m1 6h8m-7 3h8m-7 0h8m-4-3h8m-7-3h8m-4 5h8m-7-4h8m-7 3h8m-7 1h8m-7-4h8m-6 1h8m-5 2h8m-8-2h8m-8-5h8m-5 3h8m2 2h8m-7 1h8m-4 2h8m-2-2h8m-5-2h8m14-3h8m-6 8h8m-7-1h8m-8-1h8m-2-7h8m3 2h8m-2 5h8m-2-7h8m2 6h8m-4 0h8m-4 2h8m-6-7h8m30 4h8m-7 0h8m-559 10h8m-5 2h8m-6-5h8m-8 7h8m-7-6h8m-8 2h8m39-5h8m29 6h8m-4 3h8m-6-2h8m4-6h8m6 8h8m12-3h8m-8 3h8m-5-3h8m13-6h8m23 8h8m13-2h8m-3-4h8m-8 1h8m-3-2h8m7 1h8m5-1h8m0-1h8m-2 4h8m7 4h8m-7-1h8m-6-1h8m-7 1h8m-3-1h8m-6-1h8m-3 2h8m-3 1h8m-5-3h8m-4-4h8m-5 7h8m4 1h8m27-5h8m-2 5h8m-7-7h8m-5-1h8m12 6h8m5-7h8m-5 2h8m-7 5h8m-2 1h8m-1 1h8m4-3h8m-4 0h8m-7 2h8m-2-4h8m-5 5h8m14-2h8m-6-6h8m0 7h8m-6-5h8m-8 5h8m-6-1h8m-7-3h8m34 2h8m2 2h8m15-5h8m-564 16h8m5-8h8m5 2h8m-3 1h8m-2 0h8m-5 5h8m17-5h8m10-1h8m1 5h8m-1-3h8m-3 4h8m15 0h8m5-3h8m5 1h8m-3 0h8m-7-2h8m3-5h8m-2 0h8m-8 3h8m-7 0h8m1-2h8m-5 7h8m-7 0h8m-1-6h8m-3 7h8m-8-3h8m-6-4h8m-5 4h8m-5-2h8m-2 4h8m-8-4h8m-7 0h8m0 4h8m-7-4h8m-7-4h8m-2 4h8m6 1h8m-5 4h8m-5-4h8m-3-4h8m-7 0h8m-3 2h8m-7 1h8m-5-4h8m-1 3h8m4-1h8m-5 0h8m-6-2h8m1 9h8m-5-2h8m-2-6h8m-6 7h8m2-3h8m-2-3h8m-8-1h8m-4 0h8m-2 5h8m-7-6h8m-1 5h8m-5-4h8m-3 6h8m18-5h8m-3 1h8m-3 4h8m-5-6h8m2 1h8m-7 2h8m-5-4h8m-7 1h8m-7 3h8m-7-3h8m-7 5h8m9-4h8m5-2h8m-5 1h8m9 1h8m-8 1h8m-465 15h8m40-8h8m-1 3h8m-6-2h8m7 4h8m11-1h8m12-1h8m30 4h8m18-5h8m-1 5h8m-6-2h8m-6 1h8m-7 1h8m-2 2h8m-7-7h8m-7 4h8m-7-2h8m-6-2h8m-6 4h8m-5-2h8m-8-4h8m-7 5h8m-7-5h8m-7 0h8m3 5h8m-7-2h8m-1 4h8m-8 1h8m-5-1h8m-2-5h8m4 2h8m-6-4h8m-4 6h8m1-6h8m-1 9h8m-8-9h8m3 5h8m-4-4h8m-7 7h8m-2 1h8m-7-2h8m-8-2h8m-7-4h8m5 6h8m-4-6h8m0-1h8m5 0h8m5 0h8m-358 16h8m-7-4h8m22-2h8m-2 7h8m-4-7h8m21 4h8m41 2h8m19-1h8m6 3h8m-3-8h8m0 8h8m-4-6h8m-7 7h8m-6-4h8m-8-4h8m-6 6h8m-5-1h8m-7-5h8m-5 5h8m-7 2h8m-7-2h8m-6-2h8m2-1h8m-3-2h8m-5 7h8m-7-6h8m-6 1h8m40 4h8m-4-3h8m-3 5h8m-7-1h8m-4-3h8m-7 0h8m-7 4h8m-6-3h8m-3-5h8m-5 3h8m6-3h8m-311 11h8m7 0h8m-4-2h8m6 8h8m18-4h8m5 4h8m24-1h8m-8-1h8m25-2h8m-5 3h8m-6-5h8m-5 3h8m15 2h8m-1-3h8m13-2h8m8-2h8m6 4h8m2 4h8m-6-2h8m-3-3h8m-4 2h8m-7-5h8m-8 5h8m-4 4h8m-7-6h8m-5 4h8m-5-4h8m4-2h8m-4 0h8m-285 11h8m-6 2h8m2 1h8m12 0h8m29-4h8m79 8h8m-6-2h8m-7-4h8m-4 5h8m-6-4h8m-8-4h8m-5 3h8m-7-1h8m-7 2h8m-1-2h8m4 4h8m-2-6h8m-2 6h8m-8-6h8m-2 1h8m-3 3h8m-6-1h8m-2 6h8m-4-2h8m-8 2h8m-3-2h8m0 0h8m-8-3h8m-7-2h8m-3 0h8m-5 1h8m-1-3h8m-264 15h8m-7-5h8m-7 1h8m-5-1h8m-8 9h8m-7-9h8m-7 6h8m-3-1h8m-1-5h8m1 7h8m28 0h8m4-4h8m-8 0h8m13 3h8m-4-4h8m-5 7h8m-3-1h8m11 0h8m7-7h8m-5 8h8m-6-3h8m-7-5h8m-7 8h8m-6 0h8m-6-1h8m-7-8h8m-5 1h8m2 4h8m-7-5h8m-2 3h8m1-1h8m-2 1h8m-8 4h8m-3-7h8m-2 4h8m-7-1h8m-7 0h8m-7 6h8m-7-6h8m-2 1h8m-6-1h8m-6-1h8m5 1h8m-6 0h8m-8-3h8m-7 0h8m-244 17h8m15-6h8m-8 0h8m-4 5h8m27 2h8m-6-6h8m10 1h8m-8-2h8m30 1h8m-2 4h8m-8-3h8m-6 4h8m4-2h8m-5-3h8m-3 3h8m-7 4h8m-8-4h8m-7-2h8m-3 1h8m-5-3h8m-5 1h8m-7 0h8m-5 0h8m-2 6h8m-3-2h8m-5-5h8m-7 5h8m1-5h8m-7 7h8m-4-3h8m-8 2h8m-7 1h8m-5-5h8m-3-3h8m-7 1h8m-3-1h8m-8 5h8m-7-3h8m-214 15h8m-8-6h8m9 1h8m2 3h8m9-3h8m0-2h8m15 5h8m2-2h8m-5 0h8m0 6h8m11-9h8m-7 9h8m-6-1h8m-6-6h8m-3 3h8m-7 2h8m-7 1h8m-6-3h8m-7 2h8m-7-2h8m-8-2h8m-6 2h8m-7 4h8m6-9h8m-6 2h8m-7-1h8m-2 8h8m-6-1h8m-4 1h8m-3-1h8m-3 1h8m1-5h8m-3 0h8m-6-2h8m-7 1h8m-5 0h8m-199 10h8m0 6h8m10 0h8m5-3h8m-8 2h8m15-3h8m1-3h8m15 0h8m10 7h8m-6 0h8m-8 0h8m5-8h8m-5 6h8m-1-2h8m2 2h8m-1-7h8m-8 5h8m-4 1h8m-6-4h8m-6 7h8m-2-4h8m-5 3h8m-6-8h8m-1 2h8m-193 11h8m-5-1h8m-7 1h8m-6-1h8m-5 7h8m34-8h8m-2 3h8m-6 4h8m37-1h8m-6-2h8m-6 0h8m-5 0h8m-6 3h8m-7-6h8m-5 4h8m-8 3h8m-2-9h8m-7 8h8m25 0h8m-7-4h8m-7 2h8m-7-3h8m-5-1h8m-174 12h8m-7 0h8m-4 0h8m-4-3h8m0 7h8m2 1h8m12-8h8m12 4h8m-3 2h8m-8-3h8m-4 5h8m5 0h8m-4-1h8m0-4h8m-8 5h8m-7-8h8m-2 6h8m-7-3h8m-5 5h8m-6-3h8m-6-6h8m-5 8h8m-4-1h8m-8-5h8m-3-2h8m5 9h8m-6-2h8m-6-3h8m-6 1h8m-2-4h8m-8-1h8m-2 7h8m-4-1h8m-174 11h8m-6-6h8m-5 8h8m-7-4h8m22-3h8m10 1h8m-2 5h8m5 0h8m-3-8h8m2 6h8m-5 2h8m-7-3h8m-7 1h8m-7 2h8m-8-6h8m-8 1h8m-8 4h8m-3 0h8m-7 0h8m-8-6h8m-8 3h8m-8 1h8m-6 3h8m-4-4h8m-4 3h8m-6 1h8m-8-8h8m-5 0h8m0 2h8m2-1h8m-7 4h8m-4-4h8m-8 4h8m-8 0h8m-6-2h8m-8 6h8m-151 2h8m69 2h8m-5 5h8m-1-3h8m-8 0h8m-7 4h8m-7 0h8m-3-8h8m-5 3h8m-5 3h8m1-7h8m-5 4h8m-5 3h8m-1-1h8m-5-3h8m-7-1h8m-141 16h8m-6-3h8m-5 0h8m-7 4h8m0-4h8m-7-4h8m5 2h8m5 3h8m8 1h8m5-1h8m-2-5h8m-7 5h8m-8 3h8m-3 0h8m-7-7h8m-8 5h8m-3-2h8m-4 2h8m-8-5h8m-7 7h8m-5-7h8m-8-2h8m1 7h8m-2-3h8m-8 3h8m-6 1h8m4-3h8m-3-1h8m-134 9h8m-7 4h8m-8-3h8m-7 0h8m-5-2h8m-6 1h8m-8 5h8m7-6h8m11 2h8m-8 4h8m-5-3h8m7 1h8m-7-6h8m-1 3h8m-7 4h8m-8-2h8m-6 3h8m-5-6h8m-2-2h8m-1 7h8m-3-4h8m-5-2h8m4 8h8m-2-8h8m-6 3h8m-124 13h8m-6-1h8m-7-2h8m-8-1h8m-1 4h8m-5-5h8m1 4h8m0-3h8m-1 6h8m9-7h8m-8-1h8m-7 8h8m-3-5h8m-4-3h8m-1 6h8m-7-1h8m2-1h8m-8 3h8m-6-4h8m-2 1h8m-7-5h8m-8 6h8m-6-1h8m-6-3h8m-6 6h8m-8 0h8m-6-2h8m-7-6h8m-8 3h8m-6-2h8m-6-1h8m-110 16h8m-6-3h8m-7 3h8m24 2h8m0-3h8m-5 0h8m-3-3h8m-6 2h8m-7-2h8m-5-2h8m2 3h8m-7-3h8m-4 4h8m2-1h8m-7-2h8m-6 2h8m-105 15h8m-1-1h8m-7-1h8m-5 2h8m7-2h8m0 2h8m1-1h8m-1 1h8m-7 0h8m0-8h8m-5 0h8m-7 0h8m3 5h8m-2-2h8m-7-1h8m-6-1h8m-8-1h8m-6 8h8m-4-6h8m-96 10h8m-2-1h8m0 1h8m-7-1h8m0 7h8m-5-3h8m-2 0h8m-7-4h8m-8 1h8m-7 2h8m-5 1h8m-3 3h8m-6-6h8m-7 3h8m-8-4h8m-7 3h8m-7-1h8m-6 2h8m-1-2h8m-1 1h8m-7 4h8m-7-3h8m-8 3h8m-3-5h8m-6 6h8m-84 10h8m-4-8h8m-6 0h8m-6 3h8m-6-4h8m-7 5h8m13 2h8m-3-7h8m-4 2h8m-2-1h8m1 7h8m-5-2h8m-4 0h8m-7-4h8m-4 7h8m-73 7h8m-5-6h8m-4 7h8m23-3h8m-6 2h8m-4 1h8m-8 0h8m-8 1h8m-7-8h8m-6 8h8m-4-3h8m-8-4h8m-58 13h8m-7 2h8m-8-3h8m-1-3h8m1 8h8m-3-4h8m-4 3h8m-6 1h8m-8 0h8m-7 1h8m-7-9h8m-2 8h8m-5-6h8m1-2h8m-61 17h8m18 1h8m-2-3h8m-8-3h8m2 2h8m-58 8h8m-2 3h8m-6-4h8m-8 6h8m-4-2h8m-7-1h8m-3-1h8m-2 1h8m-4-3h8m-32 15h8m-4-5h8m-8 3h8m-3-1h8m-8 3h8m-6-4h8m-2 2h8m-6-1h8m-27 8h8m-7 3h8m-6 1h8"/><path stroke="#e8a6c8" d="M2301 2463h8m74 2h8m8 3h8m-142 5h8m4 6h8m2-4h8m52 3h8m-30 3h8m40 13h8m-62 14h8m37-4h8m7 4h8m-91 3h8m8 1h8m22 7h8m-72 1h8m-3 3h8m27 2h8m44 0h8m-8 2h8m-87 3h8m-6 8h8m12-8h8m82 8h8m-117 4h8m-4 3h8m56 1h8m-136 13h8m11-7h8m24 7h8m32-9h8m22 5h8m16 4h8m-205 3h8m30 6h8m18-7h8m-6 2h8m52-1h8m-1 2h8m100-4h8m-195 11h8m15 5h8m67 3h8m59-8h8m-239 13h8m70 4h8m109-3h8m-138 14h8m-2 0h8m140-1h8m-5 1h8m-265 10h8m-5-5h8m22-1h8m57 5h8m0-1h8m-123 6h8m45-2h8m6 4h8m16 3h8m6 0h8m-128 4h8m41 6h8m-178 4h8m10 6h8m45-3h8m139-1h8m11 3h8m-282 9h8m-2 2h8m27 1h8m3-6h8m62 3h8m23 0h8m38 1h8m-211 3h8m8 2h8m-5 6h8m159-5h8m25 5h8m3-4h8m-1 1h8m13-5h8m7 4h8m14 3h8m-295 8h8m103-1h8m8-3h8m-1-1h8m66 7h8m0-5h8m-8-1h8m0 2h8m-6-1h8m-4-1h8m34 7h8m-293 10h8m50 1h8m2-6h8m107 4h8m10-1h8m9-2h8m-6-3h8m-4 0h8m-2 2h8m-2-3h8m10 5h8m44 4h8m-246 9h8m0-8h8m80 1h8m73-1h8m-4 6h8m-1 0h8m9-5h8m12 8h8m-7-3h8m-3-2h8m-1 1h8m-281 12h8m33-7h8m36 0h8m49 7h8m0-2h8m1-4h8m-1 6h8m21-5h8m4 0h8m0 1h8m3 4h8m15-5h8m-290 17h8m24-3h8m19 2h8m66 0h8m-8 1h8m28-3h8m2 1h8m-1-7h8m53 7h8m-2-1h8m3-2h8m-225 9h8m10 1h8m-6-4h8m76 2h8m-3 6h8m5-8h8m42 9h8m31-8h8m-266 15h8m13 0h8m59-2h8m44 3h8m54-1h8m-6-3h8m1 3h8m-120 11h8m-8-3h8m11-1h8m13 0h8m32 4h8m-5-2h8m-200 14h8m-3-6h8m58-3h8m-6 3h8m-7-2h8m3 3h8m3-2h8m24 6h8m7-3h8m16-4h8m-1 5h8m-59 9h8m6 3h8m17-6h8m0 5h8m8-4h8m-170 9h8m36 2h8m15 4h8m4-5h8m2 0h8m-1 0h8m9 5h8m5-5h8m-159 9h8m21 2h8m15-3h8m9 4h8m3 1h8m16 2h8m0-1h8m-5-7h8m-2 4h8m13 3h8m0-5h8m-8 7h8m-65 3h8m1 5h8m-8-5h8m-1 7h8m-2-5h8m-3 2h8m8-3h8m-150 12h8m40 0h8m7-1h8m7 5h8m6-3h8m-7 3h8m-8-6h8m-2-2h8m-3 1h8m26 2h8m-147 12h8m-5-1h8m-1 4h8m-5-5h8m51 3h8m-1-5h8m-7-2h8m-7 8h8m1 1h8m-2 0h8m0-6h8m1-2h8m-125 13h8m-2 2h8m47 2h8m-4-3h8m23 4h8m-3-1h8m2-2h8m-71 10h8m-6 3h8m-7-1h8m24-2h8m-92 8h8m14 5h8m3-2h8m5-4h8m-8 1h8m-6 3h8m16 2h8m-1-2h8m-7-5h8m-90 14h8m60 3h8m6-8h8m-93 17h8m-5-2h8m26-2h8m17 3h8m-38 4h8m15 2h8m-76 10h8m0 3h8m34 2h8m-4-1h8m-39 10h8m-12 14h8m-27 14h8m-4 0h8m-7 0h8m-3 0h8m-17 7h8"/><path stroke="#5a1050" d="M2274 2552h8m-3 0h8m-16 10h8m-43 36h8m6-5h8m-4 5h8m-30 7h8m-28 23h8m-21 5h8m-4 4h8m9-3h8m-3-3h8m-43 17h8m18 1h8m-288 1h8m236 3h8m-5 0h8m-3 4h8m-3-1h8m-39 4h8m61 9h8m-77 4h8m17 2h8m2 1h8m-2-5h8m21 6h8m-107 7h8m3 1h8m-7 3h8m22-3h8m21-2h8m-3 3h8m-4-4h8m16 6h8m-52 9h8m16-5h8m16 2h8m-307 10h8m157 4h8m-2-8h8m-7 1h8m-5 6h8m6-1h8m42-5h8m14 2h8m0 0h8m-280 12h8m-1-1h8m196 0h8m44-1h8m-266 8h8m132 7h8m-10 7h8m-148 5h8m121 9h8m1-6h8m27 4h8m-3-2h8m-3 1h8m-82 15h8m32 3h8m-6-1h8m-8 2h8m-50 5h8m-134 19h8m-1-6h8m84 1h8m2-3h8m-42 17h8m9-1h8m-7 2h8m-7-6h8m-1 6h8m-8-6h8m-5 2h8m22 0h8m-150 14h8m3-1h8m71-4h8m15-2h8m-1 0h8m-50 15h8m12 1h8m-68 15h8m16-2h8m5 17h8m-7-4h8m-55 9h8m-5 1h8m12 3h8m8 1h8m-56 6h8m-38 32h8m18-3h8m-16 11h8m-24 8h8m-7 2h8m-18 7h8"/><path stroke="#8a6a8a" d="M1850 2635h8m-4 2h8m-7-3h8m-5-4h8m-8 8h8m-8-6h8m-7 4h8m-7-4h8m-6-1h8m-7 2h8m-8 1h8m-5 3h8m-8-6h8m-7 3h8m-7-2h8m-3 2h8m-6-1h8m-7 2h8m-4-1h8m-7-1h8m-8 3h8m-8-1h8m-5-1h8m-7-2h8m-5 2h8m-8-2h8m-8 3h8m-7-4h8m-6 6h8m-6-4h8m-8 4h8m-7-2h8m-5-1h8m-6-1h8m-7 2h8m-6-2h8m-7 1h8m-5 1h8m-6 0h8m-6-2h8m-4 2h8m-4 0h8m-6 0h8m-7 0h8m-5-2h8m-7 1h8m-5-2h8m-5 3h8m-4 3h8m-7-4h8m-7 1h8m-5-5h8m-4 0h8m-7 2h8m-7 4h8m-8-3h8m-6 0h8m-6 3h8m-4-2h8"/></g>
<g fill="none" stroke-width="8" transform="scale(.1)"><path stroke="#472d7b" d="M3227 2087h8m42 2h8m5 0h8m-7 0h8m-71 4h8m17 2h8m11 1h8m10 0h8m-7 3h8m-68 3h8m2 6h8m-6 1h8m-7-1h8m-6 0h8m-7-3h8m8 2h8m-4 2h8m20-9h8m-6 1h8m-95 16h8m-4-2h8m5-2h8m6 4h8m4 0h8m-7-2h8m19-5h8m7 3h8m-6 4h8m-81 9h8m-5-5h8m9 7h8m3 1h8m-2-1h8m5-7h8m6 8h8m-6-7h8m-73 14h8m9-5h8m2 2h8m1 4h8m4-5h8m23 7h8m-5-9h8m-5 5h8m-38 7h8m-6-2h8m-2 2h8m-7-2h8m-6 5h8m-8-5h8m4 4h8m-5 0h8m1 2h8m-124 12h8m-2-4h8m23-4h8m-7 4h8m0 1h8m4 0h8m-4 2h8m-8 0h8m-5 1h8m-5-7h8m2 3h8m-3 3h8m-8-3h8m8 3h8m-8-1h8m-4 3h8m-5-7h8m0 5h8m-7-3h8m-4-1h8m-99 12h8m-4-2h8m-3-2h8m3 2h8m-2-2h8m8 7h8m-5-4h8m-5-1h8m6-2h8m1 2h8m6 1h8m-78 9h8m6 2h8m7 0h8m0-5h8m-3 1h8m-7 0h8m-6 0h8m-7 0h8m10 7h8m-5-3h8m-6 2h8m6-1h8m-143 13h8m-6-9h8m33 1h8m-5 8h8m-6-8h8m6 5h8m-5-2h8m-7-2h8m-6-1h8m4 4h8m-5 4h8m-8 0h8m-7-1h8m-3 0h8m15-1h8m-6-4h8m1 0h8m-4-3h8m0 0h8m-138 10h8m36 6h8m-8-2h8m9-3h8m21-1h8m-6 1h8m-5 6h8m12 1h8m2-3h8m4 0h8m-151 6h8m38 2h8m1 1h8m-2 4h8m-5-2h8m-3 0h8m-6 0h8m2 2h8m2 0h8m-6-6h8m-7 6h8m7-6h8m9 1h8m3 2h8m-8-4h8m-7 6h8m-4-5h8m-3 3h8m-109 11h8m21 2h8m-4-4h8m-5 0h8m-1 0h8m-4-2h8m-5-2h8m2 9h8m7-4h8m-3-5h8m-1 8h8m-6-8h8m-5 0h8m5 9h8m-172 2h8m32 2h8m1-2h8m-6-1h8m7 4h8m-8 0h8m-6 5h8m-4-7h8m-2 2h8m-3 2h8m2-6h8m-2 8h8m-5-4h8m-7-1h8m-7-2h8m-5 4h8m-5-3h8m7 6h8m3-4h8m-5 3h8m11-1h8m-8-1h8m-7 1h8m-3 2h8m-5-2h8m-171 4h8m-7 6h8m23-1h8m49 2h8m20-3h8m5-4h8m6 3h8m2 2h8m-6-5h8m-8 1h8m0 5h8m-4 1h8m-192 3h8m-5 8h8m65 0h8m10 1h8m1-7h8m0 4h8m-2-4h8m48 1h8m7 3h8m-2-1h8m-4-2h8m-213 8h8m63 1h8m12 5h8m22 0h8m5 0h8m-8-6h8m2 1h8m5-2h8m8 2h8m-4-2h8m-4 5h8m-4 2h8m1-7h8m-5 8h8m3-5h8m-130 16h8m-7-6h8m-3 6h8m-1-2h8m14-7h8m54 1h8m7 2h8m-8 4h8m-1-2h8m-243 10h8m2-1h8m2 1h8m48 0h8m27-3h8m23 0h8m3 3h8m-2 0h8m8-2h8m-7 6h8m-4-2h8m-7 1h8m-3 0h8m22-3h8m-7-5h8m-230 17h8m117 1h8m19-5h8m8 3h8m-3 1h8m4-7h8m-6 0h8m-6 1h8m-1 1h8m29 0h8m-7 1h8m10 1h8m-2-1h8m-1 3h8m-286 11h8m69 2h8m44-9h8m-4 2h8m25 0h8m-1 0h8m10-2h8m18 1h8m-8 4h8m26-5h8m12 6h8m3-4h8m-293 16h8m-8-5h8m9-2h8m53 4h8m60 1h8m52 0h8m-2-1h8m37-2h8m-8 3h8m8 1h8m6 0h8m-311 9h8m108-4h8m18 1h8m24 4h8m-1-7h8m11 1h8m6 1h8m-4 7h8m-4-8h8m8 1h8m-3 2h8m12 5h8m0-3h8m-280 12h8m160-4h8m4-3h8m-3 4h8m16 1h8m-1-1h8m-5 3h8m-7 1h8m-6-3h8m-2-2h8m38-1h8m3 0h8m2-3h8m-303 17h8m1-7h8m113 0h8m4 6h8m3-6h8m24 5h8m-6-2h8m41 5h8m16-5h8m25-2h8m-166 14h8m46 1h8m-5-4h8m17 1h8m0 4h8m-5-1h8m-3 0h8m0-4h8m-4 2h8m8 0h8m0-2h8m-3 7h8m23-9h8m2 3h8m-241 16h8m46-7h8m11-2h8m23 8h8m-2-4h8m2-3h8m-3 6h8m-5-3h8m-2 3h8m-2-2h8m1-3h8m-1 0h8m12 0h8m6 3h8m11-2h8m7-2h8m-339 16h8m-7-7h8m-7 3h8m-4 0h8m-5 5h8m-8-1h8m7-4h8m-8 0h8m124-3h8m-6 7h8m-5-1h8m33-6h8m2 1h8m14 0h8m-7 8h8m11 0h8m-3-5h8m49 5h8m21 0h8m-357 2h8m-7 6h8m-7-7h8m153 3h8m-8 6h8m-5 0h8m31-9h8m-3 0h8m1 5h8m-3-4h8m-2 3h8m-3 5h8m2-4h8m6 1h8m1-4h8m-7 3h8m-5-4h8m1 2h8m3-1h8m6 3h8m-8-2h8m7-3h8m6 4h8m-353 10h8m62 3h8m19 1h8m-2-2h8m-5 3h8m-7-8h8m32-1h8m11 8h8m-7-8h8m-5 4h8m22-4h8m14 9h8m-7-6h8m-5 2h8m-5-4h8m-4 1h8m-1 4h8m-7-4h8m-1 0h8m-1 0h8m26-2h8m30 4h8m-3 3h8m-2-2h8m-5 3h8m-4 1h8m-357 9h8m-7-5h8m-3 2h8m-7-3h8m60-2h8m84 7h8m21 1h8m30-4h8m0 2h8m0 2h8m-3-7h8m-4 0h8m-4 3h8m4-2h8m19 0h8m17 6h8m-3-3h8m-1 1h8m-8 2h8m-6-6h8m-350 17h8m-6-6h8m23 5h8m30-3h8m19-4h8m30 8h8m40 0h8m-7-8h8m24 1h8m10 5h8m0-6h8m-1 0h8m74 4h8m13 2h8m0-5h8m-376 12h8m-3 5h8m153-8h8m2 2h8m24 2h8m3-2h8m5 3h8m9-1h8m-5 1h8m-3 0h8m31 0h8m-3 0h8m-6-1h8m-6 1h8m-1-1h8m3-5h8m-3 5h8m1-4h8m-3 5h8m22 0h8m-385 11h8m-7-3h8m10 1h8m4-1h8m50 5h8m5-7h8m-6-1h8m41 6h8m9-3h8m-7 2h8m-6-1h8m1-2h8m32 5h8m-6 0h8m9-2h8m20-1h8m5-5h8m-3 6h8m-4-4h8m18-2h8m-6 4h8m6 0h8m3 1h8m-5-4h8m3 1h8m-3 1h8m-381 16h8m5-9h8m104 5h8m5 3h8m10 1h8m23-2h8m-7-2h8m52 4h8m-6-3h8m35 2h8m22-3h8m14-4h8m-8 4h8m-3 4h8m-5-2h8m-4-5h8m-7 0h8m-7 6h8m8-5h8m-7 0h8m9-3h8m-6 4h8m-401 13h8m-5-5h8m-4-2h8m38 2h8m0 7h8m194-1h8m-5-7h8m-8 4h8m16-4h8m23 1h8m10 6h8m-7-3h8m3-3h8m-4 4h8m-3-2h8m2 5h8m-6-3h8m-1-6h8m-4 1h8m10-1h8m-415 16h8m-4-1h8m11-5h8m5 3h8m32 0h8m-4 1h8m79 4h8m-1-8h8m-6 2h8m-6 1h8m17 4h8m29-6h8m7 2h8m5 2h8m-1 0h8m-6 1h8m2-6h8m-6 1h8m8 7h8m20 0h8m-1-1h8m27 1h8m-385 2h8m-5 3h8m25-3h8m30 7h8m0 1h8m63-7h8m-1 4h8m6-1h8m-2-3h8m-6 0h8m-6 4h8m-7 4h8m-5-2h8m7 0h8m-7 2h8m-6-1h8m-4-5h8m-4 4h8m8-6h8m-3 5h8m36-6h8m-1 3h8m27 5h8m7 0h8m9-6h8m11 1h8m-7 2h8m0 2h8m3-7h8m-6 6h8m5 2h8m-7-2h8m-4 2h8m-434 10h8m-6-4h8m-8 1h8m1-1h8m156-2h8m13 4h8m-3-6h8m-8 6h8m-8-1h8m1 1h8m0 0h8m-5-5h8m3 4h8m-6-5h8m19 0h8m26 3h8m7-3h8m-7 0h8m5 3h8m-3 5h8m-6-8h8m3 4h8m14 1h8m3-2h8m-2 5h8m16-1h8m-5-7h8m-2 8h8m-6-7h8m3 8h8m-3-6h8m-7-2h8m-438 16h8m-4-7h8m11 1h8m-6 1h8m39-2h8m15 7h8m63-2h8m-8-3h8m0 7h8m8-2h8m-6 2h8m-3 0h8m-6-7h8m4 1h8m-7 3h8m7 1h8m15-2h8m-7-5h8m2 6h8m33-5h8m-6 3h8m2-4h8m-2 8h8m-6-4h8m5 5h8m3-9h8m-6 9h8m-5-5h8m-3-4h8m2 9h8m17-8h8m1 3h8m3-4h8m-8 9h8m11-5h8m-449 14h8m2-4h8m86-4h8m36 2h8m-5 3h8m-6-5h8m4 9h8m5 0h8m-3-2h8m-3-2h8m-3-4h8m-7 0h8m-3 2h8m-8-1h8m-2-2h8m-1 2h8m2 6h8m0-6h8m-5-2h8m-8 0h8m4 0h8m-6 0h8m4 7h8m1-1h8m-2-6h8m-1 0h8m-7 0h8m11 0h8m5 1h8m-6 5h8m-8 0h8m-6 3h8m-2-2h8m14-2h8m1-4h8m-1 7h8m-7-1h8m-7 2h8m-6 0h8m1 0h8m-1-2h8m10-4h8m-5 3h8m-4 3h8m-4-3h8m18 1h8m2-7h8m-458 19h8m-7-4h8m172-4h8m3 1h8m-3-1h8m2 1h8m-1 0h8m10 1h8m28 1h8m3 5h8m-5-2h8m7 2h8m-2 0h8m-5 0h8m-1-8h8m24 8h8m24-9h8m6 1h8m-5 5h8m8-1h8m-7-4h8m-376 11h8m130 5h8m13-1h8m0-6h8m40 6h8m18 2h8m-4 0h8m-4-3h8m48-5h8m11 9h8m-4-3h8m9-4h8m-5-2h8m-5 7h8m-7-6h8m-8 1h8m-8-2h8m13 0h8m-8 9h8m-2-8h8m-5 2h8m-8 3h8m-4-1h8m-354 13h8m86 0h8m53-6h8m9 2h8m-7-1h8m20 4h8m5 1h8m-4-1h8m32 1h8m0 1h8m0-3h8m-7-5h8m-5 5h8m1-2h8m4-2h8m9 4h8m-3-4h8m-3 1h8m-1 1h8m-1 0h8m-7-1h8m-7 0h8m-2-3h8m-4 0h8m0 3h8m7-1h8m-487 17h8m-7-3h8m-7 1h8m-7-2h8m-6-5h8m-7 6h8m-1-5h8m103 3h8m2 5h8m35 0h8m32 0h8m33-7h8m23 4h8m3-2h8m-7 0h8m5 1h8m38 4h8m12-7h8m-7 6h8m5-8h8m-3 5h8m30 2h8m-8-7h8m7 3h8m-1 0h8m-4 6h8m-1-4h8m-485 14h8m-1-9h8m36 3h8m84 6h8m10-2h8m-1 2h8m-8-6h8m71 6h8m-6-7h8m0-2h8m2 9h8m0 0h8m14-5h8m13 4h8m-7 0h8m-6-2h8m-2-6h8m-3 7h8m-1-5h8m-7 3h8m-5 0h8m46-3h8m2 2h8m0-2h8m23 6h8m-3-6h8m-6-1h8m-5-1h8m-3 3h8m0 4h8m-1-2h8m-5 2h8m-498 12h8m1-8h8m-5 1h8m133 6h8m89-5h8m-4 1h8m-5 1h8m-6 0h8m52 1h8m-8-5h8m-6-1h8m0 1h8m-2 2h8m-2-3h8m2 6h8m8 3h8m15-6h8m-8-1h8m17 7h8m3-9h8m12 6h8m1 0h8m6 3h8m-3-2h8m2 0h8m6 1h8m-5-2h8m-1-6h8m-526 18h8m-1-3h8m-7-3h8m-5 1h8m-7 1h8m-5-3h8m21 3h8m53-1h8m32-2h8m52 6h8m-5 2h8m38-2h8m-8 0h8m1-6h8m18 5h8m3-1h8m-3-1h8m5 2h8m30 2h8m-7 1h8m-2-6h8m10-1h8m9 1h8m4 4h8m-7 1h8m22 0h8m-8-4h8m0 1h8m-7-4h8m6 0h8m-4 3h8m44 2h8m-532 10h8m-8-6h8m-6 2h8m-2-1h8m32 4h8m22 0h8m59-5h8m102 3h8m6 4h8m8-3h8m32 1h8m-1 0h8m7 2h8m-7-4h8m8 2h8m2-4h8m1 6h8m-6-7h8m-8 6h8m-6-6h8m15 6h8m2 3h8m1-8h8m6 3h8m9-3h8m-5 8h8m-6-5h8m8 5h8m-6-7h8m-5 7h8m-8-9h8m-7 9h8m15-5h8m-538 15h8m-1-3h8m5-2h8m7 2h8m118-2h8m53 1h8m3-4h8m11 7h8m-5 0h8m-1-1h8m-7 1h8m5-4h8m2 3h8m28 2h8m-8-8h8m23 8h8m-4-7h8m-2 3h8m-4-5h8m6 0h8m9 9h8m10-8h8m-4 4h8m8 0h8m7-1h8m-8 1h8m12-5h8m0 1h8m-5 8h8m-3-3h8m-7 3h8m-5-7h8m12 0h8m-8 3h8m0-4h8m12 3h8m-545 13h8m-4-6h8m86 5h8m-6-1h8m29-4h8m46-1h8m21 6h8m14 1h8m0-6h8m50 5h8m1-5h8m1 1h8m32 2h8m10-4h8m7 8h8m-1-5h8m-5 1h8m0 4h8m-8-2h8m0 0h8m-5-4h8m-1 7h8m0-9h8m0 9h8m37-8h8m-2 0h8m27 2h8m-556 9h8m11 3h8m146-5h8m-3 1h8m49-1h8m10 6h8m-8 1h8m-6-2h8m48-4h8m-6 0h8m11 8h8m21-2h8m-7-4h8m4 3h8m10-1h8m3-1h8m-5 3h8m-8-5h8m20 7h8m-5 0h8m33-8h8m-3 8h8m-6-9h8m-4 4h8m-8 3h8m-5-2h8m2-2h8m1 1h8m-6 2h8m-6 2h8m-2-7h8m2 8h8m3-6h8m-557 14h8m-4-7h8m4 0h8m13 7h8m3 2h8m30-5h8m18-1h8m91 4h8m24-1h8m-1 2h8m-8-1h8m-6-2h8m5-2h8m38 2h8m5-1h8m2 4h8m82-5h8m3 4h8m-2 2h8m8-9h8m22 8h8m-6-2h8m-5-6h8m11 9h8m-6-5h8m3-2h8m7 0h8m5 4h8m-1 1h8m-7-5h8m3-2h8m-500 14h8m2 4h8m11-5h8m39 0h8m6 3h8m60 1h8m-4-4h8m-3 1h8m-8-3h8m-5-1h8m25 0h8m19 7h8m-4-2h8m5-1h8m-8 2h8m-8 2h8m-6 0h8m6-7h8m0 7h8m18-2h8m20-2h8m17 1h8m-2-3h8m-6-2h8m0 8h8m-2-5h8m1 5h8m-8-4h8m-4-4h8m18 6h8m0-4h8m-5-1h8m2 4h8m-7-2h8m35 5h8m6-8h8m-606 17h8m48-2h8m40 3h8m-2-1h8m18-3h8m6 4h8m87-3h8m5 2h8m0-3h8m-3 1h8m-2 1h8m1-3h8m50 1h8m-5 0h8m-1 0h8m4 3h8m-8-1h8m-1-3h8m9 1h8m2-1h8m2 4h8m15-5h8m-4 3h8m-7 3h8m94 1h8m-5 0h8m0-2h8m7 2h8m7-5h8m13-3h8m-8 1h8m-612 10h8m54 3h8m71 2h8m20 0h8m11-6h8m41 8h8m2 0h8m-7-4h8m20 2h8m21-2h8m12 2h8m12-6h8m11 5h8m-6-2h8m26 2h8m45-5h8m26 8h8m-7-5h8m16 4h8m10-5h8m16 2h8m15-3h8m-7 0h8m-3 2h8m13 1h8m-6-1h8m-610 14h8m-1-4h8m4 5h8m-8-5h8m3 1h8m26-3h8m33 2h8m1-4h8m46 0h8m42 4h8m-7 4h8m-3-4h8m-1 3h8m-5 1h8m-1-2h8m14-2h8m-7-1h8m22 3h8m-1-2h8m37-4h8m-8 5h8m-5-2h8m0 3h8m-4 0h8m-8 0h8m-6-2h8m-7-1h8m8 2h8m-6 3h8m-2-5h8m-3 4h8m3 2h8m19-1h8m-2-6h8m2 0h8m7 3h8m-3-3h8m16-2h8m-8 2h8m5 3h8m-3-3h8m7 4h8m20-3h8m-2 2h8m-5 4h8m21-5h8m0 5h8m-577 1h8m25 8h8m21-5h8m10-3h8m10 3h8m7-3h8m4 7h8m21 0h8m3 1h8m11-6h8m14 6h8m-3-4h8m15-3h8m-6 3h8m16-2h8m-2 6h8m-8-2h8m-6-4h8m1 7h8m7-8h8m-5 5h8m-5 2h8m10-7h8m4 0h8m11 4h8m-3-2h8m-7-3h8m0 7h8m6 2h8m-3-4h8m44-5h8m-4 1h8m18 3h8m22-4h8m53 1h8m-5 1h8m3 1h8m-604 12h8m-7 0h8m18-4h8m-1 0h8m124 2h8m10 6h8m4-3h8m6-6h8m16 5h8m-5-1h8m4 5h8m28-8h8m6 4h8m21-5h8m20 2h8m36 4h8m-8 0h8m-3-5h8m-5 5h8m24-3h8m5-1h8m-459 9h8m87 4h8m4-3h8m-8 6h8m-4-1h8m24-3h8m1 1h8m-1-2h8m15 1h8m-8 4h8m2-7h8m11 5h8m7-4h8m-2 7h8m-6-3h8m46 3h8m13-4h8m-267 9h8m83-1h8m17 6h8m11-2h8m-6 0h8m19 2h8m-2 0h8m43-4h8m-6 0h8m23-2h8m-322 10h8m-5 6h8m-8-9h8m-3 3h8m22 3h8m20-4h8m-5 1h8m74-2h8m16 8h8m0-3h8m-5 2h8m-3-7h8m13 2h8m-5 1h8m22 4h8m-5-6h8m-4 2h8m-256 11h8m-2-2h8m86-1h8m31 1h8m-2 3h8m-1-2h8m-2 1h8m-1-2h8m-6 1h8m12 5h8m-6-4h8m30 0h8m-1-1h8m-7 3h8m-1-2h8m-208 5h8m93 1h8m-1 3h8m-7 5h8m11 0h8m-171 8h8m15-5h8m91 3h8m-5-4h8m4 8h8m-5-1h8m-7-7h8m-2 1h8m-6 3h8m-5 2h8m3 1h8m5 1h8m-6-7h8m-4 6h8m-5-7h8m-6 0h8m-8 8h8m-201 3h8m-4 7h8m10-2h8m-7 1h8m41 1h8m44-4h8m-7 2h8m-4 0h8m-8-3h8m-1-4h8m4 2h8m-5 1h8m16 6h8m-194 9h8m-7-4h8m-2-2h8m-1 2h8m-6 4h8m93-3h8m-1 0h8m-2 4h8m5-9h8m30 0h8m-190 13h8m-5 0h8m-5 3h8m-3-2h8m39-2h8m-7-1h8m31 8h8m14-9h8m-6 6h8m-4-6h8m17 4h8m-8 5h8m-2-2h8m12-6h8m-189 18h8m-2-7h8m48 6h8m26-4h8m1-1h8m-8-1h8m-7 5h8m-7-6h8m-5 3h8m-7-2h8m6 1h8m2 1h8m-1-3h8m1 8h8m-4-6h8m-8-2h8m-7-1h8m-163 14h8m5 5h8m0-5h8m38 5h8m10-2h8m-3-1h8m9-4h8m6 5h8m-7-4h8m-6 6h8m6-3h8m-5 1h8m-1-2h8m-160 12h8m7-4h8m42-1h8m12 2h8m-4 1h8m28 3h8m-3-8h8m6 0h8m-150 17h8m-7 0h8m5-4h8m47 5h8m3-8h8m-1 9h8m2-5h8m12 2h8m-3-4h8m-135 16h8m-2-6h8m0 2h8m1 5h8m2-5h8m15 5h8m-1 0h8m6-9h8m24 7h8m-5-3h8m-122 15h8m-8 0h8m-5-4h8m-6-3h8m4-1h8m17 3h8m3 2h8m-5 2h8m-2-5h8m-2 5h8m-6-6h8m-6 2h8m-6-4h8m-6 5h8m2 4h8m-2-6h8m-5 3h8m-3-2h8m-108 7h8m5-1h8m5 1h8m10 5h8m-7 2h8m12-7h8m-2 1h8m6 1h8m-5 2h8m-81 5h8m-3 0h8m14 0h8m-5 0h8m21 5h8m-5-4h8m-89 17h8m14 1h8m-5-9h8m18 7h8m0-4h8m1 2h8m-28 9h8m-6-1h8m-4 3h8m-8-3h8m-67 15h8m33-2h8m-2-1h8m-5-5h8m-55 10h8m-7 2h8m15 7h8m-7 0h8m2-9h8m-53 12h8m-7 3h8m-1 4h8m-8-5h8m12 4h8m-3-7h8m-7 3h8m1-2h8m-47 17h8m5-6h8m-7-1h8m-24 12h8m-6-3h8m-5 5h8m-1-5h8m-22 13h8m-6-3h8"/><path stroke="#440154" d="M3295 2079h8m-81 6h8m-2 10h8m-2-3h8m-1-1h8m-4 5h8m-1 2h8m18-6h8m-6 2h8m-4 1h8m-68 13h8m-5 1h8m20-6h8m13-2h8m0 6h8m-62 9h8m17 1h8m-36 4h8m-5 3h8m-7 4h8m37-1h8m-6-1h8m3-5h8m-66 10h8m-2 0h8m-2 3h8m2 1h8m-7-2h8m-6-2h8m12-1h8m-5 7h8m20-1h8m-6-3h8m-85 12h8m27 0h8m-5-2h8m-1-1h8m0 5h8m-62 9h8m-7-1h8m6-1h8m-1 4h8m0-2h8m11-5h8m-62 10h8m7 0h8m4 0h8m41 2h8m-7-1h8m-72 8h8m2 0h8m-6 3h8m2 4h8m-2-3h8m-1-3h8m-5 5h8m-6-2h8m-4-2h8m6 7h8m1 0h8m-8-2h8m-4-5h8m-2 5h8m-2 1h8m2-1h8m-101 4h8m-8 3h8m2 2h8m21-6h8m-8 9h8m10-3h8m-3-5h8m0 6h8m15-2h8m-93 10h8m4-2h8m8 0h8m3-1h8m2 6h8m-3 0h8m-6-4h8m-1 3h8m1-1h8m-6-4h8m-92 9h8m0 6h8m48-6h8m13 7h8m-90 5h8m11 2h8m-1 3h8m-1-1h8m-2-4h8m-1 4h8m0-6h8m-7 5h8m12-5h8m-2 4h8m3 2h8m-1-3h8m-90 8h8m-1 7h8m-4-6h8m13-1h8m19 6h8m-4-5h8m-4 5h8m2-1h8m7 0h8m-8 0h8m-116 10h8m6-7h8m1 6h8m11-5h8m-3 6h8m-7 1h8m6 0h8m-3-4h8m10 3h8m0 2h8m7-8h8m-190 16h8m64-5h8m-2-1h8m7 8h8m-2-1h8m-1-4h8m-5-2h8m-7 6h8m25 1h8m-5 0h8m-6-5h8m-2 4h8m-7-8h8m-1 6h8m-6 2h8m-1-8h8m1 0h8m-2 1h8m0 5h8m-195 13h8m85-9h8m-2 8h8m23-4h8m-8-4h8m19 4h8m1 4h8m-1-2h8m-8 1h8m-4 1h8m4-7h8m1 3h8m-98 10h8m-7 0h8m-3 0h8m4 2h8m-6 3h8m4-3h8m14 1h8m-1-4h8m-7 3h8m2-1h8m-2-5h8m-5 6h8m10 2h8m-225 9h8m-2-7h8m67 0h8m-2 1h8m14 8h8m-5-7h8m9 6h8m1 1h8m9-6h8m-6 0h8m1 1h8m-7-4h8m-7 6h8m4-4h8m3 2h8m8 4h8m-1-2h8m-5-6h8m-240 19h8m104-8h8m-5 5h8m-1 2h8m-6-5h8m-8 4h8m0-4h8m-3 6h8m-3-2h8m-4-5h8m-7 5h8m9-5h8m-6 3h8m-7-5h8m-7 2h8m7 5h8m0-4h8m-6 4h8m-4-5h8m1 4h8m4 1h8m9 0h8m-250 7h8m20-1h8m92-1h8m-1 1h8m4-2h8m-7 8h8m3-5h8m-4 0h8m28-3h8m-3 4h8m-4 2h8m-8 1h8m-7-8h8m-4 4h8m-5 2h8m4-2h8m2 0h8m-266 9h8m132 3h8m-6-4h8m-2 2h8m-4 0h8m-5 0h8m-8 5h8m-5 0h8m2-4h8m3-5h8m-6 4h8m7 4h8m6 1h8m-4-5h8m-2 3h8m-7-1h8m3 3h8m-6-1h8m9-7h8m-4 1h8m-3 5h8m-1 0h8m-7-3h8m-239 6h8m111 5h8m-4 4h8m0-5h8m-5-2h8m-4 1h8m-1-1h8m-8 6h8m-6-3h8m-5 3h8m-4 1h8m8-7h8m8 3h8m3-1h8m8 4h8m11-7h8m-5 5h8m-269 4h8m108 8h8m7-8h8m-2 8h8m-8-4h8m-6 2h8m-3-5h8m-2 7h8m-1 1h8m2-4h8m8-1h8m-7 0h8m4-3h8m7 3h8m-7 4h8m11-4h8m-2 1h8m-4-5h8m-4 3h8m-2 0h8m-289 16h8m152-8h8m-7 0h8m1-1h8m3 8h8m2-1h8m-7-6h8m-5-1h8m7 9h8m-6-7h8m1 4h8m-2-1h8m0-4h8m-7 0h8m-2 6h8m1-6h8m-6 3h8m-6 0h8m-1 1h8m-3-5h8m-4 8h8m-3-5h8m-8-3h8m1 4h8m8 5h8m-289 8h8m-6-6h8m127 0h8m1 6h8m8-4h8m26 0h8m-6 1h8m-3 2h8m17-6h8m1 6h8m-4-2h8m-1-2h8m-3 1h8m-7 6h8m-6-4h8m13 3h8m-3-4h8m-303 8h8m109 5h8m15-4h8m11 4h8m-1-7h8m-5 3h8m7-3h8m-7 7h8m-6-3h8m1 0h8m-3 2h8m4-5h8m-4 8h8m-8-6h8m-2 6h8m-6-4h8m-6 3h8m7-6h8m-4 4h8m-4 0h8m-5 1h8m-2 2h8m-4-8h8m-5 0h8m-6 8h8m0-9h8m-6 3h8m0 2h8m-340 11h8m-5-3h8m37 4h8m25 1h8m81 0h8m9-7h8m14 6h8m-4-3h8m9 3h8m-3-6h8m22 5h8m-8 0h8m1 0h8m-1-3h8m-8-3h8m25 7h8m-6-5h8m1 7h8m-1-7h8m-346 11h8m-5 6h8m61-7h8m7-2h8m73 4h8m-1 2h8m8 1h8m20-2h8m14-2h8m-2 5h8m-7 0h8m-7-7h8m-7 2h8m12-1h8m2 4h8m-4 0h8m-1 2h8m7 1h8m3-8h8m-6 2h8m2-1h8m-1-2h8m-5 7h8m6-7h8m-364 14h8m-7-1h8m-7 3h8m-7 0h8m49-5h8m9 1h8m86 0h8m-5-2h8m28 0h8m3 2h8m-4 6h8m-6-4h8m0-3h8m-2 6h8m-8-2h8m-1-5h8m-8 9h8m-3-1h8m10-6h8m-7 6h8m-6-1h8m-8-5h8m-4 5h8m-4-3h8m7-3h8m3-1h8m-7 6h8m-6-1h8m0-4h8m-6-1h8m1 1h8m-4 1h8m-3 3h8m2-4h8m-7 6h8m-8-2h8m-6 0h8m-3 3h8m-371 2h8m-2 8h8m-6-8h8m18 6h8m6-5h8m127 1h8m34-2h8m-6 0h8m-8 8h8m20-3h8m2 3h8m14-7h8m-5 1h8m5 1h8m-5-3h8m-7 2h8m9 7h8m-1-1h8m-8-8h8m-4 1h8m-4 4h8m-7-5h8m-6 4h8m4 5h8m-6-1h8m-6 1h8m-3-2h8m-8-1h8m-354 12h8m24-4h8m11 2h8m66-3h8m9 1h8m28-3h8m34 7h8m-8-3h8m-4-5h8m-4 7h8m-6-2h8m0 0h8m1 4h8m-5-5h8m-2 5h8m-5-6h8m-4-3h8m2 6h8m5-3h8m3-2h8m6 2h8m-7 0h8m-7 6h8m-2-7h8m-5-1h8m-8 7h8m-7-3h8m15-3h8m-383 9h8m-1 0h8m45 2h8m54 5h8m41-1h8m35 2h8m47-2h8m-6-4h8m-8-1h8m-6 0h8m-6-2h8m-1 2h8m-4 3h8m0 3h8m2-3h8m6 1h8m10-3h8m-6-2h8m-6-1h8m0 8h8m8-6h8m1 5h8m-5 0h8m-4-6h8m-8 6h8m-394 10h8m-5 0h8m-6-4h8m-7 0h8m-7-3h8m48 1h8m-8 5h8m66 0h8m-7-1h8m43-5h8m7 0h8m12 6h8m20-3h8m3 3h8m-4 3h8m9-7h8m0 5h8m31 2h8m0-9h8m-6 4h8m-2-1h8m-2-1h8m9 5h8m6 1h8m-393 7h8m19 0h8m6 1h8m22-3h8m121 3h8m1 1h8m16 2h8m3-9h8m0 4h8m6 0h8m-4 0h8m-2 1h8m-5 1h8m-6 0h8m-8 0h8m-4-6h8m-7 1h8m-6 2h8m-4-1h8m-6 3h8m-4 4h8m-1-9h8m-2 4h8m-3 3h8m-5 1h8m2-6h8m-4 1h8m-6-1h8m-8-2h8m-6 2h8m6 0h8m1 3h8m-8 4h8m1 0h8m3-9h8m-2 2h8m-390 14h8m13-2h8m51 1h8m17 1h8m13 2h8m95-4h8m11 5h8m16-6h8m-3 4h8m13-6h8m1 1h8m6 6h8m4 0h8m-2-5h8m-8-3h8m-7 4h8m-6-2h8m-6 7h8m-2-5h8m-1-2h8m-1 6h8m-4-4h8m-8-2h8m-7 5h8m-7-5h8m5 5h8m-5 1h8m-409 11h8m-8-6h8m-6 2h8m-7 3h8m70 0h8m14-2h8m-5 1h8m2 2h8m41-3h8m-6 0h8m64 2h8m2-5h8m-3-2h8m-3 0h8m-8 5h8m13-3h8m-3-2h8m-8 2h8m-7 5h8m-6-8h8m-7 4h8m-3 0h8m-7-2h8m18 4h8m-3 0h8m19 0h8m-3 2h8m16-8h8m1 4h8m6-3h8m-425 16h8m-2-2h8m-3 1h8m1-2h8m3 5h8m-8-2h8m31-4h8m39 4h8m40-2h8m-7 2h8m4-5h8m-6-1h8m-1 5h8m-5-6h8m-4 6h8m-6 1h8m-7 0h8m-2-1h8m3 0h8m2-1h8m14 0h8m-5-4h8m-7 1h8m-4 1h8m-5 2h8m-1 4h8m-8-4h8m0 0h8m-3-4h8m2 2h8m1 2h8m-1 3h8m-7-2h8m13 3h8m5-1h8m3-3h8m3 1h8m-3-4h8m-6 3h8m-6 0h8m-1 4h8m-8-3h8m-7 1h8m4-4h8m-5-3h8m-6 2h8m2-2h8m1 3h8m-4 3h8m-6-5h8m0 0h8m-8 4h8m-436 14h8m-5-1h8m-3-4h8m35-2h8m14 2h8m7-4h8m34 7h8m-5-6h8m12 0h8m0 4h8m-7-2h8m22-1h8m-7 2h8m-8 0h8m0 3h8m-4-7h8m-3 8h8m-6-2h8m-7-6h8m-5 9h8m-8-5h8m-5 5h8m-4-6h8m-6-1h8m0 0h8m20 3h8m6-2h8m-5-3h8m-3 9h8m0-7h8m3-2h8m14 4h8m4 1h8m-7-1h8m-6-1h8m4 1h8m-5 5h8m-1-4h8m16 1h8m-1-5h8m4 3h8m-2-1h8m-4-1h8m-5-1h8m-3 4h8m-436 13h8m-5-7h8m-8 2h8m-6 1h8m-4 1h8m61 2h8m45 0h8m27-7h8m-7 3h8m-5-3h8m-1 5h8m-6-1h8m-4 1h8m-5-4h8m0 2h8m-5-3h8m1 3h8m-6-3h8m16 6h8m-7 2h8m-5 1h8m-2-4h8m-7-5h8m6 2h8m0 1h8m-5 4h8m31 0h8m-5-2h8m8 3h8m-6-7h8m17 8h8m-5-4h8m6-5h8m15 5h8m6 0h8m-8-1h8m4-3h8m-4 5h8m4 0h8m-445 6h8m-7 3h8m12-5h8m47 7h8m28 2h8m8-8h8m8 5h8m16-5h8m0 1h8m-7 7h8m3-7h8m0 0h8m-3 6h8m-1-5h8m3-1h8m8 4h8m-3-4h8m-4 0h8m-4 3h8m24 3h8m-1-4h8m-4 3h8m-2-2h8m-6-2h8m10 5h8m-6-7h8m0 2h8m-3 6h8m-6-7h8m40 0h8m-7-1h8m11 8h8m-6-7h8m-5 6h8m17 0h8m-6-7h8m-454 16h8m-4-3h8m-5 5h8m-7-9h8m-1 2h8m166 3h8m-8-3h8m7 2h8m-8-1h8m-7-1h8m-7 0h8m-1 0h8m-8 0h8m-6 1h8m-4 5h8m-2-8h8m-4 3h8m-6-1h8m-4 0h8m2-2h8m18 4h8m-3 3h8m-4 0h8m-6-1h8m-7 3h8m18-1h8m-7-6h8m29 4h8m-6 1h8m-5 1h8m5 1h8m14-4h8m4 2h8m0-6h8m12 3h8m-3 5h8m2-6h8m-3 6h8m5-5h8m-6-1h8m-466 14h8m-6-5h8m16 3h8m15 1h8m7-4h8m16 7h8m31-1h8m29 1h8m37 0h8m3-2h8m-5-4h8m5 0h8m-6 0h8m15-2h8m-7 6h8m-3-7h8m-6 7h8m-2 1h8m2-8h8m-3 9h8m-7-4h8m-4-4h8m-6 7h8m-7-5h8m-7-3h8m-4 6h8m-6 3h8m-3-9h8m17 0h8m0 3h8m-3-2h8m5 5h8m15-4h8m-3-1h8m-2 8h8m1 0h8m-1-5h8m1 1h8m-1-2h8m26 6h8m-8-2h8m-8-5h8m-486 12h8m36-3h8m15 7h8m133-2h8m38 0h8m-8 3h8m6-7h8m-8 6h8m1-6h8m-5 4h8m-3 1h8m4-1h8m21 3h8m15-4h8m-4-4h8m30 8h8m-7-3h8m-2-5h8m5 4h8m3 3h8m0-1h8m6-3h8m-2 3h8m-7-3h8m-1 2h8m5 1h8m4-1h8m-490 8h8m-6 3h8m41-4h8m-6 6h8m58-6h8m22 1h8m9-4h8m46 1h8m2 0h8m-5 0h8m1-1h8m-3 2h8m-5 6h8m7-8h8m7 2h8m1 5h8m-8 1h8m16-5h8m1-1h8m-2 3h8m33-4h8m-6 1h8m-3 6h8m3-8h8m-3 5h8m-4-3h8m2 1h8m2 1h8m10-3h8m3 4h8m5 1h8m10 1h8m-2 2h8m-6-6h8m-489 12h8m167-1h8m13 0h8m22 4h8m1 0h8m-2-6h8m-7 2h8m-7-4h8m-5 8h8m-8-6h8m-7 4h8m12-6h8m-4 7h8m-4-4h8m-6 0h8m8 5h8m-7-3h8m-7 4h8m-8-5h8m-6-3h8m-5 7h8m-6-2h8m0 2h8m-1-6h8m0 1h8m3 2h8m-7 3h8m-6-7h8m14 2h8m-7 5h8m10 1h8m-4 0h8m-4-3h8m-1 0h8m3-5h8m-7 2h8m0 0h8m-5 0h8m10 2h8m-7 1h8m-2-6h8m-3 4h8m-4 5h8m1 0h8m-7 0h8m-3-4h8m0 4h8m0-9h8m-513 16h8m1 0h8m-3-1h8m-7-3h8m118 1h8m89-2h8m-6 5h8m-3-5h8m-6 1h8m-5 5h8m-2-7h8m-7 9h8m-2-3h8m-3-2h8m-5 0h8m2 3h8m-3 1h8m13-7h8m-2 6h8m-6-6h8m1 0h8m1 5h8m0-5h8m-6 5h8m1-4h8m9 6h8m-4-8h8m-8 1h8m12-1h8m-4 2h8m-6 6h8m-6-8h8m-6 9h8m1-8h8m-8 2h8m-8 2h8m19 1h8m-6-2h8m-1 1h8m-6 0h8m6 0h8m-4-4h8m3 8h8m4-3h8m-5-3h8m6 5h8m-521 6h8m-4 2h8m0 3h8m55-7h8m-8 5h8m32 0h8m104 2h8m8-1h8m-7-6h8m-7 7h8m-7-3h8m-8-2h8m-3-1h8m-8 3h8m-3-4h8m-5 0h8m-2 3h8m-8-4h8m-7 8h8m-2-8h8m-7 3h8m14 3h8m8 0h8m-5-1h8m-8 1h8m-7-6h8m-3 1h8m-5 5h8m32 0h8m-7-2h8m-5 2h8m-4 0h8m1 2h8m-5-2h8m13 0h8m-3 0h8m-6 0h8m-7-6h8m-6 7h8m-8-8h8m13 5h8m1-2h8m-7 1h8m-7-3h8m-8-1h8m0 8h8m5-4h8m-6-2h8m-6 5h8m-7-2h8m-6-5h8m-6 6h8m-6-5h8m7 6h8m-501 10h8m41-6h8m112 2h8m-6-2h8m17 5h8m5-4h8m-6 7h8m-4-3h8m13 2h8m-6 1h8m-5-7h8m-6 7h8m-6-3h8m-8-2h8m-7 4h8m-6 0h8m-5-7h8m-4 1h8m-1-1h8m-4 1h8m-6 6h8m-1-6h8m23 0h8m-7 0h8m-3 5h8m16-1h8m-8-6h8m3 4h8m-7-4h8m-7 0h8m-5 9h8m0-4h8m-8 1h8m9 2h8m-6-6h8m0-1h8m-4 3h8m-5-3h8m10 5h8m-6 1h8m-5 2h8m-4-9h8m1 4h8m-3-2h8m0 5h8m-8 2h8m-5-6h8m-4 1h8m1 0h8m-1-4h8m-8 6h8m0-1h8m-4 1h8m3-3h8m4 2h8m-8 4h8m2-5h8m-2 3h8m-5 2h8m-551 6h8m-8 2h8m-8 0h8m-7-3h8m-4 2h8m2-6h8m-7 1h8m43 3h8m55 0h8m14-4h8m13 4h8m2 4h8m-4-1h8m15-2h8m2-3h8m4 0h8m3 5h8m-7-3h8m-6 2h8m-4 3h8m-2-6h8m-8 1h8m-5 3h8m-3-1h8m-3-5h8m1 0h8m-7-1h8m-3 0h8m-7 3h8m8-2h8m0 5h8m-4-1h8m-5 3h8m-6-7h8m-5 3h8m0 3h8m-6-4h8m-2 6h8m0-5h8m-4 3h8m5-1h8m-5-3h8m2 5h8m16 0h8m-1 1h8m-4-5h8m2-1h8m-8 0h8m13 4h8m3-3h8m5 0h8m-5 5h8m-6-2h8m-8 1h8m-6-2h8m-8 3h8m-6-8h8m-3 6h8m7 0h8m-4 1h8m-8-7h8m-5 3h8m0 4h8m-5-5h8m-6 2h8m4 0h8m-6-1h8m5 3h8m-6-4h8m-560 16h8m-6-6h8m-7-1h8m-7 1h8m-4 2h8m-5-3h8m95 0h8m27 5h8m17-4h8m-7 3h8m5-6h8m30 6h8m14-3h8m-4 5h8m-7-4h8m-2 0h8m-7-1h8m-5-3h8m-5 4h8m-8-2h8m-7 5h8m14-3h8m-2 3h8m0 1h8m7-6h8m15 1h8m-5 1h8m3-4h8m-3 7h8m-2 1h8m7-8h8m-6 2h8m-7 7h8m-2-7h8m-6 1h8m-7 2h8m-3-4h8m-6 1h8m-4 0h8m-8 0h8m8 2h8m-7-3h8m4 8h8m-5-5h8m-1-1h8m13 5h8m-7-8h8m-7 6h8m-7-1h8m-4 2h8m9-5h8m16 1h8m-3 3h8m-5 0h8m11-6h8m4 3h8m-8 2h8m-569 9h8m-3 0h8m-6-2h8m-7-1h8m-1 0h8m6 6h8m106-1h8m5-5h8m-3 3h8m-4 5h8m-4-4h8m-2 1h8m-5-1h8m30 2h8m-3 0h8m-2-4h8m-6-3h8m-5 7h8m9 2h8m-3-1h8m-7 1h8m-7 0h8m-7-4h8m-7 4h8m-7-3h8m-8-5h8m-6 4h8m-8 0h8m-7-3h8m-6 2h8m-2 1h8m-1-4h8m2 2h8m2 5h8m-5-7h8m8 4h8m-3-4h8m-8 6h8m1 0h8m-6-5h8m-8 6h8m-5 0h8m2 1h8m-4-8h8m-2 4h8m-7 3h8m5 0h8m0-6h8m2 0h8m14 0h8m-3 6h8m-4-1h8m-7-3h8m-6-2h8m-4 6h8m1-3h8m-3 2h8m-5 0h8m-6-5h8m-5-2h8m39 4h8m-7 1h8m-7-4h8m5-1h8m20 3h8m-6-2h8m-2 1h8m-6 2h8m9 5h8m-577 5h8m-7 3h8m16-3h8m53 5h8m92-7h8m-3 4h8m15-5h8m16 4h8m-4 2h8m-4-1h8m-4-4h8m-6-1h8m-4 5h8m-7-5h8m-2 1h8m10 3h8m24 0h8m-7 4h8m-3-6h8m3-3h8m21 5h8m-7-1h8m-6-3h8m-6 2h8m0-2h8m2 0h8m12 8h8m-2 0h8m-8-4h8m-6-5h8m6 6h8m29 3h8m-2-5h8m-3 5h8m-6-5h8m-6-1h8m11 3h8m-7 3h8m-1-3h8m-7-6h8m-7 9h8m-5 0h8m24-4h8m-2-1h8m-8-2h8m0 5h8m-7 2h8m-7-2h8m-1-3h8m-7 1h8m-7 2h8m-3-5h8m-524 17h8m31-2h8m13 0h8m22 0h8m1 1h8m4-8h8m-3 2h8m21 3h8m5 0h8m13 2h8m0-4h8m-6 1h8m-6 2h8m-7-3h8m-8 3h8m-8-5h8m-6-1h8m-5 5h8m-6 0h8m-8-5h8m0 3h8m-6 6h8m-7-3h8m-7-6h8m-7 0h8m-1 9h8m16-6h8m-8-1h8m-5 5h8m-8-4h8m-6-1h8m-7 2h8m2-3h8m14 1h8m2 5h8m0-1h8m-7-5h8m-6 8h8m25-3h8m-6 2h8m-1-5h8m-8 0h8m8 2h8m4-2h8m12 1h8m6-4h8m-6 8h8m-6-4h8m-7 2h8m-7-5h8m5-1h8m-6 4h8m-7 0h8m-6 2h8m-8-6h8m-4 9h8m-5-7h8m22-2h8m9 3h8m-8 5h8m-7-8h8m7 4h8m-7-2h8m-3-1h8m-7 5h8m-8-2h8m-6 2h8m-7 1h8m-3-4h8m-6-2h8m-600 18h8m-2-1h8m5-4h8m14-3h8m23 5h8m1-4h8m-6 0h8m37 1h8m-4 0h8m-5 6h8m-6-9h8m-6 2h8m6 6h8m10-7h8m2 2h8m4 1h8m19-1h8m9-2h8m-6 0h8m-7 6h8m-1-2h8m-8 3h8m-6-7h8m-6 3h8m-7-2h8m-8 3h8m-8 1h8m-7 1h8m-7 1h8m-8-2h8m-8-3h8m-6-1h8m-4-2h8m-8 5h8m-4 3h8m-8-5h8m-2 4h8m-5-4h8m4 5h8m-8-4h8m-4-4h8m6 8h8m-1-6h8m-5 0h8m18 1h8m1 0h8m-8 0h8m-1 1h8m-2-4h8m1 6h8m5-4h8m14 2h8m0 3h8m21-7h8m7 5h8m-5-1h8m20 1h8m9 2h8m11-1h8m-6 3h8m-7-1h8m-6-1h8m0-5h8m1 5h8m42-5h8m-611 16h8m9 1h8m-7 0h8m9-6h8m5-1h8m11-1h8m15 4h8m20-2h8m1-3h8m16 5h8m-5-4h8m-5 2h8m-2 6h8m2-1h8m-8-1h8m-6-2h8m-4 1h8m13-2h8m-6-2h8m-3-2h8m-7 1h8m-4 7h8m-8-1h8m-7-3h8m3-4h8m-7 1h8m-5 8h8m-5 0h8m-7 0h8m-1 0h8m-6-5h8m-5 3h8m-6 2h8m-7-2h8m-7 0h8m-3-5h8m-1 7h8m-5-4h8m13 1h8m-7 3h8m-4 0h8m0-6h8m25-2h8m0 5h8m-5-4h8m-6-2h8m10 6h8m49-2h8m7 5h8m-6-1h8m-7-8h8m-6 9h8m-2-8h8m-8-1h8m-2 3h8m-7 3h8m7 0h8m11 3h8m-6-3h8m1 1h8m1-6h8m12 1h8m-4 5h8m12-2h8m9 1h8m-7-6h8m0 1h8m7 3h8m-598 13h8m-1-4h8m5-3h8m2 2h8m-5 2h8m3-4h8m-8 3h8m0 5h8m-3-2h8m24 1h8m10-4h8m21 5h8m-5-7h8m12-1h8m20 0h8m10 0h8m6 4h8m-5 4h8m-8-7h8m-5 4h8m-8-1h8m-4-3h8m-2 2h8m1 3h8m-1-6h8m-6 7h8m-8-2h8m-7-1h8m-1-4h8m0 8h8m-1 0h8m-3-4h8m3 5h8m-8-5h8m-6 3h8m4 1h8m6-1h8m-6 2h8m12-6h8m-6 3h8m0 3h8m1-6h8m-3 5h8m3 0h8m-3-7h8m1 6h8m-1-7h8m-3 3h8m-6 0h8m1 3h8m-7-1h8m2 0h8m4-3h8m1 5h8m-3-2h8m-2 0h8m-4 3h8m9-3h8m-7-4h8m-2 7h8m0-8h8m-4 5h8m2-4h8m-6 1h8m-5-2h8m-4 0h8m-4 1h8m-1 0h8m-7 3h8m-6-1h8m13 3h8m-2 2h8m14-5h8m3 2h8m-5-1h8m-8-1h8m-603 10h8m-7 5h8m-2-6h8m25 7h8m-3-1h8m-5-6h8m18 3h8m18 0h8m42 1h8m-3-1h8m20-1h8m2-4h8m20 1h8m-5 6h8m-4-4h8m-8 4h8m-7-6h8m-4 5h8m2-4h8m-5 0h8m-8 2h8m-7-1h8m-7-3h8m5 8h8m-3-7h8m-5 0h8m-8 0h8m-3 8h8m-4 0h8m-5-2h8m0-4h8m-3-1h8m-6 5h8m12-7h8m9 0h8m-6 3h8m4 2h8m16-3h8m-1 0h8m4 0h8m-1 3h8m3-2h8m-5 6h8m6-8h8m-5 1h8m12 2h8m8 0h8m-5-3h8m1 8h8m2 0h8m-4 0h8m-1-6h8m-3 1h8m-6-4h8m-2 7h8m2-3h8m4 3h8m-2-3h8m29 1h8m10-5h8m7 0h8m-614 10h8m-7 7h8m-7-5h8m-3-1h8m-8 6h8m8-7h8m31 1h8m57 6h8m-5 2h8m-7-2h8m5 2h8m2-6h8m-7 3h8m24-2h8m-5 4h8m0 1h8m-5-6h8m-8 3h8m-8-1h8m-3-2h8m-2-3h8m-7 4h8m-6 4h8m-2-6h8m-6-1h8m-3 3h8m-4-2h8m3-1h8m-5 1h8m-3 5h8m1-7h8m0 6h8m-5-3h8m-5 6h8m-2-4h8m-7-5h8m-7 5h8m-3 3h8m-5-5h8m14 2h8m-5 0h8m-2 4h8m16-5h8m-4 3h8m-3-5h8m17 1h8m-5 4h8m-8-4h8m-1-3h8m-6 0h8m9 5h8m-5-3h8m-3 3h8m28-2h8m10-3h8m-479 13h8m-8-1h8m-7 2h8m-7 3h8m-2-2h8m-2 2h8m6 1h8m7-2h8m28-5h8m1 2h8m18 3h8m2-3h8m14 6h8m6-6h8m21 1h8m-1 0h8m-8 4h8m-5 1h8m5-8h8m-6-1h8m6 3h8m-4-2h8m-1 3h8m-4 3h8m-7-2h8m-7-2h8m5 4h8m-1 0h8m-2-6h8m6 2h8m3 4h8m-2-3h8m-7 1h8m-7 0h8m-8-5h8m-7 4h8m-7-2h8m-7-2h8m14 0h8m-341 19h8m-2-6h8m20 5h8m-2-8h8m3 0h8m-3 9h8m-4 0h8m-8-7h8m-6 0h8m-4 2h8m-4 5h8m11-3h8m4-4h8m-7 0h8m15 7h8m13 0h8m4-1h8m-1-8h8m-3 8h8m-2-2h8m-5 0h8m-7 2h8m-5-1h8m-5 0h8m-8-4h8m-5 4h8m-7 0h8m-7 2h8m-7-6h8m-8 2h8m-3-3h8m-7 1h8m-7-1h8m4-1h8m-8 2h8m-2 6h8m-8-8h8m-6 3h8m-3-4h8m2 1h8m-6 7h8m-8-2h8m-6-2h8m-2-3h8m-8 0h8m2 5h8m4 2h8m-3 1h8m-4 0h8m-2-1h8m-4-5h8m-8 1h8m-7 1h8m-4-3h8m-7 5h8m-1-2h8m-7-1h8m-7-4h8m-309 18h8m-7-5h8m-3 3h8m11-2h8m-4 5h8m-6-9h8m4 7h8m-3-6h8m1 5h8m-3 3h8m11-4h8m1-5h8m-2 7h8m14 1h8m-7-1h8m-2-2h8m-8 2h8m35 0h8m-6-3h8m-1 2h8m-8-1h8m-7 4h8m-7-9h8m-6 1h8m-7 2h8m-7-3h8m-4 5h8m-4 1h8m-7-6h8m-6 6h8m-8 1h8m-4-7h8m-5 3h8m-7-1h8m-5 3h8m-6 2h8m0-3h8m-2-3h8m3 1h8m-1 6h8m-2-1h8m-5 0h8m-7-3h8m-7-1h8m-6 2h8m-7 3h8m-6-1h8m-7-1h8m-1 1h8m-8-5h8m1 2h8m3 0h8m-295 15h8m-7 0h8m-5-5h8m-7 0h8m-7-4h8m-7 7h8m-8 1h8m-7-8h8m-8 7h8m2-6h8m-1 1h8m-1 3h8m13-5h8m-1 7h8m4 1h8m29-3h8m-5-5h8m10 4h8m16-4h8m0 5h8m-6-5h8m-6 3h8m-7 3h8m-5 3h8m-6-9h8m-8 1h8m-7 3h8m-4 1h8m-6-5h8m-3 8h8m-3-5h8m-4 1h8m-7-2h8m-6 4h8m-1 0h8m-7-3h8m2 4h8m-4 1h8m0-7h8m-8 7h8m-7-3h8m-7 2h8m-4-6h8m-3 6h8m-5-6h8m-5 6h8m-1-5h8m-8-1h8m-4 3h8m-5-2h8m-262 9h8m-5 3h8m-4-3h8m0-1h8m37 7h8m1-2h8m-5 1h8m-1-3h8m1 0h8m-2 4h8m-5-7h8m7 5h8m10 2h8m4 2h8m-5 0h8m-7-7h8m-7-2h8m-5 4h8m-3 3h8m-8-4h8m-2-2h8m-8-1h8m-7 0h8m-7 7h8m-6 0h8m-4 1h8m-8-7h8m-2 5h8m-3-1h8m-3-2h8m-7 0h8m2-3h8m-5 6h8m-5 2h8m-7 0h8m-3-8h8m3 1h8m-7 3h8m-6-2h8m-3-2h8m-239 14h8m-3 1h8m-6 1h8m0-6h8m-4 3h8m22 1h8m-7 3h8m6 2h8m6-3h8m5-5h8m4 3h8m28-2h8m0 6h8m-8-7h8m-7 1h8m-6 7h8m-1-9h8m-7 6h8m8-1h8m5-4h8m-1 0h8m-3 3h8m-7 0h8m-7 3h8m-1-4h8m-1-1h8m-228 10h8m-1 6h8m-7-6h8m-7 2h8m-7 1h8m-5 3h8m-3-2h8m-6-4h8m-2 2h8m10 1h8m50 3h8m-6-1h8m23-1h8m-5 2h8m-8-3h8m-7-2h8m-7 1h8m-6-2h8m-4-2h8m9 4h8m11 4h8m8-1h8m-200 4h8m-7 2h8m-3 4h8m-5 0h8m-4-4h8m64 6h8m26-5h8m-3 5h8m-8 0h8m-4-9h8m-8 3h8m-6 6h8m-6-6h8m7-3h8m-6 8h8m-4 0h8m-1 0h8m-4-3h8m-5-2h8m2-3h8m-5 4h8m-3-2h8m-196 16h8m-5-4h8m-8-4h8m-7 8h8m0 1h8m-2-9h8m-2 1h8m4 4h8m-7-1h8m-7 0h8m-5-3h8m1-1h8m-5 8h8m-2-3h8m18-3h8m-5 5h8m2-5h8m-5-2h8m-3 4h8m-1 5h8m-5-3h8m-8-3h8m-7 6h8m-7-7h8m-6-1h8m-6 8h8m-4-3h8m0-4h8m-7-2h8m-7 3h8m9 5h8m-6-5h8m-7 0h8m-4 2h8m-4 2h8m-5-6h8m-4-1h8m-185 15h8m17 0h8m-3 1h8m3-3h8m27 2h8m-6 4h8m6-9h8m1 3h8m-4 0h8m-6 1h8m-7-1h8m-7 5h8m-6-2h8m0-1h8m-8-4h8m1 0h8m3 7h8m-5-1h8m0-2h8m-7 2h8m-7-4h8m-4 3h8m-6-4h8m-7 6h8m-6-3h8m-5-3h8m-170 15h8m-1 2h8m-6-8h8m-1 7h8m-7-3h8m9-5h8m-6 9h8m0-6h8m8 4h8m22-3h8m-4 5h8m-7-1h8m-6 1h8m-4-2h8m-6-3h8m6-1h8m-1 0h8m-2 6h8m-7-5h8m-7 2h8m-2-4h8m-7 0h8m-7 0h8m-8-1h8m0-1h8m-156 14h8m-5-4h8m26 2h8m-7 1h8m32-2h8m-5 4h8m1-4h8m-6 4h8m-8 1h8m-8-2h8m-7 0h8m0-3h8m-6 1h8m-5-1h8m-8 1h8m-7 3h8m4-4h8m-7 2h8m-4 2h8m-7 1h8m-7 0h8m-7-3h8m-5 4h8m-7 1h8m-144 10h8m-5-4h8m-4 3h8m-5-2h8m7 2h8m3-1h8m-8 0h8m20-3h8m-1-3h8m-2 5h8m-7 3h8m-6-1h8m-4-4h8m-8 2h8m-3 1h8m-8-4h8m-6 2h8m-2 0h8m-4 1h8m-7-2h8m-1 0h8m-7 2h8m-1 0h8m-6-2h8m-7 3h8m-5-5h8m-137 9h8m0 7h8m-5 2h8m-5-6h8m38 2h8m2-3h8m-7 7h8m-5-2h8m-7 1h8m-7-5h8m-8 4h8m-6-4h8m-7 0h8m-7-3h8m2 0h8m-3 1h8m-3 1h8m-2 0h8m-7 4h8m-6-5h8m-8 6h8m-7-7h8m-4 7h8m-8-7h8m-4 0h8m-5 2h8m-122 16h8m13 0h8m7-4h8m-6 3h8m6 0h8m-3-1h8m-8-2h8m-7-4h8m-7 0h8m-8 3h8m-7 2h8m-8-3h8m-6 3h8m7-3h8m3 7h8m-7-6h8m-6 1h8m-5-1h8m-108 11h8m-8-4h8m-7 8h8m-8-4h8m31 2h8m-7 1h8m-3-2h8m-7-3h8m0-2h8m-2 4h8m-4 1h8m-7-4h8m-5 6h8m-2 2h8m-6-1h8m-6 0h8m-7 1h8m-6-7h8m-4-1h8m-7 8h8m-4-6h8m-4-3h8m-102 16h8m6-1h8m-5 0h8m-1 4h8m-1-7h8m-5 2h8m-7-1h8m-6 6h8m-7-4h8m-6 0h8m-4-3h8m-2 3h8m-3-2h8m-6 0h8m1 2h8m-2 1h8m2-6h8m-93 17h8m-3-5h8m1 6h8m-6-2h8m3-1h8m-5 0h8m-7 2h8m-5-2h8m-7-4h8m-4 0h8m-7 6h8m4 1h8m-4-8h8m-6 5h8m-4-1h8m-7 3h8m0-5h8m-3 5h8m-95 11h8m-3-4h8m-5 4h8m11-4h8m1-4h8m-4 7h8m4-2h8m-7 4h8m-6 0h8m-7-2h8m-8-2h8m-6 2h8m-4 0h8m-4-6h8m-5 4h8m-65 13h8m10 1h8m6-1h8m-6-1h8m-8 1h8m-3-3h8m-7-1h8m-4-4h8m-60 13h8m-7-3h8m-6 1h8m-5-1h8m4 7h8m2 2h8m-7-6h8m-6 5h8m-7-6h8m-2-2h8m-6 2h8m-6-1h8m-49 16h8m-4-3h8m-5-2h8m-3 5h8m0 2h8m-7-1h8m-8 0h8m3-7h8m-8 4h8m-45 7h8m-8 3h8m4-2h8m-8 3h8m-1 2h8m-8-3h8m3-2h8m-42 12h8m-4-2h8m-8 5h8m-5 1h8m-7-2h8m-7-6h8m-6 3h8m-7 5h8m-7-3h8m-3-6h8m-8 6h8m-4-4h8m-28 11h8m-7 0h8m-8-2h8m-4 2h8"/><path stroke="#3b528b" d="M3228 2083h8m-1 6h8m50-3h8m-63 11h8m27-3h8m-12 10h8m13-4h8m-4 2h8m-75 12h8m21 4h8m24-4h8m-72 13h8m-4 1h8m46-2h8m11-3h8m-58 9h8m-7-2h8m18 8h8m-1-4h8m-5 5h8m-8-4h8m3-1h8m-6-2h8m-7 3h8m2 1h8m-8-6h8m-78 16h8m3-6h8m4 2h8m2 7h8m3 0h8m-7-3h8m-4-3h8m-2 0h8m4 5h8m-2-8h8m-5 8h8m-99 10h8m1-1h8m11-5h8m3 7h8m34-6h8m-8 2h8m-1 0h8m-78 6h8m7 5h8m-5-5h8m-7 3h8m-5 2h8m24-1h8m18-4h8m-89 10h8m2 0h8m1 7h8m-6-8h8m-5 6h8m4 2h8m36-4h8m0 4h8m-13 11h8m-80 3h8m5 0h8m-6 3h8m4 3h8m32 1h8m-82 5h8m-1 2h8m-3 1h8m4 2h8m-8-6h8m4 2h8m0 0h8m14-5h8m-4 7h8m-7 0h8m-86 10h8m-2-5h8m6 7h8m-7 0h8m-1-6h8m27 6h8m-6-9h8m-1 6h8m8-4h8m-84 10h8m0 7h8m-3-8h8m12 7h8m19 1h8m11-2h8m-5-6h8m-89 13h8m3 5h8m26 0h8m5-2h8m14-6h8m-81 9h8m41 6h8m-41 12h8m11-3h8m5 2h8m-27 10h8m31-5h8m4 6h8m-4-2h8m-32 7h8m4-1h8m-51 10h8m40 6h8m-57 14h8m82-2h8m9 7h8m-126 10h8m24 1h8m29-8h8m16 2h8m-55 9h8m-4 1h8m25 7h8m26-4h8m-48 6h8m-4 1h8m4-1h8m-36 12h8m48 6h8m-110 8h8m11 2h8m20-1h8m7-3h8m4-1h8m-1 5h8m-258 8h8m13-4h8m143 5h8m69-4h8m-45 14h8m31-7h8m17 5h8m-6-3h8m-285 16h8m165-2h8m-6-5h8m37 1h8m16 6h8m21 0h8m-361 18h8m113 1h8m7-2h8m78-6h8m-6 0h8m16 6h8m-4-6h8m15 2h8m61 7h8m-7-1h8m15-4h8m-94 8h8m24 4h8m-4-4h8m-3 6h8m38-2h8m-227 10h8m138-1h8m28-3h8m-6 2h8m6 5h8m-305 5h8m188-2h8m11 4h8m82-3h8m-377 9h8m17 1h8m260 3h8m-2-2h8m16 0h8m-195 9h8m162-3h8m20 8h8m15-4h8m-230 12h8m28 3h8m-6-9h8m49 3h8m72 3h8m27 0h8m26-4h8m-240 11h8m-8 5h8m12-1h8m105-7h8m0 8h8m78-6h8m11 3h8m-373 6h8m105 5h8m79-6h8m16 4h8m11 4h8m1 1h8m37-8h8m12 6h8m-325 12h8m65 0h8m15-3h8m7-6h8m3 7h8m58-5h8m26 4h8m5 2h8m60-4h8m7-2h8m28 2h8m-248 13h8m3-7h8m6 1h8m15 1h8m-3-1h8m44 2h8m109 1h8m31 4h8m-355 9h8m116-4h8m134-3h8m23 8h8m0-3h8m10-1h8m-134 10h8m-3-2h8m5 0h8m27 6h8m74-6h8m-174 9h8m-2 7h8m73-2h8m12-2h8m26 1h8m-283 8h8m117 5h8m23-4h8m-2-1h8m56-1h8m44 6h8m26-3h8m-131 11h8m111 1h8m-5-1h8m-234 13h8m16-5h8m2 3h8m50-5h8m11 4h8m52 3h8m5 0h8m-5-2h8m-7-5h8m16 0h8m36 2h8m-222 7h8m35 6h8m2-4h8m71-3h8m53 4h8m-7-2h8m-261 8h8m76 4h8m135-3h8m14 6h8m8 0h8m-520 8h8m385-1h8m35-4h8m18 3h8m5 3h8m24 2h8m-6-8h8m-497 10h8m225 7h8m-4 0h8m17-1h8m-6-1h8m35-1h8m4 2h8m15-5h8m-8 1h8m13 2h8m38 5h8m-3 0h8m40-6h8m37-2h8m-302 11h8m144 2h8m12-2h8m69 7h8m19-2h8m-161 10h8m34-2h8m92 0h8m3 1h8m10-4h8m-163 16h8m85 0h8m-208 9h8m4-4h8m-7 0h8m-6 0h8m21 4h8m0 1h8m173-5h8m-207 11h8m-39 13h8m155-6h8m63-1h8m-257 13h8m-2 6h8m7-1h8m-5-5h8"/><path stroke="#2c728e" d="M3277 2099h8m8-2h8m-42 7h8m6 5h8m0-2h8m-74 8h8m6 4h8m25-1h8m8 1h8m-3-6h8m-65 9h8m-4 2h8m38 5h8m25-4h8m-109 9h8m16 3h8m-3 1h8m-6-7h8m6 1h8m1 6h8m23 0h8m-7-8h8m-93 12h8m-6 2h8m9 3h8m-4-5h8m-6 1h8m-4-3h8m-3 8h8m36-1h8m12 2h8m-111 7h8m-7 2h8m-6-2h8m16-4h8m-5 5h8m4-7h8m13 0h8m-45 11h8m-8 7h8m-5 0h8m-6-4h8m32 3h8m16-3h8m-113 13h8m-5 1h8m-3-8h8m-6 8h8m16 1h8m-7-1h8m1-1h8m-6-2h8m-7 4h8m13-9h8m0 2h8m-81 16h8m-4-3h8m-2 2h8m19 0h8m6-1h8m27-5h8m7 3h8m26 2h8m-143 11h8m-3-1h8m22 3h8m-1 0h8m28 0h8m-3-8h8m1 1h8m-106 14h8m-5 0h8m-4-3h8m26 5h8m-4-5h8m0-3h8m88 8h8m-161 6h8m-6 5h8m-6-1h8m12-8h8m0 4h8m39 4h8m5 0h8m-109 5h8m18-1h8m22 4h8m-1-3h8m26 6h8m7 0h8m0-8h8m-139 17h8m-7 1h8m61-5h8m-5 4h8m9 0h8m14-5h8m17 5h8m-154 9h8m-4-5h8m19 7h8m19-8h8m-6 8h8m9-2h8m-1 2h8m-19 2h8m1 1h8m-7 2h8m-5 4h8m8-1h8m-133 12h8m3-8h8m-6 8h8m81-8h8m0 6h8m5-5h8m-133 13h8m-4-3h8m48-2h8m-7 7h8m2-7h8m22 5h8m-3 1h8m-4 0h8m-5-3h8m-3 4h8m0-3h8m-3 4h8m-7-8h8m-157 17h8m-4 1h8m-8-2h8m-3-6h8m1 1h8m-5 0h8m95 0h8m-5 4h8m2-3h8m-5-2h8m-3 8h8m-151 8h8m-8-5h8m107-1h8m2 0h8m-5 2h8m-2 0h8m-162 8h8m-5 5h8m-7-2h8m-7 3h8m107-5h8m7 3h8m-7 1h8m-1 2h8m-154 10h8m77 2h8m17-8h8m12 0h8m0 6h8m3 2h8m-6-7h8m-7 1h8m-3 1h8m-176 15h8m-5-4h8m-5-4h8m-8 5h8m-6-6h8m-6 4h8m78 5h8m-6-6h8m7 4h8m17-5h8m-1 5h8m-2 2h8m-7 0h8m14-8h8m-8 0h8m3 8h8m-194 3h8m-8 4h8m-5-1h8m96 2h8m29 2h8m4-8h8m-8 0h8m-7-1h8m0 5h8m2-4h8m-3 2h8m-38 12h8m11 1h8m-186 6h8m-4-1h8m129 5h8m-5-3h8m19-2h8m-6 5h8m-32 12h8m-5-8h8m-6 2h8m-6 5h8m-3-1h8m22 3h8m-59 2h8m1 1h8m-8-2h8m2 8h8m-38 6h8m-1 2h8m2-6h8m-1 1h8m-6 5h8m-6 0h8m-27 11h8m-8 1h8m18-3h8m-6 1h8m-4-3h8m3 6h8m-60 7h8m3 2h8m-5-1h8m10-7h8m0 4h8m-7 1h8m-40 11h8m-4-3h8m-6 1h8m6 1h8m-6 1h8m21-1h8m-48 10h8m22-3h8m0 0h8m-75 15h8m0-7h8m-4 8h8m-4-5h8m36 2h8m1-4h8m-2 0h8m-75 10h8m-7 1h8m-6-2h8m-7 6h8m-3-3h8m-8-3h8m9 7h8m2-1h8m-1-4h8m-32 17h8m24 0h8m-59 1h8m-8 8h8"/><path stroke="#21918c" d="M3218 2119h8m0-2h8m-24 12h8m-7-9h8m-6 5h8m-6 3h8m4-4h8m-13 14h8m2 1h8m-33 5h8m-8 5h8m1-1h8m10-7h8m-38 13h8m-7 2h8m-8-4h8m-8 5h8m16-2h8m-5 3h8m-8-6h8m-8-1h8m-5 4h8m-43 14h8m-7-2h8m-6-6h8m16 1h8m-36 14h8m23 1h8m1-5h8m-48 9h8m25 1h8m0 2h8m-59 9h8m-5-2h8m26 3h8m5 2h8m-56 4h8m-5 2h8m32-1h8m-1 1h8m-8 0h8m-68 17h8m-3-7h8m43-2h8m-7 3h8m-69 10h8m-5-1h8m42-1h8m-4 2h8m-5-1h8m-4 3h8m-79 10h8m-7 2h8m-6 0h8m-4-4h8m47 5h8m-1-3h8m-7-2h8m-91 11h8m-6 5h8m0-8h8m46-1h8m11 6h8m-3 2h8m-20 2h8m-4 1h8m-8 3h8m-2 4h8m-8 1h8m-7-6h8m-111 11h8m94 4h8m-5-2h8m-8-3h8m-5-3h8m-4 8h8m-4-5h8m-7 2h8m-8 4h8m-2-4h8m-150 13h8m2-3h8m-7-4h8m-8 1h8m-3-1h8m-4 4h8m56-1h8m29 3h8m-134 11h8m-6-5h8m-6 1h8m-3-3h8m55 6h8m9 1h8m19-4h8m3-3h8m-8 2h8m-8-3h8m-7 4h8m-3 5h8m5-3h8m-167 8h8m-2 3h8m-3-6h8m111 2h8m0-1h8m-6 4h8m-5-4h8m-5-2h8m-165 18h8m7-8h8m85 7h8m22-2h8m-8-2h8m-1 2h8m0-1h8m-6 4h8m-5-3h8m2-3h8m-7 3h8m-180 14h8m0-1h8m-8-8h8m-1 1h8m127 0h8m-7 2h8m-4 1h8m9 0h8m-2-1h8m-189 11h8m-7-3h8m97 8h8m24-1h8m2-2h8m-2-1h8m18-1h8m-197 9h8m2 5h8m108 0h8m0-4h8m10 3h8m-7 2h8m-2 0h8m-2-6h8m-4 1h8m-183 14h8m136-4h8m17 1h8m1-1h8m8 3h8m-201 4h8m137 4h8m5-2h8m-6 5h8m-5-4h8m7 1h8m-6-4h8m-2 3h8m-48 12h8m-8 3h8m-7-8h8m-5 6h8m-4 2h8m3-9h8m-64 18h8m23-4h8m21 2h8m-6-5h8m0 2h8m2 6h8m-8-8h8m-83 9h8m17 2h8m-6 7h8m20-5h8m11 4h8m-60 6h8m-8 4h8m-2-5h8m-7 6h8m-5-6h8m-6 1h8m-2-1h8m-3 3h8m-6 1h8m-7 0h8m-5-3h8m0 1h8m3-4h8m-3 7h8m-2 1h8m-63 2h8m-7 7h8m-7-4h8m-1 3h8m14-3h8m9 5h8m-63 2h8m-2 3h8m-5-2h8m17 4h8m-5-1h8m7 0h8m-1-3h8m-82 17h8m6-8h8m-7 1h8m-7 1h8m-6 1h8m2 2h8m-7 2h8m2-3h8m-1-5h8m-4 2h8m-2 0h8m9 6h8m-3-7h8m-80 10h8m18 8h8m13 0h8m14-5h8m-7-1h8m-81 14h8m-6-2h8m-6-5h8m-4 6h8m-8-6h8m-6 4h8m-7-3h8m6 6h8m-6 2h8m-6-2h8m-2 2h8m-4-9h8m-5 4h8m2 5h8m-7-1h8m-57 7h8m0-3h8m18 4h8m15 3h8m6-1h8m-13 2h8"/><path stroke="#28ae80" d="M3269 2262h8m-24 12h8m-4 0h8m-17 9h8m9 0h8m-11 10h8m-3 28h8m-18 12h8m4 17h8m-16 17h8m-16 8h8m4 5h8m-29 18h8m9-7h8m-29 11h8m-37 20h8m50 2h8m-70 9h8m-2 3h8m-16 12h8m2-7h8m-1 3h8m13 0h8m17 15h8"/><path stroke="#6a4a8a" d="M2851 2628h8m-80 3h8m-4 5h8m-4-3h8m-7-1h8m-7 7h8m-5-7h8m-6 4h8m-4-2h8m-7 1h8m-8-4h8m-8 6h8m-6-5h8m-7 0h8m-4 3h8m-7 0h8m-8 1h8m-4 1h8m-8-4h8m-7 0h8m-7 0h8m-5-1h8m-8 3h8m-4-2h8m-6 0h8m-7 3h8m-5 0h8m-8-1h8m-2-4h8m-8-1h8m-5 8h8m-8-3h8m-8 2h8m-7-4h8m-7-1h8m-7 3h8m-8 2h8m-8-3h8m-8-4h8m-4 9h8m-4-5h8m-8 2h8m-7-3h8m-2 0h8m-7-1h8m-1-2h8m-8 3h8m-8 0h8m-7 1h8m-6-2h8m-6 2h8m-8-3h8m-3 5h8m-7-1h8m-7-1h8m-7-2h8m-7 0h8m-3 1h8m-8-3h8"/></g>
<g fill="none" stroke-width="8" transform="scale(.1)"><path stroke="#440154" d="M4059 2086h8m-7 1h8m35 2h8m-1-4h8m-7 1h8m-6 1h8m-3-4h8m-5-3h8m-5 5h8m-58 7h8m-8 0h8m-5 3h8m-7 2h8m-1-2h8m11-2h8m4-3h8m-2 6h8m-4-4h8m-8 0h8m-81 17h8m-3-1h8m-3 1h8m-3-3h8m-2-4h8m-3 2h8m-3 2h8m-7 2h8m-8 0h8m-3-4h8m-2-1h8m-3 1h8m-2 2h8m5-5h8m-93 14h8m-1 1h8m-7 2h8m1-5h8m-4-1h8m-4-2h8m-6 3h8m-3-3h8m-8 7h8m5 0h8m1-7h8m-6 4h8m7 5h8m-4-1h8m-6-3h8m1 2h8m-8 1h8m-71 7h8m-3 3h8m-7-6h8m-6 5h8m-8 2h8m-1-6h8m-3 3h8m-5-2h8m-7-4h8m1 6h8m-3 1h8m0-3h8m-5 1h8m-6-1h8m-3 1h8m-7-4h8m-5 0h8m5 3h8m-8 4h8m-7-2h8m-100 4h8m9 6h8m-7-1h8m-6-1h8m-5-4h8m-8 0h8m-8 1h8m1 8h8m-4-8h8m0 8h8m2-2h8m-8 0h8m0-3h8m-1 4h8m-3-3h8m-7 3h8m-5-7h8m-6 6h8m-3-5h8m6 6h8m-6-5h8m-7 2h8m-118 5h8m0 8h8m6 1h8m-7-3h8m-6-5h8m-8 8h8m-6-2h8m-7-6h8m-7 3h8m-3 4h8m-8-1h8m-2-1h8m6 2h8m0-4h8m-7-2h8m-4 4h8m-7-1h8m-6 2h8m5-3h8m-6 5h8m3-8h8m-5 6h8m-4-5h8m-117 13h8m-2-5h8m14 9h8m-4-8h8m-7 3h8m-7-1h8m-8 0h8m-2 5h8m1-7h8m-6 5h8m-5-2h8m-8 3h8m-8 1h8m-7-4h8m11-4h8m6 4h8m-7-2h8m-8 2h8m-3 1h8m-8 1h8m-1 3h8m-7-1h8m-5-1h8m-8-4h8m-3 1h8m-7 3h8m-7-2h8m-7 1h8m-6 1h8m-7-3h8m-8-3h8m-6 2h8m-4 0h8m-7 0h8m-4 5h8m-8 1h8m-132 7h8m-6 1h8m-6-1h8m7-3h8m0 4h8m-2 2h8m-6-1h8m-7-6h8m-7 5h8m-7-5h8m-2 3h8m-7 3h8m-5-3h8m-6-2h8m-4 3h8m-8-3h8m-7 1h8m8-1h8m-3 2h8m6 2h8m9-4h8m-2 0h8m-3-3h8m-8 2h8m-5-1h8m-133 13h8m-7 5h8m-6-5h8m-5-4h8m-8 1h8m-5-1h8m-1 8h8m-4-8h8m0 5h8m-4 1h8m-7-4h8m-7 5h8m-7 1h8m-5-1h8m-6 1h8m-4-8h8m0 7h8m-2 1h8m-5-7h8m-7 1h8m-7 1h8m-8 5h8m-5-2h8m-6-5h8m-6-1h8m-6 1h8m1-1h8m-7 2h8m-8 7h8m-7-2h8m-6-7h8m-5 2h8m-7 5h8m-4 2h8m-4 0h8m-1-8h8m-2 6h8m-6-3h8m-5-4h8m-4 2h8m-2 6h8m-3-1h8m-139 9h8m-2-5h8m-7-1h8m20 1h8m-8 6h8m-2 2h8m-6 0h8m1-4h8m0-5h8m-3 7h8m-2-7h8m-5 6h8m-5-4h8m-4 6h8m-6-1h8m2 2h8m-1-9h8m-6 9h8m2-5h8m-6 4h8m1 0h8m-3 1h8m-8-2h8m-7-3h8m-142 13h8m-6 2h8m-5 0h8m27-2h8m-5-5h8m-7 0h8m-7 2h8m-7-2h8m-8 7h8m-6-7h8m-6-2h8m-8 0h8m2 2h8m-7-1h8m-6 5h8m-1 1h8m-5-4h8m-7-1h8m-8-2h8m-6 1h8m-7-1h8m-8 0h8m-3 3h8m0 4h8m-7-7h8m-8 0h8m-7 6h8m-6 2h8m-7-1h8m-7-5h8m4-1h8m-1 3h8m2 1h8m-2 1h8m-7-2h8m-7 5h8m3-4h8m-152 13h8m-8-4h8m-6-3h8m-6 6h8m-6-7h8m3 8h8m19 1h8m-7-3h8m3 2h8m-6 0h8m-8 0h8m-6-4h8m-7-4h8m-1 9h8m-6-6h8m-7 1h8m-8 1h8m0-1h8m-3 1h8m-4-1h8m-7-4h8m-6 8h8m-7-4h8m-7 0h8m4 4h8m-4 1h8m-7 0h8m-3-3h8m-5 2h8m-5-4h8m-7-3h8m-2 6h8m-7 2h8m-7-9h8m-7 7h8m-1-1h8m-7-4h8m-8 0h8m-6 1h8m-158 14h8m-6 2h8m-1-7h8m21 7h8m5-5h8m-5 3h8m-8 1h8m-5-5h8m-7 6h8m-6-2h8m-3 2h8m-4-1h8m-8-4h8m-4-2h8m-2-2h8m4 1h8m2 4h8m-8 4h8m-7-9h8m7 4h8m2-4h8m-1 6h8m0-2h8m-4-4h8m-7 9h8m2-4h8m-1-2h8m-183 12h8m-6 4h8m-6 0h8m-5-9h8m-2 0h8m-5 4h8m-7 2h8m29 2h8m-1-1h8m-5 2h8m-3-6h8m-8 4h8m-7-3h8m-7 0h8m-4-4h8m-8 2h8m5 1h8m12 2h8m-5 2h8m-4-6h8m-8 0h8m4-1h8m-5 2h8m0 0h8m-5-2h8m-6 6h8m-7-3h8m-4-2h8m-8-1h8m-5 5h8m-6 1h8m-3 3h8m-6-9h8m-4 3h8m6 4h8m-6-4h8m-194 13h8m-7 3h8m-5-6h8m-7 1h8m-3-1h8m-5 0h8m22 6h8m27-2h8m-6-6h8m-7 7h8m-7-4h8m5-4h8m1 0h8m-4 7h8m1-3h8m4-4h8m5 4h8m1 2h8m-7-4h8m-3 6h8m1-4h8m-4 2h8m-4 3h8m-7-4h8m-187 14h8m-4-5h8m-7 5h8m-8-8h8m-4 3h8m4 5h8m0-8h8m-7 1h8m-5 2h8m-1 0h8m27-1h8m-6 2h8m-4-4h8m-2 6h8m13 1h8m4-8h8m4 2h8m-7 1h8m0-1h8m16 6h8m-2-5h8m-7-2h8m-6-1h8m-5 5h8m-8 1h8m-8-1h8m0-1h8m-2 2h8m-7-1h8m-1 2h8m-220 12h8m-3-1h8m51 0h8m-8 0h8m9 0h8m-4-5h8m-6 4h8m-4-6h8m-6 2h8m-6 2h8m-7-1h8m-3-1h8m-4 4h8m-5-3h8m-6-3h8m-4 4h8m-5-3h8m-2 7h8m-6-2h8m8 2h8m-5-8h8m-8 5h8m-4-2h8m3 1h8m-4-4h8m-8 3h8m3-4h8m-8 0h8m-4 8h8m-1-6h8m-5-1h8m1 3h8m6 3h8m-6-3h8m-226 12h8m-6-3h8m-7-1h8m-4-1h8m-4 6h8m-5 2h8m74-4h8m-7 4h8m-4-9h8m0 3h8m-6 6h8m-3-7h8m0 6h8m-8-7h8m-4 2h8m-5 6h8m-7-4h8m6-5h8m19 5h8m-7-3h8m-7-2h8m31 1h8m-8 0h8m10-1h8m-251 16h8m-7 1h8m-7-1h8m-8 2h8m-2-2h8m-6-2h8m-5-2h8m-4-1h8m1 7h8m10-2h8m2-5h8m-6 0h8m6 3h8m5-1h8m8-3h8m1 9h8m-6-2h8m-7-4h8m-8 2h8m-7-3h8m-6 4h8m-3 1h8m0-3h8m0-3h8m-1 8h8m-7-1h8m-3-2h8m-4 1h8m2 0h8m-2-4h8m-5-2h8m-8 2h8m-1 2h8m-3-4h8m-4 5h8m-7-3h8m-6-3h8m-1 1h8m-2 3h8m-5 2h8m1 2h8m0 1h8m6-3h8m-8-2h8m-3 3h8m-7 2h8m-3-2h8m-7-3h8m-269 9h8m-8 2h8m-8 1h8m-6 2h8m24-3h8m21 4h8m26-6h8m20 3h8m-8-3h8m-5 1h8m-5 1h8m-7-4h8m-2 8h8m1-5h8m-5-3h8m-1 2h8m-2-1h8m5-2h8m-5 2h8m-5 1h8m-8-3h8m4 5h8m26-3h8m-1 3h8m-8-2h8m-1-1h8m-5-1h8m-5 3h8m-5 3h8m-6-7h8m-5 9h8m-279 10h8m-5-2h8m-7-4h8m-7 0h8m-1 0h8m-7-2h8m-6 5h8m79 2h8m-5 0h8m-4-5h8m1 0h8m3 6h8m-5-4h8m-2-1h8m-3 4h8m-6-3h8m-8-2h8m-8 2h8m10-1h8m-4 1h8m-8-4h8m-4-1h8m-3 8h8m-4 0h8m-8-7h8m-7 7h8m-7-5h8m-4-2h8m2 4h8m-7-4h8m-4 8h8m-4-4h8m6-2h8m-5 5h8m-5-4h8m-1 4h8m-5-4h8m-3 3h8m-6-7h8m-5 2h8m-6 1h8m-7 0h8m-5 3h8m-3-5h8m-7 2h8m-7-1h8m-5 2h8m4 1h8m-7 2h8m-3 2h8m0-5h8m-302 14h8m-3-1h8m-8 0h8m-3-2h8m-7-3h8m-8-1h8m-6-1h8m29 3h8m57-2h8m7 7h8m-7-5h8m-2-1h8m-4 0h8m0 3h8m-7 3h8m-7 1h8m-6-5h8m11-4h8m21 5h8m1 4h8m12-4h8m-1-5h8m-5 2h8m-6 2h8m-4-2h8m-6 6h8m-6-5h8m-6 1h8m-3 2h8m-7-6h8m0 1h8m14 5h8m-293 11h8m58-2h8m12 2h8m7-1h8m5-2h8m11 1h8m-3 1h8m3 2h8m-7-7h8m-3 4h8m-4-1h8m3 4h8m-8-2h8m-1-1h8m8-4h8m9 3h8m-5 4h8m-3-4h8m12 2h8m-8-3h8m-4 0h8m-2 3h8m-4-2h8m-4 2h8m9-5h8m-5 4h8m-3-3h8m-1 6h8m-3-2h8m-6-4h8m-7 6h8m-312 5h8m-3 0h8m29 5h8m27-3h8m5-5h8m39 9h8m-5-7h8m-4 3h8m-4 1h8m-4-6h8m0 0h8m-6 7h8m-1 1h8m0-3h8m-4 3h8m-1-3h8m-7 4h8m-6-5h8m6 4h8m11 1h8m-8-2h8m-7-6h8m0 3h8m-7 0h8m-7 2h8m-5 2h8m-1-6h8m1 7h8m-1-4h8m-4-3h8m-2 1h8m-5 3h8m-1-4h8m-4 5h8m-8-3h8m8-3h8m-319 12h8m0 2h8m112-2h8m4 3h8m-3 3h8m-1-3h8m-2-2h8m12 5h8m-2-5h8m-2-1h8m-6 4h8m-8 0h8m-5-1h8m4 2h8m4-7h8m-8 8h8m13-4h8m14 2h8m-8 0h8m-7-1h8m-4 0h8m-6 3h8m-4-3h8m15-6h8m-7 8h8m0 1h8m-6-9h8m1 6h8m-8 2h8m-332 2h8m-4 3h8m-8 4h8m-4-3h8m-3 5h8m53-9h8m30 3h8m28 6h8m-4 0h8m-3-8h8m-8-1h8m-6 1h8m0 3h8m-5 1h8m-7-1h8m-3 2h8m3-6h8m0 4h8m-7 3h8m4-5h8m-7 5h8m0-2h8m0-1h8m4 0h8m-4 5h8m-8-1h8m-6-1h8m6-5h8m-1 6h8m5-3h8m-8 4h8m-4 0h8m-7-5h8m-5 3h8m-8 2h8m8-2h8m-6 1h8m5-3h8m-3-5h8m-335 19h8m-6-5h8m-4 0h8m-7-2h8m14 0h8m110 0h8m0 4h8m-7 0h8m-5-3h8m-8 3h8m-4-2h8m-1 0h8m-5-3h8m-6 2h8m0 3h8m-3-4h8m-6 7h8m-4-5h8m-5-4h8m13 0h8m1 8h8m-7-5h8m-6-2h8m-5 5h8m-7-6h8m2 7h8m-5 1h8m4-2h8m-7 1h8m1-1h8m-7 3h8m-3-4h8m-2 0h8m3 1h8m-2 3h8m8-5h8m-1-3h8m10 8h8m-348 10h8m-7-5h8m-5-1h8m-6 1h8m-7-4h8m25 4h8m37-4h8m20 1h8m-3 8h8m28-1h8m-7 0h8m-5-1h8m-7-5h8m-7 1h8m-2-1h8m-6 6h8m9-3h8m14-5h8m-7 8h8m-1-7h8m-7 8h8m-3-5h8m-1-2h8m1 6h8m-3-4h8m1 5h8m-4-9h8m10 8h8m9-2h8m9-2h8m11 1h8m2-1h8m-2 4h8m-358 8h8m-7-1h8m-7 3h8m-8-5h8m-2-2h8m2 1h8m-1 7h8m4-4h8m0-2h8m-3 6h8m43-4h8m6 2h8m10-7h8m13 4h8m-3 4h8m-1 1h8m-7-6h8m-7 5h8m-6-8h8m-6 6h8m-8-1h8m-1 3h8m0-8h8m-7 9h8m-6 0h8m0-1h8m-8-4h8m27 0h8m-7-1h8m3 6h8m-2-7h8m-6 3h8m-5-1h8m-7-1h8m-7 5h8m-5 1h8m-4-6h8m-3 3h8m4-4h8m10 6h8m14-6h8m-2 4h8m-5 0h8m-8-5h8m-7 3h8m2-1h8m-2 5h8m-5-7h8m-363 12h8m-7 6h8m-6-7h8m-6 3h8m-8-4h8m-1 4h8m53 3h8m18-1h8m44-4h8m-5 2h8m0-2h8m-7 4h8m-7 1h8m-6-5h8m-8 2h8m-4-5h8m-1 7h8m32-3h8m-7 0h8m0-3h8m-8 7h8m-7-6h8m1-2h8m20 9h8m1-1h8m-7 0h8m-3-6h8m-6 2h8m-2-4h8m-7 2h8m-3 6h8m2-7h8m12 8h8m-7-4h8m-339 9h8m-3 0h8m28 0h8m54 4h8m50-6h8m-5 6h8m-5-5h8m-8 5h8m-5-3h8m0 1h8m-3-2h8m5-2h8m-4 1h8m-5-2h8m16 5h8m0 1h8m-3-6h8m15 6h8m-1-3h8m4-2h8m5 7h8m-8-3h8m11-4h8m-4 0h8m14 3h8m6 3h8m1-8h8m-377 14h8m-7 3h8m-8-1h8m-6 2h8m-6-8h8m-8 2h8m26 6h8m10-8h8m-4 6h8m-5 2h8m41-8h8m18 6h8m11-3h8m-5 0h8m-7 5h8m-3-3h8m-2-1h8m-8-2h8m-6 0h8m-7-2h8m10 8h8m3-4h8m1-2h8m-3 6h8m0-2h8m3-2h8m-7 3h8m11 1h8m-1-8h8m16 1h8m-5 0h8m0-1h8m1 5h8m0-4h8m-7 5h8m15 0h8m0-3h8m-6-1h8m1-1h8m2 5h8m-371 11h8m34-7h8m-7 0h8m5 1h8m18 2h8m36 4h8m18-6h8m-5 6h8m-1-6h8m-6 7h8m-2-3h8m7-5h8m-4 0h8m7 7h8m17 1h8m33-6h8m67 7h8m-1-2h8m-4 2h8m-5-8h8m-8 4h8m-7-5h8m-384 14h8m-6-3h8m-8 7h8m-8 1h8m-8-2h8m-7-3h8m95 4h8m0 0h8m40-5h8m-1 2h8m3 1h8m14 0h8m17-4h8m6 7h8m6-8h8m1 8h8m17-2h8m14-2h8m-4 2h8m-6-6h8m16 8h8m33-9h8m-2 0h8m-396 11h8m-4 7h8m7-2h8m26 1h8m7 0h8m-4-6h8m46-1h8m38 3h8m-7 2h8m-8-2h8m19 0h8m32-1h8m8 2h8m60-3h8m52 0h8m-403 10h8m-4 6h8m-7-4h8m5 3h8m15-2h8m18-4h8m-1 9h8m-1-4h8m29-2h8m9 1h8m-3 1h8m-6 2h8m26-1h8m-7 2h8m-7-4h8m-7 1h8m-5-2h8m-3 5h8m11 0h8m14-8h8m72 3h8m54-3h8m-4 7h8m6 2h8m-401 6h8m75-5h8m40 9h8m8-2h8m26 1h8m8-5h8m56-2h8m50 0h8m58 6h8m0 0h8m-1-7h8m-411 16h8m-7 3h8m-7-3h8m-1-2h8m-7-1h8m20-1h8m6 6h8m101-8h8m-6 5h8m-7-3h8m-6-2h8m1 7h8m-4-7h8m-7 3h8m-6 3h8m-2 3h8m51-8h8m40 2h8m89 1h8m6-1h8m-420 16h8m-6-2h8m-6-2h8m-8-3h8m20-2h8m18 0h8m6 8h8m46-8h8m4 6h8m-7-3h8m12 4h8m-1-7h8m-3 0h8m-3 9h8m-2-7h8m-7 5h8m-5-4h8m2 6h8m180-6h8m-3-2h8m2 7h8m9-4h8m-1 3h8m-3 2h8m-445 9h8m2-6h8m-8-1h8m29 6h8m50-7h8m15 8h8m-8-8h8m-3 8h8m27 0h8m-7 0h8m-6-2h8m-7-4h8m-8 1h8m-5 6h8m-4-3h8m-7 1h8m-7-2h8m-6 4h8m-3-1h8m-2-5h8m-2 2h8m179-4h8m16 4h8m-420 10h8m28 3h8m62 0h8m45-7h8m6 5h8m-4-4h8m-4 0h8m-2 6h8m-3 0h8m-6-3h8m-7-2h8m-7 6h8m-8-4h8m-2-3h8m-8 3h8m-7 1h8m190-5h8m6 3h8m16-1h8m-459 11h8m0 2h8m-7-1h8m-5-1h8m-8-4h8m11 2h8m2-1h8m31 4h8m-7 4h8m44-3h8m41-2h8m7-1h8m7 0h8m-7-2h8m-6 0h8m234 2h8m-471 16h8m-2-7h8m-7 1h8m-8 3h8m-5 0h8m-7-5h8m-7 0h8m-8 3h8m127 5h8m-2-1h8m269 0h8m-4-2h8m-445 11h8m-6-1h8m32 2h8m19-2h8m78 2h8m-4-6h8m37 0h8m-8 3h8m-5-2h8m-1 4h8m216-2h8m-2 4h8m-450 3h8m3 2h8m16 3h8m28-5h8m32 0h8m34 6h8m39 0h8m-4-1h8m-4-7h8m249 2h8m-485 16h8m-6-4h8m-7 2h8m-7-3h8m-6 2h8m-8 0h8m86 4h8m66-1h8m-7-2h8m12 3h8m0-3h8m15-2h8m4 5h8m205-1h8m-4 1h8m-4-8h8m-1-1h8m3 6h8m-495 9h8m-7 0h8m-5-2h8m0-3h8m-5 1h8m12 0h8m18 7h8m-6-4h8m49 3h8m51 0h8m7 2h8m-3-2h8m-1-7h8m21 7h8m219-7h8m11 2h8m-500 13h8m-4 4h8m-8-3h8m-6-4h8m-1 2h8m49 0h8m-8 1h8m-5-4h8m-3 3h8m110 2h8m0-6h8m-4 4h8m15 5h8m2-5h8m241-4h8m4 2h8m-7 4h8m-517 5h8m-5-1h8m-2 1h8m-6 0h8m-5-1h8m108 5h8m-5-2h8m36 4h8m19 0h8m2-1h8m2-1h8m253 3h8m-3-3h8m-5-5h8m-518 17h8m0-2h8m-7 2h8m-6-2h8m-2-5h8m34 0h8m-1 7h8m30 1h8m35-3h8m22-1h8m44 2h8m2 2h8m-4 1h8m-6-6h8m-4-1h8m257 0h8m-530 14h8m-7 3h8m-4-5h8m-5-1h8m-5-2h8m-5-1h8m-5 0h8m9 5h8m4-3h8m116 4h8m3 2h8m-6 0h8m-6-3h8m11-5h8m-7 6h8m16 2h8m19-5h8m243 4h8m-4-7h8m22 1h8m-5 6h8m4 2h8m-574 9h8m-8-4h8m-5 5h8m-2-4h8m21-4h8m51 3h8m15 4h8m-3-6h8m4 4h8m21-4h8m3 2h8m1 4h8m10-8h8m-3 5h8m32 0h8m-6 3h8m-6-2h8m255 3h8m23-6h8m11 5h8m-580 9h8m-3-4h8m-8 4h8m-4-5h8m11 1h8m22 1h8m24 4h8m7-2h8m-6-3h8m6 5h8m11-6h8m2 1h8m24 6h8m-7-8h8m-4 2h8m-6 0h8m-5 4h8m19-5h8m3 2h8m-5 1h8m3 0h8m4 2h8m281-4h8m6 0h8m-569 12h8m37-1h8m27 0h8m29-4h8m36 7h8m5-4h8m29 5h8m14-1h8m9 1h8m249-5h8m-4 2h8m-2 4h8m21-9h8m-4 7h8m-571 9h8m8-1h8m-7-1h8m14-3h8m-3-1h8m-4 7h8m3-4h8m46-1h8m33 7h8m-4-3h8m5 3h8m-4-8h8m-2 2h8m20 1h8m0 5h8m1-5h8m-8 1h8m296-4h8m-6 6h8m16 1h8m-5-3h8m-7 3h8m-575 5h8m0 5h8m6-2h8m-6 2h8m-2 0h8m29 1h8m12-9h8m31 7h8m14-6h8m2 0h8m-6 0h8m2 2h8m-1-1h8m-4 7h8m4-9h8m12 5h8m42 1h8m236 0h8m2 2h8m4-4h8m12-3h8m19 6h8m-6-4h8m11-3h8m-608 12h8m-7 2h8m-6-3h8m-1 7h8m-2 1h8m10-1h8m9-1h8m21-6h8m60 0h8m7 6h8m4-3h8m39 5h8m0-6h8m-8-1h8m-1 5h8m-6 1h8m38-8h8m242 1h8m2-1h8m-6 2h8m-6 7h8m-8-3h8m11 3h8m-1-1h8m-5-7h8m9 6h8m-597 7h8m16 5h8m27-5h8m18-4h8m10 5h8m0-1h8m20-2h8m-3 3h8m-1 4h8m6-3h8m-3 3h8m2-3h8m0-3h8m10-1h8m-5-1h8m-6 6h8m49-3h8m200-3h8m22 3h8m0 0h8m-521 7h8m6 1h8m8 4h8m10-6h8m2 3h8m1 3h8m0 2h8m6-5h8m-1 4h8m52-7h8m22 7h8m-1-2h8m-7-1h8m-7-2h8m-3 5h8m-7-1h8m-5-1h8m1-4h8m236 0h8m-472 16h8m11 2h8m2-2h8m3-5h8m-4 1h8m-7 2h8m22-4h8m-2 7h8m8-7h8m18 1h8m17 5h8m0-5h8m12 2h8m-3 3h8m3-4h8m-5 4h8m4-7h8m-219 10h8m-6 1h8m-6 3h8m-4-2h8m1 7h8m34-1h8m21-4h8m-5 5h8m7-6h8m1 6h8m64-6h8m3-3h8m45 6h8m47-5h8m-315 9h8m-7 1h8m-8 8h8m-3-3h8m61-6h8m21 2h8m-5 6h8m-4 1h8m-2-9h8m-7 6h8m-7-4h8m3 5h8m9-7h8m24 0h8m-2 0h8m2 3h8m-4-2h8m30 1h8m32 3h8m-287 11h8m-1-1h8m-7 0h8m6-1h8m-3-1h8m3 3h8m-7 1h8m37-1h8m1-1h8m34 3h8m23-2h8m-7 0h8m-5-3h8m-180 12h8m-2-5h8m-5 6h8m47 1h8m39-1h8m7-3h8m-3 2h8m13 3h8m-2 0h8m-8-3h8m-6-2h8m-2-1h8m-5 5h8m45-5h8m-1 1h8m-241 16h8m-4-6h8m-5 4h8m-7 1h8m-3-8h8m10 8h8m26-3h8m9-5h8m37 4h8m-1 1h8m-3 2h8m-4-1h8m-3-4h8m-6-2h8m-8 2h8m-5 3h8m3 1h8m29 3h8m0-5h8m-2-4h8m-218 14h8m-6-2h8m-7-2h8m-8 2h8m-6-1h8m-7 5h8m-8-2h8m3 2h8m-8 2h8m-3 1h8m14-6h8m30 3h8m12-4h8m-1-2h8m11 7h8m-3-3h8m1-3h8m-6-1h8m12 8h8m8 0h8m6-7h8m-200 13h8m-2-4h8m12 7h8m4-4h8m4-2h8m18 0h8m12 8h8m-3-2h8m7 2h8m37-6h8m-4 1h8m-5-3h8m-184 15h8m-6-2h8m25 2h8m-5-1h8m7-5h8m-7 7h8m-4 1h8m-7-6h8m37 7h8m4-7h8m-2-1h8m-7 4h8m-6-4h8m5-1h8m0 5h8m6-4h8m-166 10h8m-6 7h8m-5 1h8m-5 0h8m23-3h8m31-4h8m6-2h8m-3 6h8m-6-1h8m-3 1h8m-2-5h8m-1 4h8m5 2h8m0-7h8m-148 17h8m-7-3h8m-7 2h8m-6-3h8m-3 1h8m-2-2h8m-5 5h8m19-4h8m-6 5h8m-2-3h8m-5 1h8m8 2h8m0-8h8m-1 3h8m0 3h8m11-2h8m2 3h8m-7-2h8m-4-3h8m-6 6h8m-7-1h8m-144 9h8m5-4h8m30 4h8m-7-2h8m23-4h8m-4 2h8m-4-1h8m-7 0h8m-8 8h8m-3-3h8m-7-6h8m-4 1h8m-3 2h8m21-2h8m-150 18h8m-2-3h8m-6-2h8m23 3h8m-3-5h8m-5 3h8m6 0h8m11-4h8m0-1h8m31 5h8m-129 11h8m-8-6h8m33 4h8m13-2h8m-7 7h8m-8-5h8m-1 3h8m5-4h8m2 6h8m-7-1h8m-5-5h8m-8 6h8m-1-8h8m-4 5h8m-123 13h8m9 0h8m12-4h8m7 4h8m-2-3h8m-4 1h8m-5 2h8m-8-5h8m-8-3h8m-3 3h8m22-4h8m2 3h8m-118 9h8m-1 0h8m3-1h8m-6 5h8m19-4h8m-6 5h8m-5 2h8m-4 0h8m-7-4h8m-7 0h8m-3-5h8m11 2h8m-7-1h8m-89 10h8m-8 0h8m-7 5h8m-7-1h8m-8-5h8m32 4h8m10 5h8m-8-7h8m-8-2h8m-3 7h8m3-7h8m-7 9h8m-91 10h8m-7-9h8m-6 9h8m26-8h8m-8 6h8m-7 0h8m4-7h8m7 7h8m-7-3h8m-7 3h8m-8-1h8m-6-4h8m-74 17h8m2-3h8m-7-1h8m-4 2h8m-2-6h8m2 5h8m0 3h8m-57 5h8m-3 0h8m-6-2h8m-1 5h8m-4-4h8m-6 0h8m9 3h8m6-5h8m-53 18h8m15-7h8m-1 1h8m-47 11h8m-7-4h8m-8 9h8m15-4h8m-6-1h8m-4 0h8m-8 0h8m4-3h8m-46 14h8m-6-3h8m-7-2h8m-7 6h8m-5-1h8m-4 2h8m-8 0h8m-8 2h8m-3-2h8m1-5h8m-6 1h8m-39 9h8m-8 6h8m-7-2h8m0-1h8m-8-1h8m-7-4h8m-6 0h8m-23 19h8m-7-3h8"/><path stroke="#472d7b" d="M4122 2078h8m-8 7h8m-63 13h8m-6-3h8m-7 3h8m-6 1h8m-4-7h8m-27 11h8m-3 4h8m-3-7h8m17 2h8m16 5h8m-87 11h8m20-6h8m-2 1h8m-3 4h8m-6-1h8m-3-2h8m7 2h8m10-6h8m-84 19h8m6-3h8m-2-3h8m32 0h8m5 6h8m-3-5h8m1-1h8m-99 15h8m1-6h8m6 7h8m-7-8h8m0-1h8m-6 3h8m5-3h8m30 6h8m9 2h8m-108 3h8m17 7h8m7-4h8m0 4h8m-6-5h8m0-1h8m-7 2h8m-5 0h8m-6 3h8m-7-2h8m1-1h8m-2 1h8m-4-1h8m-5 0h8m-6 3h8m-2-1h8m-5-2h8m-6-4h8m-116 12h8m1 6h8m5-6h8m-7-1h8m-3 8h8m6-9h8m-1 6h8m-4-6h8m17 5h8m-2-5h8m-6 6h8m17-2h8m-120 6h8m-5 4h8m-5-2h8m-1-2h8m3 4h8m4 0h8m11-2h8m-3 1h8m-5 0h8m-1 5h8m-4-3h8m18 4h8m12-8h8m-6 1h8m-110 8h8m1 4h8m2-1h8m9 5h8m-1-3h8m36 3h8m11-3h8m-146 13h8m1-8h8m27 4h8m-6 1h8m21-1h8m-2 0h8m10 1h8m1 2h8m10 0h8m-132 10h8m0-5h8m-7 4h8m25-1h8m-6-4h8m-5 0h8m-1 0h8m2 8h8m8-6h8m-2 6h8m-1-2h8m18-7h8m-8 6h8m10 3h8m6 0h8m-163 7h8m-5 1h8m38-5h8m1-1h8m6 7h8m32 0h8m8 0h8m6-6h8m5 3h8m-162 9h8m8 1h8m38 4h8m5-9h8m2 3h8m-3-3h8m13 5h8m28-3h8m-7 3h8m-5 1h8m-110 10h8m1-5h8m4 6h8m13 0h8m11 1h8m10 0h8m-2-2h8m1-5h8m-5 8h8m-5-1h8m-1-5h8m-5 3h8m-109 13h8m-6-3h8m10-5h8m-3 6h8m-1-2h8m7-3h8m21 4h8m-4-5h8m6-1h8m-5 3h8m-188 11h8m79 3h8m-3-5h8m-6 2h8m16 3h8m-7-3h8m26 3h8m8-5h8m-4 1h8m-4 1h8m4 3h8m-6-4h8m-7 1h8m-201 12h8m44 0h8m17-2h8m-2-3h8m-5-1h8m1 0h8m-5 5h8m-5 3h8m8-4h8m3 5h8m9 0h8m2-8h8m-4 8h8m-8-6h8m33-3h8m1 5h8m-232 10h8m81 1h8m44-2h8m8 0h8m-2 5h8m-5-4h8m-5 3h8m-6-4h8m-6 1h8m40 1h8m-245 12h8m-6-4h8m-8 5h8m3-8h8m-1 1h8m23-1h8m57 2h8m-6 2h8m4 3h8m-8-2h8m-1-1h8m-8 3h8m-5-2h8m3 0h8m3-5h8m-4 8h8m-8-5h8m5-4h8m9 3h8m-7 5h8m0-7h8m-7 2h8m-5 4h8m2-7h8m-5 0h8m10 4h8m-255 13h8m-4-5h8m71 7h8m27-9h8m1 5h8m15-3h8m22 5h8m11-5h8m28-1h8m-2 3h8m-7 2h8m2 0h8m-274 7h8m1 4h8m-7-6h8m32-1h8m5 8h8m53 0h8m10-6h8m46 1h8m-1-1h8m13 4h8m10 3h8m4-2h8m-1-4h8m-5 5h8m-7-2h8m-3 2h8m-2-8h8m-293 16h8m-8-6h8m-7 0h8m-7 2h8m36 7h8m50-9h8m12 5h8m15 1h8m0 1h8m15-1h8m26-1h8m5 3h8m-247 11h8m-1-6h8m83 5h8m-8-6h8m8 1h8m30 2h8m0-2h8m26 1h8m-3-1h8m4 1h8m-2-2h8m5 6h8m2 0h8m3-3h8m-5 4h8m37-7h8m-7-2h8m-307 19h8m-7-2h8m-8 2h8m40-9h8m53 3h8m24 4h8m-7 0h8m-5-2h8m-4-3h8m-5 0h8m0 5h8m-2 2h8m-7-7h8m-8 6h8m39-5h8m8 2h8m5-4h8m-7 2h8m-7 4h8m10 0h8m-7 1h8m-2-4h8m9 4h8m-5-1h8m-5 0h8m7-1h8m-320 4h8m-8 6h8m-6-5h8m20 2h8m104 6h8m1-6h8m4 0h8m6 1h8m10 1h8m1 4h8m-2-2h8m0-6h8m-8 7h8m-5-6h8m14 0h8m-7 7h8m14-3h8m-3-5h8m-5-1h8m-6 6h8m7 3h8m9-8h8m-326 14h8m21-3h8m62 6h8m14-1h8m20-4h8m-2-1h8m-3 7h8m20-6h8m-6-2h8m1 2h8m-5 0h8m0-3h8m-4 5h8m3-2h8m3-3h8m12 5h8m-7-5h8m4 8h8m38-1h8m-3-5h8m-215 16h8m26 1h8m-4-5h8m-7-3h8m5 1h8m0-1h8m-7 7h8m23-7h8m4 4h8m33 3h8m-1-3h8m7 0h8m1 1h8m16-5h8m0 6h8m-220 4h8m28 7h8m-7-8h8m-5 5h8m-2 1h8m-6-6h8m-4 8h8m7-6h8m14 0h8m1 0h8m-7 6h8m23-3h8m-4 0h8m0 0h8m18-1h8m6 0h8m-5 3h8m-5-6h8m9 4h8m-2 1h8m-341 12h8m-8-8h8m-4 3h8m-5 3h8m34-5h8m101 7h8m-5-7h8m-5 7h8m-7-5h8m6 5h8m-1-5h8m15 2h8m-4-5h8m19 9h8m-5-5h8m-6 5h8m-5-1h8m-5-7h8m4 6h8m0-7h8m-6 9h8m-2-5h8m-3 2h8m4 3h8m10-1h8m2 1h8m10-2h8m-360 9h8m52 2h8m21-2h8m66 3h8m-6-4h8m-6 0h8m-7 3h8m38-1h8m-2-4h8m6-3h8m35 7h8m-6-2h8m8 3h8m-4-7h8m-6 4h8m0 0h8m27-4h8m-362 14h8m2-4h8m2-1h8m148 3h8m-3-1h8m5 3h8m-1-4h8m42 5h8m-6 0h8m5 1h8m-6-1h8m-3 1h8m-7-7h8m10 8h8m-4-6h8m4 6h8m13-2h8m5 0h8m4-3h8m-7 0h8m-1 6h8m-365 10h8m9-2h8m68-5h8m-3 7h8m-5-8h8m84-1h8m-5 9h8m3 0h8m2-3h8m3 3h8m-3-9h8m14 4h8m-2 4h8m-8-1h8m14-2h8m-6 3h8m23 0h8m6-7h8m-6 5h8m1-1h8m-5-1h8m-7 4h8m-6-3h8m11 4h8m-6 0h8m-373 3h8m-8 2h8m129-4h8m6 1h8m3 8h8m16-4h8m26-2h8m-8 4h8m-5-7h8m0 8h8m3-1h8m2 2h8m3 0h8m-8-4h8m5 4h8m9-1h8m-6-3h8m16 4h8m2-6h8m8-1h8m-6 6h8m4-4h8m0-3h8m-7 0h8m-2 8h8m-398 6h8m-7 1h8m-7 2h8m19-6h8m139 4h8m-4-2h8m-2 3h8m-1-4h8m43-1h8m-3 3h8m8-4h8m2 2h8m-1 0h8m-7-3h8m10 6h8m-1-3h8m-8-1h8m-2 7h8m-4-7h8m-3 2h8m11 4h8m27-6h8m-388 14h8m-7 3h8m-7-6h8m-7 0h8m-8-2h8m41 4h8m103 4h8m-1-6h8m-6-2h8m-7 8h8m0-7h8m-2-1h8m17 4h8m-4 4h8m-3-6h8m6 2h8m-6 2h8m-5 2h8m16 0h8m-8-9h8m-4 4h8m0-3h8m-2 8h8m0-8h8m-4 2h8m5 4h8m4-1h8m-4 3h8m-6-8h8m-5 2h8m-4 0h8m16 4h8m-7-1h8m-1-1h8m4-5h8m4 0h8m-8 3h8m-227 11h8m-4 2h8m-7-1h8m-6-4h8m6 5h8m8-1h8m-3-5h8m3 1h8m11 4h8m3 4h8m14-4h8m-3-3h8m8 1h8m4 2h8m-1 3h8m17-7h8m10-1h8m-6 3h8m-8 3h8m4-6h8m19 2h8m-410 16h8m169-5h8m12 6h8m10 0h8m-7-4h8m-6-4h8m-4 3h8m-7 3h8m-5 0h8m-7-5h8m-7 0h8m1 4h8m15-2h8m1 3h8m5 0h8m-6-6h8m12 8h8m14-2h8m-3-7h8m-5 5h8m11 1h8m-7 3h8m8-6h8m4-3h8m-3 9h8m4-9h8m-1 6h8m-272 12h8m63-3h8m69-4h8m-2 2h8m-8 0h8m1 0h8m8 6h8m-7-6h8m9 6h8m-4-6h8m46 3h8m-7-1h8m-8 4h8m-3-6h8m-425 8h8m-6 5h8m67-6h8m62 3h8m-6-2h8m9 0h8m0 2h8m-7 0h8m-1-1h8m-5 4h8m-7 3h8m91-2h8m11-3h8m-7 2h8m-4-2h8m5-4h8m13 0h8m21 9h8m-6-9h8m-5 1h8m17 5h8m3 2h8m-7-1h8m-4-4h8m1 3h8m-442 9h8m-5-4h8m25 8h8m51-5h8m70 5h8m16-1h8m136-3h8m43 2h8m-6-1h8m-3 2h8m-5-7h8m-5 3h8m-2-2h8m0-2h8m-7 7h8m-2 2h8m-8-9h8m-6 9h8m-443 5h8m-6 0h8m47 2h8m52-5h8m-7 1h8m35 7h8m5-5h8m-7-3h8m3 5h8m11 3h8m-6-3h8m123-2h8m45 1h8m8-5h8m4 6h8m-7 0h8m0 3h8m-7-6h8m-401 14h8m52-6h8m73 2h8m177 1h8m26 3h8m-6 0h8m24 2h8m-442 4h8m29-3h8m71 6h8m250-6h8m36 7h8m-4 1h8m-4-2h8m-7-2h8m9 3h8m-8-4h8m0 1h8m-8-2h8m-6 3h8m-427 5h8m26 0h8m46 1h8m0 7h8m222-1h8m21-4h8m4 5h8m21-1h8m-4 2h8m-468 5h8m-5 5h8m-1-9h8m44 9h8m5-6h8m36 4h8m18 2h8m44-1h8m241-7h8m20 0h8m-6 7h8m-4-5h8m-6-1h8m0 6h8m-7-1h8m-505 12h8m-1-9h8m-7 5h8m5 3h8m26-7h8m43 3h8m10 1h8m80-4h8m20 6h8m180-1h8m18-4h8m-2 0h8m14 4h8m-5 3h8m-339 8h8m45-6h8m214 6h8m22-1h8m-1-3h8m8-1h8m1 0h8m-510 15h8m-5-5h8m-2-1h8m86 6h8m2-4h8m18 0h8m39-2h8m47 4h8m155-5h8m64 6h8m-4-4h8m24 7h8m-527 6h8m61 2h8m65-4h8m14 3h8m-7 0h8m16-5h8m259 2h8m14 1h8m1-2h8m-5 4h8m8-4h8m-535 16h8m1 1h8m8 0h8m158-6h8m31 0h8m-5 1h8m4 4h8m166-2h8m39 0h8m-7 3h8m30-6h8m10 4h8m1-2h8m-2-4h8m-3 3h8m-561 13h8m-1-3h8m123 5h8m351-1h8m11 1h8m-4-9h8m-5 0h8m-1 6h8m-3-3h8m-6-1h8m4 6h8m-550 6h8m6-4h8m31 6h8m107-3h8m66-1h8m219 2h8m15 1h8m-2-4h8m8-1h8m-8 2h8m6 5h8m-5-5h8m-2 0h8m-562 14h8m1-6h8m36 8h8m79-1h8m64-3h8m201 1h8m31 1h8m30 0h8m-3-3h8m-6 0h8m4 6h8m-6-1h8m0-8h8m4 5h8m-8 0h8m-2-4h8m-1 3h8m-3 2h8m-5-4h8m-585 15h8m90-5h8m-3-1h8m65 8h8m4-9h8m25 5h8m1-1h8m11-2h8m-4 1h8m-6 6h8m-7-9h8m1 5h8m-7-4h8m-2 0h8m0 4h8m158-5h8m6 3h8m25-1h8m11 0h8m-2 3h8m2 0h8m-4-2h8m7-3h8m6 8h8m5-6h8m-4 2h8m-2-4h8m-3 2h8m-516 13h8m9 2h8m50-2h8m9-5h8m7 1h8m20 8h8m11-5h8m14 1h8m26-3h8m132 5h8m19-7h8m-3 2h8m66 0h8m-1 4h8m1-2h8m3-1h8m-1 0h8m-571 10h8m69 3h8m45 2h8m0-5h8m19 6h8m41-3h8m8 1h8m9-3h8m39-4h8m87 1h8m57 3h8m38-1h8m16-2h8m8 7h8m-3-8h8m0 3h8m0 3h8m-3-6h8m-2 3h8m1 1h8m-567 15h8m35-9h8m142 6h8m45 3h8m43-9h8m11 6h8m44-6h8m26 6h8m35-2h8m10-1h8m19 6h8m-6-3h8m15-1h8m3-2h8m-8 6h8m15-9h8m4 2h8m-608 9h8m43 6h8m8 1h8m66-6h8m34 4h8m25-1h8m-8 0h8m-7 2h8m10-4h8m52 4h8m10 0h8m-2-2h8m59-2h8m41 4h8m42-5h8m9 1h8m71-1h8m-4-1h8m-590 11h8m40-1h8m-3 3h8m25-1h8m16 4h8m61 0h8m-1 0h8m6-1h8m44-1h8m33 2h8m39-4h8m124-2h8m-486 13h8m51 5h8m18-1h8m17 0h8m12-3h8m12-4h8m34 4h8m-2 2h8m1-1h8m-8 2h8m71 0h8m-6-7h8m-282 18h8m50-3h8m6-2h8m21-3h8m21 0h8m1 4h8m23-2h8m-7 1h8m-5 1h8m-3 0h8m31-3h8m24 2h8m-7 0h8m-272 8h8m56 7h8m0-6h8m4 6h8m8-7h8m21 1h8m17 5h8m3-7h8m-7 3h8m-7 0h8m-2-2h8m-7 0h8m28-2h8m-218 19h8m91-8h8m13-1h8m20 8h8m-6-6h8m8 0h8m22-2h8m24 9h8m-237 7h8m24 3h8m61-8h8m19 8h8m13-9h8m-6 2h8m-7 2h8m-7 0h8m-7-4h8m25 4h8m-7 1h8m-4-1h8m-8 4h8m-6-2h8m4-4h8m-6 1h8m-2 4h8m-118 6h8m20-1h8m6-1h8m-5-1h8m2 4h8m-2 0h8m5 1h8m-4-2h8m-3 3h8m-4 0h8m-163 11h8m31-2h8m37-2h8m0 0h8m-7-2h8m13 8h8m-145 1h8m1 4h8m17-4h8m-5 7h8m-6-7h8m52 9h8m-6-9h8m-5 3h8m-7 0h8m-5-1h8m10 7h8m2-1h8m-6 0h8m16-7h8m-164 10h8m10 8h8m20-4h8m18-4h8m-4 8h8m-4-5h8m-6 2h8m-4-3h8m-8-1h8m-6-2h8m-3 6h8m5-2h8m7 2h8m0 2h8m-6-5h8m-171 10h8m-7 1h8m10 1h8m16 3h8m47 1h8m-1-4h8m-3-4h8m-7 2h8m-4-2h8m-1 6h8m7-4h8m-4 4h8m-134 11h8m77-2h8m8-6h8m6 5h8m-2-1h8m0-1h8m-158 13h8m32 3h8m30-1h8m-7 0h8m-5-2h8m-7 1h8m-2-2h8m-6 1h8m-8-6h8m12 0h8m2 8h8m-4-2h8m-6 0h8m-7-6h8m-7 7h8m-121 12h8m10-7h8m0 3h8m24 1h8m-7-3h8m-8-3h8m-7 7h8m-4-4h8m-6 0h8m-7-1h8m18 4h8m-1-3h8m2-3h8m-134 12h8m48 0h8m7 0h8m-5 1h8m15 3h8m-5 2h8m-7-2h8m-7-4h8m-7 1h8m-5 5h8m-125 4h8m-2 0h8m-3 3h8m14 3h8m18 1h8m-8-5h8m-6 4h8m21-7h8m-7 8h8m-2-1h8m6-7h8m-93 12h8m12 5h8m12 0h8m-1-6h8m-2 7h8m-85 2h8m-3 4h8m10-4h8m0 7h8m-3-1h8m-4-3h8m-4-3h8m-7-1h8m-1 4h8m1-4h8m12 3h8m-7-3h8m-75 18h8m0-4h8m9-4h8m-8 0h8m8 8h8m-8-2h8m-6-2h8m-2-3h8m-7 1h8m-6 0h8m-7 1h8m-6 1h8m-2-4h8m-94 17h8m-4 1h8m-7-4h8m18-2h8m0 2h8m-5-4h8m2 1h8m-5 8h8m-7-7h8m-3 6h8m-6-3h8m-3-2h8m1-2h8m-49 13h8m8 5h8m-4-5h8m-2-4h8m-70 19h8m-6 0h8m-5-1h8m1-4h8m-8 1h8m1-4h8m-7 6h8m-2-4h8m-3 6h8m-3-5h8m-6-4h8m-6 1h8m-3 2h8m-55 14h8m-4-5h8m20-2h8m-43 12h8m-8 7h8m9-6h8m-5 0h8m-6 5h8m-32 6h8m-3-3h8m-8 4h8m-5-1h8m-8-2h8m-5 2h8m-7 1h8m-7-5h8m-6 0h8m-7 3h8m-23 8h8m-6 2h8m-7-2h8m-7 1h8"/><path stroke="#2c728e" d="M4081 2349h8m42 3h8m-72 16h8m41-6h8m30 3h8m-35 12h8m22-7h8m-90 15h8m24-1h8m25 0h8m21 5h8m5-6h8m-4-2h8m-8 5h8m5-5h8m-161 12h8m6 6h8m34-6h8m-4 6h8m8-3h8m15-2h8m44-2h8m21 6h8m-176 9h8m-5-7h8m6 6h8m0-1h8m10 4h8m19-9h8m30 0h8m44 6h8m7-1h8m-4 1h8m-190 8h8m3 0h8m-4 3h8m9-2h8m6-5h8m-1 0h8m-8 8h8m12-2h8m24 1h8m28-5h8m-4 2h8m10-3h8m-3 2h8m21 4h8m-217 5h8m11 3h8m1-1h8m6 0h8m0-3h8m23 2h8m-3-1h8m42-2h8m1 4h8m5-2h8m8 7h8m-4-7h8m-1 3h8m-197 9h8m21 5h8m24-2h8m12 2h8m8-3h8m4 3h8m13-8h8m40-1h8m-5 6h8m-5 2h8m-190 5h8m13-2h8m-5 7h8m-2-3h8m15 0h8m14 2h8m32 1h8m15 0h8m39-5h8m-207 16h8m-6-7h8m16-1h8m-5 0h8m5 0h8m1 7h8m8 1h8m4 0h8m40-2h8m-137 5h8m-6 5h8m-5 0h8m-2-1h8m-7 3h8m6-1h8m13 0h8m-8 0h8m17-1h8m-4-6h8m0 1h8m-6 1h8m-1 0h8m0 4h8m5-1h8m15-3h8m-5-3h8m16 0h8m-7 4h8m3 5h8m-147 9h8m-1-8h8m-4 0h8m9 3h8m-1-3h8m-7 3h8m35 3h8m-2-3h8m-6-2h8m-6 1h8m6-2h8m-4 2h8m6 1h8m1 3h8m-182 13h8m-7-5h8m-3 5h8m3-2h8m52-5h8m29 1h8m-6-3h8m5 9h8m1-6h8m6-3h8m2 0h8m12 4h8m-155 7h8m32 7h8m48-2h8m-4 1h8m3-2h8m-3 2h8m32 1h8m-4-8h8m-2 7h8m-192 12h8m33-2h8m24-1h8m-3 3h8m-6-1h8m-5-5h8m16-2h8m3 8h8m-2-4h8m-2 1h8m33-4h8m-4 0h8m-7-2h8m-169 15h8m27-4h8m-7 2h8m21 6h8m31-4h8m8 2h8m4 0h8m11-4h8m-8 0h8m0 2h8m-7 1h8m4-1h8m-6-3h8m-6 6h8m-216 10h8m121 1h8m32-5h8m0 4h8m1-8h8m-7 1h8m11-1h8m-4 7h8m-3 2h8m-84 6h8m-4-2h8m11-2h8m2 5h8m-3-5h8m4-1h8m-5 4h8m-4 1h8m-3 1h8m-8-6h8m-3 1h8m-4 8h8m-90 4h8m25 4h8m9-5h8m-3 4h8m-8 2h8m9-7h8m-4-1h8m6 7h8m-262 6h8m165 6h8m23-6h8m-1 6h8m-6-3h8m-7 2h8m3-5h8m10 4h8m-7-7h8m-6 5h8m-5-3h8m-90 16h8m24-2h8m-8 0h8m-7 3h8m-4-8h8m-5 5h8m18-5h8m3-1h8m-261 19h8m42-8h8m148 5h8m11-5h8m-6 2h8m3 0h8m9 5h8m-231 3h8m-1 1h8m-5-2h8m7 9h8m84-9h8m7 5h8m-7-2h8m-4 2h8m-2 4h8m-8 0h8m19 0h8m20-7h8m4 1h8m-7-1h8m3 4h8m-5-3h8m-357 16h8m174-5h8m43-1h8m16-1h8m13-2h8m-1 6h8m-7-1h8m32-1h8m0 3h8m-2-6h8m0 5h8m-2-4h8m-8-2h8m-8 5h8m-319 7h8m76 4h8m28-4h8m71 5h8m25 1h8m6-2h8m7-2h8m0-4h8m3 0h8m-359 18h8m81 1h8m17-6h8m52 4h8m32-6h8m44 3h8m-1 2h8m43 0h8m-7-3h8m-7 5h8m11-2h8m8-4h8m-445 15h8m107-4h8m58-1h8m-4 4h8m-5-4h8m-2-1h8m-5 5h8m10-6h8m118 7h8m-6-6h8m24 2h8m-7 1h8m3 5h8m-3-7h8m-2 0h8m-1-2h8m-3 5h8m-3 4h8m12 0h8m-4-5h8m-265 8h8m-3 7h8m-6-9h8m-7 0h8m-4 9h8m-7-6h8m-7 5h8m-4 1h8m-6-8h8m20 5h8m94 2h8m24 1h8m-6-7h8m0 7h8m10-2h8m14-7h8m8 6h8m-491 8h8m179 4h8m16-1h8m2 2h8m-4-1h8m-7 0h8m-2-3h8m-3 0h8m-7-1h8m16 4h8m32-7h8m-8 4h8m14 1h8m9-6h8m-7 3h8m24 5h8m15-6h8m9 0h8m35 6h8m8-2h8m-414 9h8m112-1h8m17 4h8m-5-7h8m-3 4h8m-1-4h8m-4 1h8m-4-2h8m-4 6h8m-4 0h8m0-1h8m3-4h8m24 2h8m13 1h8m-6-3h8m18 5h8m-2 2h8m8-4h8m8-2h8m-3 3h8m0-3h8m19-1h8m-4 1h8m-1-1h8m-7-1h8m6 8h8m7-3h8m-6-1h8m-460 11h8m27-2h8m20 6h8m-1-6h8m3 6h8m123-2h8m24-7h8m31 4h8m-1-3h8m1 7h8m-2 1h8m2-5h8m6-2h8m-4 3h8m-7 1h8m-6-2h8m0 0h8m-2 5h8m28-7h8m15 1h8m-457 8h8m64 7h8m106-1h8m15-2h8m4-2h8m28 2h8m-2 0h8m7 1h8m-7 2h8m-6-6h8m-7 3h8m66 1h8m-6-4h8m12 6h8m3-7h8m64-1h8m-7 1h8m-8 0h8m-400 12h8m50 2h8m33 1h8m1-1h8m-1 2h8m15-1h8m17 3h8m-8 0h8m0-5h8m2-4h8m3 6h8m-4-3h8m-2-3h8m20 4h8m2 3h8m-7-7h8m-312 18h8m-3-7h8m0 7h8m189 0h8m48-5h8m5-2h8m-4 3h8m-7-2h8m-6 1h8m-8 2h8m-1 4h8m-5-9h8m-5 1h8m-126 18h8m40 0h8m-2-5h8m-6-3h8m3 6h8m2-4h8m6-1h8m-259 10h8m2-1h8m7 1h8m3 4h8m108-3h8m23 5h8m0-5h8m-7 4h8m-8 2h8m8-7h8m-3 2h8m-1-3h8m6-1h8m-264 17h8m58-7h8m56 5h8m41-1h8m1-4h8m-1 9h8m-5 0h8m-207 7h8m69 2h8m35-7h8m20 1h8m22 7h8m-5 0h8m-5 0h8m-202 2h8m81 6h8m7 2h8m25-1h8m21 0h8m-1-4h8m-5 5h8m-7-4h8m-7 3h8m-6-8h8m-2 6h8m6-4h8m-181 10h8m67 4h8m-8 2h8m31-5h8m22 4h8m0 0h8m-5-7h8m-6 2h8m-192 9h8m57 7h8m48 1h8m7-3h8m-16 11h8m-4 2h8m-86 2h8m40 1h8m-117 14h8m39 0h8m20 1h8m7-3h8m-99 13h8m-1-7h8m-4 2h8m70 6h8m10-1h8m-37 8h8m20-1h8m-121 6h8m-3 3h8m-7 4h8m-9 11h8m-14 8h8m32-2h8m-52 18h8m7 11h8m-27 24h8m-9 16h8"/><path stroke="#3b528b" d="M4172 2335h8m-44 6h8m58 4h8m-105 8h8m27 1h8m38 2h8m41 0h8m-175 5h8m39 7h8m18-3h8m14-5h8m14 8h8m25-4h8m-133 7h8m29 3h8m29 1h8m26 2h8m-145 13h8m-1 2h8m3 3h8m30 0h8m4-4h8m-82 17h8m-1-5h8m39 1h8m28 1h8m20-1h8m3 4h8m52-5h8m-191 9h8m5-2h8m18 8h8m-2-4h8m-2 1h8m5 4h8m32-3h8m0 2h8m23-4h8m-5 3h8m-7-6h8m23 0h8m-8 6h8m-6-1h8m-116 8h8m-1 0h8m11 3h8m50 0h8m-4 1h8m-7-1h8m-6-2h8m8-3h8m-206 16h8m-4-6h8m1 0h8m-7 7h8m8-9h8m-7 6h8m-5-5h8m17 0h8m52 6h8m14-6h8m8 2h8m-2 2h8m20 2h8m-4 1h8m-199 8h8m-5 2h8m6 0h8m2-8h8m1 1h8m-5 7h8m-8-7h8m-5 3h8m15 2h8m-8 3h8m10-4h8m5 0h8m-7-4h8m-3 1h8m-1-1h8m18 7h8m61-6h8m-226 10h8m1 1h8m0-1h8m-1-1h8m3 1h8m-1 5h8m-3-6h8m39 2h8m-2 3h8m4 2h8m26-4h8m8-1h8m24 1h8m14-4h8m-234 11h8m-2 4h8m-7 1h8m-5-1h8m35-2h8m-1-1h8m-1 4h8m10 3h8m12-6h8m10 0h8m6 5h8m41-5h8m23-1h8m-6 4h8m-5 3h8m10-5h8m-230 7h8m33-1h8m51 9h8m27-2h8m7 0h8m8-4h8m-8 4h8m9 1h8m-93 3h8m25 2h8m-6 5h8m14-8h8m-6 7h8m-3-3h8m-4-1h8m4-2h8m20 5h8m-115 4h8m3 2h8m5 0h8m-2 0h8m11-2h8m-4 8h8m17-8h8m-7 6h8m34 3h8m-113 5h8m12 5h8m-3-2h8m11 1h8m4-2h8m-4-4h8m-2 5h8m12-1h8m19-6h8m-78 17h8m32-2h8m-4-1h8m-7-2h8m11-1h8m-91 15h8m12-6h8m0 0h8m14 7h8m-4-7h8m-65 12h8m2 2h8m10-3h8m35 6h8m-8-3h8m-7-4h8m9 7h8m-8-5h8m-4 4h8m-3-4h8m-100 13h8m-7 3h8m28-3h8m-6 4h8m25-8h8m-3 4h8m5-4h8m-5 2h8m-7-2h8m2 7h8m-98 11h8m-8-5h8m-7-3h8m-1 3h8m6-3h8m12 1h8m2 3h8m-2-4h8m-4 8h8m18-5h8m-113 8h8m1 3h8m-6 4h8m1 0h8m1-9h8m17 8h8m8 1h8m23-4h8m2-3h8m-4 4h8m-85 8h8m-6-1h8m6 4h8m-3 1h8m-8-4h8m7 1h8m4 1h8m14 2h8m-2-7h8m-126 9h8m10 0h8m3 4h8m-5-4h8m-4 3h8m-7 1h8m0 3h8m0-1h8m26-2h8m1 5h8m-5-6h8m1 3h8m-8 3h8m2-4h8m-95 8h8m17 0h8m-4 4h8m6-4h8m-1 1h8m-4 2h8m-2-5h8m8 6h8m-97 5h8m5 0h8m27 4h8m-3-4h8m21-1h8m-6 3h8m-8 5h8m-111 2h8m43 4h8m-3 4h8m37-5h8m6 1h8m-3-2h8m-340 12h8m-1 0h8m-2-2h8m-7-1h8m-7-2h8m-4 2h8m-8-1h8m-7 3h8m139 4h8m2-5h8m4-3h8m53 3h8m-7 4h8m3 0h8m-7-5h8m-1 7h8m10-8h8m-7 2h8m-3 4h8m0-7h8m-314 17h8m-6-7h8m-3 3h8m-6-3h8m26 4h8m95 5h8m9 0h8m-4-1h8m30-7h8m3 1h8m16 4h8m5 0h8m-7 1h8m-5 2h8m-8-1h8m11-1h8m-6-4h8m-1-1h8m-4 3h8m4-4h8m26 7h8m-342 2h8m88 3h8m-4 0h8m28 1h8m8-2h8m3 4h8m3 2h8m6-3h8m2-4h8m-3 5h8m-6-2h8m6-4h8m31 4h8m-2 4h8m-5-7h8m12 8h8m5-8h8m-8 3h8m-7 3h8m-7 2h8m24-7h8m-384 17h8m-2 0h8m-6-1h8m-2-3h8m2 3h8m61-6h8m3 7h8m3-1h8m23-2h8m1 3h8m18-6h8m-2 0h8m22-1h8m61 4h8m48-5h8m-1 5h8m-8 3h8m-2-9h8m-1 8h8m-4-4h8m-376 15h8m-4-5h8m-3 0h8m-7 0h8m7-3h8m58-1h8m11 9h8m-2 0h8m21-5h8m14-2h8m10 1h8m0 4h8m1-5h8m7 1h8m33-1h8m-7-2h8m1 6h8m-1 1h8m-3 0h8m3-1h8m28-5h8m-3 4h8m9-5h8m-372 19h8m-1-7h8m121 4h8m3-5h8m16 2h8m-8 2h8m-5-3h8m12-2h8m48 2h8m-5-2h8m33 0h8m-311 19h8m-1-1h8m-4-7h8m141-1h8m-180 19h8m7-6h8m-30 13h8m-2-6h8m-34 13h8m8-1h8m-36 14h8m8-2h8m-26 14h8m-44 28h8m-5 3h8m-24 8h8m-6-7h8m5 0h8m-33 15h8m-5-1h8m-4 0h8m-8-1h8m-20 12h8m4-5h8m-42 16h8m2-4h8m-5 3h8m-27 9h8m-6 2h8m-23 6h8m-3 1h8m0-3h8m-32 13h8m-19 14h8m-5-5h8m6 3h8m-30 5h8m-8 10h8"/><path stroke="#21918c" d="M4042 2463h8m3-1h8m7 7h8m-5-3h8m17 1h8m6 0h8m22-1h8m-4 1h8m12-4h8m-4 1h8m7 1h8m-7 2h8m-7-1h8m-161 12h8m8-8h8m4 9h8m-6-8h8m-8 5h8m-6-4h8m14 5h8m7 1h8m-3-2h8m37 0h8m-3-3h8m5-2h8m1 1h8m1 3h8m-6-5h8m-173 12h8m-8 6h8m-8 0h8m-5 0h8m2 0h8m-6-2h8m-5-1h8m-3-5h8m8 9h8m2-6h8m-6 1h8m2 3h8m-2-7h8m16 4h8m11 5h8m8 0h8m2-8h8m-139 16h8m-8-3h8m4 2h8m-6-5h8m-6 2h8m-7-3h8m7 6h8m13-2h8m-6 0h8m-2-2h8m-8 5h8m-6-5h8m-3 5h8m5-6h8m-5 6h8m2-4h8m-4-2h8m12 3h8m4-4h8m4 3h8m11-1h8m-1 5h8m9-4h8m-203 9h8m0 4h8m9-1h8m-7 0h8m18-5h8m-3 0h8m-3 9h8m3-6h8m-7-1h8m17 4h8m-7-4h8m2 3h8m-7 3h8m-3 1h8m-4-6h8m21-1h8m26 1h8m-185 10h8m-6 0h8m8 3h8m-4 1h8m7 0h8m5-5h8m-8 0h8m-7-1h8m8 4h8m10 3h8m-5 1h8m15-5h8m21 5h8m-2 0h8m19-5h8m12 5h8m7-3h8m-208 7h8m52 3h8m5-4h8m3 6h8m-2 1h8m-7-8h8m16 2h8m-5-1h8m3 5h8m-3 1h8m14-4h8m-7 3h8m-7-1h8m34 3h8m-139 1h8m-4 3h8m37 0h8m2 6h8m-5-3h8m8 1h8m10-6h8m11 2h8m0-3h8m-122 16h8m-4-2h8m-6-3h8m8 1h8m13-2h8m-7 6h8m-8-6h8m-5 6h8m-4-4h8m0 7h8m-5 0h8m10-9h8m-7 9h8m11-1h8m-106 4h8m9 4h8m-7-1h8m-7 4h8m-7-2h8m0 0h8m13-6h8m2 1h8m2-1h8m33 2h8m-4-2h8m-8 0h8m-121 16h8m-7-1h8m-8 3h8m-3-9h8m0 4h8m-4 4h8m-7 0h8m0 0h8m-7 0h8m-7-5h8m7 3h8m11 0h8m-3 3h8m-5-1h8m14-2h8m19-1h8m-3 4h8m-230 1h8m-6 5h8m-5-3h8m-7 3h8m-8-4h8m75 4h8m45-3h8m-7 2h8m5-4h8m21 4h8m20 5h8m-237 4h8m-2 5h8m-8-5h8m0 2h8m-4-4h8m-5 0h8m65 8h8m15-6h8m-4 1h8m14-3h8m0 6h8m-7-2h8m-4-4h8m3 4h8m2-5h8m-1 6h8m4-1h8m-4 1h8m-208 8h8m10 4h8m-3-6h8m-4 0h8m-7-1h8m-5 1h8m22 5h8m10 0h8m4-6h8m2 2h8m1 5h8m1-3h8m11 1h8m-5-2h8m28-2h8m-4 5h8m21-2h8m5 2h8m0-6h8m-248 17h8m-4-3h8m-5-2h8m-8 6h8m-4-8h8m-8 0h8m40 8h8m9-1h8m-4-1h8m-2-6h8m-3 7h8m-5-6h8m-3 7h8m-2-8h8m36 5h8m0-6h8m-4 4h8m2-4h8m12 7h8m25-4h8m-5 5h8m-3 0h8m-241 6h8m0 3h8m9-3h8m27 4h8m-3-3h8m-7 4h8m-5 0h8m-8-9h8m16 1h8m3 7h8m2 1h8m16-7h8m-2-1h8m-6 1h8m-5-1h8m-1 3h8m-1-2h8m-6-2h8m11 8h8m10-6h8m9 1h8m-3 4h8m-6-2h8m-2-4h8m-256 18h8m-1-9h8m0 5h8m26-3h8m13 2h8m1 3h8m9 2h8m13-8h8m6 2h8m33-1h8m-3 3h8m-3-1h8m10 4h8m1-5h8m2-1h8m13 5h8m-265 11h8m-3-1h8m-7-1h8m-5-3h8m0 1h8m-2 3h8m32-5h8m2 5h8m4-5h8m12 7h8m19-4h8m-4-2h8m6 6h8m23 0h8m3-6h8m-6 0h8m-5 4h8m-226 12h8m12-7h8m-7 0h8m-5 3h8m-6-2h8m-1 5h8m-4-7h8m7 5h8m-7 3h8m-8-1h8m-3-2h8m-6-6h8m24 3h8m30 0h8m-5 1h8m17-1h8m22 5h8m30-3h8m16-4h8m-255 18h8m-6-2h8m1 2h8m-7-8h8m-7 6h8m12 2h8m1-4h8m-6 1h8m-8 0h8m-4-1h8m7 3h8m62-2h8m15-2h8m-4 5h8m3-7h8m-190 12h8m-3-1h8m4 6h8m5-8h8m8 6h8m33-5h8m100 2h8m-1-2h8m12 4h8m-245 11h8m-7 2h8m44-4h8m12 0h8m-6-3h8m-7 5h8m-5-2h8m-4 3h8m6-8h8m36 0h8m6 8h8m7 0h8m20-8h8m16 3h8m-234 12h8m-5-3h8m5 3h8m9-1h8m-7 2h8m4-2h8m2 5h8m1-5h8m-2 2h8m-7 0h8m9 2h8m-5 0h8m-5-5h8m-7 1h8m-125 13h8m-3 1h8m-3-6h8m2-1h8m14 3h8m-5-2h8m-4 0h8m-7 1h8m-4-3h8m-6 1h8m-6-1h8m12 7h8m-6-7h8m2 4h8m-5-3h8m7 3h8m-8 0h8m-123 11h8m-1 4h8m-8-9h8m-3 4h8m27 4h8m25-7h8m-7 2h8m-4 0h8m1-3h8m-7 5h8m-106 8h8m27 6h8m8-5h8m6 0h8m-7-2h8m-1 1h8m-89 9h8m13 1h8m-2 0h8m-5 4h8m-2-4h8m-6 6h8m-3-1h8m-5-5h8m-6-2h8m-2-1h8m-75 19h8m12-1h8m10-6h8m-19 8h8m-64 18h8m-3-4h8m20-2h8m-4-1h8m-29 16h8m-5-1h8m-4-2h8m-56 14h8m5-7h8m5 0h8m-7 5h8m-3-1h8m-43 11h8m-5-3h8m-6 2h8m5 4h8m-3 0h8m-2-9h8m-63 16h8m34 0h8m-61 9h8m29-5h8m-56 17h8m1-1h8m0-5h8m-24 14h8m-22 15h8m2 6h8m-49 13h8"/><path stroke="#28ae80" d="M4020 2479h8m43-2h8m7-1h8m7 0h8m-89 7h8m-8 1h8m10 1h8m12-4h8m9 0h8m-3 1h8m17 0h8m8 3h8m-113 12h8m-5 0h8m8-5h8m34 4h8m-3-6h8m1 3h8m21 6h8m1-9h8m4 3h8m-8 1h8m-131 9h8m12 3h8m-6-3h8m-5 2h8m-5-2h8m13 2h8m-1-4h8m-5 3h8m2-2h8m4-1h8m-3 5h8m-6 3h8m-8-8h8m6 2h8m-7 0h8m-1-1h8m13 0h8m-6 2h8m-5 2h8m-126 13h8m-7-8h8m-6 8h8m-5-3h8m1 3h8m-5 0h8m-5-6h8m13 2h8m-8-2h8m-7 3h8m4-5h8m1 6h8m7-6h8m0 6h8m24-6h8m-134 16h8m19-5h8m-6 1h8m27 3h8m2-2h8m-1 1h8m-5-5h8m6 9h8m-4-7h8m-1 7h8m0-2h8m-7-6h8m-7 4h8m0-1h8m-7-1h8m-5 1h8m-6-4h8m-126 13h8m4 2h8m2-3h8m11 4h8m-1-3h8m30-1h8m-85 8h8m9 2h8m29 0h8m7 1h8m-4 5h8m3-8h8m-5 2h8m1 4h8m-8-4h8m11 3h8m-138 10h8m-4-4h8m-7 3h8m13-2h8m10 7h8m-7-5h8m5-4h8m-8 3h8m-4 1h8m14-1h8m10 4h8m21-3h8m-2-3h8m-170 18h8m-3 0h8m-7-6h8m-1-1h8m15 0h8m-6 5h8m3-2h8m-5 2h8m45-1h8m-6-4h8m-7 4h8m4-6h8m18 4h8m-3 1h8m-8 2h8m-7-5h8m-5 1h8m-5 3h8m-7-3h8m-7 1h8m-162 13h8m-8 1h8m-8-7h8m-6 2h8m13 0h8m20 1h8m7-1h8m29 2h8m1-5h8m2 1h8m2 0h8m4 5h8m-5 1h8m-6 2h8m-163 3h8m-7 2h8m-6 2h8m12 3h8m-6-4h8m13 4h8m33-4h8m-8 3h8m-5-5h8m-8-3h8m-3 4h8m-2 3h8m3-3h8m-139 13h8m-5-1h8m-5-4h8m-2 2h8m-8-3h8m-3 0h8m-7 8h8m8-2h8m10-5h8m-5 2h8m31-2h8m8 1h8m-4 3h8m-4-2h8m23 4h8m-4-8h8m4 7h8m-5 2h8m-178 3h8m40 7h8m-4-8h8m26 8h8m-1-8h8m9 4h8m33 4h8m-141 7h8m16-4h8m20 5h8m2 2h8m1-9h8m-4 3h8m9 6h8m13-1h8m-4-5h8m7 0h8m-8 3h8m-2-3h8m-164 8h8m1 4h8m21 2h8m7-5h8m8-1h8m12 0h8m-6 3h8m-3 2h8m31-2h8m-4-1h8m-170 16h8m37-9h8m0 0h8m2 5h8m8 4h8m6-8h8m3 3h8m37-4h8m-72 11h8m23 0h8m-143 17h8m40 4h8m-4 4h8m-6 0h8m-50 6h8m4-1h8m-82 16h8m27-6h8m7-1h8m38 9h8m0-7h8m6 5h8m-129 9h8m30-2h8m2 3h8m5 2h8m10-7h8m5 1h8m-107 7h8m8 6h8m44-1h8m-86 5h8m46 1h8m-8 4h8m-6-3h8m-75 14h8m-3 2h8m-5 1h8m8-8h8m5 5h8m-2-5h8m-5 3h8m12-4h8m-90 15h8m10-5h8m14 3h8m-6-2h8m-63 18h8m28-3h8m-13 5h8m-55 13h8m0 4h8m-15 10h8m7-5h8m-63 13h8m4 27h8m-56 15h8m-40 38h8"/><path stroke="#5ec962" d="M4037 2473h8m3-1h8m-3 3h8m-13 13h8m-2-1h8m4-2h8m20 0h8m10 1h8m-91 9h8m0-2h8m-3 1h8m0 2h8m-5-1h8m-1 4h8m14-5h8m-8 0h8m8 1h8m-3 1h8m12 0h8m4 2h8m-127 11h8m11-1h8m40-5h8m23 5h8m19-8h8m-110 11h8m8 4h8m-26 5h8m12 4h8m-3-4h8m3 6h8m0-1h8m4 0h8m20 4h8m18-6h8m-8 4h8m-8-4h8m-3-2h8m2 0h8m-115 14h8m10 2h8m4-7h8m47 8h8m-106 4h8m4 6h8m-4-4h8m25-1h8m-68 11h8m-6 3h8m-8 1h8m0-1h8m-6 1h8m-2-4h8m-4 3h8m0 2h8m-5-4h8m26 2h8m-1 1h8m35-1h8m4-5h8m-122 13h8m27 2h8m-4 0h8m-2 1h8m18-3h8m11 2h8m6 0h8m-137 12h8m-4-9h8m-6 0h8m5 6h8m12-6h8m9 9h8m49-7h8m3 7h8m2-8h8m-6 3h8m-2 4h8m-123 11h8m4-8h8m7 5h8m0-1h8m-4 3h8m17-1h8m5 1h8m33 1h8m-144 7h8m18-4h8m-2 4h8m5 1h8m-6 1h8m2-6h8m17 6h8m27-2h8m10-5h8m-180 9h8m5 3h8m4-2h8m-1 3h8m12 1h8m0-3h8m18 7h8m35-9h8m-144 10h8m56 1h8m17 2h8m10 6h8m-2-4h8m35-4h8m-7 8h8m-149 7h8m0-5h8m45 8h8m-18 9h8m-6-3h8m22 0h8m-12 5h8"/><path stroke="#addc30" d="M4070 2528h8m4-2h8m-37 10h8m-7 0h8m-2-5h8m0 4h8m9-5h8m-49 17h8m-4-6h8m14 1h8m2 7h8m-8-7h8m3 3h8m-7 4h8m-66 5h8m-4 3h8m0-7h8m21 2h8m15 3h8m-4-4h8m-2 3h8m-87 12h8m12 1h8m14-3h8m-7-2h8m-3 0h8m3 1h8m7 1h8m-84 8h8m-5 2h8m-7-4h8m-6 3h8m-3-1h8m2-2h8m8 4h8m-7 5h8m1-2h8m-2 0h8m-7 1h8m0-8h8m-7 9h8m-6-3h8m-48 8h8m14 0h8m-6 0h8m-1 0h8m-7-1h8m-6-3h8"/><path stroke="#666" d="M3668 2627h8m-67 11h8m-8-4h8m-5 1h8m0 1h8m-7-2h8m-6-1h8m-5 0h8m-7 3h8m-6-6h8m-7 5h8m-8-2h8m-7 2h8m-7-1h8m-7-4h8m-6 4h8m-8 2h8m-8 0h8m-7 2h8m-4-2h8m-7-2h8m-7-1h8m-6 0h8m-6 2h8m-7 0h8m-4 1h8m-7-2h8m-6-2h8m-8 0h8m-4 2h8m-8 1h8m-7-2h8m-8 3h8m-7 0h8m-6-2h8m-7 2h8m-8-6h8m-5 3h8m-4-2h8m-7 3h8m-6 0h8m-7 0h8m-6-2h8m-6-1h8m-3 3h8m-2 2h8m-6-1h8m-7-2h8m-7 0h8m-7-3h8m-7 4h8m-7 1h8m-6-1h8m-7-2h8m-8 2h8m-6 1h8m-7 0h8m-7-2h8m-8-1h8"/></g>
<g fill="none" stroke-width="8" transform="scale(.1)"><path stroke="#472d7b" d="M4928 2085h8m-36 12h8m8-1h8m-4 3h8m-4-1h8m-4 1h8m-6-4h8m-65 11h8m5 1h8m-6-2h8m0-5h8m6 7h8m-7 2h8m-50 3h8m30 4h8m-66 7h8m-7 2h8m13 4h8m-6-1h8m7-6h8m2-1h8m-1 5h8m-7 1h8m7-1h8m-1 3h8m-3-8h8m-94 12h8m-4 2h8m-8-1h8m13 4h8m14-8h8m6 2h8m3 6h8m-4-4h8m-7 2h8m-91 4h8m-6 0h8m-6 8h8m-2-8h8m11 9h8m-6-4h8m-4 3h8m-5-6h8m9 1h8m-1 0h8m-7 4h8m-4 2h8m1-5h8m-7 0h8m-2 0h8m9 2h8m-1 1h8m0-3h8m-122 15h8m-3-4h8m5 1h8m9-3h8m-7 3h8m-5-3h8m15 2h8m-1-4h8m13 0h8m-4 1h8m-103 13h8m-1-4h8m-7-1h8m10 3h8m-6 1h8m11 1h8m-2 1h8m16 1h8m-8-4h8m-4 4h8m8 1h8m-111 6h8m-1 2h8m37-5h8m0 2h8m-5 1h8m15 3h8m-4-3h8m0-4h8m-6 5h8m12 3h8m-128 3h8m-7 7h8m-7 0h8m23-5h8m-6-3h8m-7 7h8m-2 0h8m-6-5h8m-8 4h8m15 0h8m4 3h8m5-9h8m21 1h8m-127 9h8m-7 1h8m46 4h8m16-1h8m1 2h8m35-3h8m-7 5h8m0 0h8m-160 4h8m2 5h8m-7-3h8m30 0h8m8 1h8m4 2h8m16-2h8m4 4h8m-5-7h8m0 7h8m9-3h8m8-3h8m-167 10h8m-8-1h8m-6-1h8m-6 3h8m33-2h8m-6 4h8m-6 3h8m-5-3h8m-6 1h8m-7-6h8m-4 2h8m4-3h8m-4 1h8m6-1h8m5 7h8m-4-5h8m-1 2h8m-6-2h8m-6 0h8m0 2h8m-6-2h8m5 1h8m-1-3h8m-5 6h8m-165 10h8m-4-2h8m2 4h8m30 0h8m3 0h8m3-4h8m2-1h8m17 3h8m-6-6h8m13 8h8m9 0h8m-166 10h8m62-6h8m10 2h8m2-4h8m7 5h8m6 0h8m7-1h8m-2 1h8m-160 13h8m-8-5h8m-6-1h8m10 6h8m1-4h8m16 3h8m16-7h8m61 3h8m0 3h8m-4-5h8m8 7h8m-1-5h8m-196 7h8m67 3h8m-6 3h8m6-4h8m-3 2h8m5 5h8m0-7h8m1 1h8m16 6h8m4-8h8m20 6h8m-6-2h8m6 0h8m-8-2h8m-7 4h8m-237 9h8m-7 2h8m32 1h8m57-5h8m41-4h8m-7 7h8m-7-2h8m7 4h8m-5-9h8m-7 4h8m36 5h8m-6-4h8m5-5h8m-1 8h8m-8 1h8m-255 4h8m2-1h8m-2-1h8m88 8h8m-3-3h8m-7-2h8m14-3h8m1 1h8m24-1h8m12 2h8m-4 2h8m-1-5h8m-2 3h8m7-1h8m-257 17h8m1-8h8m-6 5h8m13-1h8m57-5h8m13 3h8m13-1h8m32-2h8m5 5h8m2-5h8m20 5h8m33 0h8m-282 5h8m-6 0h8m-5 0h8m-5 1h8m13 7h8m-3 1h8m52 0h8m18-8h8m-2 6h8m11-5h8m-1 2h8m-2 0h8m10 5h8m-6-4h8m0-2h8m40 5h8m33-8h8m-293 19h8m-3-6h8m-7 4h8m-8-4h8m-7-3h8m-6 3h8m66 5h8m18-6h8m42 5h8m12 0h8m-7-7h8m36 2h8m27 3h8m-5 2h8m0-5h8m8 2h8m-304 11h8m-7-1h8m-4 3h8m-8-2h8m-5-2h8m-5 2h8m73 1h8m52-2h8m-3 0h8m-2-2h8m12 0h8m1 7h8m-2 0h8m-7-1h8m5-3h8m7 1h8m13-4h8m-8 2h8m15-2h8m5-1h8m-300 17h8m-3-3h8m-6 3h8m114 1h8m17-3h8m-8 1h8m-7-7h8m68 7h8m-2-7h8m7 1h8m-5 8h8m-1-4h8m-4 1h8m20-5h8m11 3h8m-322 6h8m-6 3h8m-8 1h8m-4-1h8m29 2h8m49 0h8m-6 3h8m33-2h8m6 0h8m1 2h8m-3-1h8m38-4h8m-3 1h8m10-4h8m3 1h8m8 8h8m-7 0h8m30-2h8m-310 8h8m47-5h8m-2 1h8m18 2h8m-3-3h8m45 9h8m1 0h8m45-2h8m6-2h8m6 4h8m37-2h8m-2-6h8m8 2h8m9 0h8m-346 11h8m6-2h8m-3 4h8m-6-4h8m26 7h8m34-8h8m54-1h8m4 3h8m10 3h8m3 3h8m-7-4h8m6-2h8m42-2h8m3 3h8m15 4h8m0 0h8m-317 8h8m-6-1h8m0-5h8m36 4h8m74 3h8m13-2h8m-6-5h8m22 5h8m-4 1h8m19-2h8m23-1h8m20 4h8m-6-6h8m24 4h8m20-1h8m-354 7h8m-8 0h8m99 8h8m31 0h8m5-3h8m-5 0h8m-7 2h8m-3-1h8m6-5h8m-5 0h8m4-2h8m-4 1h8m12 1h8m3 1h8m7 2h8m-1-5h8m25 1h8m20 1h8m-331 15h8m2-4h8m141-3h8m2 7h8m-7 1h8m-4-1h8m-4-1h8m63-6h8m13 8h8m26 0h8m-4-5h8m-6-1h8m31 4h8m-354 12h8m146 0h8m14 1h8m3-5h8m40 0h8m-3-4h8m24 5h8m-2-5h8m-4 5h8m40-4h8m-1 5h8m10-1h8m-6-5h8m-3 2h8m-332 15h8m100-5h8m-4-2h8m1 4h8m-7 3h8m0 0h8m-4-2h8m-6 3h8m-3-3h8m-7-1h8m-2 3h8m-2 2h8m22-6h8m7 0h8m-1 6h8m16-9h8m-7 5h8m21 4h8m9-4h8m33 0h8m-4-4h8m-389 15h8m-5 1h8m-5-3h8m43 4h8m115-4h8m-1 0h8m26-1h8m29-1h8m0 0h8m-1-2h8m47 9h8m-4-4h8m-6 1h8m-8-5h8m0 0h8m11 2h8m-5-2h8m-374 15h8m2 0h8m106 2h8m13-8h8m23 4h8m4 2h8m-7-3h8m17 5h8m4 0h8m32 1h8m-4-6h8m9 6h8m-5-5h8m4-4h8m28 3h8m4 6h8m-7-9h8m-2 6h8m-4 3h8m10 0h8m-392 8h8m-2-4h8m-8 3h8m-5 0h8m118-6h8m35 2h8m5 3h8m-6-3h8m45-1h8m15 0h8m5 8h8m12-6h8m-7 5h8m-5-1h8m-7-2h8m38-3h8m7 1h8m6 4h8m-8-3h8m-1 1h8m-393 11h8m166-4h8m-5 6h8m1-6h8m-8-1h8m-2 7h8m10-8h8m4 2h8m3 7h8m1-1h8m26 1h8m-2-8h8m10 2h8m-5-1h8m11-1h8m2 6h8m-3 0h8m-5-1h8m-4 1h8m-2-3h8m10 4h8m12-8h8m-397 10h8m155 4h8m-1 2h8m16 2h8m54 1h8m17-2h8m-1 0h8m26-7h8m-3 3h8m11 1h8m-7-3h8m-6-1h8m-3 5h8m6-3h8m0 1h8m-400 10h8m-7 3h8m-8 2h8m-6-4h8m-1-2h8m166 7h8m-6 0h8m-7-5h8m51-2h8m21 7h8m12 0h8m13-4h8m3-5h8m0 4h8m-5-1h8m13 5h8m8-4h8m-3-1h8m-8-1h8m15 0h8m5 1h8m-425 10h8m70 6h8m33-6h8m52 5h8m30-6h8m0 2h8m26 2h8m8 0h8m5-6h8m2 9h8m16-6h8m6-3h8m-2 1h8m0 4h8m-3-5h8m23 0h8m-7 0h8m-8 2h8m18-1h8m-6 6h8m-431 11h8m155-3h8m25-3h8m-4 6h8m0 1h8m4-8h8m25 7h8m11-6h8m-7 0h8m45 3h8m-7 0h8m-6-1h8m9 3h8m6-2h8m38 0h8m24 0h8m-7 1h8m-459 9h8m-1-1h8m-7 0h8m-7-1h8m-7-3h8m-6 3h8m-8 1h8m169 3h8m-8-4h8m-6 2h8m-1-3h8m4 7h8m3-6h8m-3 0h8m16 6h8m41-3h8m-2-5h8m11 3h8m-2 4h8m1-2h8m-6 3h8m-7-9h8m-2 5h8m-3-1h8m1 2h8m2-2h8m12 1h8m3 1h8m6-1h8m-1 4h8m-3-4h8m-440 10h8m-2 1h8m37-4h8m141 1h8m-8 0h8m23 2h8m80 0h8m30 2h8m-3-4h8m9 2h8m-3-5h8m-4 9h8m47-2h8m8-1h8m-370 10h8m46-3h8m-4 6h8m-7-8h8m34 0h8m24 0h8m45 6h8m21 0h8m-3 0h8m2-2h8m5 2h8m-4-1h8m-2-1h8m6-3h8m5 6h8m-7-3h8m-8-4h8m10 0h8m-1 3h8m7-3h8m5 4h8m-1 0h8m-8 3h8m-453 6h8m-7-2h8m-7-1h8m-7 1h8m-8 0h8m195 5h8m-2-5h8m4 5h8m-3-7h8m-3 5h8m13-1h8m14 4h8m26-2h8m21-4h8m-7 0h8m8 3h8m-5-2h8m1-1h8m0 1h8m-4 1h8m-2 0h8m14 4h8m7-3h8m3-3h8m-2 2h8m15 0h8m-490 13h8m-4-6h8m53 8h8m-5-4h8m191 1h8m22-3h8m3 0h8m2-1h8m7 4h8m33-4h8m0 2h8m24-4h8m14 3h8m6 3h8m-2 0h8m14-6h8m-5 8h8m3-5h8m-501 15h8m-3 0h8m-6-3h8m-6-5h8m-7 9h8m-7-2h8m-1 1h8m63-2h8m165 0h8m12-2h8m1 3h8m-8-2h8m15 0h8m-5-2h8m37 5h8m12-6h8m-7-1h8m-4 8h8m16-4h8m-1-1h8m23-4h8m-7 8h8m-2-1h8m-3 1h8m4 1h8m-4-5h8m-488 14h8m-8-8h8m-6 8h8m3-2h8m52-1h8m69-4h8m57 0h8m31 2h8m3 2h8m4 2h8m-7-2h8m23-2h8m39-2h8m40 3h8m-5-3h8m15 1h8m20 1h8m-3 3h8m24 1h8m-514 12h8m-3-1h8m-6-8h8m-5 5h8m-6-1h8m9 4h8m-3 1h8m155-5h8m6 2h8m14 2h8m55 0h8m20 1h8m-5-5h8m-7 2h8m-8-1h8m6-5h8m-6 2h8m-6 2h8m17 5h8m8-9h8m26 4h8m1 4h8m5-1h8m-7 1h8m-4 1h8m31-2h8m2-4h8m-512 16h8m2-7h8m42 6h8m265-2h8m0-1h8m6-1h8m30-1h8m23 2h8m-5-4h8m-7 1h8m-6-2h8m13 5h8m6-5h8m-3 7h8m22 0h8m-522 11h8m-5-8h8m-3 1h8m-8 0h8m-2-1h8m-8 2h8m-3 1h8m143 6h8m-7-4h8m-7-2h8m17 0h8m33 3h8m0-4h8m81-1h8m9 8h8m-4-7h8m-4 4h8m6 2h8m1-4h8m2-3h8m54 1h8m76-1h8m-561 15h8m5-3h8m5-2h8m141 1h8m13-1h8m8-1h8m-7 0h8m6 9h8m132-4h8m90 3h8m3-1h8m23-1h8m-2 0h8m8-2h8m13-1h8m-8-2h8m-8 2h8m-1 2h8m-573 9h8m-4 1h8m-6-5h8m-2 4h8m-7-1h8m109-2h8m84 1h8m19 3h8m-1-5h8m132 7h8m21-4h8m-2 3h8m4 3h8m7-1h8m-4-2h8m-5-1h8m3 1h8m5-5h8m-3 7h8m-5 1h8m-5-4h8m-6-3h8m24 2h8m17 3h8m-571 10h8m-3-5h8m54-1h8m30 5h8m31-4h8m31 0h8m24 2h8m211 2h8m-6-5h8m1 1h8m20 2h8m53 2h8m-4-5h8m18 4h8m-565 14h8m87-5h8m51-4h8m24 9h8m-3-5h8m226 5h8m-3 0h8m-1-8h8m0 0h8m18 7h8m-4-6h8m-479 14h8m158-2h8m237-2h8m3 1h8m0 3h8m13 2h8m-3-6h8m4 6h8m-6-2h8m-8-1h8m0 0h8m1 0h8m14-4h8m0 8h8m5-1h8m-485 2h8m-4 5h8m62 1h8m6-2h8m24-4h8m236 6h8m8 3h8m17 0h8m72-2h8m0 0h8m5-2h8m-594 13h8m12 1h8m79-5h8m5 3h8m28-2h8m19-5h8m257 5h8m1 1h8m-8 0h8m7 2h8m-8-7h8m-6 0h8m2 0h8m-4 8h8m2-8h8m0 6h8m-2 1h8m-5-5h8m-8 4h8m-3 1h8m30-4h8m1 1h8m13-4h8m-3 3h8m-605 14h8m44-1h8m3 2h8m4-8h8m-6 0h8m62 5h8m49-2h8m234 1h8m6 2h8m-7-1h8m20 0h8m7-4h8m25-1h8m2 5h8m-4-1h8m17-5h8m-588 10h8m-5 8h8m32-7h8m66 7h8m77-1h8m259-7h8m-7 2h8m11-1h8m-493 10h8m35 2h8m-5 2h8m38-2h8m29-1h8m25-1h8m140 5h8m-328 10h8m-6-6h8m28 2h8m17-1h8m-4 6h8m12-5h8m-94 8h8m-2 2h8m-2 4h8m83 3h8m-1-5h8m68 2h8m38 3h8m-195 7h8m5-6h8m44 0h8m58 7h8m-189 9h8m-8-3h8m-6 1h8m81 5h8m27-2h8m7-2h8m-3 3h8m-3-7h8m-3 1h8m52-2h8m-7 3h8m-227 15h8m-6 0h8m-6-1h8m23 0h8m68-3h8m15-1h8m65-2h8m-145 14h8m54 3h8m-105 2h8m6 6h8m67-5h8m8 6h8m-6-5h8m-152 9h8m-7-1h8m-1 8h8m-7-4h8m-8-4h8m-5 3h8m72-1h8m12 0h8m-123 13h8m-7-4h8m-7-1h8m16 2h8m40-1h8m12 3h8m41 3h8m-8 0h8m3-3h8m4-4h8m-179 14h8m-6-3h8m-7 3h8m-4 5h8m4-7h8m-7 5h8m75-6h8m16 8h8m-71 3h8m5 4h8m0-4h8m-4 3h8m-4 2h8m26 1h8m-76 6h8m14-4h8m0 2h8m-1-2h8m1 8h8m12-8h8m-133 12h8m18 5h8m28-3h8m-6 5h8m-1-3h8m-82 8h8m17-1h8m20 3h8m0-2h8m-3-3h8m0 2h8m-89 15h8m-3-1h8m30-7h8m0 1h8m7 3h8m-8 0h8m-3 3h8m13-1h8m-102 6h8m-7 5h8m-3-3h8m22 5h8m6-2h8m-1-5h8m-7-1h8m1 8h8m10-9h8m-69 18h8m18-7h8m17 0h8m-6 5h8m-63 11h8m7 1h8m2-7h8m3-1h8m-70 11h8m-6 4h8m21 1h8m1 3h8m-5 0h8m-50 10h8m-3-9h8m-6 9h8m2-2h8m-7-3h8m7-3h8m-7 2h8m-4 1h8m-21 10h8m-4 2h8m-22 11h8m-7-1h8m-8-5h8m-5-1h8m-35 18h8m-13 2h8m4 1h8"/><path stroke="#440154" d="M4862 2079h8m-9 1h8m-6 5h8m-6 2h8m59-1h8m-6-3h8m-79 9h8m9 0h8m-8 6h8m-5 0h8m-7 1h8m-1-3h8m-6 0h8m5-1h8m0-1h8m-8 0h8m1 1h8m-5 1h8m-6 1h8m-2-5h8m-3 5h8m-86 11h8m-6-7h8m-7 5h8m-2-4h8m-1-2h8m-7 9h8m-2-1h8m-1-3h8m-3-5h8m-8 4h8m-8-1h8m-1 5h8m-6 0h8m-8-6h8m2 4h8m-5 2h8m-8-5h8m6-2h8m-3 8h8m-8-1h8m-6-3h8m-93 9h8m0 4h8m-5-3h8m-3 1h8m1 0h8m-5-3h8m-5-1h8m-2 1h8m9 5h8m-8-2h8m-7-4h8m-7 3h8m-5-2h8m-8 5h8m-7-3h8m-2-4h8m-7 2h8m-6-1h8m-4-1h8m-6 0h8m-2 6h8m-4 1h8m-98 8h8m-4-3h8m-7-1h8m-4 3h8m-2 4h8m-6-5h8m-4-4h8m-8 9h8m-8-4h8m-7-1h8m-5-2h8m7 7h8m0 0h8m-6-1h8m0 1h8m-7-2h8m-1-4h8m-6 2h8m-2-5h8m-6 7h8m-6-4h8m-5 1h8m-88 11h8m-8 0h8m-4 2h8m-3-6h8m-1 4h8m-7-4h8m-1 6h8m-8-2h8m-8-4h8m3 3h8m1 5h8m-7-4h8m12-3h8m-5-2h8m7 2h8m0 4h8m-6 1h8m-4-5h8m-7 2h8m-107 10h8m7 5h8m-6-7h8m-5 0h8m-6 5h8m-6-3h8m-4 0h8m-4 4h8m-5-6h8m-8 2h8m4 0h8m-1 0h8m-3-3h8m-8 5h8m-6 0h8m13 2h8m-8-1h8m-6-4h8m-8 6h8m-4-9h8m-4 1h8m-8 2h8m-5 2h8m3-3h8m-122 16h8m-8-6h8m-4 6h8m7 1h8m1-8h8m0 0h8m-8-1h8m-8 4h8m-4 4h8m-6-6h8m-7 5h8m-7-4h8m-4 0h8m-4 4h8m-7-7h8m-7 1h8m-2 7h8m-5-7h8m-7 2h8m-8 5h8m-4 1h8m-4-9h8m-6 2h8m-7-1h8m2 4h8m-4 0h8m0 3h8m-3-1h8m-6-5h8m-5 1h8m-5 4h8m3-2h8m-132 9h8m-8 1h8m23-4h8m-6 5h8m-7-4h8m-5 5h8m-4 1h8m-2 0h8m-5-4h8m-2-2h8m-3-1h8m-2 7h8m-7 0h8m-5-5h8m-8-2h8m-3 3h8m-6 0h8m-2 3h8m-3 0h8m-3-5h8m1 6h8m0-8h8m4 9h8m-7-3h8m-7-4h8m-129 8h8m22 1h8m-8 1h8m-2-1h8m-7 3h8m-5 0h8m9-1h8m-7 2h8m-6-4h8m5 1h8m-5 0h8m-5 2h8m-1-2h8m-6-1h8m-6 8h8m-7-4h8m-7-3h8m-1 7h8m-4-9h8m-7 2h8m-6-1h8m-5 8h8m-8-3h8m7 0h8m-139 13h8m-5-6h8m-8 3h8m-8 3h8m24-8h8m-6 5h8m-6 1h8m-7 0h8m-8-6h8m-6 7h8m-6 1h8m-7 0h8m-8-6h8m8 0h8m-6-3h8m-8 0h8m-4 7h8m-7-2h8m-4-5h8m-7 7h8m-2-2h8m0-3h8m-5 7h8m3-1h8m-5-5h8m1 5h8m2 1h8m0 0h8m-6-9h8m-8 2h8m-7 6h8m-3-6h8m-146 10h8m-3 6h8m11-4h8m4 4h8m-4-5h8m-6-1h8m-6 5h8m-5-1h8m-8-3h8m1 4h8m-1-5h8m-6 4h8m-6 1h8m-3-3h8m-7-3h8m1 7h8m-7-7h8m-6-1h8m3 9h8m-2-4h8m-6 0h8m-5 3h8m-5-7h8m-6-1h8m-7 6h8m-2-5h8m-4 2h8m3 4h8m-1 1h8m-159 11h8m-7-4h8m-8 4h8m-3-2h8m-6-5h8m-8-1h8m-7 2h8m-5-2h8m8 1h8m5-2h8m-2 0h8m-7 2h8m-7 2h8m-7-3h8m-8 8h8m-6 0h8m-4-9h8m-4 0h8m-6 9h8m-6-1h8m14 1h8m6-6h8m-1 0h8m-3 6h8m4-2h8m9-7h8m-5 2h8m-8-1h8m4 4h8m-171 11h8m0-2h8m17 1h8m12-1h8m-2 2h8m-8 2h8m-7-8h8m-8 9h8m-8-2h8m-7-5h8m-5 1h8m-8 0h8m-2 6h8m-4-3h8m-7 3h8m-6-5h8m6 0h8m-6-2h8m-8 2h8m-1 3h8m-8 2h8m-6-1h8m-6-8h8m-8 9h8m-7-5h8m-3-4h8m-7 3h8m-7 4h8m-3 0h8m0-7h8m-6 7h8m2-6h8m3 8h8m-7-9h8m-2 2h8m-6 6h8m-7-2h8m-2 2h8m-8-1h8m-186 12h8m9-9h8m43 2h8m-6 1h8m-6 5h8m-6-8h8m-6 9h8m-6 0h8m-3-7h8m-7 7h8m-8-6h8m-5-1h8m4 1h8m-1 5h8m-2-4h8m-7 4h8m-2 0h8m-8 1h8m5-3h8m-6-3h8m-8 4h8m0 0h8m-4-3h8m-3 2h8m-8-4h8m0 0h8m-6 7h8m-6-1h8m-7-6h8m-5 1h8m-3-1h8m-6 7h8m-7-9h8m1 8h8m-5-2h8m-7 1h8m-196 10h8m50-3h8m-4 4h8m-2 0h8m-7-4h8m1 1h8m14 1h8m-3 1h8m-7 0h8m-7 0h8m5-7h8m-7 7h8m-4-6h8m3-1h8m-4 9h8m0-7h8m-6-2h8m0 3h8m-4 1h8m4 4h8m-3-1h8m3-6h8m-211 17h8m1-2h8m-5 2h8m-6-6h8m1 3h8m20-3h8m10 1h8m-1 5h8m11-1h8m-5-3h8m-3 2h8m-5 3h8m-3-7h8m-5 1h8m-7-3h8m-1 8h8m-6 1h8m-7-4h8m-6 1h8m-2 3h8m0-3h8m-6-1h8m3 4h8m5-2h8m-7-5h8m-7 2h8m-3 2h8m-1-4h8m-6 6h8m10 0h8m-7-5h8m-6 0h8m-1 5h8m-6-1h8m-224 8h8m2-3h8m15 1h8m24 2h8m15-2h8m-8 5h8m-4-1h8m-5-5h8m9-2h8m-8 8h8m-4 1h8m-7 0h8m-4-4h8m-2-5h8m-5 3h8m-5 5h8m-7-6h8m-3 7h8m-6-7h8m-5 6h8m7-3h8m2 3h8m-8 0h8m-3-8h8m-2 5h8m-7-2h8m-7-3h8m-1 9h8m-8-5h8m-5 4h8m5-4h8m2 3h8m-228 12h8m-6-8h8m-2 8h8m81-8h8m-7-1h8m-5 4h8m-6 1h8m-8-4h8m-8 4h8m-6-1h8m-7-1h8m2 6h8m16-9h8m-6 1h8m-6 0h8m-4 7h8m-3 1h8m-6-6h8m3 4h8m-5-5h8m-4-1h8m-1-1h8m-3 8h8m-5-8h8m-7 2h8m2 2h8m-8 1h8m-4 2h8m-5-4h8m2 2h8m-1-1h8m-6-1h8m0 3h8m-262 9h8m0 2h8m-6-5h8m32 7h8m56 0h8m-7-2h8m-6-3h8m-5-3h8m-7 3h8m-6 1h8m-6-1h8m-5 0h8m-8 3h8m-8-2h8m-6-2h8m-5-1h8m2 7h8m-7-8h8m2 2h8m-3 6h8m-7-4h8m1 0h8m-3-5h8m2 0h8m-1 2h8m-4 4h8m-2 1h8m-6 0h8m-6-4h8m8 1h8m-3 3h8m-4-6h8m-6-1h8m3 2h8m-3-1h8m-4 8h8m-5-7h8m-268 15h8m-7 2h8m-3 0h8m-6-7h8m-7 2h8m-4-2h8m-5 3h8m96-4h8m-7 0h8m-5 2h8m-7-2h8m-2 7h8m-4-4h8m-6 4h8m3-7h8m-3 6h8m3-4h8m-4 1h8m-8-1h8m-3 0h8m-8-2h8m-7 6h8m-7-2h8m-7-1h8m0 5h8m5-8h8m-6 0h8m-1 1h8m3 6h8m-8-7h8m8 3h8m-7 1h8m-4 4h8m-7-4h8m-7-3h8m1 2h8m-7 3h8m2-5h8m-5-1h8m-5 7h8m-290 9h8m2-1h8m108-4h8m1-2h8m2 7h8m-4-3h8m-1 3h8m-3-7h8m-2 1h8m-6 4h8m-8 4h8m-5-8h8m-7 0h8m-8 6h8m0-6h8m-4 7h8m-6-5h8m-4 5h8m-3-2h8m-6 3h8m-6-8h8m2 5h8m-4-4h8m2 6h8m-4-7h8m-6 0h8m1 0h8m-3 2h8m0 1h8m4-2h8m-2-2h8m-7 4h8m-6 2h8m-5-2h8m-3 4h8m-8-3h8m-294 14h8m-8-3h8m-7 1h8m-5 1h8m-7-4h8m-8 0h8m-7-1h8m13 5h8m10 1h8m-4-4h8m16 0h8m0 3h8m28-4h8m2-2h8m1-2h8m-3 7h8m-7-4h8m-7 0h8m-8 3h8m-8 1h8m-1-3h8m-7 3h8m-2-1h8m-8 3h8m-7-4h8m-8-4h8m-7 5h8m-5-6h8m-8 9h8m-3-4h8m-6-2h8m-8 0h8m-4-2h8m-8 6h8m0 1h8m-5 0h8m-4 0h8m-8-5h8m4-2h8m-4 2h8m-7 3h8m-6-5h8m-7 0h8m-8 0h8m-5 4h8m-3-4h8m-5 3h8m3 2h8m-1-4h8m-8-1h8m-5 6h8m-5-7h8m-4 6h8m-7 0h8m1 1h8m9 2h8m-7-4h8m-4-4h8m-4 7h8m-7-2h8m-6 3h8m-7-1h8m-1-7h8m-3 8h8m-312 8h8m-5 1h8m77-3h8m15 1h8m18-1h8m-6 1h8m-8-6h8m-7 5h8m-5-3h8m-6 6h8m-2-2h8m-7 2h8m-6-8h8m-7 6h8m8-4h8m-6 3h8m-5-4h8m-5 6h8m3-7h8m-5 8h8m-7-6h8m7-2h8m-3 3h8m-6 6h8m23-6h8m1-2h8m-7 0h8m0 7h8m-2-6h8m2 5h8m-4-2h8m-5 2h8m-6 1h8m0-1h8m-313 9h8m-8-5h8m-7 8h8m-6-9h8m-6 5h8m-5 3h8m-7-6h8m43 6h8m1-7h8m1 8h8m60-6h8m0 5h8m-7-2h8m-4-6h8m-2 6h8m-6 2h8m-2 0h8m-4-7h8m1 1h8m-5-1h8m-7 4h8m0 2h8m-2-3h8m13-4h8m1 6h8m-2-4h8m-8 4h8m-4 1h8m-7-1h8m3-3h8m-4 0h8m7 3h8m7-1h8m-8-5h8m-3 3h8m5-1h8m-323 17h8m-3-5h8m-4 0h8m0 1h8m127-2h8m-7-2h8m-5-1h8m-6 4h8m-4 0h8m1-1h8m8 3h8m-7-3h8m-5-2h8m-4 5h8m22-2h8m-7-4h8m-5 7h8m3 1h8m-3 1h8m2-8h8m-6-1h8m-5 0h8m2 7h8m-2-1h8m-6-5h8m5 1h8m-6 5h8m2 0h8m-4-3h8m3 2h8m-3-6h8m-6 5h8m-334 6h8m-6 3h8m50-1h8m73-3h8m-1 9h8m-4-3h8m-7 0h8m-3-6h8m-4 3h8m1 4h8m-4-1h8m-2-2h8m-4 5h8m-2-1h8m6-1h8m-5-1h8m-3-2h8m-8-1h8m-8-2h8m-6 3h8m2 3h8m-7-2h8m-8 3h8m-2-8h8m-4 1h8m-7 0h8m-7-1h8m2 5h8m-4-2h8m-4 6h8m-1-1h8m-6-8h8m-3 6h8m-7-3h8m1 5h8m-5-3h8m-3-2h8m-1 4h8m-6-1h8m-4 3h8m-1-1h8m-5-2h8m-324 12h8m-8-1h8m-7 2h8m-7 0h8m-7-1h8m-5-5h8m3-1h8m28 4h8m85 0h8m-5 2h8m-7-3h8m-7 3h8m-6-7h8m-7 8h8m-5-8h8m-6 1h8m-7 2h8m-5-3h8m-1 8h8m-8-1h8m7-7h8m0 1h8m-5 0h8m-5-2h8m-2 4h8m-4-4h8m-4 9h8m-7-9h8m-2 0h8m-3 3h8m-3 0h8m-3-2h8m-7-1h8m17 6h8m-2 0h8m-4-2h8m-6 4h8m3-3h8m-5 4h8m-8-5h8m5 4h8m4 1h8m1 0h8m-1-9h8m-6 8h8m-345 9h8m-6 0h8m-5 0h8m61 0h8m63-3h8m-2-1h8m-6 0h8m-8-1h8m-4 5h8m-7-2h8m-7-5h8m-2 6h8m-8-6h8m-4 5h8m-7 3h8m-7-4h8m6 5h8m-3-3h8m-6-5h8m-5 7h8m-5-7h8m-2-1h8m-5 2h8m-5 2h8m-3-4h8m-2 7h8m-2-1h8m16-5h8m8 0h8m-6 7h8m-7-3h8m-4-4h8m-7 7h8m-2-8h8m-7 9h8m5-7h8m0-1h8m-3 4h8m-5 1h8m14 0h8m-4 0h8m-6-6h8m-351 16h8m-6-6h8m44 1h8m30 1h8m39 6h8m3-7h8m-4 7h8m-6 1h8m-6-2h8m-6-6h8m-8 1h8m-7 0h8m-7 6h8m-8 1h8m-2-4h8m-7 3h8m-4-2h8m-7 0h8m0-2h8m-6-4h8m2 1h8m0 3h8m6 1h8m-2 0h8m-8-3h8m-1 5h8m-2-2h8m-7 1h8m-8 0h8m-3-5h8m-4-1h8m-6 5h8m1-3h8m-2-1h8m13 4h8m5 0h8m2-4h8m-6 5h8m2-1h8m-4 4h8m-2-9h8m-6 4h8m4-4h8m-357 16h8m-2-4h8m136 6h8m4 0h8m-7 1h8m-8-2h8m-7-4h8m-7 3h8m-8-1h8m-8-4h8m-6-1h8m-8 7h8m-7 0h8m10 2h8m-3-3h8m2 2h8m-6-2h8m1-4h8m0 4h8m2-5h8m-8 0h8m-3 2h8m-4-2h8m-8 0h8m-3 5h8m-8-2h8m-7 1h8m-7 1h8m-7-3h8m-6 1h8m-5-4h8m-6 8h8m-5-2h8m3 1h8m-5-5h8m6 4h8m10 2h8m1-2h8m13-3h8m-8 3h8m-8-6h8m-4 4h8m1-1h8m-4 6h8m-7-3h8m-3 2h8m-7-2h8m-7-1h8m-6-4h8m-365 11h8m-8-2h8m25 4h8m6 2h8m8 2h8m76-3h8m4-3h8m-7 0h8m-8 0h8m-3 0h8m-8 1h8m2-2h8m14 7h8m14 1h8m1-8h8m-1 2h8m2-1h8m-8-2h8m-1 0h8m-2 5h8m-5 4h8m2-9h8m-7 8h8m-7 0h8m-5-4h8m-4-2h8m-7 7h8m-4-2h8m-5 0h8m-7 0h8m-6 0h8m9-7h8m5 0h8m0 9h8m-8-4h8m2-1h8m-4-4h8m-7 3h8m-5 3h8m5-1h8m-384 13h8m29-8h8m78 8h8m2-3h8m22 2h8m-8-4h8m-3 6h8m-4-5h8m-7 0h8m-5 4h8m-8-7h8m0 1h8m-7 7h8m-8-7h8m-4 3h8m7-1h8m4-4h8m-6 6h8m-1-1h8m-4 0h8m6-4h8m2 8h8m-7-1h8m-6-2h8m1 3h8m1-8h8m-6-1h8m-6 6h8m6 3h8m-4-9h8m2 1h8m0 3h8m-5 4h8m-5-4h8m12 5h8m-6-3h8m-4-5h8m-7 8h8m-7-5h8m-6 4h8m-7-6h8m-5 1h8m6 1h8m-2-2h8m-7-1h8m-380 14h8m-6-5h8m-7 0h8m-6 6h8m18 2h8m16-6h8m6 3h8m25 1h8m46-3h8m7 2h8m-6-3h8m-3 0h8m-4 3h8m-8-5h8m-2 8h8m3-4h8m-7-1h8m-3 3h8m-7-1h8m-3-4h8m-1 6h8m4-6h8m-6 5h8m-4-1h8m-6 2h8m-7-7h8m-6 3h8m-6-3h8m-5 4h8m-3 0h8m-5-3h8m2 0h8m0-1h8m-4 1h8m-6 5h8m0-4h8m-1 2h8m-3 0h8m-6-2h8m-8-1h8m-8 6h8m-6-4h8m-5 1h8m-4 1h8m4 3h8m7 0h8m-1-4h8m-4-1h8m-6 2h8m-3 0h8m-2 0h8m11 4h8m-397 4h8m-6 5h8m-6-7h8m-8 3h8m104 2h8m36-3h8m-2 1h8m-4-4h8m-3 4h8m1-1h8m-7-1h8m-1 1h8m-4 1h8m-5-1h8m3 1h8m-6-3h8m-7 6h8m1 0h8m4-1h8m-7-1h8m-7 3h8m-7 1h8m-6-1h8m-7-4h8m15-1h8m-7-1h8m2 6h8m-7-3h8m-7 3h8m-7-1h8m1-7h8m-7 2h8m-8 0h8m-1 3h8m-7 1h8m-7 3h8m-1-7h8m-7 3h8m-6 1h8m16-6h8m-4 8h8m2-4h8m-3-1h8m-1 2h8m-7 1h8m25-6h8m-401 12h8m3 5h8m11 1h8m125-1h8m-6-2h8m-7-4h8m-2 6h8m-5-2h8m-2-1h8m-6 1h8m1 4h8m-3-3h8m6-1h8m-3-1h8m-4 5h8m-7-7h8m-7 7h8m-6-4h8m-6-1h8m-6-4h8m-7 4h8m-6 4h8m-1-2h8m21-6h8m2 4h8m-7 5h8m0-1h8m-8 0h8m-5 0h8m-6-1h8m-1 2h8m-8-1h8m-2-2h8m-7 0h8m-8-4h8m-6 6h8m-8-1h8m-6 0h8m-5 2h8m0 0h8m17-9h8m-3 4h8m-8 2h8m7-3h8m-4 2h8m-2-1h8m1-1h8m0-2h8m-6 4h8m-8-2h8m-406 8h8m-8 3h8m19-4h8m14 9h8m1-3h8m-8-3h8m36 3h8m60-4h8m0 1h8m-5 0h8m23-1h8m9 5h8m3-1h8m2-6h8m-1 6h8m-5 0h8m-7 1h8m-4-2h8m7-2h8m-2 3h8m-3-6h8m-7 9h8m-6 0h8m-5-2h8m-6-1h8m1-2h8m6 2h8m-6 1h8m-1-2h8m-5 3h8m-7 1h8m-2-6h8m-5 2h8m-6 4h8m4 0h8m-3-2h8m-8-2h8m-6 4h8m-5-1h8m-4-4h8m-6-3h8m4 1h8m-6 2h8m-389 14h8m9 1h8m120-3h8m-1 3h8m-6-1h8m-3-7h8m-5 6h8m-8 2h8m-4-5h8m-4 4h8m-5-4h8m-7 1h8m4 1h8m-5 3h8m-3-9h8m17 9h8m-1-7h8m-7 1h8m-7-2h8m-6 8h8m14-8h8m-7 0h8m-1 7h8m-4-7h8m1 6h8m6 2h8m-5-2h8m-3-1h8m7 3h8m-5-1h8m-5 1h8m-7-6h8m2 3h8m-7 2h8m-4-4h8m26-1h8m-2 6h8m3-2h8m-5-2h8m-6 3h8m0-4h8m-420 10h8m-4-1h8m6 5h8m126 1h8m6-5h8m70 1h8m-7 3h8m3 1h8m5-8h8m-5 2h8m-7 1h8m-7-2h8m-7 4h8m-7 3h8m-4-3h8m-7 2h8m-4 0h8m-6-4h8m-7 0h8m7-3h8m2-1h8m2 6h8m11-5h8m-7 8h8m-8-5h8m-3 3h8m-3-6h8m-4 2h8m2-1h8m-4 0h8m-7 7h8m-6-8h8m-6 2h8m-4-3h8m-402 14h8m77 2h8m56-4h8m7 2h8m-5 2h8m-6-2h8m-2-2h8m-1 6h8m-7-2h8m-5-5h8m2 4h8m-4 3h8m-8-1h8m45-3h8m-5 5h8m-2-2h8m-6-7h8m-8 6h8m-4 0h8m0 0h8m-2 3h8m-7-7h8m5-1h8m-7 3h8m-7 2h8m-2-5h8m-1 8h8m-4-5h8m4-2h8m-1 1h8m-4-3h8m-6 8h8m-7 1h8m1-1h8m7-6h8m-4 4h8m-5-6h8m-8 1h8m4 4h8m3 3h8m6-7h8m-8 4h8m3-5h8m-6 8h8m-5-8h8m-6 6h8m-1 1h8m-444 4h8m3 3h8m46-4h8m94 7h8m4-6h8m4 3h8m-6-4h8m-5 1h8m-6 2h8m0-1h8m44 7h8m-4-3h8m-3 2h8m-7-3h8m-6 0h8m1 0h8m5 2h8m30-2h8m-8-4h8m15 7h8m2-5h8m-7 2h8m-6 0h8m-5 0h8m-1 4h8m6-8h8m3-1h8m-2 7h8m-5-3h8m-3-4h8m0 6h8m11 2h8m-453 2h8m-7 2h8m31-1h8m30 4h8m-1-1h8m32-4h8m41 5h8m0 4h8m-6 0h8m-3-5h8m-2 1h8m-2-2h8m52-1h8m-2 3h8m-2-4h8m6 7h8m0 1h8m7-8h8m-8 7h8m-2 0h8m17 0h8m-5-7h8m-1 5h8m-8-1h8m0-1h8m-5 2h8m-8 0h8m-5 2h8m-4-8h8m2 1h8m-8 1h8m-6-2h8m-3 1h8m-7 6h8m-3-5h8m11 2h8m-1-2h8m-1-1h8m-3 2h8m-4 5h8m-5-2h8m-454 12h8m-6-3h8m-6 2h8m-5-5h8m17 0h8m26 0h8m10-2h8m-5 4h8m80 4h8m4-7h8m4 2h8m-5 0h8m1 1h8m48 2h8m-7 1h8m-3-1h8m-7-3h8m-7 0h8m-6 2h8m6 1h8m-7 3h8m7-5h8m3 1h8m7 4h8m1-1h8m-3-1h8m-1 0h8m12-2h8m1-1h8m5 0h8m-5-1h8m-4-3h8m1 9h8m-5-2h8m-3-1h8m-6-5h8m0 8h8m5-6h8m-5 1h8m-2 5h8m-461 2h8m-4 1h8m152 5h8m97-7h8m23 3h8m-4-2h8m-2 2h8m-2 6h8m1-1h8m-3-7h8m9 0h8m-4 0h8m0 1h8m-8-2h8m0 6h8m-7-3h8m-4-2h8m1 1h8m-3 3h8m-7-1h8m-2 1h8m0 2h8m-2 0h8m-3-5h8m-1-1h8m-2 8h8m7-4h8m4-3h8m3 5h8m-7 1h8m-488 10h8m107-3h8m13-4h8m6 7h8m-6-3h8m143 4h8m-3 0h8m-8-9h8m0 1h8m0 8h8m4-6h8m-7 4h8m-8-1h8m-1-2h8m-8 5h8m21 0h8m3-9h8m-7 9h8m-3-2h8m-7 2h8m-1-5h8m-4 3h8m-3-2h8m-3-2h8m-7 4h8m-5-3h8m5 3h8m-5-7h8m-8 2h8m4 7h8m0-1h8m20-2h8m-488 13h8m0-2h8m69-4h8m-6-2h8m34 7h8m19-4h8m126-3h8m8 3h8m-5-1h8m-5 4h8m3-1h8m-6-2h8m1-1h8m-5 4h8m-7 1h8m0-1h8m0 0h8m-7 1h8m-4-7h8m-8 7h8m-7-7h8m4 1h8m2 3h8m-6-5h8m-7 8h8m-4-2h8m4-1h8m-1-2h8m8 3h8m6-3h8m-6 1h8m-7-2h8m3 6h8m1-1h8m4-4h8m-487 14h8m-3 0h8m51-1h8m5-3h8m20-1h8m55 6h8m117-5h8m-5-3h8m-8 0h8m5 7h8m-4-2h8m2-1h8m-7 3h8m-2-3h8m-7 4h8m0-2h8m-8-4h8m12-1h8m-1 8h8m-7-4h8m7-5h8m-7 3h8m-7 1h8m-8-3h8m-7 4h8m9 2h8m5-2h8m-8-5h8m-5 2h8m6 7h8m-1-9h8m-8 5h8m7 1h8m-2 0h8m-4 3h8m-8-3h8m-5 2h8m1 1h8m0-7h8m-7 2h8m-1 4h8m-504 8h8m65-3h8m87 1h8m-5 3h8m127 2h8m-7 0h8m6-7h8m-5 7h8m-7-8h8m-7 0h8m7 0h8m3 1h8m-7 7h8m-7-6h8m-2-2h8m-7 5h8m3-1h8m-2-3h8m25 6h8m2 1h8m8-8h8m0 4h8m-7-2h8m-6-2h8m-7 5h8m3 2h8m1-1h8m-2-1h8m-8-6h8m-6 5h8m6 3h8m-6-5h8m-4-2h8m-6 7h8m-517 7h8m-8-3h8m-5 0h8m-3 2h8m292 5h8m-2-3h8m8-6h8m0 5h8m-8-4h8m5 8h8m5-2h8m1-1h8m23 1h8m-8-3h8m0 4h8m-6-8h8m-1 3h8m-7 0h8m-3 1h8m-3-1h8m-7-1h8m-6 6h8m-8-7h8m0 2h8m-6 5h8m5-5h8m-4 5h8m-7-5h8m4 3h8m-7-4h8m-6 6h8m-7-1h8m-6-1h8m-7-4h8m-7 4h8m-3 2h8m1-1h8m-3 2h8m2-5h8m-540 15h8m-4-3h8m-3 2h8m-6 1h8m-6-7h8m-4-2h8m79 6h8m-5-1h8m39-4h8m12 2h8m146 3h8m1-5h8m-4 7h8m-7-7h8m-5 3h8m-6-2h8m11 3h8m-8-5h8m-5 2h8m-7 2h8m-7-2h8m-2 3h8m6 2h8m-1 2h8m-4-6h8m6-2h8m-6 6h8m-6 2h8m0-4h8m-6-3h8m-5 5h8m6 2h8m8 0h8m-6-5h8m-7 3h8m4 1h8m7-1h8m-4-7h8m-2 8h8m-5-8h8m-7 8h8m5-5h8m-534 10h8m33-1h8m51-1h8m12 5h8m43-5h8m166 7h8m11-7h8m-7-1h8m-4 1h8m-6 8h8m-8-2h8m1 1h8m-7-1h8m-1 2h8m-5-3h8m-3-6h8m9 6h8m-7-5h8m-7-1h8m-7 9h8m-7-6h8m-1-1h8m-7 1h8m-5-2h8m-2 1h8m-7-1h8m15 2h8m-5 6h8m5 0h8m-7-9h8m-7 5h8m-3-4h8m-3 7h8m-7 0h8m-5-6h8m3 1h8m1 1h8m-7-1h8m0-2h8m-7 8h8m5-6h8m0 4h8m-6-5h8m-556 9h8m339-1h8m-4 1h8m0 5h8m1 1h8m2-3h8m-6-1h8m1 3h8m-5-5h8m-1 1h8m-5-1h8m-2 7h8m3-6h8m-6-1h8m-2 1h8m2 7h8m-1-6h8m-1 3h8m-4 0h8m-5-2h8m0 5h8m-5-6h8m-5 1h8m-7-3h8m-7 0h8m0 3h8m0 1h8m-6 2h8m-6-4h8m-7 3h8m-7-3h8m3 2h8m-4-3h8m20 5h8m-5-7h8m-7 2h8m-7 5h8m-567 6h8m11 4h8m-4-5h8m344-2h8m4 6h8m-4-5h8m-7-1h8m-4 9h8m-7-3h8m-6-3h8m-6 6h8m-7-9h8m-8 2h8m-3 1h8m-4-3h8m2 9h8m-3-7h8m-5 5h8m1-6h8m-2-1h8m-5 9h8m-6-2h8m2 0h8m20-1h8m-7-2h8m-3-2h8m-1 7h8m5-1h8m-7-3h8m19 1h8m-5-1h8m-5 3h8m8-3h8m-574 14h8m-5-8h8m-3-1h8m53 3h8m324-2h8m11 4h8m-7 0h8m3-2h8m-8 6h8m-4-2h8m-5-1h8m-3 3h8m-3-4h8m-3-1h8m-4-3h8m0-1h8m0 3h8m-4 5h8m3-6h8m1 3h8m-1-2h8m-7 5h8m-1-2h8m2-3h8m13 3h8m-2 1h8m-1-5h8m-4 3h8m-7 0h8m-1-4h8m-142 17h8m0-3h8m5 1h8m-7 2h8m-4-7h8m8 2h8m-2-3h8m0 2h8m-4-1h8m-8 1h8m-7-2h8m-2 3h8m-7-3h8m-4 3h8m15-3h8m-6 5h8m7 0h8m11-5h8m-6 1h8m-8 1h8m-561 9h8m0-1h8m388 6h8m18 0h8m1 1h8m13 2h8m20-7h8m-6 3h8m10 0h8m-3-4h8m-5 4h8m-6 0h8m-7 0h8m-5 2h8m-1-3h8m-2-2h8m-8-1h8m-1 3h8m2-1h8m-7-2h8m-155 10h8m32 2h8m3 5h8m-1-2h8m8-1h8m-3-2h8m11 1h8m-4 0h8m1 2h8m2-5h8m-6 3h8m-8-3h8m-4 1h8m-6-2h8m1 6h8m-5 0h8m0-6h8m-145 12h8m0 6h8m1 1h8m-3-3h8m12-2h8m22 0h8m5 1h8m-4-5h8m2 5h8m17 4h8m-7-4h8m4-1h8m-154 6h8m5 4h8m-7-4h8m0 3h8m20 1h8m9 2h8m-5-1h8m-4 4h8m13-7h8m14 1h8m11 0h8m-118 7h8m11 0h8m-6 0h8"/><path stroke="#21918c" d="M4876 2460h8m-51 19h8m-8 0h8m-6-1h8m18-1h8m-21 4h8m-7 2h8m8-1h8m-1 14h8m3-1h8m-66 9h8m27 5h8m-3-2h8m-7-5h8m-39 11h8m36 4h8m-9 12h8m-51 4h8m18 1h8m-4 1h8m2-3h8m1 5h8m-1-5h8m-54 17h8m0-8h8m3 6h8m-22 12h8m-7-1h8m1 0h8m16-1h8m-94 8h8m26 3h8m-4-2h8m-7 3h8m-2-4h8m-5 0h8m-4-2h8m-2 5h8m-3-3h8m5 3h8m-120 8h8m6 3h8m86-1h8m3-7h8m-3-1h8m-6 0h8m-73 12h8m24 0h8m-1 5h8m8 2h8m-7-3h8m-4-3h8m-171 9h8m42 0h8m19 7h8m4-5h8m41 2h8m-7-5h8m-6 2h8m38 4h8m-247 12h8m53 0h8m72-7h8m-5-1h8m-6 4h8m-8-2h8m9-1h8m-1-2h8m10 9h8m-2-9h8m11 7h8m-2-7h8m6 7h8m2-7h8m-254 19h8m37-2h8m71 2h8m-7-4h8m5-3h8m4-2h8m29 8h8m10-6h8m-6-1h8m-7 3h8m-3 3h8m25-6h8m-5 0h8m16 4h8m2 3h8m-166 5h8m-8 1h8m1-2h8m-1 7h8m0-3h8m0-1h8m12 1h8m9-1h8m5-5h8m2 3h8m6-3h8m4 2h8m-6 3h8m7 0h8m7 1h8m-314 8h8m69 0h8m19-3h8m24 6h8m-7-1h8m-7 2h8m-8-3h8m0 0h8m1-4h8m41 8h8m18-1h8m13-7h8m-3 5h8m5-6h8m0 2h8m13-2h8m3 0h8m-3 5h8m5-3h8m-452 13h8m34 2h8m4-7h8m26 1h8m79 1h8m70-1h8m-2-1h8m7 9h8m22-8h8m6 0h8m7 7h8m1-4h8m-5 3h8m30-7h8m5 5h8m10-5h8m-6 3h8m9 2h8m-443 11h8m86-5h8m127 8h8m-3-2h8m16 1h8m-3-8h8m38 1h8m-1-1h8m-5 0h8m-8 7h8m-2-3h8m-2-1h8m-5-1h8m41 1h8m-4 6h8m-1-9h8m17 1h8m4-1h8m-435 16h8m-6-3h8m36 2h8m53-1h8m-6-3h8m-3 1h8m95 4h8m-3-6h8m35 8h8m10-1h8m-1-2h8m-2 3h8m19-4h8m6 4h8m-3-1h8m-5-4h8m33 6h8m-5 0h8m4-5h8m-6 2h8m-4-3h8m6 0h8m6-3h8m-5 4h8m-432 15h8m136-9h8m33 4h8m-1-2h8m-6-2h8m-2 8h8m-7-5h8m-2 1h8m-4-4h8m5 3h8m0 1h8m23 0h8m5 4h8m9 1h8m5 0h8m-6-9h8m-2 3h8m5 5h8m8-3h8m64-4h8m-435 18h8m-6-6h8m181-1h8m-7-1h8m3 6h8m37 1h8m42-2h8m-5 1h8m-214 4h8m20 6h8m46-1h8m1 1h8m42 0h8m14-2h8m-6-2h8m-6-3h8m-6 6h8m-4-5h8m-8-1h8m1 0h8m-144 14h8m11 4h8m-4-4h8m-7 2h8m-8-1h8m59 4h8m2 0h8m-6-9h8m22 5h8m-290 13h8m-7-2h8m24 2h8m114-1h8m2-5h8m33 5h8m14-6h8m-6 4h8m-7 4h8m-6-9h8m-4 3h8m10-3h8m-199 15h8m73 3h8m-4-6h8m-3 2h8m15 0h8m12 5h8m-67 9h8m-5-6h8m-6-1h8m-6 5h8m38-6h8m-6 1h8m-4 7h8m-216 4h8m4 5h8m112 0h8m-5 2h8m-4-8h8m22 0h8m2 8h8m0-3h8m-187 12h8m-5-7h8m100 8h8m-2-3h8m2-3h8m-8 4h8m29 1h8m-3-1h8m-5-6h8m-180 12h8m17-2h8m79 3h8m-8-2h8m-3 0h8m-68 8h8m8 2h8m16 1h8m4-3h8m13 2h8m-43 11h8m9 1h8m6-2h8m-7 0h8m-3 4h8m-145 6h8m14-1h8m-7 7h8m43-3h8m1 3h8m5-8h8m-114 12h8m-6-2h8m28 4h8m35 1h8m-3 0h8m-6-5h8m-4 2h8m-3 5h8m20-4h8m-5-3h8m-70 16h8m1 1h8m4-5h8m10 0h8m-3 2h8m-123 10h8m-7 0h8m-5 3h8m19-2h8m4 2h8m16-3h8m-5-4h8m-7 8h8m14-7h8m-6-1h8m-28 15h8m-2-5h8m-90 19h8m25-6h8m14-2h8m-52 12h8m10-3h8m-5 5h8m19-4h8m-70 15h8m-3 3h8m46-7h8m-7 0h8m-38 21h8m-7 1h8m-45 14h8"/><path stroke="#3b528b" d="M4851 2133h8m-32 118h8m9 6h8m-62 11h8m50 8h8m-66 32h8m30 1h8m-71 2h8m79 1h8m-97 16h8m44-5h8m-6 2h8m-88 5h8m36 8h8m-30 11h8m24 5h8m21 19h8m20 0h8m-91 16h8m-41 7h8m70 6h8m3 2h8m-14 15h8m-115 8h8m27-4h8m62 4h8m-97 12h8m68-5h8m-3-3h8m-90 12h8m19-3h8m7 7h8m22-5h8m36 4h8m-49 21h8m5-6h8m-8 4h8m8 3h8m-7-8h8m5 9h8m-7-2h8m-6-7h8m-5 8h8m28-3h8m-4-3h8m-173 14h8m41-1h8m12-4h8m12 1h8m-6 7h8m6-3h8m1-5h8m-7 2h8m4 6h8m0-2h8m4-7h8m-7 8h8m-5 1h8m9-2h8m-167 7h8m40-4h8m30 8h8m2-8h8m14 1h8m12 7h8m8-1h8m-211 7h8m6 0h8m31-2h8m-1-2h8m44 0h8m13 0h8m6 8h8m2-1h8m-3-3h8m-56 7h8m-1 3h8m9 0h8m-2-1h8m-6-2h8m-4 1h8m-7 1h8m14 1h8m-5 1h8m4 4h8m0-4h8m7 1h8m-7-1h8m-135 7h8m57 3h8m-6 4h8m-3-1h8m1 0h8m-6-3h8m-7 2h8m-7-2h8m9-3h8m-8-2h8m7 3h8m-6 6h8m-2-6h8m-219 8h8m48 0h8m61 8h8m44-4h8m15-3h8m-2-2h8m-240 16h8m5-3h8m14 2h8m136 3h8m15-4h8m6-4h8m-237 17h8m28-7h8m-1 1h8m78-1h8m42 6h8m29-2h8m-1-2h8m19 4h8m-6 3h8m-280 2h8m57-1h8m15 7h8m-5-4h8m3 5h8m47 1h8m12-2h8m-4 0h8m-6-7h8m12 0h8m-3 6h8m9 0h8m17-5h8m-281 15h8m168-1h8m19 1h8m7 3h8m-5-4h8m4 2h8m-6-7h8m-7 7h8m-3-5h8m-6 4h8m-7-6h8m-5 1h8m11 0h8m-264 16h8m21-1h8m102 3h8m17-5h8m38 4h8m2-6h8m-6 0h8m-3 5h8m3-6h8m-4 2h8m17-3h8m-271 10h8m49 4h8m3 2h8m47-1h8m14-4h8m50 8h8m-5-4h8m-3-3h8m8 5h8m-1-4h8m-5-1h8m-5-1h8m19 8h8m-262 2h8m72 4h8m3-2h8m26-2h8m28 7h8m25-6h8m5-1h8m23 1h8m15 4h8m-324 7h8m92 2h8m9 1h8m-3-5h8m2 5h8m-8-2h8m71 3h8m10-6h8m-3 7h8m-8-5h8m-7-2h8m-7 4h8m62 2h8m30 1h8m-339 2h8m99 2h8m32-2h8m24 7h8m31 2h8m127-7h8m-352 17h8m-2-2h8m16-5h8m10 2h8m92 1h8m21-4h8m-8 6h8m-2 1h8m10-3h8m-8-1h8m-1 0h8m12 0h8m12-4h8m-2 1h8m6 4h8m0 3h8m14-2h8m58 3h8m-7-8h8m-409 17h8m-5-3h8m5-4h8m26 7h8m-4-8h8m84 7h8m15-2h8m-5 3h8m11-7h8m7 4h8m2 2h8m5-1h8m-7-1h8m21-4h8m-4 0h8m42 6h8m29 0h8m-7-1h8m25 3h8m5-1h8m-446 10h8m4-1h8m80-3h8m19-4h8m3 2h8m36-1h8m4 2h8m14 2h8m-5-2h8m-2 1h8m13 4h8m2-6h8m8 5h8m2-1h8m35 1h8m4-7h8m-7 1h8m-6 3h8m16 5h8m-7-6h8m19-3h8m-6 4h8m39 3h8m26-1h8m-4 1h8m-486 7h8m-6-2h8m-2 5h8m-7-1h8m-6-2h8m18-4h8m-2 7h8m1-6h8m16 1h8m20 7h8m15-3h8m18-3h8m71 1h8m-3-3h8m-7 8h8m-6-7h8m-3-1h8m6 2h8m16-3h8m3 7h8m-8 1h8m18-5h8m2 1h8m-6 4h8m21 0h8m39-7h8m112 3h8m27-3h8m-3 1h8m19 2h8m-6 2h8m-602 8h8m-1-3h8m9 6h8m4 2h8m5-4h8m46-2h8m-7 1h8m68 4h8m20-2h8m-6 0h8m-4-5h8m-7 8h8m-7-3h8m2-3h8m0 0h8m1 2h8m7-4h8m9 8h8m-5-3h8m-2 2h8m16 0h8m-5-7h8m15 0h8m30 1h8m10-2h8m60 3h8m5 1h8m100-1h8m17-2h8m-611 11h8m-4 2h8m5 1h8m38 3h8m4-8h8m14 4h8m6-4h8m24 0h8m7 1h8m0 4h8m25-5h8m-4 6h8m-7-2h8m-6 3h8m7-2h8m17-2h8m56 0h8m9-1h8m8-2h8m1 0h8m17 3h8m4-2h8m9-1h8m-6 0h8m13 2h8m-4 3h8m-448 13h8m-7-5h8m-5-2h8m-7 7h8m-6-7h8m11 8h8m30-5h8m10 5h8m10 0h8m3-1h8m-1 1h8m57-4h8m-1 2h8m-4-1h8m-6-5h8m-6 7h8m-3-5h8m-4 0h8m11 1h8m7 2h8m13 3h8m-5-5h8m7 5h8m4-5h8m-2-2h8m-4 5h8m3-1h8m-8-4h8m-289 13h8m32 4h8m-5-4h8m28 4h8m-2-8h8m11-1h8m-5 3h8m19 6h8m3-1h8m-4 1h8m-6-5h8m-6-4h8m4 1h8m3-1h8m-4 2h8m-6 2h8m0-3h8m-4 3h8m-3 5h8m4-9h8m-8 6h8m-1 2h8m-3-3h8m-8-2h8m18 0h8m-1-1h8m11-1h8m-320 14h8m18-2h8m7 4h8m18-3h8m-6 2h8m3 0h8m3-1h8m16-2h8m53 0h8m12-1h8m0 6h8m22 1h8m4 0h8m5-4h8m2 3h8m-201 2h8m-4 9h8m32-6h8m18 6h8m-4-2h8m0 2h8m-4-2h8m-7-6h8m2 8h8m3-7h8m-7 5h8m8-7h8m4 3h8m11 1h8m-242 13h8m-4 0h8m-7-7h8m50 6h8m9-4h8m14 0h8m-1 3h8m26 1h8m-8 3h8m1-1h8m-7-4h8m-7 2h8m-6 1h8m-5-2h8m7-3h8m3-1h8m-5 2h8m3-1h8m-3 6h8m-213 2h8m-3 8h8m-8-5h8m39-1h8m27 7h8m-8-9h8m11 0h8m1 0h8m22 4h8m-4-4h8m15 0h8m12 8h8m-7-4h8m-5 1h8m-8 1h8m-6-6h8m15 4h8m-233 11h8m-1-2h8m-4-1h8m31-2h8m56 1h8m6 0h8m-7 7h8m-2-8h8m-4 5h8m-5-2h8m-4 0h8m-2-1h8m-8 1h8m-5 4h8m-3-7h8m0 6h8m-4 2h8m7-4h8m7-4h8m-144 11h8m3 3h8m10 0h8m2 4h8m8-8h8m-2 3h8m26 1h8m-2 2h8m-179 11h8m-2-4h8m-7 2h8m-3 2h8m20-4h8m21 3h8m37 2h8m-7-6h8m-6 7h8m-6-4h8m-4-5h8m-8 5h8m-8-2h8m-6 0h8m5 2h8m4 3h8m-1-1h8m2-6h8m-3 4h8m-8-3h8m-7 0h8m-177 12h8m13-3h8m18 1h8m37-1h8m-3 7h8m-7-5h8m-7 6h8m-5 0h8m-8-3h8m1-3h8m-6 5h8m5 0h8m-5-7h8m3 5h8m-6 2h8m-7 1h8m-7-1h8m-3 1h8m-8-8h8m-7 1h8m-164 14h8m47 0h8m-3 3h8m21-5h8m-6 5h8m-4-9h8m-7 9h8m-7-8h8m-7 2h8m-2 1h8m1 0h8m7 2h8m-139 10h8m-3 0h8m-6 0h8m24 0h8m38-6h8m-6 6h8m-2 1h8m-2 1h8m0-7h8m6 3h8m12-2h8m-150 16h8m-5-1h8m0 0h8m0-4h8m46 5h8m-3-2h8m-4-2h8m-7 3h8m6-6h8m0 1h8m-6 6h8m0 0h8m-120 10h8m31-7h8m6 0h8m-8 7h8m-8 1h8m4 0h8m-7-5h8m-6 4h8m-3-6h8m-7 1h8m6 4h8m1-5h8m-8 0h8m0 2h8m-5 0h8m-99 11h8m0 1h8m-5-3h8m-3 2h8m3-3h8m-5 1h8m-1 3h8m-5-2h8m10 2h8m-4 1h8m-1 2h8m-7-4h8m2 4h8m-3-9h8m-105 10h8m-1 5h8m26 0h8m-4-3h8m-6 4h8m5 3h8m-7-1h8m9-7h8m-7 2h8m-97 12h8m26-3h8m4-1h8m-7 0h8m4 5h8m-5-6h8m0 7h8m-7 0h8m-87 10h8m-3-4h8m7 2h8m-2-5h8m-8 8h8m-3 0h8m-8-5h8m-7 6h8m8-9h8m-8 8h8m-1-1h8m-5 2h8m-7 0h8m-6-4h8m-8 4h8m-6 0h8m-8-1h8m-2-5h8m-8 4h8m1-2h8m-7-3h8m-86 14h8m-8-2h8m28 1h8m1-3h8m3 3h8m-67 10h8m-7 3h8m-6-3h8m-1 0h8m10 2h8m5-6h8m-8 2h8m-7 2h8m-6-5h8m-8 2h8m-6-1h8m-8 5h8m-7 3h8m-2-6h8m-7-1h8m-5 7h8m-63 5h8m10 4h8m8-5h8m0 3h8m-42 10h8m-3 1h8m0 0h8m-3 2h8m-7-8h8m0 1h8m-46 16h8m5-7h8m-6 8h8m-7-2h8m-7-7h8m-7 9h8m-6-9h8m-6 2h8m-38 14h8m-4 3h8m-6-4h8m-3-2h8m-13 7h8m-6 0h8m-6 0h8"/><path stroke="#2c728e" d="M4843 2463h8m-7 5h8m-7 0h8m26-3h8m-7-3h8m-6 4h8m0-5h8m-6 6h8m-62 6h8m6 0h8m2 4h8m-1-3h8m-44 12h8m-6 1h8m5-2h8m-7-1h8m-3 1h8m12 4h8m-4-6h8m6-3h8m-40 13h8m-4 1h8m-44 6h8m-7 5h8m16-4h8m-7 3h8m-1 5h8m0-3h8m6 2h8m0 0h8m-3-2h8m-82 9h8m34-2h8m-7 5h8m6 0h8m-1-1h8m-59 9h8m2-5h8m-7-1h8m-6 4h8m35 2h8m-42 10h8m9 2h8m-8-1h8m-3-4h8m-5 1h8m-88 15h8m33 0h8m-3-1h8m4-6h8m-1 5h8m18-4h8m-62 16h8m-5-2h8m-6-4h8m-5-1h8m-8-1h8m-6 3h8m3 2h8m5 3h8m-4 0h8m-2-7h8m-82 14h8m-3-1h8m7 3h8m-5-1h8m9-6h8m12-1h8m-4 1h8m-8 0h8m13 7h8m-72 10h8m20-2h8m-2-2h8m1 4h8m10-5h8m-5 3h8m-130 9h8m13-2h8m20-3h8m-6 8h8m-1-4h8m-6 1h8m-8-3h8m-2-2h8m-8 4h8m3-4h8m13 5h8m3 0h8m-176 9h8m54 3h8m-3-4h8m28 2h8m71-5h8m-196 18h8m21-7h8m53 0h8m-5 6h8m-6 0h8m-5 1h8m-6 1h8m-4-8h8m39 2h8m5-1h8m8-2h8m-4 6h8m-3-2h8m-3-3h8m-5 0h8m-245 15h8m90-6h8m19 6h8m0-1h8m30 4h8m-8 0h8m-2-9h8m12 5h8m42-1h8m-4 3h8m14-7h8m1 5h8m-367 12h8m2 0h8m31 2h8m1 0h8m125-2h8m-4 1h8m-7-7h8m-4 3h8m-6 4h8m13-8h8m23 0h8m4 0h8m-7 5h8m-1 3h8m17-8h8m-1 7h8m-3-3h8m-4-3h8m11 1h8m-6 5h8m3-2h8m15 3h8m-421 6h8m215-1h8m-8 2h8m-6 0h8m-1-3h8m-1 5h8m-7 1h8m-1-4h8m26-1h8m2 1h8m17 1h8m-6-3h8m4-1h8m-6-1h8m-4 1h8m-3 7h8m1-8h8m1 9h8m-5-6h8m9 1h8m-8-4h8m24 9h8m-284 8h8m68-6h8m0 1h8m-7 0h8m-4 1h8m-3-3h8m29 5h8m74 3h8m-3-8h8m21 4h8m-5 5h8m-7-3h8m-6-4h8m17 0h8m-450 8h8m0 0h8m53 2h8m94 2h8m-2-3h8m-6 6h8m-6-1h8m24 3h8m6-2h8m14-5h8m-2 3h8m3-4h8m-8 5h8m-4 0h8m5-5h8m1 8h8m35 0h8m13-9h8m-1 8h8m-4-6h8m-5-2h8m13 8h8m24-4h8m-435 14h8m-4-5h8m65 0h8m65 5h8m1-4h8m47 4h8m-1-1h8m12-7h8m32 1h8m8 4h8m98-2h8m10 5h8m-430 6h8m187 3h8m-3-1h8m-7-1h8m-3 0h8m-5 1h8m-6-2h8m7-4h8m-4 0h8m-6 6h8m-5-5h8m-4-1h8m6 9h8m-8-6h8m-1-1h8m2 6h8m27-6h8m-2 6h8m-8-5h8m3 4h8m-4 2h8m-1-4h8m-4 1h8m-6-4h8m-4 6h8m14-5h8m9-2h8m27 5h8m-4-6h8m-418 16h8m55 0h8m14 0h8m-5 0h8m37-4h8m54 0h8m38 2h8m-4-1h8m28 2h8m7 1h8m-1-4h8m9-1h8m-338 14h8m15 2h8m-3 2h8m41 0h8m19-7h8m37 3h8m29 1h8m-7-3h8m-3 5h8m-8-4h8m-5 2h8m-1-6h8m-3 9h8m5-8h8m2 3h8m8 1h8m0-2h8m-2 6h8m16-2h8m1-5h8m-249 14h8m107 3h8m-5-2h8m-7-5h8m-7 6h8m-3-6h8m-4 0h8m-7 1h8m-7 3h8m-8-6h8m23 7h8m15-2h8m-3 3h8m-4-5h8m3 2h8m-6 1h8m-6-3h8m15 0h8m-232 10h8m52-2h8m21 7h8m4-2h8m2-4h8m-1 3h8m17 3h8m-5-8h8m4 0h8m-1 2h8m-7 1h8m-4 0h8m-5-3h8m-5 0h8m-6 3h8m-249 16h8m-7-1h8m15 1h8m38-5h8m36 3h8m32-6h8m-7 6h8m-4-3h8m0-2h8m-5 1h8m0-3h8m7 6h8m-5 2h8m-5 0h8m-4-6h8m-4 4h8m-8-4h8m-2 4h8m4-2h8m-234 9h8m35 0h8m20 5h8m53-4h8m-1 5h8m8-2h8m-6-7h8m0 4h8m9 4h8m-164 3h8m13 3h8m-7-2h8m10 1h8m30 6h8m6-4h8m-1-2h8m1 4h8m37-4h8m-5 1h8m-5-3h8m-199 10h8m-5 1h8m-7 3h8m17-2h8m-7-1h8m1 5h8m0-6h8m10 6h8m40-3h8m-2 4h8m6-5h8m-5-2h8m38 0h8m-78 9h8m-8 7h8m1-7h8m17 8h8m-5-2h8m4-3h8m-6 0h8m-178 10h8m5 0h8m17 2h8m54 0h8m-1-3h8m-6 4h8m22 0h8m5-3h8m-6-2h8m-3-1h8m-5 4h8m-104 12h8m9-4h8m1 3h8m-5-1h8m-3 2h8m-1-1h8m-3-5h8m-7 0h8m1 5h8m4 4h8m-143 8h8m-6-3h8m-7-3h8m-7 3h8m6 4h8m2 1h8m35-1h8m2-4h8m-2 4h8m-5-6h8m6-2h8m3 3h8m4 0h8m-134 12h8m-7-3h8m-5-2h8m65 9h8m7-5h8m-8-4h8m-1 8h8m10-3h8m-132 8h8m6 6h8m43-2h8m-6-7h8m-7 9h8m3-3h8m-7-4h8m-2 7h8m0-5h8m1 0h8m1-2h8m-1 0h8m-129 17h8m-5-6h8m-4 1h8m41 0h8m-3 5h8m7-7h8m-3 7h8m2 0h8m-4-7h8m-2-2h8m-110 11h8m12-1h8m15 9h8m14-2h8m6 2h8m5-6h8m-73 16h8m43-5h8m-87 11h8m-5 3h8m49-8h8m-4 14h8m-68 6h8m4 6h8m-4-2h8m-36 12h8m-4 3h8m10-3h8m15-6h8m-5 2h8m-35 8h8m9 0h8m-53 18h8m16-1h8m-26 8h8m-2 0h8"/><path stroke="#28ae80" d="M4838 2567h8m-2-3h8m-18 14h8m-2-1h8m7-3h8m-37 10h8m-6-4h8m8 7h8m-26 3h8m9 9h8m44-9h8m-75 18h8m2-5h8m-47 9h8m-3 5h8m31-6h8m27 0h8m49 0h8m-150 12h8m7-3h8m6 2h8m-64 16h8m4 1h8m-8-2h8m-7-7h8m27 3h8m-31 14h8m-47 10h8m21 1h8m64-8h8m47 4h8m-159 14h8m-5-3h8m111 4h8m-165 10h8m75-4h8m91-3h8m-209 17h8m7-8h8m-1 8h8m76-2h8m-5-3h8m2 0h8m-5 4h8m-139 6h8m78 1h8m1 3h8m-109 3h8m-3 2h8m29 1h8m-48 11h8m33-1h8m-3 1h8m-5 3h8m-4-8h8m-7 2h8m7 3h8m-112 7h8m49 5h8m7-3h8m-100 25h8m-4-4h8m7-4h8m-32 15h8m13-4h8m10 5h8m-74 19h8m25 9h8m-4-4h8m-72 13h8m-5 5h8m4-8h8m23 4h8m4-5h8m-67 17h8m-6-6h8m24 2h8m-52 12h8m-27 8h8m-28 18h8m-16 12h8m28-2h8m-52 10h8"/><path stroke="#7ccf6a" d="M4483 2629h8m13-1h8m-93 3h8m-4 5h8m-7-1h8m-8 1h8m-6-2h8m-6 1h8m-4 0h8m-8-2h8m1 0h8m-5 3h8m-8-5h8m-7 2h8m-3-2h8m-4 0h8m-8 3h8m-4-3h8m-7 3h8m-8 0h8m-6 1h8m-7-2h8m-3 0h8m-7 2h8m-7 2h8m-8-3h8m-8 2h8m-6-5h8m-8 6h8m-8-3h8m-6 3h8m-7-3h8m-7-1h8m-7-1h8m-8 2h8m-3 0h8m-6-1h8m-6 4h8m-8-6h8m-7 4h8m-8-3h8m-7-1h8m-6-1h8m-8 5h8m-7 1h8m-5-2h8m-6 0h8m-8-1h8m-6 2h8m-5-1h8m-5 0h8m-7-2h8m-5-2h8m-5 3h8m-4 2h8m-6 0h8m-7-2h8m-100 9h8m64-1h8"/></g>
<rect x="0" y="0" width="520" height="1.05" fill="#5a5a5a"/><rect x="0" y="0" width="1.1" height="612" fill="#4a4a4a"/><rect x="518.8" y="0" width="1.2" height="612" fill="#3c3c3c"/><rect x="0" y="610.5" width="520" height="1.5" fill="#3a3a3a"/>
<text x="7" y="16.5" font-size="11" fill="#111" font-weight="bold">A</text>
<text x="181.5" y="16.2" font-size="11" fill="#111" font-weight="bold">B</text>
<text x="278.3" y="16.6" font-size="11" fill="#111" font-weight="bold">C</text>
<text x="7.6" y="193.6" font-size="11" fill="#111" font-weight="bold">D</text>
<text x="183.5" y="193.5" font-size="11" fill="#111" font-weight="bold">E</text>
<text x="274" y="193.3" font-size="11" fill="#111" font-weight="bold">F</text>
<text x="7.2" y="365.2" font-size="11" fill="#111" font-weight="bold">G</text>
<text x="153.2" y="365.2" font-size="11" fill="#111" font-weight="bold">H</text>
<text x="302.6" y="365.6" font-size="11" fill="#111" font-weight="bold">I</text>
<text x="417.8" y="365.6" font-size="11" fill="#111" font-weight="bold">J</text>
<text x="48.6" y="497" font-size="11" fill="#111" font-weight="bold">K</text>
<text x="28.5" y="32.7" font-size="6.8" fill="#444" textLength="10.0" lengthAdjust="spacingAndGlyphs" stroke="#444" stroke-width="0.24">10k</text>
<text x="32" y="60.6" font-size="6.8" fill="#444" textLength="6.7" lengthAdjust="spacingAndGlyphs" stroke="#444" stroke-width="0.24">5k</text>
<text x="36.5" y="87.4" font-size="6.8" fill="#444" textLength="3.5" lengthAdjust="spacingAndGlyphs" stroke="#444" stroke-width="0.24">0</text>
<text x="33.5" y="113" font-size="6.8" fill="#444" textLength="9.5" lengthAdjust="spacingAndGlyphs" stroke="#444" stroke-width="0.24">−5k</text>
<text x="33.2" y="137" font-size="6.8" fill="#444" textLength="12.8" lengthAdjust="spacingAndGlyphs" stroke="#444" stroke-width="0.24">−10k</text>
<text x="34.3" y="156.5" font-size="6.8" fill="#444" textLength="14.2" lengthAdjust="spacingAndGlyphs" stroke="#444" stroke-width="0.24">−15k</text>
<text x="54.8" y="159.5" font-size="6.8" fill="#444" textLength="10.8" lengthAdjust="spacingAndGlyphs" stroke="#444" stroke-width="0.24">−5k</text>
<text x="81.8" y="159.5" font-size="6.8" fill="#444" textLength="2.7" lengthAdjust="spacingAndGlyphs" stroke="#444" stroke-width="0.24">0</text>
<text x="102.5" y="159.5" font-size="6.8" fill="#444" textLength="8.1" lengthAdjust="spacingAndGlyphs" stroke="#444" stroke-width="0.24">5k</text>
<text x="125.7" y="159.5" font-size="6.8" fill="#444" textLength="10.0" lengthAdjust="spacingAndGlyphs" stroke="#444" stroke-width="0.24">10k</text>
<text x="147.3" y="132.5" font-size="6.8" fill="#444" textLength="9.9" lengthAdjust="spacingAndGlyphs" stroke="#444" stroke-width="0.24">10k</text>
<text x="146.5" y="141.1" font-size="6.8" fill="#444" textLength="6.2" lengthAdjust="spacingAndGlyphs" stroke="#444" stroke-width="0.24">5k</text>
<text x="144.6" y="151.4" font-size="6.8" fill="#444" textLength="2.7" lengthAdjust="spacingAndGlyphs" stroke="#444" stroke-width="0.24">0</text>
<text x="16.6" y="84.7" font-size="8.4" fill="#333" textLength="13.3" lengthAdjust="spacingAndGlyphs" stroke="#333" stroke-width="0.24">FLE3</text>
<text x="84.5" y="172.1" font-size="8.4" fill="#333" textLength="14.3" lengthAdjust="spacingAndGlyphs" stroke="#333" stroke-width="0.24">FLE1</text>
<text x="153.2" y="148.7" font-size="8.4" fill="#333" textLength="12.9" lengthAdjust="spacingAndGlyphs" stroke="#333" stroke-width="0.24">FLE2</text>
<circle cx="122.2" cy="26.8" r="1.7" fill="#1c1c1c"/>
<text x="127.2" y="28.4" font-size="6.5" fill="#333" textLength="18.8" lengthAdjust="spacingAndGlyphs" stroke="#333" stroke-width="0.24">G0/G1</text>
<circle cx="122.2" cy="33.7" r="1.7" fill="#8a3212"/>
<text x="127.2" y="35.2" font-size="6.5" fill="#333" textLength="14.5" lengthAdjust="spacingAndGlyphs" stroke="#333" stroke-width="0.24">G1/S</text>
<circle cx="122.2" cy="40.4" r="1.7" fill="#d2691e"/>
<text x="127.2" y="42.0" font-size="6.5" fill="#333" textLength="3.4" lengthAdjust="spacingAndGlyphs" stroke="#333" stroke-width="0.24">S</text>
<circle cx="122.2" cy="47.1" r="1.7" fill="#eb9a48"/>
<text x="127.2" y="48.7" font-size="6.5" fill="#333" textLength="17.0" lengthAdjust="spacingAndGlyphs" stroke="#333" stroke-width="0.24">G2/M</text>
<text x="143.7" y="217.8" font-size="6.8" fill="#444" textLength="9.2" lengthAdjust="spacingAndGlyphs" stroke="#444" stroke-width="0.24">10k</text>
<text x="145.6" y="237.8" font-size="6.8" fill="#444" textLength="6.1" lengthAdjust="spacingAndGlyphs" stroke="#444" stroke-width="0.24">5k</text>
<text x="148.3" y="257.2" font-size="6.8" fill="#444" textLength="3.4" lengthAdjust="spacingAndGlyphs" stroke="#444" stroke-width="0.24">0</text>
<text x="147.8" y="281.2" font-size="6.8" fill="#444" textLength="9.7" lengthAdjust="spacingAndGlyphs" stroke="#444" stroke-width="0.24">−5k</text>
<text x="148.3" y="304" font-size="6.8" fill="#444" textLength="12.6" lengthAdjust="spacingAndGlyphs" stroke="#444" stroke-width="0.24">−10k</text>
<text x="149.5" y="327.7" font-size="6.8" fill="#444" textLength="13.7" lengthAdjust="spacingAndGlyphs" stroke="#444" stroke-width="0.24">−15k</text>
<text x="135.7" y="335" font-size="6.8" fill="#444" textLength="9.2" lengthAdjust="spacingAndGlyphs" stroke="#444" stroke-width="0.24">−5k</text>
<text x="22.1" y="336.4" font-size="6.8" fill="#444" textLength="9.5" lengthAdjust="spacingAndGlyphs" stroke="#444" stroke-width="0.24">10k</text>
<text x="42.9" y="334.2" font-size="6.8" fill="#444" textLength="7.5" lengthAdjust="spacingAndGlyphs" stroke="#444" stroke-width="0.24">5k</text>
<text x="61.2" y="331.5" font-size="6.8" fill="#444" textLength="4.1" lengthAdjust="spacingAndGlyphs" stroke="#444" stroke-width="0.24">0</text>
<text x="89" y="330.2" font-size="6.8" fill="#444" textLength="10" lengthAdjust="spacingAndGlyphs" stroke="#444" stroke-width="0.24">10k</text>
<text x="103.8" y="331.5" font-size="6.8" fill="#444" textLength="6.5" lengthAdjust="spacingAndGlyphs" stroke="#444" stroke-width="0.24">5k</text>
<text x="121" y="333.7" font-size="6.8" fill="#444" textLength="3.6" lengthAdjust="spacingAndGlyphs" stroke="#444" stroke-width="0.24">0</text>
<text x="158.6" y="262.2" font-size="8.4" fill="#333" textLength="14.4" lengthAdjust="spacingAndGlyphs" stroke="#333" stroke-width="0.24">FLE3</text>
<text x="57.2" y="344.5" font-size="8.4" fill="#333" textLength="12.6" lengthAdjust="spacingAndGlyphs" stroke="#333" stroke-width="0.24">FLE2</text>
<text x="111" y="344.5" font-size="8.4" fill="#333" textLength="13.6" lengthAdjust="spacingAndGlyphs" stroke="#333" stroke-width="0.24">FLE1</text>
<circle cx="41.9" cy="212.2" r="1.7" fill="#26141a"/>
<text x="47.1" y="214.39999999999998" font-size="6.5" fill="#333" textLength="18.7" lengthAdjust="spacingAndGlyphs" stroke="#333" stroke-width="0.24">G0/G1</text>
<circle cx="41.9" cy="219.3" r="1.7" fill="#b03636"/>
<text x="47.1" y="221.5" font-size="6.5" fill="#333" textLength="14.4" lengthAdjust="spacingAndGlyphs" stroke="#333" stroke-width="0.24">G1/S</text>
<circle cx="41.9" cy="226.3" r="1.7" fill="#d4821c"/>
<text x="47.1" y="228.5" font-size="6.5" fill="#333" textLength="3.5" lengthAdjust="spacingAndGlyphs" stroke="#333" stroke-width="0.24">S</text>
<circle cx="41.9" cy="233.2" r="1.7" fill="#e2b23e"/>
<text x="47.1" y="235.39999999999998" font-size="6.5" fill="#333" textLength="16.4" lengthAdjust="spacingAndGlyphs" stroke="#333" stroke-width="0.24">G2/M</text>
<defs>
<linearGradient id="vir" x1="0" y1="1" x2="0" y2="0">
<stop offset="0" stop-color="#440154"/><stop offset="0.25" stop-color="#3b528b"/><stop offset="0.5" stop-color="#21918c"/>
<stop offset="0.75" stop-color="#5ec962"/><stop offset="1" stop-color="#e9e86a"/></linearGradient>
<linearGradient id="kblue" x1="0" y1="0" x2="1" y2="1">
<stop offset="0" stop-color="#4f73c2"/><stop offset="0.6" stop-color="#7d9ad0"/><stop offset="1" stop-color="#c9cdd6"/></linearGradient>
</defs>
<rect x="335.4" y="30.8" width="2.2" height="21.5" fill="url(#vir)"/>
<text x="334.3" y="27.4" font-size="6" fill="#333" textLength="11.1" lengthAdjust="spacingAndGlyphs" stroke="#333" stroke-width="0.24">HLF</text>
<text x="338.6" y="34.3" font-size="5.6" fill="#333" stroke="#333" stroke-width="0.24">4</text>
<text x="338.6" y="43.3" font-size="5.6" fill="#333" stroke="#333" stroke-width="0.24">2</text>
<text x="338.6" y="53" font-size="5.6" fill="#333" stroke="#333" stroke-width="0.24">0</text>
<rect x="415.4" y="30.8" width="2.2" height="21.5" fill="url(#vir)"/>
<text x="415" y="27.3" font-size="6" fill="#333" textLength="21.2" lengthAdjust="spacingAndGlyphs" stroke="#333" stroke-width="0.24">INPP4B</text>
<text x="418.6" y="34.6" font-size="5.6" fill="#333" stroke="#333" stroke-width="0.24">4</text>
<text x="418.6" y="44.2" font-size="5.6" fill="#333" stroke="#333" stroke-width="0.24">2</text>
<text x="418.6" y="53" font-size="5.6" fill="#333" stroke="#333" stroke-width="0.24">0</text>
<rect x="494.5" y="30.8" width="2.2" height="21.4" fill="url(#vir)"/>
<text x="494.2" y="27.3" font-size="6" fill="#333" textLength="15.8" lengthAdjust="spacingAndGlyphs" stroke="#333" stroke-width="0.24">CYCS</text>
<text x="497.5" y="35.4" font-size="5.6" fill="#333" stroke="#333" stroke-width="0.24">3</text>
<text x="497.5" y="41.6" font-size="5.6" fill="#333" stroke="#333" stroke-width="0.24">2</text>
<text x="497.5" y="47.4" font-size="5.6" fill="#333" stroke="#333" stroke-width="0.24">1</text>
<text x="497.5" y="53.8" font-size="5.6" fill="#333" stroke="#333" stroke-width="0.24">0</text>
<rect x="289.8" y="218.3" width="2.2" height="21.9" fill="url(#vir)"/>
<text x="290.2" y="215.6" font-size="6" fill="#333" textLength="22.7" lengthAdjust="spacingAndGlyphs" stroke="#333" stroke-width="0.24">VPREB1</text>
<text x="293" y="224.6" font-size="5.6" fill="#333" stroke="#333" stroke-width="0.24">4</text>
<text x="293" y="232.8" font-size="5.6" fill="#333" stroke="#333" stroke-width="0.24">2</text>
<text x="293" y="241.3" font-size="5.6" fill="#333" stroke="#333" stroke-width="0.24">0</text>
<rect x="369.8" y="219" width="2.2" height="22" fill="url(#vir)"/>
<text x="369.8" y="215.3" font-size="6" fill="#333" textLength="14.7" lengthAdjust="spacingAndGlyphs" stroke="#333" stroke-width="0.24">MPO</text>
<text x="373.6" y="223.2" font-size="5.6" fill="#333" stroke="#333" stroke-width="0.24">8</text>
<text x="373.6" y="233.4" font-size="5.6" fill="#333" stroke="#333" stroke-width="0.24">4</text>
<text x="373.6" y="242" font-size="5.6" fill="#333" stroke="#333" stroke-width="0.24">0</text>
<rect x="448.3" y="218.5" width="2.2" height="21.3" fill="url(#vir)"/>
<text x="448" y="215.3" font-size="6" fill="#333" textLength="11.8" lengthAdjust="spacingAndGlyphs" stroke="#333" stroke-width="0.24">IRF8</text>
<text x="452" y="224.8" font-size="5.6" fill="#333" stroke="#333" stroke-width="0.24">4</text>
<text x="452" y="233.4" font-size="5.6" fill="#333" stroke="#333" stroke-width="0.24">2</text>
<text x="452" y="241.3" font-size="5.6" fill="#333" stroke="#333" stroke-width="0.24">0</text>
<text x="302.9" y="229" font-size="6.4" fill="#333" stroke="#333" stroke-width="0.24">B</text>
<text x="403.8" y="273" font-size="6.4" fill="#333" stroke="#333" stroke-width="0.24">N</text>
<text x="442.3" y="260.5" font-size="6.4" fill="#333" textLength="9.2" lengthAdjust="spacingAndGlyphs" stroke="#333" stroke-width="0.24">DC</text>
<text x="465.4" y="286.2" font-size="6.4" fill="#333" stroke="#333" stroke-width="0.24">M</text>
<circle cx="202.1" cy="134" r="1.25" fill="#111"/>
<text x="207" y="136.3" font-size="6.4" fill="#333" textLength="31.4" lengthAdjust="spacingAndGlyphs" stroke="#333" stroke-width="0.24">34+RA–C–</text>
<circle cx="245.6" cy="134" r="1.25" fill="#a9c3dc"/>
<text x="251.1" y="136.3" font-size="6.4" fill="#333" textLength="32.0" lengthAdjust="spacingAndGlyphs" stroke="#333" stroke-width="0.24">34+RA+C–</text>
<circle cx="290.7" cy="134" r="1.25" fill="#4a6fa8"/>
<text x="295.2" y="136.3" font-size="6.4" fill="#333" textLength="31.4" lengthAdjust="spacingAndGlyphs" stroke="#333" stroke-width="0.24">34–RA+C–</text>
<circle cx="333.8" cy="134" r="1.25" fill="#1f1f5a"/>
<text x="339.7" y="136.3" font-size="6.4" fill="#333" textLength="10.4" lengthAdjust="spacingAndGlyphs" stroke="#333" stroke-width="0.24">10+</text>
<circle cx="358.2" cy="134" r="1.25" fill="#c9a3b8"/>
<text x="363" y="136.3" font-size="6.4" fill="#333" textLength="20.7" lengthAdjust="spacingAndGlyphs" stroke="#333" stroke-width="0.24">34+C+</text>
<circle cx="391.5" cy="134" r="1.25" fill="#7a3a78"/>
<text x="396.4" y="136.3" font-size="6.4" fill="#333" textLength="19.0" lengthAdjust="spacingAndGlyphs" stroke="#333" stroke-width="0.24">34–C+</text>
<circle cx="423.5" cy="134" r="1.25" fill="#2e1035"/>
<text x="428.4" y="136.3" font-size="6.4" fill="#333" textLength="20.3" lengthAdjust="spacingAndGlyphs" stroke="#333" stroke-width="0.24">14/15+</text>
<circle cx="456.9" cy="134" r="1.25" fill="#9a1434"/>
<text x="461.8" y="136.3" font-size="6.4" fill="#333" textLength="30.4" lengthAdjust="spacingAndGlyphs" stroke="#333" stroke-width="0.24">34–RA–C–</text>
<circle cx="202.1" cy="307.2" r="1.25" fill="#111"/>
<text x="207" y="309.6" font-size="6.4" fill="#333" textLength="31.4" lengthAdjust="spacingAndGlyphs" stroke="#333" stroke-width="0.24">34+RA–C–</text>
<circle cx="245.6" cy="307.2" r="1.25" fill="#a9c3dc"/>
<text x="251.1" y="309.6" font-size="6.4" fill="#333" textLength="32.0" lengthAdjust="spacingAndGlyphs" stroke="#333" stroke-width="0.24">34+RA+C–</text>
<circle cx="290.7" cy="307.2" r="1.25" fill="#4a6fa8"/>
<text x="295.2" y="309.6" font-size="6.4" fill="#333" textLength="31.4" lengthAdjust="spacingAndGlyphs" stroke="#333" stroke-width="0.24">34–RA+C–</text>
<circle cx="333.8" cy="307.2" r="1.25" fill="#1f1f5a"/>
<text x="339.7" y="309.6" font-size="6.4" fill="#333" textLength="10.4" lengthAdjust="spacingAndGlyphs" stroke="#333" stroke-width="0.24">10+</text>
<circle cx="358.2" cy="307.2" r="1.25" fill="#c9a3b8"/>
<text x="363" y="309.6" font-size="6.4" fill="#333" textLength="20.7" lengthAdjust="spacingAndGlyphs" stroke="#333" stroke-width="0.24">34+C+</text>
<circle cx="391.5" cy="307.2" r="1.25" fill="#7a3a78"/>
<text x="396.4" y="309.6" font-size="6.4" fill="#333" textLength="19.0" lengthAdjust="spacingAndGlyphs" stroke="#333" stroke-width="0.24">34–C+</text>
<circle cx="423.5" cy="307.2" r="1.25" fill="#2e1035"/>
<text x="428.4" y="309.6" font-size="6.4" fill="#333" textLength="20.3" lengthAdjust="spacingAndGlyphs" stroke="#333" stroke-width="0.24">14/15+</text>
<circle cx="456.9" cy="307.2" r="1.25" fill="#9a1434"/>
<text x="461.8" y="309.6" font-size="6.4" fill="#333" textLength="30.4" lengthAdjust="spacingAndGlyphs" stroke="#333" stroke-width="0.24">34–RA–C–</text>
<polygon points="72.1,19.6 79,20.5 86.5,19.6 87.5,26.5 88.5,36.2 92.3,43.8 98.1,53.5 103.8,65 108.7,72.7 105.8,76.5 97,81 88.5,86.2 76.9,93.8 63.5,103.5 55.8,111.2 53.8,107.3 55.8,92 56.7,72.7 58.7,57.3 63.5,47.7 70.2,36.2 71.2,26.5" fill="none" stroke="#c8507a" stroke-width="1.0" stroke-dasharray="1.8 1.2" stroke-linejoin="round"/>
<text x="18.8" y="377.1" font-size="7" fill="#555" textLength="27" lengthAdjust="spacingAndGlyphs" stroke="#555" stroke-width="0.24">P-mix CB</text>
<line x1="32.8" y1="379.8" x2="32.8" y2="386.5" stroke="#111" stroke-width="0.9"/>
<path d="M30.999999999999996 386.0L34.599999999999994 386.0L32.8 389.2Z" fill="#111"/>
<rect x="26.1" y="399.6" width="15.8" height="3.9" rx="1" fill="#e48a92"/>
<rect x="26.1" y="396.8" width="15.8" height="3.1" fill="#e2e2e2"/>
<circle cx="31" cy="397.4" r="1.25" fill="#fff" stroke="#222" stroke-width="0.7"/><circle cx="33.4" cy="397.6" r="1.25" fill="#fff" stroke="#222" stroke-width="0.7"/><circle cx="35.8" cy="397.3" r="1.25" fill="#fff" stroke="#222" stroke-width="0.7"/><circle cx="32.2" cy="395.2" r="1.25" fill="#fff" stroke="#222" stroke-width="0.7"/><circle cx="34.6" cy="395" r="1.25" fill="#fff" stroke="#222" stroke-width="0.7"/><circle cx="36.6" cy="395.6" r="1.25" fill="#fff" stroke="#222" stroke-width="0.7"/><circle cx="33.5" cy="393" r="1.25" fill="#fff" stroke="#222" stroke-width="0.7"/><circle cx="31.2" cy="394.7" r="1.25" fill="#fff" stroke="#222" stroke-width="0.7"/>
<text x="26.9" y="410.6" font-size="6.8" fill="#4a5560" textLength="13" lengthAdjust="spacingAndGlyphs" stroke="#4a5560" stroke-width="0.24">LEM</text>
<text x="47.8" y="396.2" font-size="7" fill="#555" textLength="8.6" lengthAdjust="spacingAndGlyphs" stroke="#555" stroke-width="0.24">7 d</text>
<line x1="45.8" y1="399.8" x2="55.8" y2="399.8" stroke="#777" stroke-width="1.0"/>
<path d="M55.3 397.8L55.3 401.8L59.3 399.8Z" fill="#777"/>
<text x="64.2" y="401.4" font-size="6.3" fill="#111" font-weight="bold" textLength="32" lengthAdjust="spacingAndGlyphs">34+RA–C–</text>
<line x1="75.8" y1="403.8" x2="75.8" y2="410.1" stroke="#111" stroke-width="0.9"/>
<path d="M74.0 409.6L77.6 409.6L75.8 412.8Z" fill="#111"/>
<text x="80.7" y="412.9" font-size="7" fill="#555" textLength="15.5" lengthAdjust="spacingAndGlyphs" stroke="#555" stroke-width="0.24">CFSE</text>
<rect x="68.5" y="424.3" width="16.8" height="4.1" rx="1" fill="#e48a92"/>
<rect x="68.5" y="422.8" width="16.8" height="1.8" fill="#e2e2e2"/>
<circle cx="73.8" cy="422.3" r="1.5" fill="#2e8b3a" stroke="#154a1c" stroke-width="0.5"/><circle cx="76.4" cy="422.5" r="1.5" fill="#2e8b3a" stroke="#154a1c" stroke-width="0.5"/><circle cx="79.2" cy="422.2" r="1.5" fill="#2e8b3a" stroke="#154a1c" stroke-width="0.5"/><circle cx="75" cy="420" r="1.5" fill="#2e8b3a" stroke="#154a1c" stroke-width="0.5"/><circle cx="77.8" cy="419.8" r="1.5" fill="#2e8b3a" stroke="#154a1c" stroke-width="0.5"/><circle cx="80" cy="420.6" r="1.5" fill="#2e8b3a" stroke="#154a1c" stroke-width="0.5"/><circle cx="76.5" cy="418" r="1.5" fill="#2e8b3a" stroke="#154a1c" stroke-width="0.5"/><circle cx="74.2" cy="418.8" r="1.5" fill="#2e8b3a" stroke="#154a1c" stroke-width="0.5"/>
<text x="70.3" y="436.2" font-size="6.8" fill="#4a5560" textLength="12.1" lengthAdjust="spacingAndGlyphs" stroke="#4a5560" stroke-width="0.24">LEM</text>
<text x="98" y="421.5" font-size="7" fill="#555" textLength="6.9" lengthAdjust="spacingAndGlyphs" stroke="#555" stroke-width="0.24">6 d</text>
<line x1="87.6" y1="423.4" x2="116.7" y2="423.4" stroke="#777" stroke-width="1.0"/>
<path d="M116.2 421.4L116.2 425.4L120.2 423.4Z" fill="#777"/>
<circle cx="125.2" cy="425.8" r="1.7" fill="#2d2b50"/><circle cx="128" cy="426.2" r="1.7" fill="#2d2b50"/><circle cx="130.8" cy="425.6" r="1.7" fill="#2d2b50"/><circle cx="126.2" cy="423" r="1.7" fill="#2d2b50"/><circle cx="129.2" cy="422.8" r="1.7" fill="#2d2b50"/><circle cx="131.4" cy="423.6" r="1.7" fill="#2d2b50"/><circle cx="127.4" cy="421.2" r="1.7" fill="#2d2b50"/><circle cx="130.2" cy="421.1" r="1.7" fill="#2d2b50"/>
<text x="89.3" y="435.4" font-size="6.8" fill="#555" textLength="37.2" lengthAdjust="spacingAndGlyphs" stroke="#555" stroke-width="0.24">+DMSO (Ctr)</text>
<text x="89.3" y="443.2" font-size="6.8" fill="#52b2e6" textLength="38.9" lengthAdjust="spacingAndGlyphs" stroke="#52b2e6" stroke-width="0.24">+Wortmannin</text>
<text x="195.8" y="373.1" font-size="6.4" fill="#333" textLength="31.5" lengthAdjust="spacingAndGlyphs" stroke="#333" stroke-width="0.24">34+RA–C–</text>
<text x="229.6" y="373.1" font-size="6.4" fill="#333" textLength="21.1" lengthAdjust="spacingAndGlyphs" stroke="#333" stroke-width="0.24">RA+C–</text>
<text x="264.7" y="372.6" font-size="6.4" fill="#333" textLength="8.1" lengthAdjust="spacingAndGlyphs" stroke="#333" stroke-width="0.24">C+</text>
<line x1="198.6" y1="379.8" x2="198.6" y2="442.6" stroke="#111" stroke-width="0.9"/>
<line x1="195.6" y1="390" x2="198.6" y2="390" stroke="#111" stroke-width="0.8"/>
<text x="178" y="392.1" font-size="6.2" fill="#333" textLength="14.4" lengthAdjust="spacingAndGlyphs" stroke="#333" stroke-width="0.24">4000</text>
<line x1="195.6" y1="402.2" x2="198.6" y2="402.2" stroke="#111" stroke-width="0.8"/>
<text x="178" y="404.3" font-size="6.2" fill="#333" textLength="14.4" lengthAdjust="spacingAndGlyphs" stroke="#333" stroke-width="0.24">3000</text>
<line x1="195.6" y1="414.4" x2="198.6" y2="414.4" stroke="#111" stroke-width="0.8"/>
<text x="178" y="416.5" font-size="6.2" fill="#333" textLength="14.4" lengthAdjust="spacingAndGlyphs" stroke="#333" stroke-width="0.24">2000</text>
<line x1="195.6" y1="426.6" x2="198.6" y2="426.6" stroke="#111" stroke-width="0.8"/>
<text x="178" y="428.70000000000005" font-size="6.2" fill="#333" textLength="14.4" lengthAdjust="spacingAndGlyphs" stroke="#333" stroke-width="0.24">1000</text>
<line x1="195.6" y1="439" x2="198.6" y2="439" stroke="#111" stroke-width="0.8"/>
<text x="189.1" y="441.1" font-size="6.2" fill="#333" textLength="3.3" lengthAdjust="spacingAndGlyphs" stroke="#333" stroke-width="0.24">0</text>
<line x1="198.2" y1="442.2" x2="223.6" y2="442.2" stroke="#111" stroke-width="0.9"/>
<line x1="227.3" y1="442.2" x2="252.3" y2="442.2" stroke="#111" stroke-width="0.9"/>
<line x1="256.5" y1="442.2" x2="281.7" y2="442.2" stroke="#111" stroke-width="0.9"/>
<line x1="205.6" y1="442.2" x2="205.6" y2="444.8" stroke="#111" stroke-width="0.8"/>
<line x1="216.7" y1="442.2" x2="216.7" y2="444.8" stroke="#111" stroke-width="0.8"/>
<line x1="234.3" y1="442.2" x2="234.3" y2="444.8" stroke="#111" stroke-width="0.8"/>
<line x1="246.3" y1="442.2" x2="246.3" y2="444.8" stroke="#111" stroke-width="0.8"/>
<line x1="263.3" y1="442.2" x2="263.3" y2="444.8" stroke="#111" stroke-width="0.8"/>
<line x1="274.8" y1="442.2" x2="274.8" y2="444.8" stroke="#111" stroke-width="0.8"/>
<rect x="201.2" y="435.6" width="8.9" height="6.2" fill="#111"/>
<rect x="212.2" y="437.2" width="9.7" height="4.6" fill="#111"/>
<rect x="230" y="419.2" width="8.8" height="22.6" fill="#3e6cc0"/>
<path d="M234.4 419.2V417.6M232.8 417.6H236.0" stroke="#3e6cc0" stroke-width="0.8" fill="none"/>
<rect x="241.9" y="430.2" width="8.2" height="11.6" fill="#3e6cc0"/>
<path d="M246.0 430.2V429M244.4 429H247.6" stroke="#3e6cc0" stroke-width="0.8" fill="none"/>
<rect x="259.2" y="392.3" width="8.7" height="49.5" fill="#a2338f"/>
<path d="M263.54999999999995 392.3V388.6M261.94999999999993 388.6H265.15" stroke="#a2338f" stroke-width="0.8" fill="none"/>
<rect x="271" y="420" width="8.4" height="21.8" fill="#a2338f"/>
<path d="M275.2 420V418.5M273.59999999999997 418.5H276.8" stroke="#a2338f" stroke-width="0.8" fill="none"/>
<circle cx="203" cy="436.4" r="0.8" fill="none" stroke="#ddd" stroke-width="0.4"/>
<circle cx="205" cy="435.8" r="0.8" fill="none" stroke="#ddd" stroke-width="0.4"/>
<circle cx="207.5" cy="436.5" r="0.8" fill="none" stroke="#ddd" stroke-width="0.4"/>
<circle cx="209" cy="435.9" r="0.8" fill="none" stroke="#ddd" stroke-width="0.4"/>
<circle cx="214" cy="437.8" r="0.8" fill="none" stroke="#ddd" stroke-width="0.4"/>
<circle cx="216.5" cy="437.6" r="0.8" fill="none" stroke="#ddd" stroke-width="0.4"/>
<circle cx="219.5" cy="437.9" r="0.8" fill="none" stroke="#ddd" stroke-width="0.4"/>
<circle cx="232" cy="419.8" r="0.8" fill="none" stroke="#ddd" stroke-width="0.4"/>
<circle cx="235" cy="419" r="0.8" fill="none" stroke="#ddd" stroke-width="0.4"/>
<circle cx="237" cy="419.5" r="0.8" fill="none" stroke="#ddd" stroke-width="0.4"/>
<circle cx="232.8" cy="414.5" r="0.8" fill="none" stroke="#ddd" stroke-width="0.4"/>
<circle cx="243.5" cy="430.6" r="0.8" fill="none" stroke="#ddd" stroke-width="0.4"/>
<circle cx="246" cy="429.6" r="0.8" fill="none" stroke="#ddd" stroke-width="0.4"/>
<circle cx="248.5" cy="428.4" r="0.8" fill="none" stroke="#ddd" stroke-width="0.4"/>
<circle cx="247.6" cy="428" r="0.8" fill="none" stroke="#ddd" stroke-width="0.4"/>
<circle cx="261" cy="391" r="0.8" fill="none" stroke="#ddd" stroke-width="0.4"/>
<circle cx="263.5" cy="393.5" r="0.8" fill="none" stroke="#ddd" stroke-width="0.4"/>
<circle cx="266" cy="395.4" r="0.8" fill="none" stroke="#ddd" stroke-width="0.4"/>
<circle cx="262" cy="383.6" r="0.8" fill="none" stroke="#ddd" stroke-width="0.4"/>
<circle cx="264.8" cy="384.6" r="0.8" fill="none" stroke="#ddd" stroke-width="0.4"/>
<circle cx="273" cy="420.8" r="0.8" fill="none" stroke="#ddd" stroke-width="0.4"/>
<circle cx="275.5" cy="418.2" r="0.8" fill="none" stroke="#ddd" stroke-width="0.4"/>
<circle cx="277.6" cy="418.9" r="0.8" fill="none" stroke="#ddd" stroke-width="0.4"/>
<circle cx="278" cy="416.5" r="0.8" fill="none" stroke="#ddd" stroke-width="0.4"/>
<line x1="205" y1="431" x2="217.3" y2="431" stroke="#333" stroke-width="0.5"/>
<text x="210.05" y="431.6" font-size="4.6" fill="#222" stroke="#222" stroke-width="0.24">*</text>
<line x1="234.2" y1="410" x2="246.5" y2="410" stroke="#333" stroke-width="0.5"/>
<text x="239.25" y="410.6" font-size="4.6" fill="#222" stroke="#222" stroke-width="0.24">*</text>
<line x1="262.5" y1="379.1" x2="275" y2="379.1" stroke="#333" stroke-width="0.5"/>
<text x="267.65" y="379.70000000000005" font-size="4.6" fill="#222" stroke="#222" stroke-width="0.24">*</text>
<text transform="translate(162.3,410.6) rotate(-90)" font-size="8.1" fill="#333" stroke="#333" stroke-width="0.18" text-anchor="middle" textLength="45.6" lengthAdjust="spacingAndGlyphs">Output no./100</text>
<text transform="translate(172.4,410.4) rotate(-90)" font-size="8" fill="#333" stroke="#333" stroke-width="0.18" text-anchor="middle" textLength="31.4" lengthAdjust="spacingAndGlyphs">input cells</text>
<text transform="translate(207.1,451.5) rotate(-45)" font-size="6.4" fill="#333" stroke="#333" stroke-width="0.2" text-anchor="end" textLength="9" lengthAdjust="spacingAndGlyphs">Ctr</text>
<text transform="translate(235.8,451.5) rotate(-45)" font-size="6.4" fill="#333" stroke="#333" stroke-width="0.2" text-anchor="end" textLength="9" lengthAdjust="spacingAndGlyphs">Ctr</text>
<text transform="translate(264.8,451.5) rotate(-45)" font-size="6.4" fill="#333" stroke="#333" stroke-width="0.2" text-anchor="end" textLength="9" lengthAdjust="spacingAndGlyphs">Ctr</text>
<text transform="translate(219.89999999999998,451.4) rotate(-45)" font-size="6.4" fill="#52b2e6" stroke="#52b2e6" stroke-width="0.15" text-anchor="end" textLength="36.5" lengthAdjust="spacingAndGlyphs">Wortmannin</text>
<text transform="translate(249.5,451.4) rotate(-45)" font-size="6.4" fill="#52b2e6" stroke="#52b2e6" stroke-width="0.15" text-anchor="end" textLength="36.5" lengthAdjust="spacingAndGlyphs">Wortmannin</text>
<text transform="translate(278.0,451.4) rotate(-45)" font-size="6.4" fill="#52b2e6" stroke="#52b2e6" stroke-width="0.15" text-anchor="end" textLength="36.5" lengthAdjust="spacingAndGlyphs">Wortmannin</text>
<text x="349.6" y="379.2" font-size="8.8" fill="#222" textLength="35" lengthAdjust="spacingAndGlyphs" stroke="#222" stroke-width="0.24">34+RA–C–</text>
<path d="M340.4 383.6V428.3H394.4" stroke="#111" stroke-width="1" fill="none"/>
<path d="M337.79999999999995 431.40H340.4M337.79999999999995 425.23H340.4M337.79999999999995 421.62H340.4M337.79999999999995 419.06H340.4M337.79999999999995 417.07H340.4M337.79999999999995 415.45H340.4M337.79999999999995 414.08H340.4M337.79999999999995 412.89H340.4M337.79999999999995 411.84H340.4M337.79999999999995 410.90H340.4M337.79999999999995 404.43H340.4M337.79999999999995 400.64H340.4M337.79999999999995 397.96H340.4M337.79999999999995 395.87H340.4M337.79999999999995 394.17H340.4M337.79999999999995 392.73H340.4M337.79999999999995 391.48H340.4M337.79999999999995 390.38H340.4M337.79999999999995 389.40H340.4M337.79999999999995 382.93H340.4M337.79999999999995 379.14H340.4M337.79999999999995 376.46H340.4M337.79999999999995 374.37H340.4M337.79999999999995 372.67H340.4M337.79999999999995 371.23H340.4M337.79999999999995 369.98H340.4M337.79999999999995 368.88H340.4" stroke="#111" stroke-width="0.85" fill="none"/>
<rect x="336" y="366" width="6" height="17.5" fill="#fff"/>
<text x="325" y="390.6" font-size="6.6" fill="#333" textLength="9.6" lengthAdjust="spacingAndGlyphs" stroke="#333" stroke-width="0.24">100</text>
<text x="327.9" y="412.7" font-size="6.6" fill="#333" textLength="5.8" lengthAdjust="spacingAndGlyphs" stroke="#333" stroke-width="0.24">10</text>
<line x1="344.2" y1="428.3" x2="344.2" y2="430.8" stroke="#111" stroke-width="0.7"/>
<text x="344.2" y="440.6" font-size="6.8" fill="#333" text-anchor="middle" stroke="#333" stroke-width="0.24">1</text>
<line x1="351.9" y1="428.3" x2="351.9" y2="430.8" stroke="#111" stroke-width="0.7"/>
<text x="351.9" y="440.6" font-size="6.8" fill="#333" text-anchor="middle" stroke="#333" stroke-width="0.24">2</text>
<line x1="360.6" y1="428.3" x2="360.6" y2="430.8" stroke="#111" stroke-width="0.7"/>
<text x="360.6" y="440.6" font-size="6.8" fill="#333" text-anchor="middle" stroke="#333" stroke-width="0.24">3</text>
<line x1="368.3" y1="428.3" x2="368.3" y2="430.8" stroke="#111" stroke-width="0.7"/>
<text x="368.3" y="440.6" font-size="6.8" fill="#333" text-anchor="middle" stroke="#333" stroke-width="0.24">4</text>
<line x1="376.5" y1="428.3" x2="376.5" y2="430.8" stroke="#111" stroke-width="0.7"/>
<text x="376.5" y="440.6" font-size="6.8" fill="#333" text-anchor="middle" stroke="#333" stroke-width="0.24">5</text>
<line x1="384.6" y1="428.3" x2="384.6" y2="430.8" stroke="#111" stroke-width="0.7"/>
<text x="384.6" y="440.6" font-size="6.8" fill="#333" text-anchor="middle" stroke="#333" stroke-width="0.24">6</text>
<line x1="392.9" y1="428.3" x2="392.9" y2="430.8" stroke="#111" stroke-width="0.7"/>
<text x="392.9" y="440.6" font-size="6.8" fill="#333" text-anchor="middle" stroke="#333" stroke-width="0.24">7</text>
<text x="346.2" y="452.7" font-size="8" fill="#333" textLength="45.7" lengthAdjust="spacingAndGlyphs" stroke="#333" stroke-width="0.24">No. of divisions</text>
<text x="352.3" y="461.7" font-size="8" fill="#333" textLength="32.3" lengthAdjust="spacingAndGlyphs" stroke="#333" stroke-width="0.24">completed</text>
<text transform="translate(308.3,405.5) rotate(-90)" font-size="7.6" fill="#333" stroke="#333" stroke-width="0.18" text-anchor="middle" textLength="35.6" lengthAdjust="spacingAndGlyphs">Output cell</text>
<text transform="translate(315.4,405.5) rotate(-90)" font-size="7.2" fill="#333" stroke="#333" stroke-width="0.18" text-anchor="middle" textLength="24.2" lengthAdjust="spacingAndGlyphs">number</text>
<polyline points="344.2,421.3 351.9,405 360.6,397 368.3,393.5 376.5,397.7 384.6,409.4 392.9,419.4" fill="none" stroke="#5ab4e0" stroke-width="0.9"/>
<polyline points="344.2,422.3 351.9,405 360.6,395 368.3,388.7 376.5,389 384.6,398.8 392.9,406" fill="none" stroke="#222" stroke-width="0.9"/>
<line x1="368.3" y1="388.7" x2="376.5" y2="389" stroke="#c0392b" stroke-width="0.8"/>
<circle cx="344.2" cy="421.3" r="1" fill="#5ab4e0"/>
<circle cx="351.9" cy="405" r="1" fill="#5ab4e0"/>
<circle cx="360.6" cy="397" r="1" fill="#5ab4e0"/>
<circle cx="368.3" cy="393.5" r="1" fill="#5ab4e0"/>
<circle cx="376.5" cy="397.7" r="1" fill="#5ab4e0"/>
<circle cx="384.6" cy="409.4" r="1" fill="#5ab4e0"/>
<circle cx="392.9" cy="419.4" r="1" fill="#5ab4e0"/>
<circle cx="344.2" cy="422.3" r="1" fill="#222"/>
<circle cx="351.9" cy="405" r="1" fill="#222"/>
<circle cx="360.6" cy="395" r="1" fill="#222"/>
<circle cx="368.3" cy="388.7" r="1" fill="#222"/>
<circle cx="376.5" cy="389" r="1" fill="#222"/>
<circle cx="384.6" cy="398.8" r="1" fill="#222"/>
<circle cx="392.9" cy="406" r="1" fill="#222"/>
<text x="359.40000000000003" y="394.0" font-size="4.5" fill="#333" stroke="#333" stroke-width="0.24">*</text>
<text x="367.1" y="387.2" font-size="4.5" fill="#333" stroke="#333" stroke-width="0.24">*</text>
<text x="375.3" y="387.59999999999997" font-size="4.5" fill="#333" stroke="#333" stroke-width="0.24">*</text>
<text x="383.40000000000003" y="397.8" font-size="4.5" fill="#333" stroke="#333" stroke-width="0.24">*</text>
<text x="391.7" y="404.2" font-size="4.5" fill="#333" stroke="#333" stroke-width="0.24">*</text>
<line x1="328.8" y1="469.4" x2="333.8" y2="469.4" stroke="#111" stroke-width="0.8"/><circle cx="331.3" cy="469.4" r="0.9" fill="#111"/>
<text x="336.5" y="472" font-size="6.4" fill="#333" textLength="9.7" lengthAdjust="spacingAndGlyphs" stroke="#333" stroke-width="0.24">Ctr</text>
<line x1="352.9" y1="469.4" x2="357.4" y2="469.4" stroke="#5ab4e0" stroke-width="0.8"/><circle cx="355.1" cy="469.4" r="0.9" fill="#5ab4e0"/>
<text x="360.2" y="472" font-size="6.4" fill="#333" textLength="36" lengthAdjust="spacingAndGlyphs" stroke="#333" stroke-width="0.24">Wortmannin</text>
<text x="472.4" y="378.5" font-size="8.8" fill="#222" textLength="30.7" lengthAdjust="spacingAndGlyphs" stroke="#222" stroke-width="0.24">Total 34–</text>
<path d="M460.1 384.4V428.3H511.6" stroke="#111" stroke-width="1" fill="none"/>
<path d="M457.5 426.50H460.1M457.5 423.13H460.1M457.5 421.16H460.1M457.5 419.76H460.1M457.5 418.67H460.1M457.5 417.78H460.1M457.5 417.03H460.1M457.5 416.39H460.1M457.5 415.81H460.1M457.5 415.30H460.1M457.5 411.93H460.1M457.5 409.96H460.1M457.5 408.56H460.1M457.5 407.47H460.1M457.5 406.58H460.1M457.5 405.83H460.1M457.5 405.19H460.1M457.5 404.61H460.1M457.5 404.10H460.1M457.5 400.73H460.1M457.5 398.76H460.1M457.5 397.36H460.1M457.5 396.27H460.1M457.5 395.38H460.1M457.5 394.63H460.1M457.5 393.99H460.1M457.5 393.41H460.1M457.5 392.90H460.1M457.5 389.53H460.1M457.5 387.56H460.1M457.5 386.16H460.1M457.5 385.07H460.1M457.5 384.18H460.1M457.5 383.43H460.1M457.5 382.79H460.1M457.5 382.21H460.1" stroke="#111" stroke-width="0.85" fill="none"/>
<rect x="456" y="376" width="6" height="8.2" fill="#fff"/>
<text x="439.6" y="395.2" font-size="6.6" fill="#333" textLength="13.3" lengthAdjust="spacingAndGlyphs" stroke="#333" stroke-width="0.24">1000</text>
<text x="443.4" y="406.2" font-size="6.6" fill="#333" textLength="9.6" lengthAdjust="spacingAndGlyphs" stroke="#333" stroke-width="0.24">100</text>
<text x="446.6" y="417.2" font-size="6.6" fill="#333" textLength="5.8" lengthAdjust="spacingAndGlyphs" stroke="#333" stroke-width="0.24">10</text>
<text x="449.8" y="428.4" font-size="6.6" fill="#333" stroke="#333" stroke-width="0.24">1</text>
<line x1="462.9" y1="428.3" x2="462.9" y2="430.8" stroke="#111" stroke-width="0.7"/>
<text x="462.9" y="439.6" font-size="6.8" fill="#333" text-anchor="middle" stroke="#333" stroke-width="0.24">1</text>
<line x1="470.3" y1="428.3" x2="470.3" y2="430.8" stroke="#111" stroke-width="0.7"/>
<text x="470.3" y="439.6" font-size="6.8" fill="#333" text-anchor="middle" stroke="#333" stroke-width="0.24">2</text>
<line x1="478.1" y1="428.3" x2="478.1" y2="430.8" stroke="#111" stroke-width="0.7"/>
<text x="478.1" y="439.6" font-size="6.8" fill="#333" text-anchor="middle" stroke="#333" stroke-width="0.24">3</text>
<line x1="485.7" y1="428.3" x2="485.7" y2="430.8" stroke="#111" stroke-width="0.7"/>
<text x="485.7" y="439.6" font-size="6.8" fill="#333" text-anchor="middle" stroke="#333" stroke-width="0.24">4</text>
<line x1="493.6" y1="428.3" x2="493.6" y2="430.8" stroke="#111" stroke-width="0.7"/>
<text x="493.6" y="439.6" font-size="6.8" fill="#333" text-anchor="middle" stroke="#333" stroke-width="0.24">5</text>
<line x1="501.4" y1="428.3" x2="501.4" y2="430.8" stroke="#111" stroke-width="0.7"/>
<text x="501.4" y="439.6" font-size="6.8" fill="#333" text-anchor="middle" stroke="#333" stroke-width="0.24">6</text>
<line x1="509" y1="428.3" x2="509" y2="430.8" stroke="#111" stroke-width="0.7"/>
<text x="509" y="439.6" font-size="6.8" fill="#333" text-anchor="middle" stroke="#333" stroke-width="0.24">7</text>
<text x="462.9" y="452.3" font-size="8" fill="#333" textLength="46.5" lengthAdjust="spacingAndGlyphs" stroke="#333" stroke-width="0.24">No. of divisions</text>
<text x="469.7" y="460.8" font-size="8" fill="#333" textLength="32.3" lengthAdjust="spacingAndGlyphs" stroke="#333" stroke-width="0.24">completed</text>
<text transform="translate(424.3,405.3) rotate(-90)" font-size="7.6" fill="#333" stroke="#333" stroke-width="0.18" text-anchor="middle" textLength="34" lengthAdjust="spacingAndGlyphs">Output cell</text>
<text transform="translate(433.6,405.6) rotate(-90)" font-size="7.2" fill="#333" stroke="#333" stroke-width="0.18" text-anchor="middle" textLength="24.2" lengthAdjust="spacingAndGlyphs">number</text>
<polygon points="462.9,422.0 470.3,415.0 478.1,408.59999999999997 485.7,400.8 493.6,393.8 501.4,390.2 509,386.59999999999997 509,395.5 501.4,397.2 493.6,400.4 485.7,406.7 478.1,413 470.3,418.8 462.9,426.8" fill="#cfe8f5"/>
<polyline points="462.9,424.8 470.3,416.8 478.1,411 485.7,404.7 493.6,398.4 501.4,395.2 509,393.5" fill="none" stroke="#5ab4e0" stroke-width="0.9"/>
<polyline points="462.9,423.8 470.3,416.8 478.1,410.4 485.7,402.6 493.6,395.6 501.4,392 509,388.4" fill="none" stroke="#222" stroke-width="0.9"/>
<circle cx="462.9" cy="424.8" r="1" fill="#5ab4e0"/>
<circle cx="470.3" cy="416.8" r="1" fill="#5ab4e0"/>
<circle cx="478.1" cy="411" r="1" fill="#5ab4e0"/>
<circle cx="485.7" cy="404.7" r="1" fill="#5ab4e0"/>
<circle cx="493.6" cy="398.4" r="1" fill="#5ab4e0"/>
<circle cx="501.4" cy="395.2" r="1" fill="#5ab4e0"/>
<circle cx="509" cy="393.5" r="1" fill="#5ab4e0"/>
<circle cx="462.9" cy="423.8" r="1" fill="#222"/>
<circle cx="470.3" cy="416.8" r="1" fill="#222"/>
<circle cx="478.1" cy="410.4" r="1" fill="#222"/>
<circle cx="485.7" cy="402.6" r="1" fill="#222"/>
<circle cx="493.6" cy="395.6" r="1" fill="#222"/>
<circle cx="501.4" cy="392" r="1" fill="#222"/>
<circle cx="509" cy="388.4" r="1" fill="#222"/>
<text x="484.5" y="401.2" font-size="4.5" fill="#333" stroke="#333" stroke-width="0.24">*</text>
<text x="492.40000000000003" y="394.40000000000003" font-size="4.5" fill="#333" stroke="#333" stroke-width="0.24">*</text>
<text x="500.2" y="390.6" font-size="4.5" fill="#333" stroke="#333" stroke-width="0.24">*</text>
<text x="507.8" y="386.40000000000003" font-size="4.5" fill="#333" stroke="#333" stroke-width="0.24">*</text>
<line x1="446.4" y1="469.7" x2="451.6" y2="469.7" stroke="#111" stroke-width="0.8"/><circle cx="449" cy="469.7" r="0.9" fill="#111"/>
<text x="454.2" y="472" font-size="6.4" fill="#333" textLength="8.7" lengthAdjust="spacingAndGlyphs" stroke="#333" stroke-width="0.24">Ctr</text>
<line x1="468.9" y1="469.7" x2="474.1" y2="469.7" stroke="#5ab4e0" stroke-width="0.8"/><circle cx="471.5" cy="469.7" r="0.9" fill="#5ab4e0"/>
<text x="477.6" y="472" font-size="6.4" fill="#333" textLength="35.1" lengthAdjust="spacingAndGlyphs" stroke="#333" stroke-width="0.24">Wortmannin</text>
<text x="64.5" y="514.5" font-size="6.5" fill="#444" textLength="60.5" lengthAdjust="spacingAndGlyphs" stroke="#444" stroke-width="0.24">CD34+CD38med CB</text>
<path d="M120.25 554.57A26.3 26.3 0 1 1 95.50 523.73" fill="none" stroke="#cbcbcb" stroke-width="5.1"/>
<path d="M99.59 524.23A26.3 26.3 0 0 1 120.08 555.47" fill="none" stroke="url(#kblue)" stroke-width="5.1"/>
<path d="M95.67 519.78L98.92 524.10L95.32 527.67Z" fill="#cbcbcb"/>
<circle cx="94.3" cy="548.6" r="4" fill="#111"/>
<text x="84.2" y="560.8" font-size="6.3" fill="#333" textLength="19.5" lengthAdjust="spacingAndGlyphs" stroke="#333" stroke-width="0.24">RA–C–</text>
<line x1="128.1" y1="549.2" x2="205.9" y2="549.2" stroke="#111" stroke-width="0.9"/>
<path d="M205.4 546.8000000000001L205.4 551.6L210.4 549.2Z" fill="#111"/>
<path d="M241.56 530.82A19.7 19.7 0 1 1 235.61 530.11" fill="none" stroke="#cbcbcb" stroke-width="4.4"/>
<path d="M235.49 526.51L240.56 530.57L235.74 533.71Z" fill="#cbcbcb"/>
<circle cx="236.1" cy="549.2" r="4.3" fill="#111"/>
<text x="225.4" y="561.5" font-size="6.3" fill="#333" textLength="19.4" lengthAdjust="spacingAndGlyphs" stroke="#333" stroke-width="0.24">RA–C–</text>
<text x="136.2" y="568.5" font-size="6.3" fill="#222" textLength="59.7" lengthAdjust="spacingAndGlyphs" stroke="#222" stroke-width="0.24">Cell cycle shortening</text>
<text x="138.3" y="581.4" font-size="6.3" fill="#222" textLength="54.9" lengthAdjust="spacingAndGlyphs" stroke="#222" stroke-width="0.24">Self-renewal genes</text>
<text x="146.4" y="594" font-size="6.3" fill="#222" textLength="39.6" lengthAdjust="spacingAndGlyphs" stroke="#222" stroke-width="0.24">PI3K pathway</text>
<line x1="202.9" y1="571" x2="202.9" y2="582.3" stroke="#2b3a8f" stroke-width="0.8"/>
<path d="M201.4 581.8L204.4 581.8L202.9 584.8Z" fill="#2b3a8f"/>
<line x1="195.4" y1="596.8" x2="195.4" y2="585.7" stroke="#b3202f" stroke-width="0.8"/>
<path d="M193.9 586.2L196.9 586.2L195.4 583.2Z" fill="#b3202f"/>
<line x1="333.9" y1="555.5" x2="333.9" y2="543.8" stroke="#b3202f" stroke-width="0.8"/>
<path d="M332.4 544.3L335.4 544.3L333.9 541.3Z" fill="#b3202f"/>
<text x="269" y="552.7" font-size="6.3" fill="#222" textLength="58.7" lengthAdjust="spacingAndGlyphs" stroke="#222" stroke-width="0.24">Lineage-specific TFs</text>
<line x1="260.4" y1="540.6" x2="335.44" y2="521.51" stroke="#111" stroke-width="0.9"/>
<path d="M335.52 523.86L334.39 519.40L339.8 520.4Z" fill="#111"/>
<line x1="260.4" y1="558.1" x2="335.45" y2="577.95" stroke="#111" stroke-width="0.9"/>
<path d="M334.38 580.05L335.55 575.60L339.8 579.1Z" fill="#111"/>
<circle cx="350.6" cy="515.8" r="4" fill="#8fb6e2" stroke="#2a3f6a" stroke-width="0.6"/>
<text x="340.6" y="527.1" font-size="6.2" fill="#333" textLength="16.7" lengthAdjust="spacingAndGlyphs" stroke="#333" stroke-width="0.24">RA+C–</text>
<circle cx="350.6" cy="581" r="4.2" fill="#dba0c6" stroke="#5a2a4a" stroke-width="0.6"/>
<text x="346" y="593" font-size="6.2" fill="#333" textLength="7.3" lengthAdjust="spacingAndGlyphs" stroke="#333" stroke-width="0.24">C+</text>
<line x1="360.4" y1="513.3" x2="403.24" y2="502.32" stroke="#111" stroke-width="0.9"/>
<path d="M403.33 504.67L402.19 500.21L407.6 501.2Z" fill="#111"/>
<line x1="360.4" y1="578.7" x2="403.25" y2="567.44" stroke="#111" stroke-width="0.9"/>
<path d="M403.35 569.79L402.18 565.35L407.6 566.3Z" fill="#111"/>
<line x1="360.4" y1="586.8" x2="403.22" y2="597.05" stroke="#111" stroke-width="0.9"/>
<path d="M402.20 599.17L403.27 594.70L407.6 598.1Z" fill="#111"/>
<circle cx="417.7" cy="500.3" r="4.3" fill="#2b2a86" stroke="#151545" stroke-width="0.6"/>
<circle cx="417.7" cy="562.5" r="4.3" fill="#9b2a9a" stroke="#4a1048" stroke-width="0.6"/>
<circle cx="417.8" cy="600.8" r="4.2" fill="#f07020" stroke="#8a3a10" stroke-width="0.6"/>
<text x="425.5" y="503.3" font-size="6.3" fill="#333" textLength="46.6" lengthAdjust="spacingAndGlyphs" stroke="#333" stroke-width="0.24">B/T lymphocyte</text>
<text x="425.5" y="565.8" font-size="6.3" fill="#333" textLength="41.2" lengthAdjust="spacingAndGlyphs" stroke="#333" stroke-width="0.24">Monocyte/DC</text>
<text x="425.5" y="604.8" font-size="6.3" fill="#333" textLength="31.8" lengthAdjust="spacingAndGlyphs" stroke="#333" stroke-width="0.24">Neutrophil</text>
</svg></body></html>
